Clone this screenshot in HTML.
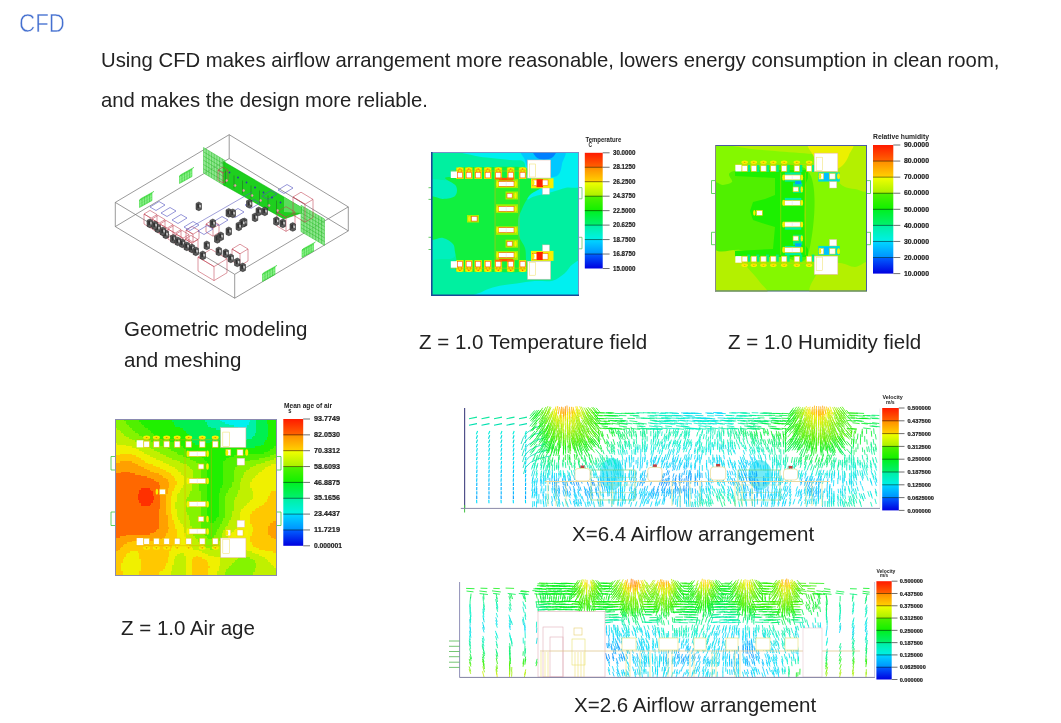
<!DOCTYPE html>
<html><head><meta charset="utf-8">
<style>
html,body{margin:0;padding:0;background:#fff;width:1061px;height:723px;overflow:hidden;position:relative}
.t{position:absolute;font-family:"Liberation Sans",Arial,sans-serif;font-size:20.5px;line-height:20px;color:#222;white-space:nowrap}
.p{font-size:20.3px}
#title{left:19px;top:10.8px;font-size:25px;line-height:25px;color:#4570d0;transform-origin:0 0;transform:scaleX(0.895);-webkit-text-stroke:0.5px #fff}
svg{position:absolute;left:0;top:0}
</style></head><body>
<svg width="1061" height="723" viewBox="0 0 1061 723" font-family="Liberation Sans, Arial, sans-serif">
<defs><linearGradient id="lg" x1="0" y1="0" x2="0" y2="1"><stop offset="0.0000" stop-color="#ff1a00"/><stop offset="0.1249" stop-color="#ff6400"/><stop offset="0.1250" stop-color="#ff8c00"/><stop offset="0.2499" stop-color="#ffd200"/><stop offset="0.2500" stop-color="#f4ff00"/><stop offset="0.3749" stop-color="#a8f000"/><stop offset="0.3750" stop-color="#50f000"/><stop offset="0.4999" stop-color="#10f000"/><stop offset="0.5000" stop-color="#00f020"/><stop offset="0.6249" stop-color="#00f070"/><stop offset="0.6250" stop-color="#00f0a0"/><stop offset="0.7499" stop-color="#00f0e8"/><stop offset="0.7500" stop-color="#00d8ff"/><stop offset="0.8749" stop-color="#0090ff"/><stop offset="0.8750" stop-color="#0060ff"/><stop offset="0.9999" stop-color="#0000e0"/></linearGradient><clipPath id="ctemp"><rect x="431" y="152" width="148" height="144"/></clipPath><clipPath id="chum"><rect x="715" y="145" width="152" height="146.5"/></clipPath><clipPath id="cage"><rect x="115" y="419" width="162" height="157"/></clipPath></defs>
<line x1="229.2" y1="134.7" x2="115.3" y2="202.4" stroke="#707070" stroke-width="0.7"/>
<line x1="115.3" y1="202.4" x2="234.7" y2="274.3" stroke="#707070" stroke-width="0.7"/>
<line x1="234.7" y1="274.3" x2="348.3" y2="206.9" stroke="#707070" stroke-width="0.7"/>
<line x1="348.3" y1="206.9" x2="229.2" y2="134.7" stroke="#707070" stroke-width="0.7"/>
<line x1="115.3" y1="202.4" x2="115.3" y2="226.6" stroke="#707070" stroke-width="0.7"/>
<line x1="234.7" y1="274.3" x2="234.7" y2="298.2" stroke="#707070" stroke-width="0.7"/>
<line x1="348.3" y1="206.9" x2="348.3" y2="230.9" stroke="#707070" stroke-width="0.7"/>
<line x1="229.2" y1="134.7" x2="229.2" y2="158.5" stroke="#707070" stroke-width="0.7"/>
<line x1="115.3" y1="226.6" x2="234.7" y2="298.2" stroke="#707070" stroke-width="0.7"/>
<line x1="234.7" y1="298.2" x2="348.3" y2="230.9" stroke="#707070" stroke-width="0.7"/>
<line x1="229.2" y1="158.5" x2="115.3" y2="226.6" stroke="#707070" stroke-width="0.7"/>
<line x1="229.2" y1="158.5" x2="348.3" y2="230.9" stroke="#707070" stroke-width="0.7"/>
<polygon points="139.5,200.0 152.0,193.1 152.0,200.6 139.5,207.5" fill="#40e840" stroke="#20d020" stroke-width="0.5" fill-opacity="0.7"/>
<polygon points="139.5,200.0 141.5,198.2 154.0,191.3 152.0,193.1" fill="#80f080" stroke="#20d020" stroke-width="0.4" fill-opacity="0.8"/>
<line x1="139.5" y1="202.6" x2="152.0" y2="195.8" stroke="#a0f0a0" stroke-width="0.5"/>
<line x1="139.5" y1="205.2" x2="152.0" y2="198.4" stroke="#a0f0a0" stroke-width="0.5"/>
<line x1="142.0" y1="198.6" x2="142.0" y2="206.1" stroke="#10b010" stroke-width="0.35"/>
<line x1="144.5" y1="197.2" x2="144.5" y2="204.8" stroke="#10b010" stroke-width="0.35"/>
<line x1="147.0" y1="195.9" x2="147.0" y2="203.4" stroke="#10b010" stroke-width="0.35"/>
<line x1="149.5" y1="194.5" x2="149.5" y2="202.0" stroke="#10b010" stroke-width="0.35"/>
<polygon points="179.5,176.0 192.0,169.1 192.0,176.6 179.5,183.5" fill="#40e840" stroke="#20d020" stroke-width="0.5" fill-opacity="0.7"/>
<polygon points="179.5,176.0 181.5,174.2 194.0,167.3 192.0,169.1" fill="#80f080" stroke="#20d020" stroke-width="0.4" fill-opacity="0.8"/>
<line x1="179.5" y1="178.6" x2="192.0" y2="171.8" stroke="#a0f0a0" stroke-width="0.5"/>
<line x1="179.5" y1="181.2" x2="192.0" y2="174.4" stroke="#a0f0a0" stroke-width="0.5"/>
<line x1="182.0" y1="174.6" x2="182.0" y2="182.1" stroke="#10b010" stroke-width="0.35"/>
<line x1="184.5" y1="173.2" x2="184.5" y2="180.8" stroke="#10b010" stroke-width="0.35"/>
<line x1="187.0" y1="171.9" x2="187.0" y2="179.4" stroke="#10b010" stroke-width="0.35"/>
<line x1="189.5" y1="170.5" x2="189.5" y2="178.0" stroke="#10b010" stroke-width="0.35"/>
<polygon points="302.0,250.0 313.5,243.7 313.5,251.2 302.0,257.5" fill="#40e840" stroke="#20d020" stroke-width="0.5" fill-opacity="0.7"/>
<polygon points="302.0,250.0 304.0,248.2 315.5,241.9 313.5,243.7" fill="#80f080" stroke="#20d020" stroke-width="0.4" fill-opacity="0.8"/>
<line x1="302.0" y1="252.6" x2="313.5" y2="246.3" stroke="#a0f0a0" stroke-width="0.5"/>
<line x1="302.0" y1="255.2" x2="313.5" y2="248.9" stroke="#a0f0a0" stroke-width="0.5"/>
<line x1="304.3" y1="248.7" x2="304.3" y2="256.2" stroke="#10b010" stroke-width="0.35"/>
<line x1="306.6" y1="247.5" x2="306.6" y2="255.0" stroke="#10b010" stroke-width="0.35"/>
<line x1="308.9" y1="246.2" x2="308.9" y2="253.7" stroke="#10b010" stroke-width="0.35"/>
<line x1="311.2" y1="244.9" x2="311.2" y2="252.4" stroke="#10b010" stroke-width="0.35"/>
<polygon points="262.5,274.0 275.0,267.1 275.0,274.6 262.5,281.5" fill="#40e840" stroke="#20d020" stroke-width="0.5" fill-opacity="0.7"/>
<polygon points="262.5,274.0 264.5,272.2 277.0,265.3 275.0,267.1" fill="#80f080" stroke="#20d020" stroke-width="0.4" fill-opacity="0.8"/>
<line x1="262.5" y1="276.6" x2="275.0" y2="269.8" stroke="#a0f0a0" stroke-width="0.5"/>
<line x1="262.5" y1="279.2" x2="275.0" y2="272.4" stroke="#a0f0a0" stroke-width="0.5"/>
<line x1="265.0" y1="272.6" x2="265.0" y2="280.1" stroke="#10b010" stroke-width="0.35"/>
<line x1="267.5" y1="271.2" x2="267.5" y2="278.8" stroke="#10b010" stroke-width="0.35"/>
<line x1="270.0" y1="269.9" x2="270.0" y2="277.4" stroke="#10b010" stroke-width="0.35"/>
<line x1="272.5" y1="268.5" x2="272.5" y2="276.0" stroke="#10b010" stroke-width="0.35"/>
<polygon points="203.5,147.5 225.0,160.5 225.0,186.0 203.5,173.0" fill="#70e070" stroke="#30c030" stroke-width="0.5" fill-opacity="0.75"/>
<line x1="206.2" y1="149.1" x2="206.2" y2="174.6" stroke="#10b010" stroke-width="0.4"/>
<line x1="208.9" y1="150.7" x2="208.9" y2="176.2" stroke="#10b010" stroke-width="0.4"/>
<line x1="211.6" y1="152.3" x2="211.6" y2="177.8" stroke="#10b010" stroke-width="0.4"/>
<line x1="214.2" y1="153.9" x2="214.2" y2="179.4" stroke="#10b010" stroke-width="0.4"/>
<line x1="216.9" y1="155.6" x2="216.9" y2="181.1" stroke="#10b010" stroke-width="0.4"/>
<line x1="219.6" y1="157.2" x2="219.6" y2="182.7" stroke="#10b010" stroke-width="0.4"/>
<line x1="222.3" y1="158.8" x2="222.3" y2="184.3" stroke="#10b010" stroke-width="0.4"/>
<line x1="203.5" y1="151.8" x2="225.0" y2="164.8" stroke="#10b010" stroke-width="0.4"/>
<line x1="203.5" y1="156.0" x2="225.0" y2="169.0" stroke="#10b010" stroke-width="0.4"/>
<line x1="203.5" y1="160.2" x2="225.0" y2="173.2" stroke="#10b010" stroke-width="0.4"/>
<line x1="203.5" y1="164.5" x2="225.0" y2="177.5" stroke="#10b010" stroke-width="0.4"/>
<line x1="203.5" y1="168.8" x2="225.0" y2="181.8" stroke="#10b010" stroke-width="0.4"/>
<polygon points="301.0,205.3 324.5,219.0 324.5,245.4 301.0,231.6" fill="#70e070" stroke="#30c030" stroke-width="0.5" fill-opacity="0.8"/>
<line x1="303.9" y1="207.0" x2="303.9" y2="233.3" stroke="#10b010" stroke-width="0.4"/>
<line x1="306.9" y1="208.7" x2="306.9" y2="235.0" stroke="#10b010" stroke-width="0.4"/>
<line x1="309.8" y1="210.4" x2="309.8" y2="236.7" stroke="#10b010" stroke-width="0.4"/>
<line x1="312.8" y1="212.2" x2="312.8" y2="238.5" stroke="#10b010" stroke-width="0.4"/>
<line x1="315.7" y1="213.9" x2="315.7" y2="240.2" stroke="#10b010" stroke-width="0.4"/>
<line x1="318.6" y1="215.6" x2="318.6" y2="241.9" stroke="#10b010" stroke-width="0.4"/>
<line x1="321.6" y1="217.3" x2="321.6" y2="243.6" stroke="#10b010" stroke-width="0.4"/>
<line x1="301.0" y1="209.1" x2="324.5" y2="222.8" stroke="#10b010" stroke-width="0.4"/>
<line x1="301.0" y1="212.8" x2="324.5" y2="226.5" stroke="#10b010" stroke-width="0.4"/>
<line x1="301.0" y1="216.6" x2="324.5" y2="230.3" stroke="#10b010" stroke-width="0.4"/>
<line x1="301.0" y1="220.3" x2="324.5" y2="234.0" stroke="#10b010" stroke-width="0.4"/>
<line x1="301.0" y1="224.1" x2="324.5" y2="237.8" stroke="#10b010" stroke-width="0.4"/>
<line x1="301.0" y1="227.8" x2="324.5" y2="241.5" stroke="#10b010" stroke-width="0.4"/>
<polygon points="223.5,161.5 284.0,197.0 301.5,207.5 301.5,213.0 284.0,219.0 223.5,185.0" fill="#12cc12" stroke="#00b000" stroke-width="0.5" fill-opacity="0.95"/>
<polygon points="284.0,197.0 301.5,207.5 301.5,213.0 284.0,212.0" fill="#60dd60" stroke="none" stroke-width="0.5" fill-opacity="0.9"/>
<polygon points="144.0,214.0 151.0,218.2 151.0,228.2 144.0,224.0" fill="none" stroke="#c04050" stroke-width="0.55" fill-opacity="1"/>
<polygon points="144.0,214.0 150.0,210.4 157.0,214.6 151.0,218.2" fill="none" stroke="#c04050" stroke-width="0.55" fill-opacity="1"/>
<line x1="157.0" y1="214.6" x2="157.0" y2="224.6" stroke="#c04050" stroke-width="0.55"/>
<line x1="157.0" y1="224.6" x2="151.0" y2="228.2" stroke="#c04050" stroke-width="0.55"/>
<polygon points="152.0,219.0 159.0,223.2 159.0,233.2 152.0,229.0" fill="none" stroke="#c04050" stroke-width="0.55" fill-opacity="1"/>
<polygon points="152.0,219.0 158.0,215.4 165.0,219.6 159.0,223.2" fill="none" stroke="#c04050" stroke-width="0.55" fill-opacity="1"/>
<line x1="165.0" y1="219.6" x2="165.0" y2="229.6" stroke="#c04050" stroke-width="0.55"/>
<line x1="165.0" y1="229.6" x2="159.0" y2="233.2" stroke="#c04050" stroke-width="0.55"/>
<polygon points="160.0,224.0 167.0,228.2 167.0,238.2 160.0,234.0" fill="none" stroke="#c04050" stroke-width="0.55" fill-opacity="1"/>
<polygon points="160.0,224.0 166.0,220.4 173.0,224.6 167.0,228.2" fill="none" stroke="#c04050" stroke-width="0.55" fill-opacity="1"/>
<line x1="173.0" y1="224.6" x2="173.0" y2="234.6" stroke="#c04050" stroke-width="0.55"/>
<line x1="173.0" y1="234.6" x2="167.0" y2="238.2" stroke="#c04050" stroke-width="0.55"/>
<polygon points="168.0,229.0 175.0,233.2 175.0,243.2 168.0,239.0" fill="none" stroke="#c04050" stroke-width="0.55" fill-opacity="1"/>
<polygon points="168.0,229.0 174.0,225.4 181.0,229.6 175.0,233.2" fill="none" stroke="#c04050" stroke-width="0.55" fill-opacity="1"/>
<line x1="181.0" y1="229.6" x2="181.0" y2="239.6" stroke="#c04050" stroke-width="0.55"/>
<line x1="181.0" y1="239.6" x2="175.0" y2="243.2" stroke="#c04050" stroke-width="0.55"/>
<polygon points="176.0,234.0 183.0,238.2 183.0,247.2 176.0,243.0" fill="none" stroke="#c04050" stroke-width="0.55" fill-opacity="1"/>
<polygon points="176.0,234.0 182.0,230.4 189.0,234.6 183.0,238.2" fill="none" stroke="#c04050" stroke-width="0.55" fill-opacity="1"/>
<line x1="189.0" y1="234.6" x2="189.0" y2="243.6" stroke="#c04050" stroke-width="0.55"/>
<line x1="189.0" y1="243.6" x2="183.0" y2="247.2" stroke="#c04050" stroke-width="0.55"/>
<polygon points="185.0,239.0 192.0,243.2 192.0,252.2 185.0,248.0" fill="none" stroke="#c04050" stroke-width="0.55" fill-opacity="1"/>
<polygon points="185.0,239.0 191.0,235.4 198.0,239.6 192.0,243.2" fill="none" stroke="#c04050" stroke-width="0.55" fill-opacity="1"/>
<line x1="198.0" y1="239.6" x2="198.0" y2="248.6" stroke="#c04050" stroke-width="0.55"/>
<line x1="198.0" y1="248.6" x2="192.0" y2="252.2" stroke="#c04050" stroke-width="0.55"/>
<polygon points="218.0,170.0 223.0,173.0 223.0,183.0 218.0,180.0" fill="none" stroke="#c04050" stroke-width="0.55" fill-opacity="1"/>
<polygon points="218.0,170.0 223.0,167.0 228.0,170.0 223.0,173.0" fill="none" stroke="#c04050" stroke-width="0.55" fill-opacity="1"/>
<line x1="228.0" y1="170.0" x2="228.0" y2="180.0" stroke="#c04050" stroke-width="0.55"/>
<line x1="228.0" y1="180.0" x2="223.0" y2="183.0" stroke="#c04050" stroke-width="0.55"/>
<polygon points="198.0,257.0 214.0,266.6 214.0,280.6 198.0,271.0" fill="none" stroke="#c04050" stroke-width="0.55" fill-opacity="1"/>
<polygon points="198.0,257.0 211.0,249.2 227.0,258.8 214.0,266.6" fill="none" stroke="#c04050" stroke-width="0.55" fill-opacity="1"/>
<line x1="227.0" y1="258.8" x2="227.0" y2="272.8" stroke="#c04050" stroke-width="0.55"/>
<line x1="227.0" y1="272.8" x2="214.0" y2="280.6" stroke="#c04050" stroke-width="0.55"/>
<polygon points="232.0,249.0 240.0,253.8 240.0,265.8 232.0,261.0" fill="none" stroke="#c04050" stroke-width="0.55" fill-opacity="1"/>
<polygon points="232.0,249.0 240.0,244.2 248.0,249.0 240.0,253.8" fill="none" stroke="#c04050" stroke-width="0.55" fill-opacity="1"/>
<line x1="248.0" y1="249.0" x2="248.0" y2="261.0" stroke="#c04050" stroke-width="0.55"/>
<line x1="248.0" y1="261.0" x2="240.0" y2="265.8" stroke="#c04050" stroke-width="0.55"/>
<polygon points="277.0,212.0 286.0,217.4 286.0,231.4 277.0,226.0" fill="none" stroke="#c04050" stroke-width="0.55" fill-opacity="1"/>
<polygon points="277.0,212.0 286.0,206.6 295.0,212.0 286.0,217.4" fill="none" stroke="#c04050" stroke-width="0.55" fill-opacity="1"/>
<line x1="295.0" y1="212.0" x2="295.0" y2="226.0" stroke="#c04050" stroke-width="0.55"/>
<line x1="295.0" y1="226.0" x2="286.0" y2="231.4" stroke="#c04050" stroke-width="0.55"/>
<polygon points="293.0,197.0 305.0,204.2 305.0,222.2 293.0,215.0" fill="none" stroke="#c04050" stroke-width="0.55" fill-opacity="1"/>
<polygon points="293.0,197.0 301.0,192.2 313.0,199.4 305.0,204.2" fill="none" stroke="#c04050" stroke-width="0.55" fill-opacity="1"/>
<line x1="313.0" y1="199.4" x2="313.0" y2="217.4" stroke="#c04050" stroke-width="0.55"/>
<line x1="313.0" y1="217.4" x2="305.0" y2="222.2" stroke="#c04050" stroke-width="0.55"/>
<polygon points="206.0,224.0 213.0,228.2 213.0,236.2 206.0,232.0" fill="none" stroke="#c04050" stroke-width="0.55" fill-opacity="1"/>
<polygon points="206.0,224.0 212.0,220.4 219.0,224.6 213.0,228.2" fill="none" stroke="#c04050" stroke-width="0.55" fill-opacity="1"/>
<line x1="219.0" y1="224.6" x2="219.0" y2="232.6" stroke="#c04050" stroke-width="0.55"/>
<line x1="219.0" y1="232.6" x2="213.0" y2="236.2" stroke="#c04050" stroke-width="0.55"/>
<polygon points="186.0,230.0 193.0,234.2 193.0,242.2 186.0,238.0" fill="none" stroke="#c04050" stroke-width="0.55" fill-opacity="1"/>
<polygon points="186.0,230.0 192.0,226.4 199.0,230.6 193.0,234.2" fill="none" stroke="#c04050" stroke-width="0.55" fill-opacity="1"/>
<line x1="199.0" y1="230.6" x2="199.0" y2="238.6" stroke="#c04050" stroke-width="0.55"/>
<line x1="199.0" y1="238.6" x2="193.0" y2="242.2" stroke="#c04050" stroke-width="0.55"/>
<polygon points="150.0,207.0 159.0,201.5 165.0,205.0 156.0,210.5" fill="none" stroke="#5050c0" stroke-width="0.6" fill-opacity="1"/>
<polygon points="161.0,213.0 170.0,207.5 176.0,211.0 167.0,216.5" fill="none" stroke="#5050c0" stroke-width="0.6" fill-opacity="1"/>
<polygon points="172.0,220.0 181.0,214.5 187.0,218.0 178.0,223.5" fill="none" stroke="#5050c0" stroke-width="0.6" fill-opacity="1"/>
<polygon points="184.0,227.0 193.0,221.5 199.0,225.0 190.0,230.5" fill="none" stroke="#5050c0" stroke-width="0.6" fill-opacity="1"/>
<polygon points="198.0,231.0 207.0,225.5 213.0,229.0 204.0,234.5" fill="none" stroke="#5050c0" stroke-width="0.6" fill-opacity="1"/>
<polygon points="213.0,222.0 222.0,216.5 228.0,220.0 219.0,225.5" fill="none" stroke="#5050c0" stroke-width="0.6" fill-opacity="1"/>
<polygon points="229.0,214.0 238.0,208.5 244.0,212.0 235.0,217.5" fill="none" stroke="#5050c0" stroke-width="0.6" fill-opacity="1"/>
<polygon points="245.0,205.0 254.0,199.5 260.0,203.0 251.0,208.5" fill="none" stroke="#5050c0" stroke-width="0.6" fill-opacity="1"/>
<polygon points="262.0,196.0 271.0,190.5 277.0,194.0 268.0,199.5" fill="none" stroke="#5050c0" stroke-width="0.6" fill-opacity="1"/>
<polygon points="278.0,190.0 287.0,184.5 293.0,188.0 284.0,193.5" fill="none" stroke="#5050c0" stroke-width="0.6" fill-opacity="1"/>
<line x1="186.0" y1="230.0" x2="252.0" y2="192.0" stroke="#6060c0" stroke-width="0.6"/>
<polygon points="147.0,220.4 149.8,219.0 152.5,220.4 152.5,226.4 149.8,227.7 147.0,226.4" fill="#5a5a5a" stroke="#1a1a1a" stroke-width="0.5" fill-opacity="1"/>
<polygon points="148.1,221.3 149.8,220.5 150.1,224.5 148.5,225.4" fill="#303030" stroke="none" stroke-width="0.5" fill-opacity="1"/>
<polygon points="150.3,221.8 151.8,222.2 151.8,224.5 150.5,224.2" fill="#d8d8d8" stroke="none" stroke-width="0.5" fill-opacity="1"/>
<polygon points="155.0,225.4 157.8,224.0 160.5,225.4 160.5,231.4 157.8,232.7 155.0,231.4" fill="#5a5a5a" stroke="#1a1a1a" stroke-width="0.5" fill-opacity="1"/>
<polygon points="156.1,226.3 157.8,225.5 158.1,229.5 156.5,230.4" fill="#303030" stroke="none" stroke-width="0.5" fill-opacity="1"/>
<polygon points="158.3,226.8 159.8,227.2 159.8,229.5 158.5,229.2" fill="#d8d8d8" stroke="none" stroke-width="0.5" fill-opacity="1"/>
<polygon points="163.0,231.4 165.8,230.0 168.5,231.4 168.5,237.4 165.8,238.7 163.0,237.4" fill="#5a5a5a" stroke="#1a1a1a" stroke-width="0.5" fill-opacity="1"/>
<polygon points="164.1,232.3 165.8,231.5 166.1,235.5 164.5,236.4" fill="#303030" stroke="none" stroke-width="0.5" fill-opacity="1"/>
<polygon points="166.3,232.8 167.8,233.2 167.8,235.5 166.5,235.2" fill="#d8d8d8" stroke="none" stroke-width="0.5" fill-opacity="1"/>
<polygon points="170.5,235.9 173.3,234.5 176.0,235.9 176.0,241.9 173.3,243.2 170.5,241.9" fill="#5a5a5a" stroke="#1a1a1a" stroke-width="0.5" fill-opacity="1"/>
<polygon points="171.6,236.8 173.3,236.0 173.6,240.0 172.0,240.9" fill="#303030" stroke="none" stroke-width="0.5" fill-opacity="1"/>
<polygon points="173.8,237.3 175.3,237.7 175.3,240.0 174.0,239.7" fill="#d8d8d8" stroke="none" stroke-width="0.5" fill-opacity="1"/>
<polygon points="179.5,240.4 182.3,239.0 185.0,240.4 185.0,246.4 182.3,247.7 179.5,246.4" fill="#5a5a5a" stroke="#1a1a1a" stroke-width="0.5" fill-opacity="1"/>
<polygon points="180.6,241.3 182.3,240.5 182.6,244.5 181.0,245.4" fill="#303030" stroke="none" stroke-width="0.5" fill-opacity="1"/>
<polygon points="182.8,241.8 184.3,242.2 184.3,244.5 183.0,244.2" fill="#d8d8d8" stroke="none" stroke-width="0.5" fill-opacity="1"/>
<polygon points="189.0,245.4 191.8,244.0 194.5,245.4 194.5,251.4 191.8,252.7 189.0,251.4" fill="#5a5a5a" stroke="#1a1a1a" stroke-width="0.5" fill-opacity="1"/>
<polygon points="190.1,246.3 191.8,245.5 192.1,249.5 190.5,250.4" fill="#303030" stroke="none" stroke-width="0.5" fill-opacity="1"/>
<polygon points="192.3,246.8 193.8,247.2 193.8,249.5 192.5,249.2" fill="#d8d8d8" stroke="none" stroke-width="0.5" fill-opacity="1"/>
<polygon points="200.0,252.4 202.8,251.0 205.5,252.4 205.5,258.4 202.8,259.7 200.0,258.4" fill="#5a5a5a" stroke="#1a1a1a" stroke-width="0.5" fill-opacity="1"/>
<polygon points="201.1,253.3 202.8,252.5 203.1,256.5 201.5,257.4" fill="#303030" stroke="none" stroke-width="0.5" fill-opacity="1"/>
<polygon points="203.3,253.8 204.8,254.2 204.8,256.5 203.5,256.2" fill="#d8d8d8" stroke="none" stroke-width="0.5" fill-opacity="1"/>
<polygon points="196.0,203.4 198.8,202.0 201.5,203.4 201.5,209.4 198.8,210.7 196.0,209.4" fill="#5a5a5a" stroke="#1a1a1a" stroke-width="0.5" fill-opacity="1"/>
<polygon points="197.1,204.3 198.8,203.5 199.1,207.5 197.5,208.4" fill="#303030" stroke="none" stroke-width="0.5" fill-opacity="1"/>
<polygon points="199.3,204.8 200.8,205.2 200.8,207.5 199.5,207.2" fill="#d8d8d8" stroke="none" stroke-width="0.5" fill-opacity="1"/>
<polygon points="210.0,220.4 212.8,219.0 215.5,220.4 215.5,226.4 212.8,227.7 210.0,226.4" fill="#5a5a5a" stroke="#1a1a1a" stroke-width="0.5" fill-opacity="1"/>
<polygon points="211.1,221.3 212.8,220.5 213.1,224.5 211.5,225.4" fill="#303030" stroke="none" stroke-width="0.5" fill-opacity="1"/>
<polygon points="213.3,221.8 214.8,222.2 214.8,224.5 213.5,224.2" fill="#d8d8d8" stroke="none" stroke-width="0.5" fill-opacity="1"/>
<polygon points="226.0,209.9 228.8,208.5 231.5,209.9 231.5,215.9 228.8,217.2 226.0,215.9" fill="#5a5a5a" stroke="#1a1a1a" stroke-width="0.5" fill-opacity="1"/>
<polygon points="227.1,210.8 228.8,210.0 229.1,214.0 227.5,214.9" fill="#303030" stroke="none" stroke-width="0.5" fill-opacity="1"/>
<polygon points="229.3,211.3 230.8,211.7 230.8,214.0 229.5,213.7" fill="#d8d8d8" stroke="none" stroke-width="0.5" fill-opacity="1"/>
<polygon points="241.5,219.4 244.3,218.0 247.0,219.4 247.0,225.4 244.3,226.7 241.5,225.4" fill="#5a5a5a" stroke="#1a1a1a" stroke-width="0.5" fill-opacity="1"/>
<polygon points="242.6,220.3 244.3,219.5 244.6,223.5 243.0,224.4" fill="#303030" stroke="none" stroke-width="0.5" fill-opacity="1"/>
<polygon points="244.8,220.8 246.3,221.2 246.3,223.5 245.0,223.2" fill="#d8d8d8" stroke="none" stroke-width="0.5" fill-opacity="1"/>
<polygon points="204.0,242.4 206.8,241.0 209.5,242.4 209.5,248.4 206.8,249.7 204.0,248.4" fill="#5a5a5a" stroke="#1a1a1a" stroke-width="0.5" fill-opacity="1"/>
<polygon points="205.1,243.3 206.8,242.5 207.1,246.5 205.5,247.4" fill="#303030" stroke="none" stroke-width="0.5" fill-opacity="1"/>
<polygon points="207.3,243.8 208.8,244.2 208.8,246.5 207.5,246.2" fill="#d8d8d8" stroke="none" stroke-width="0.5" fill-opacity="1"/>
<polygon points="214.5,235.9 217.3,234.5 220.0,235.9 220.0,241.9 217.3,243.2 214.5,241.9" fill="#5a5a5a" stroke="#1a1a1a" stroke-width="0.5" fill-opacity="1"/>
<polygon points="215.6,236.8 217.3,236.0 217.6,240.0 216.0,240.9" fill="#303030" stroke="none" stroke-width="0.5" fill-opacity="1"/>
<polygon points="217.8,237.3 219.3,237.7 219.3,240.0 218.0,239.7" fill="#d8d8d8" stroke="none" stroke-width="0.5" fill-opacity="1"/>
<polygon points="226.0,228.4 228.8,227.0 231.5,228.4 231.5,234.4 228.8,235.7 226.0,234.4" fill="#5a5a5a" stroke="#1a1a1a" stroke-width="0.5" fill-opacity="1"/>
<polygon points="227.1,229.3 228.8,228.5 229.1,232.5 227.5,233.4" fill="#303030" stroke="none" stroke-width="0.5" fill-opacity="1"/>
<polygon points="229.3,229.8 230.8,230.2 230.8,232.5 229.5,232.2" fill="#d8d8d8" stroke="none" stroke-width="0.5" fill-opacity="1"/>
<polygon points="223.0,250.4 225.8,249.0 228.5,250.4 228.5,256.4 225.8,257.7 223.0,256.4" fill="#5a5a5a" stroke="#1a1a1a" stroke-width="0.5" fill-opacity="1"/>
<polygon points="224.1,251.3 225.8,250.5 226.1,254.5 224.5,255.4" fill="#303030" stroke="none" stroke-width="0.5" fill-opacity="1"/>
<polygon points="226.3,251.8 227.8,252.2 227.8,254.5 226.5,254.2" fill="#d8d8d8" stroke="none" stroke-width="0.5" fill-opacity="1"/>
<polygon points="234.5,259.4 237.3,258.0 240.0,259.4 240.0,265.4 237.3,266.7 234.5,265.4" fill="#5a5a5a" stroke="#1a1a1a" stroke-width="0.5" fill-opacity="1"/>
<polygon points="235.6,260.3 237.3,259.5 237.6,263.5 236.0,264.4" fill="#303030" stroke="none" stroke-width="0.5" fill-opacity="1"/>
<polygon points="237.8,260.8 239.3,261.2 239.3,263.5 238.0,263.2" fill="#d8d8d8" stroke="none" stroke-width="0.5" fill-opacity="1"/>
<polygon points="230.0,210.4 232.8,209.0 235.5,210.4 235.5,216.4 232.8,217.7 230.0,216.4" fill="#5a5a5a" stroke="#1a1a1a" stroke-width="0.5" fill-opacity="1"/>
<polygon points="231.1,211.3 232.8,210.5 233.1,214.5 231.5,215.4" fill="#303030" stroke="none" stroke-width="0.5" fill-opacity="1"/>
<polygon points="233.3,211.8 234.8,212.2 234.8,214.5 233.5,214.2" fill="#d8d8d8" stroke="none" stroke-width="0.5" fill-opacity="1"/>
<polygon points="239.7,220.1 242.5,218.7 245.2,220.1 245.2,226.1 242.5,227.4 239.7,226.1" fill="#5a5a5a" stroke="#1a1a1a" stroke-width="0.5" fill-opacity="1"/>
<polygon points="240.8,221.0 242.5,220.2 242.8,224.2 241.2,225.1" fill="#303030" stroke="none" stroke-width="0.5" fill-opacity="1"/>
<polygon points="243.0,221.5 244.5,221.9 244.5,224.2 243.2,223.9" fill="#d8d8d8" stroke="none" stroke-width="0.5" fill-opacity="1"/>
<polygon points="246.5,200.8 249.3,199.4 252.0,200.8 252.0,206.8 249.3,208.1 246.5,206.8" fill="#5a5a5a" stroke="#1a1a1a" stroke-width="0.5" fill-opacity="1"/>
<polygon points="247.6,201.7 249.3,200.9 249.6,204.9 248.0,205.8" fill="#303030" stroke="none" stroke-width="0.5" fill-opacity="1"/>
<polygon points="249.8,202.2 251.3,202.6 251.3,204.9 250.0,204.6" fill="#d8d8d8" stroke="none" stroke-width="0.5" fill-opacity="1"/>
<polygon points="252.3,214.4 255.1,213.0 257.8,214.4 257.8,220.4 255.1,221.7 252.3,220.4" fill="#5a5a5a" stroke="#1a1a1a" stroke-width="0.5" fill-opacity="1"/>
<polygon points="253.4,215.3 255.1,214.5 255.4,218.5 253.8,219.4" fill="#303030" stroke="none" stroke-width="0.5" fill-opacity="1"/>
<polygon points="255.6,215.8 257.1,216.2 257.1,218.5 255.8,218.2" fill="#d8d8d8" stroke="none" stroke-width="0.5" fill-opacity="1"/>
<polygon points="262.0,208.4 264.8,207.0 267.5,208.4 267.5,214.4 264.8,215.7 262.0,214.4" fill="#5a5a5a" stroke="#1a1a1a" stroke-width="0.5" fill-opacity="1"/>
<polygon points="263.1,209.3 264.8,208.5 265.1,212.5 263.5,213.4" fill="#303030" stroke="none" stroke-width="0.5" fill-opacity="1"/>
<polygon points="265.3,209.8 266.8,210.2 266.8,212.5 265.5,212.2" fill="#d8d8d8" stroke="none" stroke-width="0.5" fill-opacity="1"/>
<polygon points="273.6,218.2 276.4,216.8 279.1,218.2 279.1,224.2 276.4,225.5 273.6,224.2" fill="#5a5a5a" stroke="#1a1a1a" stroke-width="0.5" fill-opacity="1"/>
<polygon points="274.7,219.1 276.4,218.3 276.7,222.3 275.1,223.2" fill="#303030" stroke="none" stroke-width="0.5" fill-opacity="1"/>
<polygon points="276.9,219.6 278.4,220.0 278.4,222.3 277.1,222.0" fill="#d8d8d8" stroke="none" stroke-width="0.5" fill-opacity="1"/>
<polygon points="290.0,224.0 292.8,222.6 295.5,224.0 295.5,230.0 292.8,231.3 290.0,230.0" fill="#5a5a5a" stroke="#1a1a1a" stroke-width="0.5" fill-opacity="1"/>
<polygon points="291.1,224.9 292.8,224.1 293.1,228.1 291.5,229.0" fill="#303030" stroke="none" stroke-width="0.5" fill-opacity="1"/>
<polygon points="293.3,225.4 294.8,225.8 294.8,228.1 293.5,227.8" fill="#d8d8d8" stroke="none" stroke-width="0.5" fill-opacity="1"/>
<polygon points="193.0,248.4 195.8,247.0 198.5,248.4 198.5,254.4 195.8,255.7 193.0,254.4" fill="#5a5a5a" stroke="#1a1a1a" stroke-width="0.5" fill-opacity="1"/>
<polygon points="194.1,249.3 195.8,248.5 196.1,252.5 194.5,253.4" fill="#303030" stroke="none" stroke-width="0.5" fill-opacity="1"/>
<polygon points="196.3,249.8 197.8,250.2 197.8,252.5 196.5,252.2" fill="#d8d8d8" stroke="none" stroke-width="0.5" fill-opacity="1"/>
<polygon points="218.0,233.4 220.8,232.0 223.5,233.4 223.5,239.4 220.8,240.7 218.0,239.4" fill="#5a5a5a" stroke="#1a1a1a" stroke-width="0.5" fill-opacity="1"/>
<polygon points="219.1,234.3 220.8,233.5 221.1,237.5 219.5,238.4" fill="#303030" stroke="none" stroke-width="0.5" fill-opacity="1"/>
<polygon points="221.3,234.8 222.8,235.2 222.8,237.5 221.5,237.2" fill="#d8d8d8" stroke="none" stroke-width="0.5" fill-opacity="1"/>
<polygon points="236.0,223.4 238.8,222.0 241.5,223.4 241.5,229.4 238.8,230.7 236.0,229.4" fill="#5a5a5a" stroke="#1a1a1a" stroke-width="0.5" fill-opacity="1"/>
<polygon points="237.1,224.3 238.8,223.5 239.1,227.5 237.5,228.4" fill="#303030" stroke="none" stroke-width="0.5" fill-opacity="1"/>
<polygon points="239.3,224.8 240.8,225.2 240.8,227.5 239.5,227.2" fill="#d8d8d8" stroke="none" stroke-width="0.5" fill-opacity="1"/>
<polygon points="256.0,208.4 258.8,207.0 261.5,208.4 261.5,214.4 258.8,215.7 256.0,214.4" fill="#5a5a5a" stroke="#1a1a1a" stroke-width="0.5" fill-opacity="1"/>
<polygon points="257.1,209.3 258.8,208.5 259.1,212.5 257.5,213.4" fill="#303030" stroke="none" stroke-width="0.5" fill-opacity="1"/>
<polygon points="259.3,209.8 260.8,210.2 260.8,212.5 259.5,212.2" fill="#d8d8d8" stroke="none" stroke-width="0.5" fill-opacity="1"/>
<polygon points="280.0,220.4 282.8,219.0 285.5,220.4 285.5,226.4 282.8,227.7 280.0,226.4" fill="#5a5a5a" stroke="#1a1a1a" stroke-width="0.5" fill-opacity="1"/>
<polygon points="281.1,221.3 282.8,220.5 283.1,224.5 281.5,225.4" fill="#303030" stroke="none" stroke-width="0.5" fill-opacity="1"/>
<polygon points="283.3,221.8 284.8,222.2 284.8,224.5 283.5,224.2" fill="#d8d8d8" stroke="none" stroke-width="0.5" fill-opacity="1"/>
<polygon points="216.0,248.4 218.8,247.0 221.5,248.4 221.5,254.4 218.8,255.7 216.0,254.4" fill="#5a5a5a" stroke="#1a1a1a" stroke-width="0.5" fill-opacity="1"/>
<polygon points="217.1,249.3 218.8,248.5 219.1,252.5 217.5,253.4" fill="#303030" stroke="none" stroke-width="0.5" fill-opacity="1"/>
<polygon points="219.3,249.8 220.8,250.2 220.8,252.5 219.5,252.2" fill="#d8d8d8" stroke="none" stroke-width="0.5" fill-opacity="1"/>
<polygon points="228.0,255.4 230.8,254.0 233.5,255.4 233.5,261.4 230.8,262.7 228.0,261.4" fill="#5a5a5a" stroke="#1a1a1a" stroke-width="0.5" fill-opacity="1"/>
<polygon points="229.1,256.3 230.8,255.5 231.1,259.5 229.5,260.4" fill="#303030" stroke="none" stroke-width="0.5" fill-opacity="1"/>
<polygon points="231.3,256.8 232.8,257.2 232.8,259.5 231.5,259.2" fill="#d8d8d8" stroke="none" stroke-width="0.5" fill-opacity="1"/>
<polygon points="240.0,264.4 242.8,263.0 245.5,264.4 245.5,270.4 242.8,271.7 240.0,270.4" fill="#5a5a5a" stroke="#1a1a1a" stroke-width="0.5" fill-opacity="1"/>
<polygon points="241.1,265.3 242.8,264.5 243.1,268.5 241.5,269.4" fill="#303030" stroke="none" stroke-width="0.5" fill-opacity="1"/>
<polygon points="243.3,265.8 244.8,266.2 244.8,268.5 243.5,268.2" fill="#d8d8d8" stroke="none" stroke-width="0.5" fill-opacity="1"/>
<polygon points="152.0,222.4 154.8,221.0 157.5,222.4 157.5,228.4 154.8,229.7 152.0,228.4" fill="#5a5a5a" stroke="#1a1a1a" stroke-width="0.5" fill-opacity="1"/>
<polygon points="153.1,223.3 154.8,222.5 155.1,226.5 153.5,227.4" fill="#303030" stroke="none" stroke-width="0.5" fill-opacity="1"/>
<polygon points="155.3,223.8 156.8,224.2 156.8,226.5 155.5,226.2" fill="#d8d8d8" stroke="none" stroke-width="0.5" fill-opacity="1"/>
<polygon points="160.0,228.4 162.8,227.0 165.5,228.4 165.5,234.4 162.8,235.7 160.0,234.4" fill="#5a5a5a" stroke="#1a1a1a" stroke-width="0.5" fill-opacity="1"/>
<polygon points="161.1,229.3 162.8,228.5 163.1,232.5 161.5,233.4" fill="#303030" stroke="none" stroke-width="0.5" fill-opacity="1"/>
<polygon points="163.3,229.8 164.8,230.2 164.8,232.5 163.5,232.2" fill="#d8d8d8" stroke="none" stroke-width="0.5" fill-opacity="1"/>
<polygon points="175.0,238.4 177.8,237.0 180.5,238.4 180.5,244.4 177.8,245.7 175.0,244.4" fill="#5a5a5a" stroke="#1a1a1a" stroke-width="0.5" fill-opacity="1"/>
<polygon points="176.1,239.3 177.8,238.5 178.1,242.5 176.5,243.4" fill="#303030" stroke="none" stroke-width="0.5" fill-opacity="1"/>
<polygon points="178.3,239.8 179.8,240.2 179.8,242.5 178.5,242.2" fill="#d8d8d8" stroke="none" stroke-width="0.5" fill-opacity="1"/>
<polygon points="184.0,243.4 186.8,242.0 189.5,243.4 189.5,249.4 186.8,250.7 184.0,249.4" fill="#5a5a5a" stroke="#1a1a1a" stroke-width="0.5" fill-opacity="1"/>
<polygon points="185.1,244.3 186.8,243.5 187.1,247.5 185.5,248.4" fill="#303030" stroke="none" stroke-width="0.5" fill-opacity="1"/>
<polygon points="187.3,244.8 188.8,245.2 188.8,247.5 187.5,247.2" fill="#d8d8d8" stroke="none" stroke-width="0.5" fill-opacity="1"/>
<circle cx="226.5" cy="180.5" r="1.3" fill="#f0a0b0"/>
<circle cx="229.5" cy="172.5" r="0.9" fill="#3030b0"/>
<line x1="225.5" y1="170.5" x2="225.5" y2="183.5" stroke="#206020" stroke-width="0.5"/>
<circle cx="235.0" cy="185.5" r="1.3" fill="#f0a0b0"/>
<circle cx="238.0" cy="177.5" r="0.9" fill="#3030b0"/>
<line x1="234.0" y1="175.5" x2="234.0" y2="188.5" stroke="#206020" stroke-width="0.5"/>
<circle cx="243.5" cy="190.5" r="1.3" fill="#f0a0b0"/>
<circle cx="246.5" cy="182.5" r="0.9" fill="#3030b0"/>
<line x1="242.5" y1="180.5" x2="242.5" y2="193.5" stroke="#206020" stroke-width="0.5"/>
<circle cx="252.0" cy="195.5" r="1.3" fill="#f0a0b0"/>
<circle cx="255.0" cy="187.5" r="0.9" fill="#3030b0"/>
<line x1="251.0" y1="185.5" x2="251.0" y2="198.5" stroke="#206020" stroke-width="0.5"/>
<circle cx="260.5" cy="200.5" r="1.3" fill="#f0a0b0"/>
<circle cx="263.5" cy="192.5" r="0.9" fill="#3030b0"/>
<line x1="259.5" y1="190.5" x2="259.5" y2="203.5" stroke="#206020" stroke-width="0.5"/>
<circle cx="269.0" cy="205.5" r="1.3" fill="#f0a0b0"/>
<circle cx="272.0" cy="197.5" r="0.9" fill="#3030b0"/>
<line x1="268.0" y1="195.5" x2="268.0" y2="208.5" stroke="#206020" stroke-width="0.5"/>
<circle cx="277.5" cy="210.5" r="1.3" fill="#f0a0b0"/>
<circle cx="280.5" cy="202.5" r="0.9" fill="#3030b0"/>
<line x1="276.5" y1="200.5" x2="276.5" y2="213.5" stroke="#206020" stroke-width="0.5"/>
<g clip-path="url(#ctemp)">
<rect x="431" y="152" width="148" height="144" fill="#00f0a0"/>
<path d="M429.0,181.0 C431.3,177.8 438.7,179.7 443.0,180.0 C447.3,180.3 452.5,181.0 455.0,183.0 C457.5,185.0 458.3,189.3 458.0,192.0 C457.7,194.7 455.8,197.7 453.0,199.0 C450.2,200.3 445.0,200.0 441.0,200.0 C437.0,200.0 431.0,202.2 429.0,199.0 C427.0,195.8 426.7,184.2 429.0,181.0Z" fill="#00f0bc" />
<path d="M429.0,237.0 C431.3,233.3 439.0,235.3 443.0,236.0 C447.0,236.7 450.7,238.7 453.0,241.0 C455.3,243.3 457.0,247.2 457.0,250.0 C457.0,252.8 455.7,256.5 453.0,258.0 C450.3,259.5 445.0,259.0 441.0,259.0 C437.0,259.0 431.0,261.7 429.0,258.0 C427.0,254.3 426.7,240.7 429.0,237.0Z" fill="#00f0bc" />
<path d="M461.0,149.0 C478.7,147.8 561.8,143.2 582.0,149.0 C602.2,154.8 584.7,177.5 582.0,184.0 C579.3,190.5 571.0,186.5 566.0,187.8 C561.0,189.1 556.0,190.9 552.0,192.0 C548.0,193.1 545.2,193.7 542.0,194.5 C538.8,195.3 535.5,195.9 533.0,196.7 C530.5,197.4 528.2,200.6 527.0,199.0 C525.8,197.4 526.3,190.5 526.0,187.0 C525.7,183.5 525.3,182.2 525.0,178.0 C524.7,173.8 526.3,165.0 524.0,162.0 C521.7,159.0 516.5,160.7 511.0,160.0 C505.5,159.3 496.8,158.7 491.0,158.0 C485.2,157.3 481.0,157.5 476.0,156.0 C471.0,154.5 443.3,150.2 461.0,149.0Z" fill="#00f0f0" />
<path d="M523.0,149.0 C529.3,147.2 556.5,146.5 563.0,149.0 C569.5,151.5 562.7,159.8 562.0,164.0 C561.3,168.2 560.8,171.8 559.0,174.0 C557.2,176.2 555.7,177.3 551.0,177.0 C546.3,176.7 535.3,174.8 531.0,172.0 C526.7,169.2 526.3,163.8 525.0,160.0 C523.7,156.2 516.7,150.8 523.0,149.0Z" fill="#00c8ff" />
<path d="M534.0,149.0 C537.2,147.7 551.8,147.7 555.0,149.0 C558.2,150.3 554.8,155.2 553.0,157.0 C551.2,158.8 546.8,159.5 544.0,159.5 C541.2,159.5 537.7,158.8 536.0,157.0 C534.3,155.2 530.8,150.3 534.0,149.0Z" fill="#0080ff" />
<path d="M475.8,299.4 C459.2,298.1 479.3,293.6 482.8,291.4 C486.3,289.3 491.1,287.8 496.7,286.5 C502.4,285.1 510.3,284.4 516.7,283.5 C523.0,282.6 528.6,281.5 534.6,281.1 C540.6,280.6 547.5,281.9 552.5,280.7 C557.5,279.4 561.1,276.2 564.5,273.5 C567.8,270.8 569.4,266.4 572.4,264.5 C575.4,262.7 580.7,256.7 582.4,262.6 C584.1,268.4 600.2,293.3 582.4,299.4 C564.6,305.6 492.4,300.7 475.8,299.4Z" fill="#00f0f0" />
<path d="M445.0,178.0 C445.2,176.3 454.8,177.7 457.0,176.0 C459.2,174.3 452.3,169.5 458.0,168.0 C463.7,166.5 479.7,167.0 491.0,167.0 C502.3,167.0 520.0,166.2 526.0,168.0 C532.0,169.8 524.3,176.2 527.0,178.0 C529.7,179.8 539.5,177.5 542.0,179.0 C544.5,180.5 543.8,184.5 542.0,187.0 C540.2,189.5 533.7,191.7 531.0,194.0 C528.3,196.3 527.5,198.5 526.0,201.0 C524.5,203.5 523.3,205.8 522.0,209.0 C520.7,212.2 518.5,215.5 518.0,220.0 C517.5,224.5 517.8,231.3 519.0,236.0 C520.2,240.7 523.8,244.0 525.0,248.0 C526.2,252.0 525.7,256.2 526.0,260.0 C526.3,263.8 532.8,269.0 527.0,271.0 C521.2,273.0 502.5,272.0 491.0,272.0 C479.5,272.0 463.7,272.5 458.0,271.0 C452.3,269.5 457.5,266.2 457.0,263.0 C456.5,259.8 455.7,255.2 455.0,252.0 C454.3,248.8 455.0,246.3 453.0,244.0 C451.0,241.7 447.2,239.2 443.0,238.0 C438.8,236.8 430.5,243.5 428.0,237.0 C425.5,230.5 425.5,205.3 428.0,199.0 C430.5,192.7 438.5,199.5 443.0,199.0 C447.5,198.5 452.8,198.2 455.0,196.0 C457.2,193.8 457.7,189.0 456.0,186.0 C454.3,183.0 444.8,179.7 445.0,178.0Z" fill="#10f040" />
<rect x="495.00" y="178.00" width="23.00" height="83.00" fill="#28f028" stroke="none" stroke-width="0.6" fill-opacity="1"/>
<rect x="456.10" y="167.50" width="7.60" height="11.50" fill="#b8f000" stroke="none" stroke-width="0.6" fill-opacity="1"/>
<rect x="456.10" y="260.20" width="7.60" height="11.50" fill="#b8f000" stroke="none" stroke-width="0.6" fill-opacity="1"/>
<rect x="456.50" y="171.40" width="6.80" height="7.40" fill="#f4f000" stroke="none" stroke-width="0.6" fill-opacity="1"/>
<rect x="456.50" y="260.40" width="6.80" height="7.40" fill="#f4f000" stroke="none" stroke-width="0.6" fill-opacity="1"/>
<rect x="465.00" y="167.50" width="7.60" height="11.50" fill="#b8f000" stroke="none" stroke-width="0.6" fill-opacity="1"/>
<rect x="465.00" y="260.20" width="7.60" height="11.50" fill="#b8f000" stroke="none" stroke-width="0.6" fill-opacity="1"/>
<rect x="465.40" y="171.40" width="6.80" height="7.40" fill="#f4f000" stroke="none" stroke-width="0.6" fill-opacity="1"/>
<rect x="465.40" y="260.40" width="6.80" height="7.40" fill="#f4f000" stroke="none" stroke-width="0.6" fill-opacity="1"/>
<rect x="474.40" y="167.50" width="7.60" height="11.50" fill="#b8f000" stroke="none" stroke-width="0.6" fill-opacity="1"/>
<rect x="474.40" y="260.20" width="7.60" height="11.50" fill="#b8f000" stroke="none" stroke-width="0.6" fill-opacity="1"/>
<rect x="474.80" y="171.40" width="6.80" height="7.40" fill="#f4f000" stroke="none" stroke-width="0.6" fill-opacity="1"/>
<rect x="474.80" y="260.40" width="6.80" height="7.40" fill="#f4f000" stroke="none" stroke-width="0.6" fill-opacity="1"/>
<rect x="484.00" y="167.50" width="7.60" height="11.50" fill="#b8f000" stroke="none" stroke-width="0.6" fill-opacity="1"/>
<rect x="484.00" y="260.20" width="7.60" height="11.50" fill="#b8f000" stroke="none" stroke-width="0.6" fill-opacity="1"/>
<rect x="484.40" y="171.40" width="6.80" height="7.40" fill="#f4f000" stroke="none" stroke-width="0.6" fill-opacity="1"/>
<rect x="484.40" y="260.40" width="6.80" height="7.40" fill="#f4f000" stroke="none" stroke-width="0.6" fill-opacity="1"/>
<rect x="494.50" y="167.50" width="7.60" height="11.50" fill="#b8f000" stroke="none" stroke-width="0.6" fill-opacity="1"/>
<rect x="494.50" y="260.20" width="7.60" height="11.50" fill="#b8f000" stroke="none" stroke-width="0.6" fill-opacity="1"/>
<rect x="494.90" y="171.40" width="6.80" height="7.40" fill="#f4f000" stroke="none" stroke-width="0.6" fill-opacity="1"/>
<rect x="494.90" y="260.40" width="6.80" height="7.40" fill="#f4f000" stroke="none" stroke-width="0.6" fill-opacity="1"/>
<rect x="506.90" y="167.50" width="7.60" height="11.50" fill="#b8f000" stroke="none" stroke-width="0.6" fill-opacity="1"/>
<rect x="506.90" y="260.20" width="7.60" height="11.50" fill="#b8f000" stroke="none" stroke-width="0.6" fill-opacity="1"/>
<rect x="507.30" y="171.40" width="6.80" height="7.40" fill="#f4f000" stroke="none" stroke-width="0.6" fill-opacity="1"/>
<rect x="507.30" y="260.40" width="6.80" height="7.40" fill="#f4f000" stroke="none" stroke-width="0.6" fill-opacity="1"/>
<rect x="518.80" y="167.50" width="7.60" height="11.50" fill="#b8f000" stroke="none" stroke-width="0.6" fill-opacity="1"/>
<rect x="518.80" y="260.20" width="7.60" height="11.50" fill="#b8f000" stroke="none" stroke-width="0.6" fill-opacity="1"/>
<rect x="519.20" y="171.40" width="6.80" height="7.40" fill="#f4f000" stroke="none" stroke-width="0.6" fill-opacity="1"/>
<rect x="519.20" y="260.40" width="6.80" height="7.40" fill="#f4f000" stroke="none" stroke-width="0.6" fill-opacity="1"/>
<rect x="496.00" y="179.30" width="22.00" height="8.80" fill="#a8f000" stroke="none" stroke-width="0.6" fill-opacity="1"/>
<rect x="496.00" y="251.10" width="22.00" height="8.80" fill="#a8f000" stroke="none" stroke-width="0.6" fill-opacity="1"/>
<rect x="505.50" y="191.50" width="12.50" height="8.00" fill="#a8f000" stroke="none" stroke-width="0.6" fill-opacity="1"/>
<rect x="505.50" y="239.70" width="12.50" height="8.00" fill="#a8f000" stroke="none" stroke-width="0.6" fill-opacity="1"/>
<rect x="496.00" y="204.30" width="22.00" height="8.60" fill="#a8f000" stroke="none" stroke-width="0.6" fill-opacity="1"/>
<rect x="496.00" y="226.30" width="22.00" height="8.60" fill="#a8f000" stroke="none" stroke-width="0.6" fill-opacity="1"/>
<rect x="467.00" y="215.00" width="12.00" height="7.50" fill="#a8f000" stroke="none" stroke-width="0.6" fill-opacity="1"/>
<rect x="531.00" y="178.30" width="22.50" height="10.00" fill="#f4f000" stroke="none" stroke-width="0.6" fill-opacity="1"/>
<rect x="531.00" y="250.90" width="22.50" height="10.00" fill="#f4f000" stroke="none" stroke-width="0.6" fill-opacity="1"/>
<rect x="536.50" y="179.20" width="6.50" height="8.00" fill="#ff2000" stroke="none" stroke-width="0.6" fill-opacity="1"/>
<rect x="536.50" y="252.00" width="6.50" height="8.00" fill="#ff2000" stroke="none" stroke-width="0.6" fill-opacity="1"/>
<rect x="499.00" y="177.80" width="14.00" height="2.60" fill="#ff5000" stroke="none" stroke-width="0.6" fill-opacity="1"/>
<rect x="499.00" y="258.80" width="14.00" height="2.60" fill="#ff5000" stroke="none" stroke-width="0.6" fill-opacity="1"/>
<rect x="494.80" y="177.30" width="7.00" height="2.20" fill="#ff7000" stroke="none" stroke-width="0.6" fill-opacity="1"/>
<rect x="494.80" y="259.70" width="7.00" height="2.20" fill="#ff7000" stroke="none" stroke-width="0.6" fill-opacity="1"/>
<rect x="507.20" y="177.30" width="7.00" height="2.20" fill="#ff7000" stroke="none" stroke-width="0.6" fill-opacity="1"/>
<rect x="507.20" y="259.70" width="7.00" height="2.20" fill="#ff7000" stroke="none" stroke-width="0.6" fill-opacity="1"/>
<line x1="450.50" y1="171.00" x2="527.00" y2="171.00" stroke="#ffb000" stroke-width="0.45"/>
<line x1="450.50" y1="268.20" x2="527.00" y2="268.20" stroke="#ffb000" stroke-width="0.45"/>
<line x1="495.00" y1="179.00" x2="495.00" y2="260.00" stroke="#ffb000" stroke-width="0.45"/>
<line x1="519.00" y1="179.00" x2="519.00" y2="260.00" stroke="#ffb000" stroke-width="0.45"/>
<rect x="450.80" y="171.50" width="6.20" height="6.50" fill="#ffffff" stroke="none" stroke-width="0.6" fill-opacity="1"/>
<rect x="450.80" y="261.20" width="6.20" height="6.50" fill="#ffffff" stroke="none" stroke-width="0.6" fill-opacity="1"/>
<ellipse cx="459.90" cy="169.00" rx="3.20" ry="1.80" fill="#f8f000" stroke="none" stroke-width="0.6"/>
<ellipse cx="459.90" cy="169.00" rx="0.80" ry="0.60" fill="#ff3000" stroke="none" stroke-width="0.6"/>
<line x1="458.40" y1="169.00" x2="458.40" y2="172.30" stroke="#ff5a00" stroke-width="0.5"/>
<line x1="461.40" y1="169.00" x2="461.40" y2="172.30" stroke="#ff5a00" stroke-width="0.5"/>
<rect x="457.30" y="172.30" width="5.20" height="5.60" fill="#ffffff" stroke="#ff5a00" stroke-width="0.6" fill-opacity="1"/>
<ellipse cx="459.90" cy="270.20" rx="3.20" ry="1.80" fill="#f8f000" stroke="none" stroke-width="0.6"/>
<ellipse cx="459.90" cy="270.20" rx="0.80" ry="0.60" fill="#ff3000" stroke="none" stroke-width="0.6"/>
<line x1="458.40" y1="270.20" x2="458.40" y2="266.90" stroke="#ff5a00" stroke-width="0.5"/>
<line x1="461.40" y1="270.20" x2="461.40" y2="266.90" stroke="#ff5a00" stroke-width="0.5"/>
<rect x="457.30" y="261.30" width="5.20" height="5.60" fill="#ffffff" stroke="#ff5a00" stroke-width="0.6" fill-opacity="1"/>
<ellipse cx="468.80" cy="169.00" rx="3.20" ry="1.80" fill="#f8f000" stroke="none" stroke-width="0.6"/>
<ellipse cx="468.80" cy="169.00" rx="0.80" ry="0.60" fill="#ff3000" stroke="none" stroke-width="0.6"/>
<line x1="467.30" y1="169.00" x2="467.30" y2="172.30" stroke="#ff5a00" stroke-width="0.5"/>
<line x1="470.30" y1="169.00" x2="470.30" y2="172.30" stroke="#ff5a00" stroke-width="0.5"/>
<rect x="466.20" y="172.30" width="5.20" height="5.60" fill="#ffffff" stroke="#ff5a00" stroke-width="0.6" fill-opacity="1"/>
<ellipse cx="468.80" cy="270.20" rx="3.20" ry="1.80" fill="#f8f000" stroke="none" stroke-width="0.6"/>
<ellipse cx="468.80" cy="270.20" rx="0.80" ry="0.60" fill="#ff3000" stroke="none" stroke-width="0.6"/>
<line x1="467.30" y1="270.20" x2="467.30" y2="266.90" stroke="#ff5a00" stroke-width="0.5"/>
<line x1="470.30" y1="270.20" x2="470.30" y2="266.90" stroke="#ff5a00" stroke-width="0.5"/>
<rect x="466.20" y="261.30" width="5.20" height="5.60" fill="#ffffff" stroke="#ff5a00" stroke-width="0.6" fill-opacity="1"/>
<ellipse cx="478.20" cy="169.00" rx="3.20" ry="1.80" fill="#f8f000" stroke="none" stroke-width="0.6"/>
<ellipse cx="478.20" cy="169.00" rx="0.80" ry="0.60" fill="#ff3000" stroke="none" stroke-width="0.6"/>
<line x1="476.70" y1="169.00" x2="476.70" y2="172.30" stroke="#ff5a00" stroke-width="0.5"/>
<line x1="479.70" y1="169.00" x2="479.70" y2="172.30" stroke="#ff5a00" stroke-width="0.5"/>
<rect x="475.60" y="172.30" width="5.20" height="5.60" fill="#ffffff" stroke="#ff5a00" stroke-width="0.6" fill-opacity="1"/>
<ellipse cx="478.20" cy="270.20" rx="3.20" ry="1.80" fill="#f8f000" stroke="none" stroke-width="0.6"/>
<ellipse cx="478.20" cy="270.20" rx="0.80" ry="0.60" fill="#ff3000" stroke="none" stroke-width="0.6"/>
<line x1="476.70" y1="270.20" x2="476.70" y2="266.90" stroke="#ff5a00" stroke-width="0.5"/>
<line x1="479.70" y1="270.20" x2="479.70" y2="266.90" stroke="#ff5a00" stroke-width="0.5"/>
<rect x="475.60" y="261.30" width="5.20" height="5.60" fill="#ffffff" stroke="#ff5a00" stroke-width="0.6" fill-opacity="1"/>
<ellipse cx="487.80" cy="169.00" rx="3.20" ry="1.80" fill="#f8f000" stroke="none" stroke-width="0.6"/>
<ellipse cx="487.80" cy="169.00" rx="0.80" ry="0.60" fill="#ff3000" stroke="none" stroke-width="0.6"/>
<line x1="486.30" y1="169.00" x2="486.30" y2="172.30" stroke="#ff5a00" stroke-width="0.5"/>
<line x1="489.30" y1="169.00" x2="489.30" y2="172.30" stroke="#ff5a00" stroke-width="0.5"/>
<rect x="485.20" y="172.30" width="5.20" height="5.60" fill="#ffffff" stroke="#ff5a00" stroke-width="0.6" fill-opacity="1"/>
<ellipse cx="487.80" cy="270.20" rx="3.20" ry="1.80" fill="#f8f000" stroke="none" stroke-width="0.6"/>
<ellipse cx="487.80" cy="270.20" rx="0.80" ry="0.60" fill="#ff3000" stroke="none" stroke-width="0.6"/>
<line x1="486.30" y1="270.20" x2="486.30" y2="266.90" stroke="#ff5a00" stroke-width="0.5"/>
<line x1="489.30" y1="270.20" x2="489.30" y2="266.90" stroke="#ff5a00" stroke-width="0.5"/>
<rect x="485.20" y="261.30" width="5.20" height="5.60" fill="#ffffff" stroke="#ff5a00" stroke-width="0.6" fill-opacity="1"/>
<ellipse cx="498.30" cy="169.00" rx="3.20" ry="1.80" fill="#f8f000" stroke="none" stroke-width="0.6"/>
<ellipse cx="498.30" cy="169.00" rx="0.80" ry="0.60" fill="#ff3000" stroke="none" stroke-width="0.6"/>
<line x1="496.80" y1="169.00" x2="496.80" y2="172.30" stroke="#ff5a00" stroke-width="0.5"/>
<line x1="499.80" y1="169.00" x2="499.80" y2="172.30" stroke="#ff5a00" stroke-width="0.5"/>
<rect x="495.70" y="172.30" width="5.20" height="5.60" fill="#ffffff" stroke="#ff5a00" stroke-width="0.6" fill-opacity="1"/>
<ellipse cx="498.30" cy="270.20" rx="3.20" ry="1.80" fill="#f8f000" stroke="none" stroke-width="0.6"/>
<ellipse cx="498.30" cy="270.20" rx="0.80" ry="0.60" fill="#ff3000" stroke="none" stroke-width="0.6"/>
<line x1="496.80" y1="270.20" x2="496.80" y2="266.90" stroke="#ff5a00" stroke-width="0.5"/>
<line x1="499.80" y1="270.20" x2="499.80" y2="266.90" stroke="#ff5a00" stroke-width="0.5"/>
<rect x="495.70" y="261.30" width="5.20" height="5.60" fill="#ffffff" stroke="#ff5a00" stroke-width="0.6" fill-opacity="1"/>
<ellipse cx="510.70" cy="169.00" rx="3.20" ry="1.80" fill="#f8f000" stroke="none" stroke-width="0.6"/>
<ellipse cx="510.70" cy="169.00" rx="0.80" ry="0.60" fill="#ff3000" stroke="none" stroke-width="0.6"/>
<line x1="509.20" y1="169.00" x2="509.20" y2="172.30" stroke="#ff5a00" stroke-width="0.5"/>
<line x1="512.20" y1="169.00" x2="512.20" y2="172.30" stroke="#ff5a00" stroke-width="0.5"/>
<rect x="508.10" y="172.30" width="5.20" height="5.60" fill="#ffffff" stroke="#ff5a00" stroke-width="0.6" fill-opacity="1"/>
<ellipse cx="510.70" cy="270.20" rx="3.20" ry="1.80" fill="#f8f000" stroke="none" stroke-width="0.6"/>
<ellipse cx="510.70" cy="270.20" rx="0.80" ry="0.60" fill="#ff3000" stroke="none" stroke-width="0.6"/>
<line x1="509.20" y1="270.20" x2="509.20" y2="266.90" stroke="#ff5a00" stroke-width="0.5"/>
<line x1="512.20" y1="270.20" x2="512.20" y2="266.90" stroke="#ff5a00" stroke-width="0.5"/>
<rect x="508.10" y="261.30" width="5.20" height="5.60" fill="#ffffff" stroke="#ff5a00" stroke-width="0.6" fill-opacity="1"/>
<ellipse cx="522.60" cy="169.00" rx="3.20" ry="1.80" fill="#f8f000" stroke="none" stroke-width="0.6"/>
<ellipse cx="522.60" cy="169.00" rx="0.80" ry="0.60" fill="#ff3000" stroke="none" stroke-width="0.6"/>
<line x1="521.10" y1="169.00" x2="521.10" y2="172.30" stroke="#ff5a00" stroke-width="0.5"/>
<line x1="524.10" y1="169.00" x2="524.10" y2="172.30" stroke="#ff5a00" stroke-width="0.5"/>
<rect x="520.00" y="172.30" width="5.20" height="5.60" fill="#ffffff" stroke="#ff5a00" stroke-width="0.6" fill-opacity="1"/>
<ellipse cx="522.60" cy="270.20" rx="3.20" ry="1.80" fill="#f8f000" stroke="none" stroke-width="0.6"/>
<ellipse cx="522.60" cy="270.20" rx="0.80" ry="0.60" fill="#ff3000" stroke="none" stroke-width="0.6"/>
<line x1="521.10" y1="270.20" x2="521.10" y2="266.90" stroke="#ff5a00" stroke-width="0.5"/>
<line x1="524.10" y1="270.20" x2="524.10" y2="266.90" stroke="#ff5a00" stroke-width="0.5"/>
<rect x="520.00" y="261.30" width="5.20" height="5.60" fill="#ffffff" stroke="#ff5a00" stroke-width="0.6" fill-opacity="1"/>
<rect x="527.60" y="160.00" width="23.00" height="18.00" fill="#ffffff" stroke="#e8b0a0" stroke-width="0.5" fill-opacity="1"/>
<rect x="529.50" y="164.00" width="6.00" height="13.00" fill="none" stroke="#f0e060" stroke-width="0.5" fill-opacity="1"/>
<rect x="527.60" y="261.20" width="23.00" height="18.00" fill="#ffffff" stroke="#e8b0a0" stroke-width="0.5" fill-opacity="1"/>
<rect x="529.50" y="262.20" width="6.00" height="13.00" fill="none" stroke="#f0e060" stroke-width="0.5" fill-opacity="1"/>
<rect x="532.30" y="180.00" width="4.50" height="5.50" fill="#ffffff" stroke="#ff5a00" stroke-width="0.5" fill-opacity="1"/>
<rect x="542.50" y="180.00" width="5.50" height="5.50" fill="#ffffff" stroke="#ff5a00" stroke-width="0.5" fill-opacity="1"/>
<ellipse cx="551.30" cy="182.70" rx="1.40" ry="3.00" fill="#f8f000" stroke="none" stroke-width="0.6"/>
<ellipse cx="533.30" cy="182.70" rx="1.20" ry="2.60" fill="#f8f000" stroke="none" stroke-width="0.6"/>
<rect x="532.30" y="253.70" width="4.50" height="5.50" fill="#ffffff" stroke="#ff5a00" stroke-width="0.5" fill-opacity="1"/>
<rect x="542.50" y="253.70" width="5.50" height="5.50" fill="#ffffff" stroke="#ff5a00" stroke-width="0.5" fill-opacity="1"/>
<ellipse cx="551.30" cy="256.40" rx="1.40" ry="3.00" fill="#f8f000" stroke="none" stroke-width="0.6"/>
<ellipse cx="533.30" cy="256.40" rx="1.20" ry="2.60" fill="#f8f000" stroke="none" stroke-width="0.6"/>
<rect x="542.50" y="188.00" width="7.00" height="6.30" fill="#ffffff" stroke="#e8b0a0" stroke-width="0.4" fill-opacity="1"/>
<rect x="542.50" y="244.90" width="7.00" height="6.30" fill="#ffffff" stroke="#e8b0a0" stroke-width="0.4" fill-opacity="1"/>
<rect x="498.50" y="181.50" width="15.50" height="4.80" fill="#ffffff" stroke="#ff5a00" stroke-width="0.6" fill-opacity="1"/>
<line x1="506.20" y1="181.50" x2="506.20" y2="186.30" stroke="#e0e0e0" stroke-width="0.5"/>
<ellipse cx="497.60" cy="183.90" rx="1.20" ry="3.00" fill="#f8f000" stroke="none" stroke-width="0.6"/>
<ellipse cx="515.60" cy="183.90" rx="1.20" ry="3.00" fill="#f8f000" stroke="none" stroke-width="0.6"/>
<rect x="498.50" y="252.70" width="15.50" height="4.80" fill="#ffffff" stroke="#ff5a00" stroke-width="0.6" fill-opacity="1"/>
<line x1="506.20" y1="252.70" x2="506.20" y2="257.50" stroke="#e0e0e0" stroke-width="0.5"/>
<ellipse cx="497.60" cy="255.10" rx="1.20" ry="3.00" fill="#f8f000" stroke="none" stroke-width="0.6"/>
<ellipse cx="515.60" cy="255.10" rx="1.20" ry="3.00" fill="#f8f000" stroke="none" stroke-width="0.6"/>
<rect x="498.50" y="206.50" width="15.50" height="4.80" fill="#ffffff" stroke="#ff5a00" stroke-width="0.6" fill-opacity="1"/>
<line x1="506.20" y1="206.50" x2="506.20" y2="211.30" stroke="#e0e0e0" stroke-width="0.5"/>
<ellipse cx="497.60" cy="208.90" rx="1.20" ry="3.00" fill="#f8f000" stroke="none" stroke-width="0.6"/>
<ellipse cx="515.60" cy="208.90" rx="1.20" ry="3.00" fill="#f8f000" stroke="none" stroke-width="0.6"/>
<rect x="498.50" y="227.70" width="15.50" height="4.80" fill="#ffffff" stroke="#ff5a00" stroke-width="0.6" fill-opacity="1"/>
<line x1="506.20" y1="227.70" x2="506.20" y2="232.50" stroke="#e0e0e0" stroke-width="0.5"/>
<ellipse cx="497.60" cy="230.10" rx="1.20" ry="3.00" fill="#f8f000" stroke="none" stroke-width="0.6"/>
<ellipse cx="515.60" cy="230.10" rx="1.20" ry="3.00" fill="#f8f000" stroke="none" stroke-width="0.6"/>
<rect x="507.00" y="193.30" width="5.20" height="4.60" fill="#ffffff" stroke="#ff5a00" stroke-width="0.6" fill-opacity="1"/>
<ellipse cx="515.50" cy="195.60" rx="1.20" ry="3.00" fill="#f8f000" stroke="none" stroke-width="0.6"/>
<rect x="507.00" y="241.50" width="5.20" height="4.60" fill="#ffffff" stroke="#ff5a00" stroke-width="0.6" fill-opacity="1"/>
<ellipse cx="515.50" cy="243.80" rx="1.20" ry="3.00" fill="#f8f000" stroke="none" stroke-width="0.6"/>
<rect x="471.50" y="216.30" width="5.60" height="4.80" fill="#ffffff" stroke="#ff5a00" stroke-width="0.6" fill-opacity="1"/>
<ellipse cx="469.30" cy="218.70" rx="1.20" ry="2.80" fill="#f8f000" stroke="none" stroke-width="0.6"/>
</g>
<rect x="431.5" y="152.5" width="147" height="143" fill="none" stroke="#7890c8" stroke-width="1"/>
<line x1="431.8" y1="152" x2="431.8" y2="296" stroke="#1a4a98" stroke-width="1.6"/>
<line x1="431" y1="295.2" x2="579" y2="295.2" stroke="#1a4a98" stroke-width="1.6"/>
<line x1="428.5" y1="187.7" x2="431" y2="187.7" stroke="#40c040" stroke-width="0.8"/>
<line x1="428.5" y1="199.4" x2="431" y2="199.4" stroke="#40c040" stroke-width="0.8"/>
<line x1="428.5" y1="237.3" x2="431" y2="237.3" stroke="#40c040" stroke-width="0.8"/>
<line x1="428.5" y1="249.5" x2="431" y2="249.5" stroke="#40c040" stroke-width="0.8"/>
<path d="M579.0,187.6 h3 v11.2 h-3" fill="none" stroke="#50c050" stroke-width="0.7"/>
<path d="M579.0,237.3 h3 v11.5 h-3" fill="none" stroke="#50c050" stroke-width="0.7"/>
<rect x="584.8" y="152.8" width="17.90000000000009" height="115.69999999999999" fill="url(#lg)"/>
<line x1="602.7" y1="152.80" x2="609.6" y2="152.80" stroke="#606060" stroke-width="0.9"/>
<text x="613" y="155.00" font-size="7.4" font-weight="bold" fill="#1a1a1a" stroke="#1a1a1a" stroke-width="0.2" textLength="22.4" lengthAdjust="spacingAndGlyphs">30.0000</text>
<line x1="584.8" y1="167.26" x2="602.7" y2="167.26" stroke="#000" stroke-opacity="0.55" stroke-width="0.9"/>
<line x1="602.7" y1="167.26" x2="609.6" y2="167.26" stroke="#606060" stroke-width="0.9"/>
<text x="613" y="169.46" font-size="7.4" font-weight="bold" fill="#1a1a1a" stroke="#1a1a1a" stroke-width="0.2" textLength="22.4" lengthAdjust="spacingAndGlyphs">28.1250</text>
<line x1="584.8" y1="181.73" x2="602.7" y2="181.73" stroke="#000" stroke-opacity="0.55" stroke-width="0.9"/>
<line x1="602.7" y1="181.73" x2="609.6" y2="181.73" stroke="#606060" stroke-width="0.9"/>
<text x="613" y="183.93" font-size="7.4" font-weight="bold" fill="#1a1a1a" stroke="#1a1a1a" stroke-width="0.2" textLength="22.4" lengthAdjust="spacingAndGlyphs">26.2500</text>
<line x1="584.8" y1="196.19" x2="602.7" y2="196.19" stroke="#000" stroke-opacity="0.55" stroke-width="0.9"/>
<line x1="602.7" y1="196.19" x2="609.6" y2="196.19" stroke="#606060" stroke-width="0.9"/>
<text x="613" y="198.39" font-size="7.4" font-weight="bold" fill="#1a1a1a" stroke="#1a1a1a" stroke-width="0.2" textLength="22.4" lengthAdjust="spacingAndGlyphs">24.3750</text>
<line x1="584.8" y1="210.65" x2="602.7" y2="210.65" stroke="#000" stroke-opacity="0.55" stroke-width="0.9"/>
<line x1="602.7" y1="210.65" x2="609.6" y2="210.65" stroke="#606060" stroke-width="0.9"/>
<text x="613" y="212.85" font-size="7.4" font-weight="bold" fill="#1a1a1a" stroke="#1a1a1a" stroke-width="0.2" textLength="22.4" lengthAdjust="spacingAndGlyphs">22.5000</text>
<line x1="584.8" y1="225.11" x2="602.7" y2="225.11" stroke="#000" stroke-opacity="0.55" stroke-width="0.9"/>
<line x1="602.7" y1="225.11" x2="609.6" y2="225.11" stroke="#606060" stroke-width="0.9"/>
<text x="613" y="227.31" font-size="7.4" font-weight="bold" fill="#1a1a1a" stroke="#1a1a1a" stroke-width="0.2" textLength="22.4" lengthAdjust="spacingAndGlyphs">20.6250</text>
<line x1="584.8" y1="239.57" x2="602.7" y2="239.57" stroke="#000" stroke-opacity="0.55" stroke-width="0.9"/>
<line x1="602.7" y1="239.57" x2="609.6" y2="239.57" stroke="#606060" stroke-width="0.9"/>
<text x="613" y="241.77" font-size="7.4" font-weight="bold" fill="#1a1a1a" stroke="#1a1a1a" stroke-width="0.2" textLength="22.4" lengthAdjust="spacingAndGlyphs">18.7500</text>
<line x1="584.8" y1="254.04" x2="602.7" y2="254.04" stroke="#000" stroke-opacity="0.55" stroke-width="0.9"/>
<line x1="602.7" y1="254.04" x2="609.6" y2="254.04" stroke="#606060" stroke-width="0.9"/>
<text x="613" y="256.24" font-size="7.4" font-weight="bold" fill="#1a1a1a" stroke="#1a1a1a" stroke-width="0.2" textLength="22.4" lengthAdjust="spacingAndGlyphs">16.8750</text>
<line x1="602.7" y1="268.50" x2="609.6" y2="268.50" stroke="#606060" stroke-width="0.9"/>
<text x="613" y="270.70" font-size="7.4" font-weight="bold" fill="#1a1a1a" stroke="#1a1a1a" stroke-width="0.2" textLength="22.4" lengthAdjust="spacingAndGlyphs">15.0000</text>
<text x="585.5" y="141.9" font-size="7.03" font-weight="bold" fill="#222" textLength="35.7" lengthAdjust="spacingAndGlyphs">Temperature</text>
<text x="588.5" y="146.8" font-size="7.03" font-weight="bold" fill="#222" textLength="3.5" lengthAdjust="spacingAndGlyphs">C</text>
<g clip-path="url(#chum)">
<rect x="715" y="145" width="152" height="146.5" fill="#84f800"/>
<path d="M727.0,142.0 C747.8,141.0 846.2,134.3 870.0,142.0 C893.8,149.7 872.5,180.2 870.0,188.0 C867.5,195.8 859.2,189.2 855.0,189.0 C850.8,188.8 847.7,188.2 845.0,187.0 C842.3,185.8 840.5,184.5 839.0,182.0 C837.5,179.5 838.3,176.2 836.0,172.0 C833.7,167.8 829.0,160.0 825.0,157.0 C821.0,154.0 820.3,155.0 812.0,154.0 C803.7,153.0 786.2,152.0 775.0,151.0 C763.8,150.0 753.0,149.5 745.0,148.0 C737.0,146.5 706.2,143.0 727.0,142.0Z" fill="#b4f000" />
<path d="M810.0,142.0 C816.3,139.8 844.5,139.8 851.0,142.0 C857.5,144.2 850.3,151.2 849.0,155.0 C847.7,158.8 845.3,162.7 843.0,165.0 C840.7,167.3 838.8,169.0 835.0,169.0 C831.2,169.0 823.7,167.3 820.0,165.0 C816.3,162.7 814.7,158.8 813.0,155.0 C811.3,151.2 803.7,144.2 810.0,142.0Z" fill="#ecf000" />
<path d="M813.0,295.0 C804.0,291.7 814.0,279.8 816.0,275.0 C818.0,270.2 821.0,268.0 825.0,266.0 C829.0,264.0 835.0,262.8 840.0,263.0 C845.0,263.2 850.0,267.0 855.0,267.0 C860.0,267.0 867.5,258.3 870.0,263.0 C872.5,267.7 879.5,289.7 870.0,295.0 C860.5,300.3 822.0,298.3 813.0,295.0Z" fill="#b4f000" />
<path d="M712.0,244.0 C714.2,235.7 720.8,243.5 725.0,245.0 C729.2,246.5 733.3,249.3 737.0,253.0 C740.7,256.7 743.3,262.3 747.0,267.0 C750.7,271.7 756.0,276.3 759.0,281.0 C762.0,285.7 772.8,292.7 765.0,295.0 C757.2,297.3 720.8,303.5 712.0,295.0 C703.2,286.5 709.8,252.3 712.0,244.0Z" fill="#b4f000" />
<path d="M735.0,171.0 C747.7,169.2 795.8,157.0 808.0,171.0 C820.2,185.0 812.5,240.8 808.0,255.0 C803.5,269.2 788.2,256.2 781.0,256.0 C773.8,255.8 771.8,255.0 765.0,254.0 C758.2,253.0 748.8,251.3 740.0,250.0 C731.2,248.7 716.7,256.5 712.0,246.0 C707.3,235.5 710.2,197.2 712.0,187.0 C713.8,176.8 719.7,185.8 723.0,185.0 C726.3,184.2 730.0,184.3 732.0,182.0 C734.0,179.7 722.3,172.8 735.0,171.0Z" fill="#50f000" />
<path d="M735.0,170.0 L808.0,170.0 L808.0,178.0 L805.0,185.0 L804.0,215.0 L805.0,245.0 L808.0,249.0 L808.0,257.0 L735.0,257.0 L735.0,251.0 L773.0,249.0 L775.0,227.0 L765.0,224.0 L753.0,220.0 L750.0,211.0 L753.0,202.0 L765.0,199.0 L775.0,195.0 L775.0,178.0 L735.0,176.0Z" fill="#1cf000" />
<rect x="747.25" y="164.84" width="2.88" height="7.12" fill="#00f080" stroke="none" stroke-width="0.6" fill-opacity="1"/>
<rect x="747.25" y="254.57" width="2.88" height="7.12" fill="#00f080" stroke="none" stroke-width="0.6" fill-opacity="1"/>
<rect x="756.39" y="164.84" width="2.88" height="7.12" fill="#00f080" stroke="none" stroke-width="0.6" fill-opacity="1"/>
<rect x="756.39" y="254.57" width="2.88" height="7.12" fill="#00f080" stroke="none" stroke-width="0.6" fill-opacity="1"/>
<rect x="766.04" y="164.84" width="2.88" height="7.12" fill="#00f080" stroke="none" stroke-width="0.6" fill-opacity="1"/>
<rect x="766.04" y="254.57" width="2.88" height="7.12" fill="#00f080" stroke="none" stroke-width="0.6" fill-opacity="1"/>
<rect x="775.90" y="164.84" width="2.88" height="7.12" fill="#00f080" stroke="none" stroke-width="0.6" fill-opacity="1"/>
<rect x="775.90" y="254.57" width="2.88" height="7.12" fill="#00f080" stroke="none" stroke-width="0.6" fill-opacity="1"/>
<rect x="786.69" y="164.84" width="2.88" height="7.12" fill="#00f080" stroke="none" stroke-width="0.6" fill-opacity="1"/>
<rect x="786.69" y="254.57" width="2.88" height="7.12" fill="#00f080" stroke="none" stroke-width="0.6" fill-opacity="1"/>
<rect x="799.42" y="164.84" width="2.88" height="7.12" fill="#00f080" stroke="none" stroke-width="0.6" fill-opacity="1"/>
<rect x="799.42" y="254.57" width="2.88" height="7.12" fill="#00f080" stroke="none" stroke-width="0.6" fill-opacity="1"/>
<rect x="811.64" y="164.84" width="2.88" height="7.12" fill="#00f080" stroke="none" stroke-width="0.6" fill-opacity="1"/>
<rect x="811.64" y="254.57" width="2.88" height="7.12" fill="#00f080" stroke="none" stroke-width="0.6" fill-opacity="1"/>
<rect x="784.84" y="172.47" width="16.43" height="9.16" fill="#00f0a0" stroke="none" stroke-width="0.6" fill-opacity="1"/>
<rect x="784.84" y="245.92" width="16.43" height="9.16" fill="#00f0a0" stroke="none" stroke-width="0.6" fill-opacity="1"/>
<rect x="793.05" y="182.64" width="9.24" height="10.17" fill="#00f080" stroke="none" stroke-width="0.6" fill-opacity="1"/>
<rect x="793.05" y="234.73" width="9.24" height="10.17" fill="#00f080" stroke="none" stroke-width="0.6" fill-opacity="1"/>
<rect x="784.84" y="197.90" width="16.43" height="8.14" fill="#00f0a0" stroke="none" stroke-width="0.6" fill-opacity="1"/>
<rect x="784.84" y="221.51" width="16.43" height="8.14" fill="#00f0a0" stroke="none" stroke-width="0.6" fill-opacity="1"/>
<rect x="818.22" y="172.47" width="21.57" height="9.16" fill="#00e0d0" stroke="none" stroke-width="0.6" fill-opacity="1"/>
<rect x="818.22" y="245.92" width="21.57" height="9.16" fill="#00e0d0" stroke="none" stroke-width="0.6" fill-opacity="1"/>
<rect x="823.35" y="172.98" width="6.16" height="7.63" fill="#00c0ff" stroke="none" stroke-width="0.6" fill-opacity="1"/>
<rect x="823.35" y="246.94" width="6.16" height="7.63" fill="#00c0ff" stroke="none" stroke-width="0.6" fill-opacity="1"/>
<rect x="795.11" y="181.12" width="6.16" height="3.05" fill="#00a0ff" stroke="none" stroke-width="0.6" fill-opacity="1"/>
<rect x="795.11" y="243.38" width="6.16" height="3.05" fill="#00a0ff" stroke="none" stroke-width="0.6" fill-opacity="1"/>
<line x1="735.03" y1="164.33" x2="813.59" y2="164.33" stroke="#f0c000" stroke-width="0.45"/>
<line x1="735.03" y1="263.22" x2="813.59" y2="263.22" stroke="#f0c000" stroke-width="0.45"/>
<line x1="780.73" y1="172.47" x2="780.73" y2="254.88" stroke="#f0c000" stroke-width="0.45"/>
<line x1="805.38" y1="172.47" x2="805.38" y2="254.88" stroke="#f0c000" stroke-width="0.45"/>
<rect x="735.34" y="164.84" width="6.37" height="6.61" fill="#ffffff" stroke="none" stroke-width="0.6" fill-opacity="1"/>
<rect x="735.34" y="256.10" width="6.37" height="6.61" fill="#ffffff" stroke="none" stroke-width="0.6" fill-opacity="1"/>
<ellipse cx="744.68" cy="162.30" rx="3.29" ry="1.83" fill="#f8f000" stroke="none" stroke-width="0.6"/>
<ellipse cx="744.68" cy="162.30" rx="0.82" ry="0.61" fill="#e0a000" stroke="none" stroke-width="0.6"/>
<line x1="743.14" y1="162.30" x2="743.14" y2="165.65" stroke="#f0d000" stroke-width="0.5"/>
<line x1="746.22" y1="162.30" x2="746.22" y2="165.65" stroke="#f0d000" stroke-width="0.5"/>
<rect x="742.01" y="165.65" width="5.34" height="5.70" fill="#ffffff" stroke="#f0d000" stroke-width="0.6" fill-opacity="1"/>
<ellipse cx="744.68" cy="265.25" rx="3.29" ry="1.83" fill="#f8f000" stroke="none" stroke-width="0.6"/>
<ellipse cx="744.68" cy="265.25" rx="0.82" ry="0.61" fill="#e0a000" stroke="none" stroke-width="0.6"/>
<line x1="743.14" y1="265.25" x2="743.14" y2="261.89" stroke="#f0d000" stroke-width="0.5"/>
<line x1="746.22" y1="265.25" x2="746.22" y2="261.89" stroke="#f0d000" stroke-width="0.5"/>
<rect x="742.01" y="256.20" width="5.34" height="5.70" fill="#ffffff" stroke="#f0d000" stroke-width="0.6" fill-opacity="1"/>
<ellipse cx="753.82" cy="162.30" rx="3.29" ry="1.83" fill="#f8f000" stroke="none" stroke-width="0.6"/>
<ellipse cx="753.82" cy="162.30" rx="0.82" ry="0.61" fill="#e0a000" stroke="none" stroke-width="0.6"/>
<line x1="752.28" y1="162.30" x2="752.28" y2="165.65" stroke="#f0d000" stroke-width="0.5"/>
<line x1="755.36" y1="162.30" x2="755.36" y2="165.65" stroke="#f0d000" stroke-width="0.5"/>
<rect x="751.15" y="165.65" width="5.34" height="5.70" fill="#ffffff" stroke="#f0d000" stroke-width="0.6" fill-opacity="1"/>
<ellipse cx="753.82" cy="265.25" rx="3.29" ry="1.83" fill="#f8f000" stroke="none" stroke-width="0.6"/>
<ellipse cx="753.82" cy="265.25" rx="0.82" ry="0.61" fill="#e0a000" stroke="none" stroke-width="0.6"/>
<line x1="752.28" y1="265.25" x2="752.28" y2="261.89" stroke="#f0d000" stroke-width="0.5"/>
<line x1="755.36" y1="265.25" x2="755.36" y2="261.89" stroke="#f0d000" stroke-width="0.5"/>
<rect x="751.15" y="256.20" width="5.34" height="5.70" fill="#ffffff" stroke="#f0d000" stroke-width="0.6" fill-opacity="1"/>
<ellipse cx="763.48" cy="162.30" rx="3.29" ry="1.83" fill="#f8f000" stroke="none" stroke-width="0.6"/>
<ellipse cx="763.48" cy="162.30" rx="0.82" ry="0.61" fill="#e0a000" stroke="none" stroke-width="0.6"/>
<line x1="761.94" y1="162.30" x2="761.94" y2="165.65" stroke="#f0d000" stroke-width="0.5"/>
<line x1="765.02" y1="162.30" x2="765.02" y2="165.65" stroke="#f0d000" stroke-width="0.5"/>
<rect x="760.81" y="165.65" width="5.34" height="5.70" fill="#ffffff" stroke="#f0d000" stroke-width="0.6" fill-opacity="1"/>
<ellipse cx="763.48" cy="265.25" rx="3.29" ry="1.83" fill="#f8f000" stroke="none" stroke-width="0.6"/>
<ellipse cx="763.48" cy="265.25" rx="0.82" ry="0.61" fill="#e0a000" stroke="none" stroke-width="0.6"/>
<line x1="761.94" y1="265.25" x2="761.94" y2="261.89" stroke="#f0d000" stroke-width="0.5"/>
<line x1="765.02" y1="265.25" x2="765.02" y2="261.89" stroke="#f0d000" stroke-width="0.5"/>
<rect x="760.81" y="256.20" width="5.34" height="5.70" fill="#ffffff" stroke="#f0d000" stroke-width="0.6" fill-opacity="1"/>
<ellipse cx="773.34" cy="162.30" rx="3.29" ry="1.83" fill="#f8f000" stroke="none" stroke-width="0.6"/>
<ellipse cx="773.34" cy="162.30" rx="0.82" ry="0.61" fill="#e0a000" stroke="none" stroke-width="0.6"/>
<line x1="771.79" y1="162.30" x2="771.79" y2="165.65" stroke="#f0d000" stroke-width="0.5"/>
<line x1="774.88" y1="162.30" x2="774.88" y2="165.65" stroke="#f0d000" stroke-width="0.5"/>
<rect x="770.66" y="165.65" width="5.34" height="5.70" fill="#ffffff" stroke="#f0d000" stroke-width="0.6" fill-opacity="1"/>
<ellipse cx="773.34" cy="265.25" rx="3.29" ry="1.83" fill="#f8f000" stroke="none" stroke-width="0.6"/>
<ellipse cx="773.34" cy="265.25" rx="0.82" ry="0.61" fill="#e0a000" stroke="none" stroke-width="0.6"/>
<line x1="771.79" y1="265.25" x2="771.79" y2="261.89" stroke="#f0d000" stroke-width="0.5"/>
<line x1="774.88" y1="265.25" x2="774.88" y2="261.89" stroke="#f0d000" stroke-width="0.5"/>
<rect x="770.66" y="256.20" width="5.34" height="5.70" fill="#ffffff" stroke="#f0d000" stroke-width="0.6" fill-opacity="1"/>
<ellipse cx="784.12" cy="162.30" rx="3.29" ry="1.83" fill="#f8f000" stroke="none" stroke-width="0.6"/>
<ellipse cx="784.12" cy="162.30" rx="0.82" ry="0.61" fill="#e0a000" stroke="none" stroke-width="0.6"/>
<line x1="782.58" y1="162.30" x2="782.58" y2="165.65" stroke="#f0d000" stroke-width="0.5"/>
<line x1="785.66" y1="162.30" x2="785.66" y2="165.65" stroke="#f0d000" stroke-width="0.5"/>
<rect x="781.45" y="165.65" width="5.34" height="5.70" fill="#ffffff" stroke="#f0d000" stroke-width="0.6" fill-opacity="1"/>
<ellipse cx="784.12" cy="265.25" rx="3.29" ry="1.83" fill="#f8f000" stroke="none" stroke-width="0.6"/>
<ellipse cx="784.12" cy="265.25" rx="0.82" ry="0.61" fill="#e0a000" stroke="none" stroke-width="0.6"/>
<line x1="782.58" y1="265.25" x2="782.58" y2="261.89" stroke="#f0d000" stroke-width="0.5"/>
<line x1="785.66" y1="265.25" x2="785.66" y2="261.89" stroke="#f0d000" stroke-width="0.5"/>
<rect x="781.45" y="256.20" width="5.34" height="5.70" fill="#ffffff" stroke="#f0d000" stroke-width="0.6" fill-opacity="1"/>
<ellipse cx="796.85" cy="162.30" rx="3.29" ry="1.83" fill="#f8f000" stroke="none" stroke-width="0.6"/>
<ellipse cx="796.85" cy="162.30" rx="0.82" ry="0.61" fill="#e0a000" stroke="none" stroke-width="0.6"/>
<line x1="795.31" y1="162.30" x2="795.31" y2="165.65" stroke="#f0d000" stroke-width="0.5"/>
<line x1="798.39" y1="162.30" x2="798.39" y2="165.65" stroke="#f0d000" stroke-width="0.5"/>
<rect x="794.18" y="165.65" width="5.34" height="5.70" fill="#ffffff" stroke="#f0d000" stroke-width="0.6" fill-opacity="1"/>
<ellipse cx="796.85" cy="265.25" rx="3.29" ry="1.83" fill="#f8f000" stroke="none" stroke-width="0.6"/>
<ellipse cx="796.85" cy="265.25" rx="0.82" ry="0.61" fill="#e0a000" stroke="none" stroke-width="0.6"/>
<line x1="795.31" y1="265.25" x2="795.31" y2="261.89" stroke="#f0d000" stroke-width="0.5"/>
<line x1="798.39" y1="265.25" x2="798.39" y2="261.89" stroke="#f0d000" stroke-width="0.5"/>
<rect x="794.18" y="256.20" width="5.34" height="5.70" fill="#ffffff" stroke="#f0d000" stroke-width="0.6" fill-opacity="1"/>
<ellipse cx="809.08" cy="162.30" rx="3.29" ry="1.83" fill="#f8f000" stroke="none" stroke-width="0.6"/>
<ellipse cx="809.08" cy="162.30" rx="0.82" ry="0.61" fill="#e0a000" stroke="none" stroke-width="0.6"/>
<line x1="807.54" y1="162.30" x2="807.54" y2="165.65" stroke="#f0d000" stroke-width="0.5"/>
<line x1="810.62" y1="162.30" x2="810.62" y2="165.65" stroke="#f0d000" stroke-width="0.5"/>
<rect x="806.41" y="165.65" width="5.34" height="5.70" fill="#ffffff" stroke="#f0d000" stroke-width="0.6" fill-opacity="1"/>
<ellipse cx="809.08" cy="265.25" rx="3.29" ry="1.83" fill="#f8f000" stroke="none" stroke-width="0.6"/>
<ellipse cx="809.08" cy="265.25" rx="0.82" ry="0.61" fill="#e0a000" stroke="none" stroke-width="0.6"/>
<line x1="807.54" y1="265.25" x2="807.54" y2="261.89" stroke="#f0d000" stroke-width="0.5"/>
<line x1="810.62" y1="265.25" x2="810.62" y2="261.89" stroke="#f0d000" stroke-width="0.5"/>
<rect x="806.41" y="256.20" width="5.34" height="5.70" fill="#ffffff" stroke="#f0d000" stroke-width="0.6" fill-opacity="1"/>
<rect x="814.21" y="153.14" width="23.62" height="18.31" fill="#ffffff" stroke="#e8b0a0" stroke-width="0.5" fill-opacity="1"/>
<rect x="816.16" y="157.21" width="6.16" height="13.23" fill="none" stroke="#f0e060" stroke-width="0.5" fill-opacity="1"/>
<rect x="814.21" y="256.10" width="23.62" height="18.31" fill="#ffffff" stroke="#e8b0a0" stroke-width="0.5" fill-opacity="1"/>
<rect x="816.16" y="257.11" width="6.16" height="13.23" fill="none" stroke="#f0e060" stroke-width="0.5" fill-opacity="1"/>
<rect x="819.04" y="173.49" width="4.62" height="5.60" fill="#ffffff" stroke="#f0d000" stroke-width="0.5" fill-opacity="1"/>
<rect x="829.51" y="173.49" width="5.65" height="5.60" fill="#ffffff" stroke="#f0d000" stroke-width="0.5" fill-opacity="1"/>
<ellipse cx="838.55" cy="176.23" rx="1.44" ry="3.05" fill="#f8f000" stroke="none" stroke-width="0.6"/>
<ellipse cx="820.06" cy="176.23" rx="1.23" ry="2.65" fill="#f8f000" stroke="none" stroke-width="0.6"/>
<rect x="819.04" y="248.47" width="4.62" height="5.60" fill="#ffffff" stroke="#f0d000" stroke-width="0.5" fill-opacity="1"/>
<rect x="829.51" y="248.47" width="5.65" height="5.60" fill="#ffffff" stroke="#f0d000" stroke-width="0.5" fill-opacity="1"/>
<ellipse cx="838.55" cy="251.21" rx="1.44" ry="3.05" fill="#f8f000" stroke="none" stroke-width="0.6"/>
<ellipse cx="820.06" cy="251.21" rx="1.23" ry="2.65" fill="#f8f000" stroke="none" stroke-width="0.6"/>
<rect x="829.51" y="181.62" width="7.19" height="6.41" fill="#ffffff" stroke="#e8b0a0" stroke-width="0.4" fill-opacity="1"/>
<rect x="829.51" y="239.51" width="7.19" height="6.41" fill="#ffffff" stroke="#e8b0a0" stroke-width="0.4" fill-opacity="1"/>
<rect x="784.32" y="175.01" width="15.92" height="4.88" fill="#ffffff" stroke="#f0d000" stroke-width="0.6" fill-opacity="1"/>
<line x1="792.23" y1="175.01" x2="792.23" y2="179.90" stroke="#e0e0e0" stroke-width="0.5"/>
<ellipse cx="783.40" cy="177.45" rx="1.23" ry="3.05" fill="#f8f000" stroke="none" stroke-width="0.6"/>
<ellipse cx="801.89" cy="177.45" rx="1.23" ry="3.05" fill="#f8f000" stroke="none" stroke-width="0.6"/>
<rect x="784.32" y="247.45" width="15.92" height="4.88" fill="#ffffff" stroke="#f0d000" stroke-width="0.6" fill-opacity="1"/>
<line x1="792.23" y1="247.45" x2="792.23" y2="252.33" stroke="#e0e0e0" stroke-width="0.5"/>
<ellipse cx="783.40" cy="249.89" rx="1.23" ry="3.05" fill="#f8f000" stroke="none" stroke-width="0.6"/>
<ellipse cx="801.89" cy="249.89" rx="1.23" ry="3.05" fill="#f8f000" stroke="none" stroke-width="0.6"/>
<rect x="784.32" y="200.45" width="15.92" height="4.88" fill="#ffffff" stroke="#f0d000" stroke-width="0.6" fill-opacity="1"/>
<line x1="792.23" y1="200.45" x2="792.23" y2="205.33" stroke="#e0e0e0" stroke-width="0.5"/>
<ellipse cx="783.40" cy="202.89" rx="1.23" ry="3.05" fill="#f8f000" stroke="none" stroke-width="0.6"/>
<ellipse cx="801.89" cy="202.89" rx="1.23" ry="3.05" fill="#f8f000" stroke="none" stroke-width="0.6"/>
<rect x="784.32" y="222.01" width="15.92" height="4.88" fill="#ffffff" stroke="#f0d000" stroke-width="0.6" fill-opacity="1"/>
<line x1="792.23" y1="222.01" x2="792.23" y2="226.90" stroke="#e0e0e0" stroke-width="0.5"/>
<ellipse cx="783.40" cy="224.46" rx="1.23" ry="3.05" fill="#f8f000" stroke="none" stroke-width="0.6"/>
<ellipse cx="801.89" cy="224.46" rx="1.23" ry="3.05" fill="#f8f000" stroke="none" stroke-width="0.6"/>
<rect x="793.05" y="187.02" width="5.34" height="4.68" fill="#ffffff" stroke="#f0d000" stroke-width="0.6" fill-opacity="1"/>
<ellipse cx="801.78" cy="189.36" rx="1.23" ry="3.05" fill="#f8f000" stroke="none" stroke-width="0.6"/>
<rect x="793.05" y="236.05" width="5.34" height="4.68" fill="#ffffff" stroke="#f0d000" stroke-width="0.6" fill-opacity="1"/>
<ellipse cx="801.78" cy="238.39" rx="1.23" ry="3.05" fill="#f8f000" stroke="none" stroke-width="0.6"/>
<rect x="756.59" y="210.42" width="5.75" height="4.88" fill="#ffffff" stroke="#f0d000" stroke-width="0.6" fill-opacity="1"/>
<ellipse cx="754.34" cy="212.86" rx="1.23" ry="2.85" fill="#f8f000" stroke="none" stroke-width="0.6"/>
</g>
<rect x="715.5" y="145.5" width="151" height="145.5" fill="none" stroke="#4a5aa0" stroke-width="1"/>
<path d="M715.0,180.6 h-3.5 v12.9 h3.5" fill="none" stroke="#3cc83c" stroke-width="0.8"/>
<path d="M867.0,180.6 h3.5 v12.9 h-3.5" fill="none" stroke="#3cc83c" stroke-width="0.8"/>
<path d="M715.0,232.3 h-3.5 v12.4 h3.5" fill="none" stroke="#3cc83c" stroke-width="0.8"/>
<path d="M867.0,232.3 h3.5 v12.4 h-3.5" fill="none" stroke="#3cc83c" stroke-width="0.8"/>
<line x1="715.5" y1="145" x2="715.5" y2="291.5" stroke="#888" stroke-width="1"/>
<rect x="873" y="145" width="20.299999999999955" height="128.60000000000002" fill="url(#lg)"/>
<line x1="893.3" y1="145.00" x2="900.3" y2="145.00" stroke="#606060" stroke-width="0.9"/>
<text x="904" y="147.20" font-size="7.4" font-weight="bold" fill="#1a1a1a" stroke="#1a1a1a" stroke-width="0.2" textLength="25" lengthAdjust="spacingAndGlyphs">90.0000</text>
<line x1="873" y1="161.07" x2="893.3" y2="161.07" stroke="#000" stroke-opacity="0.55" stroke-width="0.9"/>
<line x1="893.3" y1="161.07" x2="900.3" y2="161.07" stroke="#606060" stroke-width="0.9"/>
<text x="904" y="163.27" font-size="7.4" font-weight="bold" fill="#1a1a1a" stroke="#1a1a1a" stroke-width="0.2" textLength="25" lengthAdjust="spacingAndGlyphs">80.0000</text>
<line x1="873" y1="177.15" x2="893.3" y2="177.15" stroke="#000" stroke-opacity="0.55" stroke-width="0.9"/>
<line x1="893.3" y1="177.15" x2="900.3" y2="177.15" stroke="#606060" stroke-width="0.9"/>
<text x="904" y="179.35" font-size="7.4" font-weight="bold" fill="#1a1a1a" stroke="#1a1a1a" stroke-width="0.2" textLength="25" lengthAdjust="spacingAndGlyphs">70.0000</text>
<line x1="873" y1="193.23" x2="893.3" y2="193.23" stroke="#000" stroke-opacity="0.55" stroke-width="0.9"/>
<line x1="893.3" y1="193.23" x2="900.3" y2="193.23" stroke="#606060" stroke-width="0.9"/>
<text x="904" y="195.43" font-size="7.4" font-weight="bold" fill="#1a1a1a" stroke="#1a1a1a" stroke-width="0.2" textLength="25" lengthAdjust="spacingAndGlyphs">60.0000</text>
<line x1="873" y1="209.30" x2="893.3" y2="209.30" stroke="#000" stroke-opacity="0.55" stroke-width="0.9"/>
<line x1="893.3" y1="209.30" x2="900.3" y2="209.30" stroke="#606060" stroke-width="0.9"/>
<text x="904" y="211.50" font-size="7.4" font-weight="bold" fill="#1a1a1a" stroke="#1a1a1a" stroke-width="0.2" textLength="25" lengthAdjust="spacingAndGlyphs">50.0000</text>
<line x1="873" y1="225.38" x2="893.3" y2="225.38" stroke="#000" stroke-opacity="0.55" stroke-width="0.9"/>
<line x1="893.3" y1="225.38" x2="900.3" y2="225.38" stroke="#606060" stroke-width="0.9"/>
<text x="904" y="227.57" font-size="7.4" font-weight="bold" fill="#1a1a1a" stroke="#1a1a1a" stroke-width="0.2" textLength="25" lengthAdjust="spacingAndGlyphs">40.0000</text>
<line x1="873" y1="241.45" x2="893.3" y2="241.45" stroke="#000" stroke-opacity="0.55" stroke-width="0.9"/>
<line x1="893.3" y1="241.45" x2="900.3" y2="241.45" stroke="#606060" stroke-width="0.9"/>
<text x="904" y="243.65" font-size="7.4" font-weight="bold" fill="#1a1a1a" stroke="#1a1a1a" stroke-width="0.2" textLength="25" lengthAdjust="spacingAndGlyphs">30.0000</text>
<line x1="873" y1="257.53" x2="893.3" y2="257.53" stroke="#000" stroke-opacity="0.55" stroke-width="0.9"/>
<line x1="893.3" y1="257.53" x2="900.3" y2="257.53" stroke="#606060" stroke-width="0.9"/>
<text x="904" y="259.73" font-size="7.4" font-weight="bold" fill="#1a1a1a" stroke="#1a1a1a" stroke-width="0.2" textLength="25" lengthAdjust="spacingAndGlyphs">20.0000</text>
<line x1="893.3" y1="273.60" x2="900.3" y2="273.60" stroke="#606060" stroke-width="0.9"/>
<text x="904" y="275.80" font-size="7.4" font-weight="bold" fill="#1a1a1a" stroke="#1a1a1a" stroke-width="0.2" textLength="25" lengthAdjust="spacingAndGlyphs">10.0000</text>
<text x="873" y="139.3" font-size="7.03" font-weight="bold" fill="#222" textLength="56" lengthAdjust="spacingAndGlyphs">Relative humidity</text>
<g clip-path="url(#cage)">
<g shape-rendering="crispEdges"><rect x="115.0" y="419.0" width="9.0" height="1.55" fill="#84f400"/>
<rect x="124.0" y="419.0" width="15.0" height="1.55" fill="#50f000"/>
<rect x="139.0" y="419.0" width="33.0" height="1.55" fill="#20f000"/>
<rect x="172.0" y="419.0" width="33.0" height="1.55" fill="#00f050"/>
<rect x="205.0" y="419.0" width="15.0" height="1.55" fill="#00f0a8"/>
<rect x="220.0" y="419.0" width="30.0" height="1.55" fill="#00f0f0"/>
<rect x="250.0" y="419.0" width="6.0" height="1.55" fill="#00f0a8"/>
<rect x="256.0" y="419.0" width="10.5" height="1.55" fill="#00f050"/>
<rect x="266.5" y="419.0" width="10.5" height="1.55" fill="#20f000"/>
<rect x="115.0" y="420.5" width="10.5" height="1.55" fill="#84f400"/>
<rect x="125.5" y="420.5" width="13.5" height="1.55" fill="#50f000"/>
<rect x="139.0" y="420.5" width="33.0" height="1.55" fill="#20f000"/>
<rect x="172.0" y="420.5" width="33.0" height="1.55" fill="#00f050"/>
<rect x="205.0" y="420.5" width="16.5" height="1.55" fill="#00f0a8"/>
<rect x="221.5" y="420.5" width="28.5" height="1.55" fill="#00f0f0"/>
<rect x="250.0" y="420.5" width="6.0" height="1.55" fill="#00f0a8"/>
<rect x="256.0" y="420.5" width="10.5" height="1.55" fill="#00f050"/>
<rect x="266.5" y="420.5" width="10.5" height="1.55" fill="#20f000"/>
<rect x="115.0" y="422.0" width="10.5" height="1.55" fill="#84f400"/>
<rect x="125.5" y="422.0" width="15.0" height="1.55" fill="#50f000"/>
<rect x="140.5" y="422.0" width="33.0" height="1.55" fill="#20f000"/>
<rect x="173.5" y="422.0" width="33.0" height="1.55" fill="#00f050"/>
<rect x="206.5" y="422.0" width="18.0" height="1.55" fill="#00f0a8"/>
<rect x="224.5" y="422.0" width="24.0" height="1.55" fill="#00f0f0"/>
<rect x="248.5" y="422.0" width="7.5" height="1.55" fill="#00f0a8"/>
<rect x="256.0" y="422.0" width="10.5" height="1.55" fill="#00f050"/>
<rect x="266.5" y="422.0" width="10.5" height="1.55" fill="#20f000"/>
<rect x="115.0" y="423.5" width="12.0" height="1.55" fill="#84f400"/>
<rect x="127.0" y="423.5" width="15.0" height="1.55" fill="#50f000"/>
<rect x="142.0" y="423.5" width="31.5" height="1.55" fill="#20f000"/>
<rect x="173.5" y="423.5" width="33.0" height="1.55" fill="#00f050"/>
<rect x="206.5" y="423.5" width="22.5" height="1.55" fill="#00f0a8"/>
<rect x="229.0" y="423.5" width="19.5" height="1.55" fill="#00f0f0"/>
<rect x="248.5" y="423.5" width="7.5" height="1.55" fill="#00f0a8"/>
<rect x="256.0" y="423.5" width="12.0" height="1.55" fill="#00f050"/>
<rect x="268.0" y="423.5" width="9.0" height="1.55" fill="#20f000"/>
<rect x="115.0" y="425.0" width="13.5" height="1.55" fill="#84f400"/>
<rect x="128.5" y="425.0" width="15.0" height="1.55" fill="#50f000"/>
<rect x="143.5" y="425.0" width="31.5" height="1.55" fill="#20f000"/>
<rect x="175.0" y="425.0" width="33.0" height="1.55" fill="#00f050"/>
<rect x="208.0" y="425.0" width="25.5" height="1.55" fill="#00f0a8"/>
<rect x="233.5" y="425.0" width="13.5" height="1.55" fill="#00f0f0"/>
<rect x="247.0" y="425.0" width="9.0" height="1.55" fill="#00f0a8"/>
<rect x="256.0" y="425.0" width="12.0" height="1.55" fill="#00f050"/>
<rect x="268.0" y="425.0" width="9.0" height="1.55" fill="#20f000"/>
<rect x="115.0" y="426.5" width="15.0" height="1.55" fill="#84f400"/>
<rect x="130.0" y="426.5" width="15.0" height="1.55" fill="#50f000"/>
<rect x="145.0" y="426.5" width="34.5" height="1.55" fill="#20f000"/>
<rect x="179.5" y="426.5" width="31.5" height="1.55" fill="#00f050"/>
<rect x="211.0" y="426.5" width="27.0" height="1.55" fill="#00f0a8"/>
<rect x="238.0" y="426.5" width="9.0" height="1.55" fill="#00f0f0"/>
<rect x="247.0" y="426.5" width="9.0" height="1.55" fill="#00f0a8"/>
<rect x="256.0" y="426.5" width="12.0" height="1.55" fill="#00f050"/>
<rect x="268.0" y="426.5" width="9.0" height="1.55" fill="#20f000"/>
<rect x="115.0" y="428.0" width="1.5" height="1.55" fill="#c0f000"/>
<rect x="116.5" y="428.0" width="15.0" height="1.55" fill="#84f400"/>
<rect x="131.5" y="428.0" width="16.5" height="1.55" fill="#50f000"/>
<rect x="148.0" y="428.0" width="34.5" height="1.55" fill="#20f000"/>
<rect x="182.5" y="428.0" width="33.0" height="1.55" fill="#00f050"/>
<rect x="215.5" y="428.0" width="40.5" height="1.55" fill="#00f0a8"/>
<rect x="256.0" y="428.0" width="12.0" height="1.55" fill="#00f050"/>
<rect x="268.0" y="428.0" width="9.0" height="1.55" fill="#20f000"/>
<rect x="115.0" y="429.5" width="4.5" height="1.55" fill="#c0f000"/>
<rect x="119.5" y="429.5" width="13.5" height="1.55" fill="#84f400"/>
<rect x="133.0" y="429.5" width="16.5" height="1.55" fill="#50f000"/>
<rect x="149.5" y="429.5" width="34.5" height="1.55" fill="#20f000"/>
<rect x="184.0" y="429.5" width="42.0" height="1.55" fill="#00f050"/>
<rect x="226.0" y="429.5" width="30.0" height="1.55" fill="#00f0a8"/>
<rect x="256.0" y="429.5" width="12.0" height="1.55" fill="#00f050"/>
<rect x="268.0" y="429.5" width="9.0" height="1.55" fill="#20f000"/>
<rect x="115.0" y="431.0" width="6.0" height="1.55" fill="#c0f000"/>
<rect x="121.0" y="431.0" width="13.5" height="1.55" fill="#84f400"/>
<rect x="134.5" y="431.0" width="16.5" height="1.55" fill="#50f000"/>
<rect x="151.0" y="431.0" width="34.5" height="1.55" fill="#20f000"/>
<rect x="185.5" y="431.0" width="45.0" height="1.55" fill="#00f050"/>
<rect x="230.5" y="431.0" width="25.5" height="1.55" fill="#00f0a8"/>
<rect x="256.0" y="431.0" width="12.0" height="1.55" fill="#00f050"/>
<rect x="268.0" y="431.0" width="9.0" height="1.55" fill="#20f000"/>
<rect x="115.0" y="432.5" width="7.5" height="1.55" fill="#c0f000"/>
<rect x="122.5" y="432.5" width="15.0" height="1.55" fill="#84f400"/>
<rect x="137.5" y="432.5" width="15.0" height="1.55" fill="#50f000"/>
<rect x="152.5" y="432.5" width="34.5" height="1.55" fill="#20f000"/>
<rect x="187.0" y="432.5" width="46.5" height="1.55" fill="#00f050"/>
<rect x="233.5" y="432.5" width="21.0" height="1.55" fill="#00f0a8"/>
<rect x="254.5" y="432.5" width="13.5" height="1.55" fill="#00f050"/>
<rect x="268.0" y="432.5" width="9.0" height="1.55" fill="#20f000"/>
<rect x="115.0" y="434.0" width="9.0" height="1.55" fill="#c0f000"/>
<rect x="124.0" y="434.0" width="15.0" height="1.55" fill="#84f400"/>
<rect x="139.0" y="434.0" width="15.0" height="1.55" fill="#50f000"/>
<rect x="154.0" y="434.0" width="34.5" height="1.55" fill="#20f000"/>
<rect x="188.5" y="434.0" width="48.0" height="1.55" fill="#00f050"/>
<rect x="236.5" y="434.0" width="18.0" height="1.55" fill="#00f0a8"/>
<rect x="254.5" y="434.0" width="13.5" height="1.55" fill="#00f050"/>
<rect x="268.0" y="434.0" width="9.0" height="1.55" fill="#20f000"/>
<rect x="115.0" y="435.5" width="10.5" height="1.55" fill="#c0f000"/>
<rect x="125.5" y="435.5" width="16.5" height="1.55" fill="#84f400"/>
<rect x="142.0" y="435.5" width="15.0" height="1.55" fill="#50f000"/>
<rect x="157.0" y="435.5" width="31.5" height="1.55" fill="#20f000"/>
<rect x="188.5" y="435.5" width="49.5" height="1.55" fill="#00f050"/>
<rect x="238.0" y="435.5" width="15.0" height="1.55" fill="#00f0a8"/>
<rect x="253.0" y="435.5" width="15.0" height="1.55" fill="#00f050"/>
<rect x="268.0" y="435.5" width="9.0" height="1.55" fill="#20f000"/>
<rect x="115.0" y="437.0" width="13.5" height="1.55" fill="#c0f000"/>
<rect x="128.5" y="437.0" width="16.5" height="1.55" fill="#84f400"/>
<rect x="145.0" y="437.0" width="13.5" height="1.55" fill="#50f000"/>
<rect x="158.5" y="437.0" width="31.5" height="1.55" fill="#20f000"/>
<rect x="190.0" y="437.0" width="49.5" height="1.55" fill="#00f050"/>
<rect x="239.5" y="437.0" width="12.0" height="1.55" fill="#00f0a8"/>
<rect x="251.5" y="437.0" width="15.0" height="1.55" fill="#00f050"/>
<rect x="266.5" y="437.0" width="10.5" height="1.55" fill="#20f000"/>
<rect x="115.0" y="438.5" width="16.5" height="1.55" fill="#c0f000"/>
<rect x="131.5" y="438.5" width="16.5" height="1.55" fill="#84f400"/>
<rect x="148.0" y="438.5" width="13.5" height="1.55" fill="#50f000"/>
<rect x="161.5" y="438.5" width="28.5" height="1.55" fill="#20f000"/>
<rect x="190.0" y="438.5" width="54.0" height="1.55" fill="#00f050"/>
<rect x="244.0" y="438.5" width="3.0" height="1.55" fill="#00f0a8"/>
<rect x="247.0" y="438.5" width="19.5" height="1.55" fill="#00f050"/>
<rect x="266.5" y="438.5" width="10.5" height="1.55" fill="#20f000"/>
<rect x="115.0" y="440.0" width="19.5" height="1.55" fill="#c0f000"/>
<rect x="134.5" y="440.0" width="16.5" height="1.55" fill="#84f400"/>
<rect x="151.0" y="440.0" width="18.0" height="1.55" fill="#50f000"/>
<rect x="169.0" y="440.0" width="22.5" height="1.55" fill="#20f000"/>
<rect x="191.5" y="440.0" width="27.0" height="1.55" fill="#00f050"/>
<rect x="218.5" y="440.0" width="9.0" height="1.55" fill="#20f000"/>
<rect x="227.5" y="440.0" width="37.5" height="1.55" fill="#00f050"/>
<rect x="265.0" y="440.0" width="12.0" height="1.55" fill="#20f000"/>
<rect x="115.0" y="441.5" width="24.0" height="1.55" fill="#c0f000"/>
<rect x="139.0" y="441.5" width="13.5" height="1.55" fill="#84f400"/>
<rect x="152.5" y="441.5" width="25.5" height="1.55" fill="#50f000"/>
<rect x="178.0" y="441.5" width="15.0" height="1.55" fill="#20f000"/>
<rect x="193.0" y="441.5" width="16.5" height="1.55" fill="#00f050"/>
<rect x="209.5" y="441.5" width="21.0" height="1.55" fill="#20f000"/>
<rect x="230.5" y="441.5" width="33.0" height="1.55" fill="#00f050"/>
<rect x="263.5" y="441.5" width="13.5" height="1.55" fill="#20f000"/>
<rect x="115.0" y="443.0" width="1.5" height="1.55" fill="#f0f000"/>
<rect x="116.5" y="443.0" width="25.5" height="1.55" fill="#c0f000"/>
<rect x="142.0" y="443.0" width="13.5" height="1.55" fill="#84f400"/>
<rect x="155.5" y="443.0" width="24.0" height="1.55" fill="#50f000"/>
<rect x="179.5" y="443.0" width="15.0" height="1.55" fill="#20f000"/>
<rect x="194.5" y="443.0" width="9.0" height="1.55" fill="#00f050"/>
<rect x="203.5" y="443.0" width="30.0" height="1.55" fill="#20f000"/>
<rect x="233.5" y="443.0" width="30.0" height="1.55" fill="#00f050"/>
<rect x="263.5" y="443.0" width="13.5" height="1.55" fill="#20f000"/>
<rect x="115.0" y="444.5" width="10.5" height="1.55" fill="#f0f000"/>
<rect x="125.5" y="444.5" width="19.5" height="1.55" fill="#c0f000"/>
<rect x="145.0" y="444.5" width="15.0" height="1.55" fill="#84f400"/>
<rect x="160.0" y="444.5" width="21.0" height="1.55" fill="#50f000"/>
<rect x="181.0" y="444.5" width="55.5" height="1.55" fill="#20f000"/>
<rect x="236.5" y="444.5" width="24.0" height="1.55" fill="#00f050"/>
<rect x="260.5" y="444.5" width="16.5" height="1.55" fill="#20f000"/>
<rect x="115.0" y="446.0" width="16.5" height="1.55" fill="#f0f000"/>
<rect x="131.5" y="446.0" width="16.5" height="1.55" fill="#c0f000"/>
<rect x="148.0" y="446.0" width="15.0" height="1.55" fill="#84f400"/>
<rect x="163.0" y="446.0" width="19.5" height="1.55" fill="#50f000"/>
<rect x="182.5" y="446.0" width="63.0" height="1.55" fill="#20f000"/>
<rect x="245.5" y="446.0" width="9.0" height="1.55" fill="#00f050"/>
<rect x="254.5" y="446.0" width="19.5" height="1.55" fill="#20f000"/>
<rect x="274.0" y="446.0" width="3.0" height="1.55" fill="#50f000"/>
<rect x="115.0" y="447.5" width="21.0" height="1.55" fill="#f0f000"/>
<rect x="136.0" y="447.5" width="15.0" height="1.55" fill="#c0f000"/>
<rect x="151.0" y="447.5" width="16.5" height="1.55" fill="#84f400"/>
<rect x="167.5" y="447.5" width="16.5" height="1.55" fill="#50f000"/>
<rect x="184.0" y="447.5" width="88.5" height="1.55" fill="#20f000"/>
<rect x="272.5" y="447.5" width="4.5" height="1.55" fill="#50f000"/>
<rect x="115.0" y="449.0" width="24.0" height="1.55" fill="#f0f000"/>
<rect x="139.0" y="449.0" width="15.0" height="1.55" fill="#c0f000"/>
<rect x="154.0" y="449.0" width="16.5" height="1.55" fill="#84f400"/>
<rect x="170.5" y="449.0" width="15.0" height="1.55" fill="#50f000"/>
<rect x="185.5" y="449.0" width="84.0" height="1.55" fill="#20f000"/>
<rect x="269.5" y="449.0" width="7.5" height="1.55" fill="#50f000"/>
<rect x="115.0" y="450.5" width="27.0" height="1.55" fill="#f0f000"/>
<rect x="142.0" y="450.5" width="15.0" height="1.55" fill="#c0f000"/>
<rect x="157.0" y="450.5" width="16.5" height="1.55" fill="#84f400"/>
<rect x="173.5" y="450.5" width="15.0" height="1.55" fill="#50f000"/>
<rect x="188.5" y="450.5" width="79.5" height="1.55" fill="#20f000"/>
<rect x="268.0" y="450.5" width="9.0" height="1.55" fill="#50f000"/>
<rect x="115.0" y="452.0" width="28.5" height="1.55" fill="#f0f000"/>
<rect x="143.5" y="452.0" width="16.5" height="1.55" fill="#c0f000"/>
<rect x="160.0" y="452.0" width="16.5" height="1.55" fill="#84f400"/>
<rect x="176.5" y="452.0" width="15.0" height="1.55" fill="#50f000"/>
<rect x="191.5" y="452.0" width="72.0" height="1.55" fill="#20f000"/>
<rect x="263.5" y="452.0" width="13.5" height="1.55" fill="#50f000"/>
<rect x="115.0" y="453.5" width="4.5" height="1.55" fill="#f0f000"/>
<rect x="119.5" y="453.5" width="12.0" height="1.55" fill="#ffc800"/>
<rect x="131.5" y="453.5" width="15.0" height="1.55" fill="#f0f000"/>
<rect x="146.5" y="453.5" width="16.5" height="1.55" fill="#c0f000"/>
<rect x="163.0" y="453.5" width="15.0" height="1.55" fill="#84f400"/>
<rect x="178.0" y="453.5" width="16.5" height="1.55" fill="#50f000"/>
<rect x="194.5" y="453.5" width="48.0" height="1.55" fill="#20f000"/>
<rect x="242.5" y="453.5" width="31.5" height="1.55" fill="#50f000"/>
<rect x="274.0" y="453.5" width="3.0" height="1.55" fill="#84f400"/>
<rect x="115.0" y="455.0" width="21.0" height="1.55" fill="#ffc800"/>
<rect x="136.0" y="455.0" width="13.5" height="1.55" fill="#f0f000"/>
<rect x="149.5" y="455.0" width="16.5" height="1.55" fill="#c0f000"/>
<rect x="166.0" y="455.0" width="16.5" height="1.55" fill="#84f400"/>
<rect x="182.5" y="455.0" width="16.5" height="1.55" fill="#50f000"/>
<rect x="199.0" y="455.0" width="34.5" height="1.55" fill="#20f000"/>
<rect x="233.5" y="455.0" width="36.0" height="1.55" fill="#50f000"/>
<rect x="269.5" y="455.0" width="7.5" height="1.55" fill="#84f400"/>
<rect x="115.0" y="456.5" width="24.0" height="1.55" fill="#ffc800"/>
<rect x="139.0" y="456.5" width="13.5" height="1.55" fill="#f0f000"/>
<rect x="152.5" y="456.5" width="16.5" height="1.55" fill="#c0f000"/>
<rect x="169.0" y="456.5" width="16.5" height="1.55" fill="#84f400"/>
<rect x="185.5" y="456.5" width="16.5" height="1.55" fill="#50f000"/>
<rect x="202.0" y="456.5" width="27.0" height="1.55" fill="#20f000"/>
<rect x="229.0" y="456.5" width="36.0" height="1.55" fill="#50f000"/>
<rect x="265.0" y="456.5" width="12.0" height="1.55" fill="#84f400"/>
<rect x="115.0" y="458.0" width="25.5" height="1.55" fill="#ffc800"/>
<rect x="140.5" y="458.0" width="15.0" height="1.55" fill="#f0f000"/>
<rect x="155.5" y="458.0" width="16.5" height="1.55" fill="#c0f000"/>
<rect x="172.0" y="458.0" width="18.0" height="1.55" fill="#84f400"/>
<rect x="190.0" y="458.0" width="13.5" height="1.55" fill="#50f000"/>
<rect x="203.5" y="458.0" width="22.5" height="1.55" fill="#20f000"/>
<rect x="226.0" y="458.0" width="33.0" height="1.55" fill="#50f000"/>
<rect x="259.0" y="458.0" width="15.0" height="1.55" fill="#84f400"/>
<rect x="274.0" y="458.0" width="3.0" height="1.55" fill="#c0f000"/>
<rect x="115.0" y="459.5" width="28.5" height="1.55" fill="#ffc800"/>
<rect x="143.5" y="459.5" width="16.5" height="1.55" fill="#f0f000"/>
<rect x="160.0" y="459.5" width="16.5" height="1.55" fill="#c0f000"/>
<rect x="176.5" y="459.5" width="16.5" height="1.55" fill="#84f400"/>
<rect x="193.0" y="459.5" width="12.0" height="1.55" fill="#50f000"/>
<rect x="205.0" y="459.5" width="19.5" height="1.55" fill="#20f000"/>
<rect x="224.5" y="459.5" width="25.5" height="1.55" fill="#50f000"/>
<rect x="250.0" y="459.5" width="19.5" height="1.55" fill="#84f400"/>
<rect x="269.5" y="459.5" width="7.5" height="1.55" fill="#c0f000"/>
<rect x="115.0" y="461.0" width="4.5" height="1.55" fill="#ffc800"/>
<rect x="119.5" y="461.0" width="12.0" height="1.55" fill="#ffa000"/>
<rect x="131.5" y="461.0" width="13.5" height="1.55" fill="#ffc800"/>
<rect x="145.0" y="461.0" width="18.0" height="1.55" fill="#f0f000"/>
<rect x="163.0" y="461.0" width="16.5" height="1.55" fill="#c0f000"/>
<rect x="179.5" y="461.0" width="16.5" height="1.55" fill="#84f400"/>
<rect x="196.0" y="461.0" width="10.5" height="1.55" fill="#50f000"/>
<rect x="206.5" y="461.0" width="16.5" height="1.55" fill="#20f000"/>
<rect x="223.0" y="461.0" width="21.0" height="1.55" fill="#50f000"/>
<rect x="244.0" y="461.0" width="21.0" height="1.55" fill="#84f400"/>
<rect x="265.0" y="461.0" width="12.0" height="1.55" fill="#c0f000"/>
<rect x="115.0" y="462.5" width="19.5" height="1.55" fill="#ffa000"/>
<rect x="134.5" y="462.5" width="13.5" height="1.55" fill="#ffc800"/>
<rect x="148.0" y="462.5" width="18.0" height="1.55" fill="#f0f000"/>
<rect x="166.0" y="462.5" width="16.5" height="1.55" fill="#c0f000"/>
<rect x="182.5" y="462.5" width="16.5" height="1.55" fill="#84f400"/>
<rect x="199.0" y="462.5" width="7.5" height="1.55" fill="#50f000"/>
<rect x="206.5" y="462.5" width="16.5" height="1.55" fill="#20f000"/>
<rect x="223.0" y="462.5" width="18.0" height="1.55" fill="#50f000"/>
<rect x="241.0" y="462.5" width="19.5" height="1.55" fill="#84f400"/>
<rect x="260.5" y="462.5" width="15.0" height="1.55" fill="#c0f000"/>
<rect x="275.5" y="462.5" width="1.5" height="1.55" fill="#f0f000"/>
<rect x="115.0" y="464.0" width="22.5" height="1.55" fill="#ffa000"/>
<rect x="137.5" y="464.0" width="15.0" height="1.55" fill="#ffc800"/>
<rect x="152.5" y="464.0" width="16.5" height="1.55" fill="#f0f000"/>
<rect x="169.0" y="464.0" width="18.0" height="1.55" fill="#c0f000"/>
<rect x="187.0" y="464.0" width="12.0" height="1.55" fill="#84f400"/>
<rect x="199.0" y="464.0" width="7.5" height="1.55" fill="#50f000"/>
<rect x="206.5" y="464.0" width="16.5" height="1.55" fill="#20f000"/>
<rect x="223.0" y="464.0" width="15.0" height="1.55" fill="#50f000"/>
<rect x="238.0" y="464.0" width="18.0" height="1.55" fill="#84f400"/>
<rect x="256.0" y="464.0" width="15.0" height="1.55" fill="#c0f000"/>
<rect x="271.0" y="464.0" width="6.0" height="1.55" fill="#f0f000"/>
<rect x="115.0" y="465.5" width="25.5" height="1.55" fill="#ffa000"/>
<rect x="140.5" y="465.5" width="15.0" height="1.55" fill="#ffc800"/>
<rect x="155.5" y="465.5" width="16.5" height="1.55" fill="#f0f000"/>
<rect x="172.0" y="465.5" width="16.5" height="1.55" fill="#c0f000"/>
<rect x="188.5" y="465.5" width="12.0" height="1.55" fill="#84f400"/>
<rect x="200.5" y="465.5" width="6.0" height="1.55" fill="#50f000"/>
<rect x="206.5" y="465.5" width="16.5" height="1.55" fill="#20f000"/>
<rect x="223.0" y="465.5" width="13.5" height="1.55" fill="#50f000"/>
<rect x="236.5" y="465.5" width="16.5" height="1.55" fill="#84f400"/>
<rect x="253.0" y="465.5" width="15.0" height="1.55" fill="#c0f000"/>
<rect x="268.0" y="465.5" width="9.0" height="1.55" fill="#f0f000"/>
<rect x="115.0" y="467.0" width="28.5" height="1.55" fill="#ffa000"/>
<rect x="143.5" y="467.0" width="16.5" height="1.55" fill="#ffc800"/>
<rect x="160.0" y="467.0" width="15.0" height="1.55" fill="#f0f000"/>
<rect x="175.0" y="467.0" width="15.0" height="1.55" fill="#c0f000"/>
<rect x="190.0" y="467.0" width="10.5" height="1.55" fill="#84f400"/>
<rect x="200.5" y="467.0" width="6.0" height="1.55" fill="#50f000"/>
<rect x="206.5" y="467.0" width="16.5" height="1.55" fill="#20f000"/>
<rect x="223.0" y="467.0" width="12.0" height="1.55" fill="#50f000"/>
<rect x="235.0" y="467.0" width="15.0" height="1.55" fill="#84f400"/>
<rect x="250.0" y="467.0" width="15.0" height="1.55" fill="#c0f000"/>
<rect x="265.0" y="467.0" width="12.0" height="1.55" fill="#f0f000"/>
<rect x="115.0" y="468.5" width="31.5" height="1.55" fill="#ffa000"/>
<rect x="146.5" y="468.5" width="16.5" height="1.55" fill="#ffc800"/>
<rect x="163.0" y="468.5" width="13.5" height="1.55" fill="#f0f000"/>
<rect x="176.5" y="468.5" width="15.0" height="1.55" fill="#c0f000"/>
<rect x="191.5" y="468.5" width="9.0" height="1.55" fill="#84f400"/>
<rect x="200.5" y="468.5" width="6.0" height="1.55" fill="#50f000"/>
<rect x="206.5" y="468.5" width="16.5" height="1.55" fill="#20f000"/>
<rect x="223.0" y="468.5" width="12.0" height="1.55" fill="#50f000"/>
<rect x="235.0" y="468.5" width="13.5" height="1.55" fill="#84f400"/>
<rect x="248.5" y="468.5" width="15.0" height="1.55" fill="#c0f000"/>
<rect x="263.5" y="468.5" width="13.5" height="1.55" fill="#f0f000"/>
<rect x="115.0" y="470.0" width="34.5" height="1.55" fill="#ffa000"/>
<rect x="149.5" y="470.0" width="16.5" height="1.55" fill="#ffc800"/>
<rect x="166.0" y="470.0" width="12.0" height="1.55" fill="#f0f000"/>
<rect x="178.0" y="470.0" width="15.0" height="1.55" fill="#c0f000"/>
<rect x="193.0" y="470.0" width="7.5" height="1.55" fill="#84f400"/>
<rect x="200.5" y="470.0" width="6.0" height="1.55" fill="#50f000"/>
<rect x="206.5" y="470.0" width="16.5" height="1.55" fill="#20f000"/>
<rect x="223.0" y="470.0" width="10.5" height="1.55" fill="#50f000"/>
<rect x="233.5" y="470.0" width="12.0" height="1.55" fill="#84f400"/>
<rect x="245.5" y="470.0" width="16.5" height="1.55" fill="#c0f000"/>
<rect x="262.0" y="470.0" width="15.0" height="1.55" fill="#f0f000"/>
<rect x="115.0" y="471.5" width="6.0" height="1.55" fill="#ffa000"/>
<rect x="121.0" y="471.5" width="9.0" height="1.55" fill="#ff6800"/>
<rect x="130.0" y="471.5" width="24.0" height="1.55" fill="#ffa000"/>
<rect x="154.0" y="471.5" width="15.0" height="1.55" fill="#ffc800"/>
<rect x="169.0" y="471.5" width="12.0" height="1.55" fill="#f0f000"/>
<rect x="181.0" y="471.5" width="12.0" height="1.55" fill="#c0f000"/>
<rect x="193.0" y="471.5" width="7.5" height="1.55" fill="#84f400"/>
<rect x="200.5" y="471.5" width="6.0" height="1.55" fill="#50f000"/>
<rect x="206.5" y="471.5" width="16.5" height="1.55" fill="#20f000"/>
<rect x="223.0" y="471.5" width="10.5" height="1.55" fill="#50f000"/>
<rect x="233.5" y="471.5" width="10.5" height="1.55" fill="#84f400"/>
<rect x="244.0" y="471.5" width="15.0" height="1.55" fill="#c0f000"/>
<rect x="259.0" y="471.5" width="18.0" height="1.55" fill="#f0f000"/>
<rect x="115.0" y="473.0" width="19.5" height="1.55" fill="#ff6800"/>
<rect x="134.5" y="473.0" width="24.0" height="1.55" fill="#ffa000"/>
<rect x="158.5" y="473.0" width="12.0" height="1.55" fill="#ffc800"/>
<rect x="170.5" y="473.0" width="10.5" height="1.55" fill="#f0f000"/>
<rect x="181.0" y="473.0" width="12.0" height="1.55" fill="#c0f000"/>
<rect x="193.0" y="473.0" width="7.5" height="1.55" fill="#84f400"/>
<rect x="200.5" y="473.0" width="6.0" height="1.55" fill="#50f000"/>
<rect x="206.5" y="473.0" width="16.5" height="1.55" fill="#20f000"/>
<rect x="223.0" y="473.0" width="10.5" height="1.55" fill="#50f000"/>
<rect x="233.5" y="473.0" width="10.5" height="1.55" fill="#84f400"/>
<rect x="244.0" y="473.0" width="13.5" height="1.55" fill="#c0f000"/>
<rect x="257.5" y="473.0" width="19.5" height="1.55" fill="#f0f000"/>
<rect x="115.0" y="474.5" width="25.5" height="1.55" fill="#ff6800"/>
<rect x="140.5" y="474.5" width="21.0" height="1.55" fill="#ffa000"/>
<rect x="161.5" y="474.5" width="10.5" height="1.55" fill="#ffc800"/>
<rect x="172.0" y="474.5" width="10.5" height="1.55" fill="#f0f000"/>
<rect x="182.5" y="474.5" width="10.5" height="1.55" fill="#c0f000"/>
<rect x="193.0" y="474.5" width="7.5" height="1.55" fill="#84f400"/>
<rect x="200.5" y="474.5" width="6.0" height="1.55" fill="#50f000"/>
<rect x="206.5" y="474.5" width="16.5" height="1.55" fill="#20f000"/>
<rect x="223.0" y="474.5" width="10.5" height="1.55" fill="#50f000"/>
<rect x="233.5" y="474.5" width="9.0" height="1.55" fill="#84f400"/>
<rect x="242.5" y="474.5" width="13.5" height="1.55" fill="#c0f000"/>
<rect x="256.0" y="474.5" width="21.0" height="1.55" fill="#f0f000"/>
<rect x="115.0" y="476.0" width="31.5" height="1.55" fill="#ff6800"/>
<rect x="146.5" y="476.0" width="16.5" height="1.55" fill="#ffa000"/>
<rect x="163.0" y="476.0" width="10.5" height="1.55" fill="#ffc800"/>
<rect x="173.5" y="476.0" width="10.5" height="1.55" fill="#f0f000"/>
<rect x="184.0" y="476.0" width="9.0" height="1.55" fill="#c0f000"/>
<rect x="193.0" y="476.0" width="7.5" height="1.55" fill="#84f400"/>
<rect x="200.5" y="476.0" width="6.0" height="1.55" fill="#50f000"/>
<rect x="206.5" y="476.0" width="16.5" height="1.55" fill="#20f000"/>
<rect x="223.0" y="476.0" width="10.5" height="1.55" fill="#50f000"/>
<rect x="233.5" y="476.0" width="9.0" height="1.55" fill="#84f400"/>
<rect x="242.5" y="476.0" width="12.0" height="1.55" fill="#c0f000"/>
<rect x="254.5" y="476.0" width="22.5" height="1.55" fill="#f0f000"/>
<rect x="115.0" y="477.5" width="36.0" height="1.55" fill="#ff6800"/>
<rect x="151.0" y="477.5" width="15.0" height="1.55" fill="#ffa000"/>
<rect x="166.0" y="477.5" width="9.0" height="1.55" fill="#ffc800"/>
<rect x="175.0" y="477.5" width="9.0" height="1.55" fill="#f0f000"/>
<rect x="184.0" y="477.5" width="7.5" height="1.55" fill="#c0f000"/>
<rect x="191.5" y="477.5" width="9.0" height="1.55" fill="#84f400"/>
<rect x="200.5" y="477.5" width="6.0" height="1.55" fill="#50f000"/>
<rect x="206.5" y="477.5" width="16.5" height="1.55" fill="#20f000"/>
<rect x="223.0" y="477.5" width="10.5" height="1.55" fill="#50f000"/>
<rect x="233.5" y="477.5" width="7.5" height="1.55" fill="#84f400"/>
<rect x="241.0" y="477.5" width="12.0" height="1.55" fill="#c0f000"/>
<rect x="253.0" y="477.5" width="24.0" height="1.55" fill="#f0f000"/>
<rect x="115.0" y="479.0" width="39.0" height="1.55" fill="#ff6800"/>
<rect x="154.0" y="479.0" width="13.5" height="1.55" fill="#ffa000"/>
<rect x="167.5" y="479.0" width="7.5" height="1.55" fill="#ffc800"/>
<rect x="175.0" y="479.0" width="9.0" height="1.55" fill="#f0f000"/>
<rect x="184.0" y="479.0" width="7.5" height="1.55" fill="#c0f000"/>
<rect x="191.5" y="479.0" width="7.5" height="1.55" fill="#84f400"/>
<rect x="199.0" y="479.0" width="7.5" height="1.55" fill="#50f000"/>
<rect x="206.5" y="479.0" width="16.5" height="1.55" fill="#20f000"/>
<rect x="223.0" y="479.0" width="10.5" height="1.55" fill="#50f000"/>
<rect x="233.5" y="479.0" width="7.5" height="1.55" fill="#84f400"/>
<rect x="241.0" y="479.0" width="10.5" height="1.55" fill="#c0f000"/>
<rect x="251.5" y="479.0" width="25.5" height="1.55" fill="#f0f000"/>
<rect x="115.0" y="480.5" width="40.5" height="1.55" fill="#ff6800"/>
<rect x="155.5" y="480.5" width="12.0" height="1.55" fill="#ffa000"/>
<rect x="167.5" y="480.5" width="9.0" height="1.55" fill="#ffc800"/>
<rect x="176.5" y="480.5" width="7.5" height="1.55" fill="#f0f000"/>
<rect x="184.0" y="480.5" width="7.5" height="1.55" fill="#c0f000"/>
<rect x="191.5" y="480.5" width="7.5" height="1.55" fill="#84f400"/>
<rect x="199.0" y="480.5" width="7.5" height="1.55" fill="#50f000"/>
<rect x="206.5" y="480.5" width="16.5" height="1.55" fill="#20f000"/>
<rect x="223.0" y="480.5" width="10.5" height="1.55" fill="#50f000"/>
<rect x="233.5" y="480.5" width="7.5" height="1.55" fill="#84f400"/>
<rect x="241.0" y="480.5" width="10.5" height="1.55" fill="#c0f000"/>
<rect x="251.5" y="480.5" width="25.5" height="1.55" fill="#f0f000"/>
<rect x="115.0" y="482.0" width="43.5" height="1.55" fill="#ff6800"/>
<rect x="158.5" y="482.0" width="10.5" height="1.55" fill="#ffa000"/>
<rect x="169.0" y="482.0" width="7.5" height="1.55" fill="#ffc800"/>
<rect x="176.5" y="482.0" width="7.5" height="1.55" fill="#f0f000"/>
<rect x="184.0" y="482.0" width="7.5" height="1.55" fill="#c0f000"/>
<rect x="191.5" y="482.0" width="7.5" height="1.55" fill="#84f400"/>
<rect x="199.0" y="482.0" width="7.5" height="1.55" fill="#50f000"/>
<rect x="206.5" y="482.0" width="16.5" height="1.55" fill="#20f000"/>
<rect x="223.0" y="482.0" width="9.0" height="1.55" fill="#50f000"/>
<rect x="232.0" y="482.0" width="7.5" height="1.55" fill="#84f400"/>
<rect x="239.5" y="482.0" width="10.5" height="1.55" fill="#c0f000"/>
<rect x="250.0" y="482.0" width="27.0" height="1.55" fill="#f0f000"/>
<rect x="115.0" y="483.5" width="43.5" height="1.55" fill="#ff6800"/>
<rect x="158.5" y="483.5" width="10.5" height="1.55" fill="#ffa000"/>
<rect x="169.0" y="483.5" width="7.5" height="1.55" fill="#ffc800"/>
<rect x="176.5" y="483.5" width="7.5" height="1.55" fill="#f0f000"/>
<rect x="184.0" y="483.5" width="7.5" height="1.55" fill="#c0f000"/>
<rect x="191.5" y="483.5" width="7.5" height="1.55" fill="#84f400"/>
<rect x="199.0" y="483.5" width="7.5" height="1.55" fill="#50f000"/>
<rect x="206.5" y="483.5" width="16.5" height="1.55" fill="#20f000"/>
<rect x="223.0" y="483.5" width="9.0" height="1.55" fill="#50f000"/>
<rect x="232.0" y="483.5" width="7.5" height="1.55" fill="#84f400"/>
<rect x="239.5" y="483.5" width="10.5" height="1.55" fill="#c0f000"/>
<rect x="250.0" y="483.5" width="27.0" height="1.55" fill="#f0f000"/>
<rect x="115.0" y="485.0" width="45.0" height="1.55" fill="#ff6800"/>
<rect x="160.0" y="485.0" width="9.0" height="1.55" fill="#ffa000"/>
<rect x="169.0" y="485.0" width="6.0" height="1.55" fill="#ffc800"/>
<rect x="175.0" y="485.0" width="7.5" height="1.55" fill="#f0f000"/>
<rect x="182.5" y="485.0" width="9.0" height="1.55" fill="#c0f000"/>
<rect x="191.5" y="485.0" width="7.5" height="1.55" fill="#84f400"/>
<rect x="199.0" y="485.0" width="7.5" height="1.55" fill="#50f000"/>
<rect x="206.5" y="485.0" width="15.0" height="1.55" fill="#20f000"/>
<rect x="221.5" y="485.0" width="10.5" height="1.55" fill="#50f000"/>
<rect x="232.0" y="485.0" width="7.5" height="1.55" fill="#84f400"/>
<rect x="239.5" y="485.0" width="10.5" height="1.55" fill="#c0f000"/>
<rect x="250.0" y="485.0" width="27.0" height="1.55" fill="#f0f000"/>
<rect x="115.0" y="486.5" width="45.0" height="1.55" fill="#ff6800"/>
<rect x="160.0" y="486.5" width="9.0" height="1.55" fill="#ffa000"/>
<rect x="169.0" y="486.5" width="6.0" height="1.55" fill="#ffc800"/>
<rect x="175.0" y="486.5" width="7.5" height="1.55" fill="#f0f000"/>
<rect x="182.5" y="486.5" width="9.0" height="1.55" fill="#c0f000"/>
<rect x="191.5" y="486.5" width="7.5" height="1.55" fill="#84f400"/>
<rect x="199.0" y="486.5" width="7.5" height="1.55" fill="#50f000"/>
<rect x="206.5" y="486.5" width="15.0" height="1.55" fill="#20f000"/>
<rect x="221.5" y="486.5" width="9.0" height="1.55" fill="#50f000"/>
<rect x="230.5" y="486.5" width="9.0" height="1.55" fill="#84f400"/>
<rect x="239.5" y="486.5" width="10.5" height="1.55" fill="#c0f000"/>
<rect x="250.0" y="486.5" width="27.0" height="1.55" fill="#f0f000"/>
<rect x="115.0" y="488.0" width="25.5" height="1.55" fill="#ff6800"/>
<rect x="140.5" y="488.0" width="9.0" height="1.55" fill="#ff3000"/>
<rect x="149.5" y="488.0" width="10.5" height="1.55" fill="#ff6800"/>
<rect x="160.0" y="488.0" width="7.5" height="1.55" fill="#ffa000"/>
<rect x="167.5" y="488.0" width="6.0" height="1.55" fill="#ffc800"/>
<rect x="173.5" y="488.0" width="7.5" height="1.55" fill="#f0f000"/>
<rect x="181.0" y="488.0" width="10.5" height="1.55" fill="#c0f000"/>
<rect x="191.5" y="488.0" width="7.5" height="1.55" fill="#84f400"/>
<rect x="199.0" y="488.0" width="7.5" height="1.55" fill="#50f000"/>
<rect x="206.5" y="488.0" width="13.5" height="1.55" fill="#20f000"/>
<rect x="220.0" y="488.0" width="9.0" height="1.55" fill="#50f000"/>
<rect x="229.0" y="488.0" width="10.5" height="1.55" fill="#84f400"/>
<rect x="239.5" y="488.0" width="12.0" height="1.55" fill="#c0f000"/>
<rect x="251.5" y="488.0" width="25.5" height="1.55" fill="#f0f000"/>
<rect x="115.0" y="489.5" width="24.0" height="1.55" fill="#ff6800"/>
<rect x="139.0" y="489.5" width="12.0" height="1.55" fill="#ff3000"/>
<rect x="151.0" y="489.5" width="9.0" height="1.55" fill="#ff6800"/>
<rect x="160.0" y="489.5" width="7.5" height="1.55" fill="#ffa000"/>
<rect x="167.5" y="489.5" width="6.0" height="1.55" fill="#ffc800"/>
<rect x="173.5" y="489.5" width="6.0" height="1.55" fill="#f0f000"/>
<rect x="179.5" y="489.5" width="12.0" height="1.55" fill="#c0f000"/>
<rect x="191.5" y="489.5" width="7.5" height="1.55" fill="#84f400"/>
<rect x="199.0" y="489.5" width="7.5" height="1.55" fill="#50f000"/>
<rect x="206.5" y="489.5" width="13.5" height="1.55" fill="#20f000"/>
<rect x="220.0" y="489.5" width="7.5" height="1.55" fill="#50f000"/>
<rect x="227.5" y="489.5" width="10.5" height="1.55" fill="#84f400"/>
<rect x="238.0" y="489.5" width="13.5" height="1.55" fill="#c0f000"/>
<rect x="251.5" y="489.5" width="24.0" height="1.55" fill="#f0f000"/>
<rect x="275.5" y="489.5" width="1.5" height="1.55" fill="#ffc800"/>
<rect x="115.0" y="491.0" width="24.0" height="1.55" fill="#ff6800"/>
<rect x="139.0" y="491.0" width="13.5" height="1.55" fill="#ff3000"/>
<rect x="152.5" y="491.0" width="7.5" height="1.55" fill="#ff6800"/>
<rect x="160.0" y="491.0" width="7.5" height="1.55" fill="#ffa000"/>
<rect x="167.5" y="491.0" width="4.5" height="1.55" fill="#ffc800"/>
<rect x="172.0" y="491.0" width="7.5" height="1.55" fill="#f0f000"/>
<rect x="179.5" y="491.0" width="10.5" height="1.55" fill="#c0f000"/>
<rect x="190.0" y="491.0" width="10.5" height="1.55" fill="#84f400"/>
<rect x="200.5" y="491.0" width="6.0" height="1.55" fill="#50f000"/>
<rect x="206.5" y="491.0" width="13.5" height="1.55" fill="#20f000"/>
<rect x="220.0" y="491.0" width="7.5" height="1.55" fill="#50f000"/>
<rect x="227.5" y="491.0" width="10.5" height="1.55" fill="#84f400"/>
<rect x="238.0" y="491.0" width="15.0" height="1.55" fill="#c0f000"/>
<rect x="253.0" y="491.0" width="18.0" height="1.55" fill="#f0f000"/>
<rect x="271.0" y="491.0" width="6.0" height="1.55" fill="#ffc800"/>
<rect x="115.0" y="492.5" width="24.0" height="1.55" fill="#ff6800"/>
<rect x="139.0" y="492.5" width="13.5" height="1.55" fill="#ff3000"/>
<rect x="152.5" y="492.5" width="7.5" height="1.55" fill="#ff6800"/>
<rect x="160.0" y="492.5" width="7.5" height="1.55" fill="#ffa000"/>
<rect x="167.5" y="492.5" width="4.5" height="1.55" fill="#ffc800"/>
<rect x="172.0" y="492.5" width="6.0" height="1.55" fill="#f0f000"/>
<rect x="178.0" y="492.5" width="12.0" height="1.55" fill="#c0f000"/>
<rect x="190.0" y="492.5" width="10.5" height="1.55" fill="#84f400"/>
<rect x="200.5" y="492.5" width="6.0" height="1.55" fill="#50f000"/>
<rect x="206.5" y="492.5" width="12.0" height="1.55" fill="#20f000"/>
<rect x="218.5" y="492.5" width="7.5" height="1.55" fill="#50f000"/>
<rect x="226.0" y="492.5" width="12.0" height="1.55" fill="#84f400"/>
<rect x="238.0" y="492.5" width="15.0" height="1.55" fill="#c0f000"/>
<rect x="253.0" y="492.5" width="16.5" height="1.55" fill="#f0f000"/>
<rect x="269.5" y="492.5" width="7.5" height="1.55" fill="#ffc800"/>
<rect x="115.0" y="494.0" width="22.5" height="1.55" fill="#ff6800"/>
<rect x="137.5" y="494.0" width="15.0" height="1.55" fill="#ff3000"/>
<rect x="152.5" y="494.0" width="7.5" height="1.55" fill="#ff6800"/>
<rect x="160.0" y="494.0" width="6.0" height="1.55" fill="#ffa000"/>
<rect x="166.0" y="494.0" width="6.0" height="1.55" fill="#ffc800"/>
<rect x="172.0" y="494.0" width="4.5" height="1.55" fill="#f0f000"/>
<rect x="176.5" y="494.0" width="12.0" height="1.55" fill="#c0f000"/>
<rect x="188.5" y="494.0" width="12.0" height="1.55" fill="#84f400"/>
<rect x="200.5" y="494.0" width="6.0" height="1.55" fill="#50f000"/>
<rect x="206.5" y="494.0" width="12.0" height="1.55" fill="#20f000"/>
<rect x="218.5" y="494.0" width="7.5" height="1.55" fill="#50f000"/>
<rect x="226.0" y="494.0" width="10.5" height="1.55" fill="#84f400"/>
<rect x="236.5" y="494.0" width="16.5" height="1.55" fill="#c0f000"/>
<rect x="253.0" y="494.0" width="16.5" height="1.55" fill="#f0f000"/>
<rect x="269.5" y="494.0" width="7.5" height="1.55" fill="#ffc800"/>
<rect x="115.0" y="495.5" width="22.5" height="1.55" fill="#ff6800"/>
<rect x="137.5" y="495.5" width="16.5" height="1.55" fill="#ff3000"/>
<rect x="154.0" y="495.5" width="6.0" height="1.55" fill="#ff6800"/>
<rect x="160.0" y="495.5" width="6.0" height="1.55" fill="#ffa000"/>
<rect x="166.0" y="495.5" width="4.5" height="1.55" fill="#ffc800"/>
<rect x="170.5" y="495.5" width="6.0" height="1.55" fill="#f0f000"/>
<rect x="176.5" y="495.5" width="12.0" height="1.55" fill="#c0f000"/>
<rect x="188.5" y="495.5" width="12.0" height="1.55" fill="#84f400"/>
<rect x="200.5" y="495.5" width="6.0" height="1.55" fill="#50f000"/>
<rect x="206.5" y="495.5" width="12.0" height="1.55" fill="#20f000"/>
<rect x="218.5" y="495.5" width="6.0" height="1.55" fill="#50f000"/>
<rect x="224.5" y="495.5" width="12.0" height="1.55" fill="#84f400"/>
<rect x="236.5" y="495.5" width="16.5" height="1.55" fill="#c0f000"/>
<rect x="253.0" y="495.5" width="15.0" height="1.55" fill="#f0f000"/>
<rect x="268.0" y="495.5" width="9.0" height="1.55" fill="#ffc800"/>
<rect x="115.0" y="497.0" width="22.5" height="1.55" fill="#ff6800"/>
<rect x="137.5" y="497.0" width="16.5" height="1.55" fill="#ff3000"/>
<rect x="154.0" y="497.0" width="6.0" height="1.55" fill="#ff6800"/>
<rect x="160.0" y="497.0" width="6.0" height="1.55" fill="#ffa000"/>
<rect x="166.0" y="497.0" width="4.5" height="1.55" fill="#ffc800"/>
<rect x="170.5" y="497.0" width="6.0" height="1.55" fill="#f0f000"/>
<rect x="176.5" y="497.0" width="10.5" height="1.55" fill="#c0f000"/>
<rect x="187.0" y="497.0" width="13.5" height="1.55" fill="#84f400"/>
<rect x="200.5" y="497.0" width="6.0" height="1.55" fill="#50f000"/>
<rect x="206.5" y="497.0" width="12.0" height="1.55" fill="#20f000"/>
<rect x="218.5" y="497.0" width="6.0" height="1.55" fill="#50f000"/>
<rect x="224.5" y="497.0" width="10.5" height="1.55" fill="#84f400"/>
<rect x="235.0" y="497.0" width="18.0" height="1.55" fill="#c0f000"/>
<rect x="253.0" y="497.0" width="15.0" height="1.55" fill="#f0f000"/>
<rect x="268.0" y="497.0" width="9.0" height="1.55" fill="#ffc800"/>
<rect x="115.0" y="498.5" width="22.5" height="1.55" fill="#ff6800"/>
<rect x="137.5" y="498.5" width="16.5" height="1.55" fill="#ff3000"/>
<rect x="154.0" y="498.5" width="6.0" height="1.55" fill="#ff6800"/>
<rect x="160.0" y="498.5" width="6.0" height="1.55" fill="#ffa000"/>
<rect x="166.0" y="498.5" width="4.5" height="1.55" fill="#ffc800"/>
<rect x="170.5" y="498.5" width="6.0" height="1.55" fill="#f0f000"/>
<rect x="176.5" y="498.5" width="9.0" height="1.55" fill="#c0f000"/>
<rect x="185.5" y="498.5" width="15.0" height="1.55" fill="#84f400"/>
<rect x="200.5" y="498.5" width="6.0" height="1.55" fill="#50f000"/>
<rect x="206.5" y="498.5" width="12.0" height="1.55" fill="#20f000"/>
<rect x="218.5" y="498.5" width="6.0" height="1.55" fill="#50f000"/>
<rect x="224.5" y="498.5" width="10.5" height="1.55" fill="#84f400"/>
<rect x="235.0" y="498.5" width="16.5" height="1.55" fill="#c0f000"/>
<rect x="251.5" y="498.5" width="15.0" height="1.55" fill="#f0f000"/>
<rect x="266.5" y="498.5" width="10.5" height="1.55" fill="#ffc800"/>
<rect x="115.0" y="500.0" width="24.0" height="1.55" fill="#ff6800"/>
<rect x="139.0" y="500.0" width="13.5" height="1.55" fill="#ff3000"/>
<rect x="152.5" y="500.0" width="7.5" height="1.55" fill="#ff6800"/>
<rect x="160.0" y="500.0" width="6.0" height="1.55" fill="#ffa000"/>
<rect x="166.0" y="500.0" width="4.5" height="1.55" fill="#ffc800"/>
<rect x="170.5" y="500.0" width="6.0" height="1.55" fill="#f0f000"/>
<rect x="176.5" y="500.0" width="9.0" height="1.55" fill="#c0f000"/>
<rect x="185.5" y="500.0" width="15.0" height="1.55" fill="#84f400"/>
<rect x="200.5" y="500.0" width="6.0" height="1.55" fill="#50f000"/>
<rect x="206.5" y="500.0" width="12.0" height="1.55" fill="#20f000"/>
<rect x="218.5" y="500.0" width="6.0" height="1.55" fill="#50f000"/>
<rect x="224.5" y="500.0" width="9.0" height="1.55" fill="#84f400"/>
<rect x="233.5" y="500.0" width="16.5" height="1.55" fill="#c0f000"/>
<rect x="250.0" y="500.0" width="16.5" height="1.55" fill="#f0f000"/>
<rect x="266.5" y="500.0" width="10.5" height="1.55" fill="#ffc800"/>
<rect x="115.0" y="501.5" width="24.0" height="1.55" fill="#ff6800"/>
<rect x="139.0" y="501.5" width="13.5" height="1.55" fill="#ff3000"/>
<rect x="152.5" y="501.5" width="7.5" height="1.55" fill="#ff6800"/>
<rect x="160.0" y="501.5" width="6.0" height="1.55" fill="#ffa000"/>
<rect x="166.0" y="501.5" width="4.5" height="1.55" fill="#ffc800"/>
<rect x="170.5" y="501.5" width="4.5" height="1.55" fill="#f0f000"/>
<rect x="175.0" y="501.5" width="10.5" height="1.55" fill="#c0f000"/>
<rect x="185.5" y="501.5" width="15.0" height="1.55" fill="#84f400"/>
<rect x="200.5" y="501.5" width="6.0" height="1.55" fill="#50f000"/>
<rect x="206.5" y="501.5" width="12.0" height="1.55" fill="#20f000"/>
<rect x="218.5" y="501.5" width="6.0" height="1.55" fill="#50f000"/>
<rect x="224.5" y="501.5" width="9.0" height="1.55" fill="#84f400"/>
<rect x="233.5" y="501.5" width="15.0" height="1.55" fill="#c0f000"/>
<rect x="248.5" y="501.5" width="16.5" height="1.55" fill="#f0f000"/>
<rect x="265.0" y="501.5" width="12.0" height="1.55" fill="#ffc800"/>
<rect x="115.0" y="503.0" width="25.5" height="1.55" fill="#ff6800"/>
<rect x="140.5" y="503.0" width="10.5" height="1.55" fill="#ff3000"/>
<rect x="151.0" y="503.0" width="9.0" height="1.55" fill="#ff6800"/>
<rect x="160.0" y="503.0" width="6.0" height="1.55" fill="#ffa000"/>
<rect x="166.0" y="503.0" width="4.5" height="1.55" fill="#ffc800"/>
<rect x="170.5" y="503.0" width="4.5" height="1.55" fill="#f0f000"/>
<rect x="175.0" y="503.0" width="10.5" height="1.55" fill="#c0f000"/>
<rect x="185.5" y="503.0" width="15.0" height="1.55" fill="#84f400"/>
<rect x="200.5" y="503.0" width="6.0" height="1.55" fill="#50f000"/>
<rect x="206.5" y="503.0" width="12.0" height="1.55" fill="#20f000"/>
<rect x="218.5" y="503.0" width="6.0" height="1.55" fill="#50f000"/>
<rect x="224.5" y="503.0" width="9.0" height="1.55" fill="#84f400"/>
<rect x="233.5" y="503.0" width="13.5" height="1.55" fill="#c0f000"/>
<rect x="247.0" y="503.0" width="16.5" height="1.55" fill="#f0f000"/>
<rect x="263.5" y="503.0" width="13.5" height="1.55" fill="#ffc800"/>
<rect x="115.0" y="504.5" width="25.5" height="1.55" fill="#ff6800"/>
<rect x="140.5" y="504.5" width="9.0" height="1.55" fill="#ff3000"/>
<rect x="149.5" y="504.5" width="10.5" height="1.55" fill="#ff6800"/>
<rect x="160.0" y="504.5" width="6.0" height="1.55" fill="#ffa000"/>
<rect x="166.0" y="504.5" width="4.5" height="1.55" fill="#ffc800"/>
<rect x="170.5" y="504.5" width="4.5" height="1.55" fill="#f0f000"/>
<rect x="175.0" y="504.5" width="10.5" height="1.55" fill="#c0f000"/>
<rect x="185.5" y="504.5" width="15.0" height="1.55" fill="#84f400"/>
<rect x="200.5" y="504.5" width="6.0" height="1.55" fill="#50f000"/>
<rect x="206.5" y="504.5" width="12.0" height="1.55" fill="#20f000"/>
<rect x="218.5" y="504.5" width="6.0" height="1.55" fill="#50f000"/>
<rect x="224.5" y="504.5" width="9.0" height="1.55" fill="#84f400"/>
<rect x="233.5" y="504.5" width="12.0" height="1.55" fill="#c0f000"/>
<rect x="245.5" y="504.5" width="16.5" height="1.55" fill="#f0f000"/>
<rect x="262.0" y="504.5" width="15.0" height="1.55" fill="#ffc800"/>
<rect x="115.0" y="506.0" width="45.0" height="1.55" fill="#ff6800"/>
<rect x="160.0" y="506.0" width="6.0" height="1.55" fill="#ffa000"/>
<rect x="166.0" y="506.0" width="4.5" height="1.55" fill="#ffc800"/>
<rect x="170.5" y="506.0" width="4.5" height="1.55" fill="#f0f000"/>
<rect x="175.0" y="506.0" width="10.5" height="1.55" fill="#c0f000"/>
<rect x="185.5" y="506.0" width="15.0" height="1.55" fill="#84f400"/>
<rect x="200.5" y="506.0" width="6.0" height="1.55" fill="#50f000"/>
<rect x="206.5" y="506.0" width="12.0" height="1.55" fill="#20f000"/>
<rect x="218.5" y="506.0" width="6.0" height="1.55" fill="#50f000"/>
<rect x="224.5" y="506.0" width="9.0" height="1.55" fill="#84f400"/>
<rect x="233.5" y="506.0" width="10.5" height="1.55" fill="#c0f000"/>
<rect x="244.0" y="506.0" width="15.0" height="1.55" fill="#f0f000"/>
<rect x="259.0" y="506.0" width="18.0" height="1.55" fill="#ffc800"/>
<rect x="115.0" y="507.5" width="45.0" height="1.55" fill="#ff6800"/>
<rect x="160.0" y="507.5" width="6.0" height="1.55" fill="#ffa000"/>
<rect x="166.0" y="507.5" width="4.5" height="1.55" fill="#ffc800"/>
<rect x="170.5" y="507.5" width="4.5" height="1.55" fill="#f0f000"/>
<rect x="175.0" y="507.5" width="10.5" height="1.55" fill="#c0f000"/>
<rect x="185.5" y="507.5" width="15.0" height="1.55" fill="#84f400"/>
<rect x="200.5" y="507.5" width="6.0" height="1.55" fill="#50f000"/>
<rect x="206.5" y="507.5" width="12.0" height="1.55" fill="#20f000"/>
<rect x="218.5" y="507.5" width="6.0" height="1.55" fill="#50f000"/>
<rect x="224.5" y="507.5" width="9.0" height="1.55" fill="#84f400"/>
<rect x="233.5" y="507.5" width="9.0" height="1.55" fill="#c0f000"/>
<rect x="242.5" y="507.5" width="13.5" height="1.55" fill="#f0f000"/>
<rect x="256.0" y="507.5" width="21.0" height="1.55" fill="#ffc800"/>
<rect x="115.0" y="509.0" width="43.5" height="1.55" fill="#ff6800"/>
<rect x="158.5" y="509.0" width="7.5" height="1.55" fill="#ffa000"/>
<rect x="166.0" y="509.0" width="4.5" height="1.55" fill="#ffc800"/>
<rect x="170.5" y="509.0" width="6.0" height="1.55" fill="#f0f000"/>
<rect x="176.5" y="509.0" width="9.0" height="1.55" fill="#c0f000"/>
<rect x="185.5" y="509.0" width="15.0" height="1.55" fill="#84f400"/>
<rect x="200.5" y="509.0" width="6.0" height="1.55" fill="#50f000"/>
<rect x="206.5" y="509.0" width="12.0" height="1.55" fill="#20f000"/>
<rect x="218.5" y="509.0" width="6.0" height="1.55" fill="#50f000"/>
<rect x="224.5" y="509.0" width="9.0" height="1.55" fill="#84f400"/>
<rect x="233.5" y="509.0" width="7.5" height="1.55" fill="#c0f000"/>
<rect x="241.0" y="509.0" width="13.5" height="1.55" fill="#f0f000"/>
<rect x="254.5" y="509.0" width="22.5" height="1.55" fill="#ffc800"/>
<rect x="115.0" y="510.5" width="43.5" height="1.55" fill="#ff6800"/>
<rect x="158.5" y="510.5" width="7.5" height="1.55" fill="#ffa000"/>
<rect x="166.0" y="510.5" width="4.5" height="1.55" fill="#ffc800"/>
<rect x="170.5" y="510.5" width="6.0" height="1.55" fill="#f0f000"/>
<rect x="176.5" y="510.5" width="9.0" height="1.55" fill="#c0f000"/>
<rect x="185.5" y="510.5" width="15.0" height="1.55" fill="#84f400"/>
<rect x="200.5" y="510.5" width="6.0" height="1.55" fill="#50f000"/>
<rect x="206.5" y="510.5" width="12.0" height="1.55" fill="#20f000"/>
<rect x="218.5" y="510.5" width="6.0" height="1.55" fill="#50f000"/>
<rect x="224.5" y="510.5" width="7.5" height="1.55" fill="#84f400"/>
<rect x="232.0" y="510.5" width="9.0" height="1.55" fill="#c0f000"/>
<rect x="241.0" y="510.5" width="10.5" height="1.55" fill="#f0f000"/>
<rect x="251.5" y="510.5" width="25.5" height="1.55" fill="#ffc800"/>
<rect x="115.0" y="512.0" width="43.5" height="1.55" fill="#ff6800"/>
<rect x="158.5" y="512.0" width="7.5" height="1.55" fill="#ffa000"/>
<rect x="166.0" y="512.0" width="4.5" height="1.55" fill="#ffc800"/>
<rect x="170.5" y="512.0" width="6.0" height="1.55" fill="#f0f000"/>
<rect x="176.5" y="512.0" width="10.5" height="1.55" fill="#c0f000"/>
<rect x="187.0" y="512.0" width="13.5" height="1.55" fill="#84f400"/>
<rect x="200.5" y="512.0" width="6.0" height="1.55" fill="#50f000"/>
<rect x="206.5" y="512.0" width="12.0" height="1.55" fill="#20f000"/>
<rect x="218.5" y="512.0" width="6.0" height="1.55" fill="#50f000"/>
<rect x="224.5" y="512.0" width="7.5" height="1.55" fill="#84f400"/>
<rect x="232.0" y="512.0" width="7.5" height="1.55" fill="#c0f000"/>
<rect x="239.5" y="512.0" width="12.0" height="1.55" fill="#f0f000"/>
<rect x="251.5" y="512.0" width="25.5" height="1.55" fill="#ffc800"/>
<rect x="115.0" y="513.5" width="43.5" height="1.55" fill="#ff6800"/>
<rect x="158.5" y="513.5" width="7.5" height="1.55" fill="#ffa000"/>
<rect x="166.0" y="513.5" width="6.0" height="1.55" fill="#ffc800"/>
<rect x="172.0" y="513.5" width="4.5" height="1.55" fill="#f0f000"/>
<rect x="176.5" y="513.5" width="10.5" height="1.55" fill="#c0f000"/>
<rect x="187.0" y="513.5" width="13.5" height="1.55" fill="#84f400"/>
<rect x="200.5" y="513.5" width="6.0" height="1.55" fill="#50f000"/>
<rect x="206.5" y="513.5" width="12.0" height="1.55" fill="#20f000"/>
<rect x="218.5" y="513.5" width="6.0" height="1.55" fill="#50f000"/>
<rect x="224.5" y="513.5" width="7.5" height="1.55" fill="#84f400"/>
<rect x="232.0" y="513.5" width="7.5" height="1.55" fill="#c0f000"/>
<rect x="239.5" y="513.5" width="10.5" height="1.55" fill="#f0f000"/>
<rect x="250.0" y="513.5" width="27.0" height="1.55" fill="#ffc800"/>
<rect x="115.0" y="515.0" width="43.5" height="1.55" fill="#ff6800"/>
<rect x="158.5" y="515.0" width="9.0" height="1.55" fill="#ffa000"/>
<rect x="167.5" y="515.0" width="4.5" height="1.55" fill="#ffc800"/>
<rect x="172.0" y="515.0" width="4.5" height="1.55" fill="#f0f000"/>
<rect x="176.5" y="515.0" width="12.0" height="1.55" fill="#c0f000"/>
<rect x="188.5" y="515.0" width="12.0" height="1.55" fill="#84f400"/>
<rect x="200.5" y="515.0" width="6.0" height="1.55" fill="#50f000"/>
<rect x="206.5" y="515.0" width="12.0" height="1.55" fill="#20f000"/>
<rect x="218.5" y="515.0" width="6.0" height="1.55" fill="#50f000"/>
<rect x="224.5" y="515.0" width="7.5" height="1.55" fill="#84f400"/>
<rect x="232.0" y="515.0" width="7.5" height="1.55" fill="#c0f000"/>
<rect x="239.5" y="515.0" width="10.5" height="1.55" fill="#f0f000"/>
<rect x="250.0" y="515.0" width="27.0" height="1.55" fill="#ffc800"/>
<rect x="115.0" y="516.5" width="43.5" height="1.55" fill="#ff6800"/>
<rect x="158.5" y="516.5" width="9.0" height="1.55" fill="#ffa000"/>
<rect x="167.5" y="516.5" width="4.5" height="1.55" fill="#ffc800"/>
<rect x="172.0" y="516.5" width="6.0" height="1.55" fill="#f0f000"/>
<rect x="178.0" y="516.5" width="10.5" height="1.55" fill="#c0f000"/>
<rect x="188.5" y="516.5" width="12.0" height="1.55" fill="#84f400"/>
<rect x="200.5" y="516.5" width="6.0" height="1.55" fill="#50f000"/>
<rect x="206.5" y="516.5" width="10.5" height="1.55" fill="#20f000"/>
<rect x="217.0" y="516.5" width="7.5" height="1.55" fill="#50f000"/>
<rect x="224.5" y="516.5" width="6.0" height="1.55" fill="#84f400"/>
<rect x="230.5" y="516.5" width="9.0" height="1.55" fill="#c0f000"/>
<rect x="239.5" y="516.5" width="10.5" height="1.55" fill="#f0f000"/>
<rect x="250.0" y="516.5" width="27.0" height="1.55" fill="#ffc800"/>
<rect x="115.0" y="518.0" width="43.5" height="1.55" fill="#ff6800"/>
<rect x="158.5" y="518.0" width="9.0" height="1.55" fill="#ffa000"/>
<rect x="167.5" y="518.0" width="4.5" height="1.55" fill="#ffc800"/>
<rect x="172.0" y="518.0" width="6.0" height="1.55" fill="#f0f000"/>
<rect x="178.0" y="518.0" width="10.5" height="1.55" fill="#c0f000"/>
<rect x="188.5" y="518.0" width="12.0" height="1.55" fill="#84f400"/>
<rect x="200.5" y="518.0" width="7.5" height="1.55" fill="#50f000"/>
<rect x="208.0" y="518.0" width="7.5" height="1.55" fill="#20f000"/>
<rect x="215.5" y="518.0" width="7.5" height="1.55" fill="#50f000"/>
<rect x="223.0" y="518.0" width="7.5" height="1.55" fill="#84f400"/>
<rect x="230.5" y="518.0" width="9.0" height="1.55" fill="#c0f000"/>
<rect x="239.5" y="518.0" width="10.5" height="1.55" fill="#f0f000"/>
<rect x="250.0" y="518.0" width="27.0" height="1.55" fill="#ffc800"/>
<rect x="115.0" y="519.5" width="43.5" height="1.55" fill="#ff6800"/>
<rect x="158.5" y="519.5" width="9.0" height="1.55" fill="#ffa000"/>
<rect x="167.5" y="519.5" width="6.0" height="1.55" fill="#ffc800"/>
<rect x="173.5" y="519.5" width="6.0" height="1.55" fill="#f0f000"/>
<rect x="179.5" y="519.5" width="10.5" height="1.55" fill="#c0f000"/>
<rect x="190.0" y="519.5" width="10.5" height="1.55" fill="#84f400"/>
<rect x="200.5" y="519.5" width="7.5" height="1.55" fill="#50f000"/>
<rect x="208.0" y="519.5" width="7.5" height="1.55" fill="#20f000"/>
<rect x="215.5" y="519.5" width="7.5" height="1.55" fill="#50f000"/>
<rect x="223.0" y="519.5" width="6.0" height="1.55" fill="#84f400"/>
<rect x="229.0" y="519.5" width="9.0" height="1.55" fill="#c0f000"/>
<rect x="238.0" y="519.5" width="12.0" height="1.55" fill="#f0f000"/>
<rect x="250.0" y="519.5" width="27.0" height="1.55" fill="#ffc800"/>
<rect x="115.0" y="521.0" width="43.5" height="1.55" fill="#ff6800"/>
<rect x="158.5" y="521.0" width="9.0" height="1.55" fill="#ffa000"/>
<rect x="167.5" y="521.0" width="6.0" height="1.55" fill="#ffc800"/>
<rect x="173.5" y="521.0" width="6.0" height="1.55" fill="#f0f000"/>
<rect x="179.5" y="521.0" width="10.5" height="1.55" fill="#c0f000"/>
<rect x="190.0" y="521.0" width="10.5" height="1.55" fill="#84f400"/>
<rect x="200.5" y="521.0" width="9.0" height="1.55" fill="#50f000"/>
<rect x="209.5" y="521.0" width="4.5" height="1.55" fill="#20f000"/>
<rect x="214.0" y="521.0" width="7.5" height="1.55" fill="#50f000"/>
<rect x="221.5" y="521.0" width="7.5" height="1.55" fill="#84f400"/>
<rect x="229.0" y="521.0" width="9.0" height="1.55" fill="#c0f000"/>
<rect x="238.0" y="521.0" width="12.0" height="1.55" fill="#f0f000"/>
<rect x="250.0" y="521.0" width="22.5" height="1.55" fill="#ffc800"/>
<rect x="272.5" y="521.0" width="4.5" height="1.55" fill="#ffa000"/>
<rect x="115.0" y="522.5" width="43.5" height="1.55" fill="#ff6800"/>
<rect x="158.5" y="522.5" width="9.0" height="1.55" fill="#ffa000"/>
<rect x="167.5" y="522.5" width="6.0" height="1.55" fill="#ffc800"/>
<rect x="173.5" y="522.5" width="7.5" height="1.55" fill="#f0f000"/>
<rect x="181.0" y="522.5" width="9.0" height="1.55" fill="#c0f000"/>
<rect x="190.0" y="522.5" width="10.5" height="1.55" fill="#84f400"/>
<rect x="200.5" y="522.5" width="21.0" height="1.55" fill="#50f000"/>
<rect x="221.5" y="522.5" width="6.0" height="1.55" fill="#84f400"/>
<rect x="227.5" y="522.5" width="10.5" height="1.55" fill="#c0f000"/>
<rect x="238.0" y="522.5" width="12.0" height="1.55" fill="#f0f000"/>
<rect x="250.0" y="522.5" width="19.5" height="1.55" fill="#ffc800"/>
<rect x="269.5" y="522.5" width="7.5" height="1.55" fill="#ffa000"/>
<rect x="115.0" y="524.0" width="43.5" height="1.55" fill="#ff6800"/>
<rect x="158.5" y="524.0" width="9.0" height="1.55" fill="#ffa000"/>
<rect x="167.5" y="524.0" width="7.5" height="1.55" fill="#ffc800"/>
<rect x="175.0" y="524.0" width="7.5" height="1.55" fill="#f0f000"/>
<rect x="182.5" y="524.0" width="7.5" height="1.55" fill="#c0f000"/>
<rect x="190.0" y="524.0" width="10.5" height="1.55" fill="#84f400"/>
<rect x="200.5" y="524.0" width="19.5" height="1.55" fill="#50f000"/>
<rect x="220.0" y="524.0" width="7.5" height="1.55" fill="#84f400"/>
<rect x="227.5" y="524.0" width="10.5" height="1.55" fill="#c0f000"/>
<rect x="238.0" y="524.0" width="13.5" height="1.55" fill="#f0f000"/>
<rect x="251.5" y="524.0" width="18.0" height="1.55" fill="#ffc800"/>
<rect x="269.5" y="524.0" width="7.5" height="1.55" fill="#ffa000"/>
<rect x="115.0" y="525.5" width="43.5" height="1.55" fill="#ff6800"/>
<rect x="158.5" y="525.5" width="9.0" height="1.55" fill="#ffa000"/>
<rect x="167.5" y="525.5" width="7.5" height="1.55" fill="#ffc800"/>
<rect x="175.0" y="525.5" width="7.5" height="1.55" fill="#f0f000"/>
<rect x="182.5" y="525.5" width="9.0" height="1.55" fill="#c0f000"/>
<rect x="191.5" y="525.5" width="9.0" height="1.55" fill="#84f400"/>
<rect x="200.5" y="525.5" width="19.5" height="1.55" fill="#50f000"/>
<rect x="220.0" y="525.5" width="6.0" height="1.55" fill="#84f400"/>
<rect x="226.0" y="525.5" width="10.5" height="1.55" fill="#c0f000"/>
<rect x="236.5" y="525.5" width="15.0" height="1.55" fill="#f0f000"/>
<rect x="251.5" y="525.5" width="16.5" height="1.55" fill="#ffc800"/>
<rect x="268.0" y="525.5" width="9.0" height="1.55" fill="#ffa000"/>
<rect x="115.0" y="527.0" width="43.5" height="1.55" fill="#ff6800"/>
<rect x="158.5" y="527.0" width="10.5" height="1.55" fill="#ffa000"/>
<rect x="169.0" y="527.0" width="6.0" height="1.55" fill="#ffc800"/>
<rect x="175.0" y="527.0" width="9.0" height="1.55" fill="#f0f000"/>
<rect x="184.0" y="527.0" width="7.5" height="1.55" fill="#c0f000"/>
<rect x="191.5" y="527.0" width="9.0" height="1.55" fill="#84f400"/>
<rect x="200.5" y="527.0" width="18.0" height="1.55" fill="#50f000"/>
<rect x="218.5" y="527.0" width="6.0" height="1.55" fill="#84f400"/>
<rect x="224.5" y="527.0" width="12.0" height="1.55" fill="#c0f000"/>
<rect x="236.5" y="527.0" width="16.5" height="1.55" fill="#f0f000"/>
<rect x="253.0" y="527.0" width="15.0" height="1.55" fill="#ffc800"/>
<rect x="268.0" y="527.0" width="9.0" height="1.55" fill="#ffa000"/>
<rect x="115.0" y="528.5" width="42.0" height="1.55" fill="#ff6800"/>
<rect x="157.0" y="528.5" width="10.5" height="1.55" fill="#ffa000"/>
<rect x="167.5" y="528.5" width="9.0" height="1.55" fill="#ffc800"/>
<rect x="176.5" y="528.5" width="7.5" height="1.55" fill="#f0f000"/>
<rect x="184.0" y="528.5" width="7.5" height="1.55" fill="#c0f000"/>
<rect x="191.5" y="528.5" width="9.0" height="1.55" fill="#84f400"/>
<rect x="200.5" y="528.5" width="16.5" height="1.55" fill="#50f000"/>
<rect x="217.0" y="528.5" width="7.5" height="1.55" fill="#84f400"/>
<rect x="224.5" y="528.5" width="10.5" height="1.55" fill="#c0f000"/>
<rect x="235.0" y="528.5" width="18.0" height="1.55" fill="#f0f000"/>
<rect x="253.0" y="528.5" width="15.0" height="1.55" fill="#ffc800"/>
<rect x="268.0" y="528.5" width="9.0" height="1.55" fill="#ffa000"/>
<rect x="115.0" y="530.0" width="40.5" height="1.55" fill="#ff6800"/>
<rect x="155.5" y="530.0" width="12.0" height="1.55" fill="#ffa000"/>
<rect x="167.5" y="530.0" width="9.0" height="1.55" fill="#ffc800"/>
<rect x="176.5" y="530.0" width="7.5" height="1.55" fill="#f0f000"/>
<rect x="184.0" y="530.0" width="7.5" height="1.55" fill="#c0f000"/>
<rect x="191.5" y="530.0" width="10.5" height="1.55" fill="#84f400"/>
<rect x="202.0" y="530.0" width="15.0" height="1.55" fill="#50f000"/>
<rect x="217.0" y="530.0" width="6.0" height="1.55" fill="#84f400"/>
<rect x="223.0" y="530.0" width="10.5" height="1.55" fill="#c0f000"/>
<rect x="233.5" y="530.0" width="19.5" height="1.55" fill="#f0f000"/>
<rect x="253.0" y="530.0" width="15.0" height="1.55" fill="#ffc800"/>
<rect x="268.0" y="530.0" width="9.0" height="1.55" fill="#ffa000"/>
<rect x="115.0" y="531.5" width="39.0" height="1.55" fill="#ff6800"/>
<rect x="154.0" y="531.5" width="13.5" height="1.55" fill="#ffa000"/>
<rect x="167.5" y="531.5" width="9.0" height="1.55" fill="#ffc800"/>
<rect x="176.5" y="531.5" width="7.5" height="1.55" fill="#f0f000"/>
<rect x="184.0" y="531.5" width="9.0" height="1.55" fill="#c0f000"/>
<rect x="193.0" y="531.5" width="10.5" height="1.55" fill="#84f400"/>
<rect x="203.5" y="531.5" width="12.0" height="1.55" fill="#50f000"/>
<rect x="215.5" y="531.5" width="7.5" height="1.55" fill="#84f400"/>
<rect x="223.0" y="531.5" width="9.0" height="1.55" fill="#c0f000"/>
<rect x="232.0" y="531.5" width="19.5" height="1.55" fill="#f0f000"/>
<rect x="251.5" y="531.5" width="16.5" height="1.55" fill="#ffc800"/>
<rect x="268.0" y="531.5" width="9.0" height="1.55" fill="#ffa000"/>
<rect x="115.0" y="533.0" width="34.5" height="1.55" fill="#ff6800"/>
<rect x="149.5" y="533.0" width="16.5" height="1.55" fill="#ffa000"/>
<rect x="166.0" y="533.0" width="10.5" height="1.55" fill="#ffc800"/>
<rect x="176.5" y="533.0" width="9.0" height="1.55" fill="#f0f000"/>
<rect x="185.5" y="533.0" width="7.5" height="1.55" fill="#c0f000"/>
<rect x="193.0" y="533.0" width="10.5" height="1.55" fill="#84f400"/>
<rect x="203.5" y="533.0" width="12.0" height="1.55" fill="#50f000"/>
<rect x="215.5" y="533.0" width="6.0" height="1.55" fill="#84f400"/>
<rect x="221.5" y="533.0" width="9.0" height="1.55" fill="#c0f000"/>
<rect x="230.5" y="533.0" width="21.0" height="1.55" fill="#f0f000"/>
<rect x="251.5" y="533.0" width="16.5" height="1.55" fill="#ffc800"/>
<rect x="268.0" y="533.0" width="9.0" height="1.55" fill="#ffa000"/>
<rect x="115.0" y="534.5" width="10.5" height="1.55" fill="#ff6800"/>
<rect x="125.5" y="534.5" width="40.5" height="1.55" fill="#ffa000"/>
<rect x="166.0" y="534.5" width="10.5" height="1.55" fill="#ffc800"/>
<rect x="176.5" y="534.5" width="9.0" height="1.55" fill="#f0f000"/>
<rect x="185.5" y="534.5" width="7.5" height="1.55" fill="#c0f000"/>
<rect x="193.0" y="534.5" width="12.0" height="1.55" fill="#84f400"/>
<rect x="205.0" y="534.5" width="9.0" height="1.55" fill="#50f000"/>
<rect x="214.0" y="534.5" width="7.5" height="1.55" fill="#84f400"/>
<rect x="221.5" y="534.5" width="7.5" height="1.55" fill="#c0f000"/>
<rect x="229.0" y="534.5" width="22.5" height="1.55" fill="#f0f000"/>
<rect x="251.5" y="534.5" width="18.0" height="1.55" fill="#ffc800"/>
<rect x="269.5" y="534.5" width="7.5" height="1.55" fill="#ffa000"/>
<rect x="115.0" y="536.0" width="4.5" height="1.55" fill="#ff6800"/>
<rect x="119.5" y="536.0" width="45.0" height="1.55" fill="#ffa000"/>
<rect x="164.5" y="536.0" width="12.0" height="1.55" fill="#ffc800"/>
<rect x="176.5" y="536.0" width="9.0" height="1.55" fill="#f0f000"/>
<rect x="185.5" y="536.0" width="9.0" height="1.55" fill="#c0f000"/>
<rect x="194.5" y="536.0" width="12.0" height="1.55" fill="#84f400"/>
<rect x="206.5" y="536.0" width="7.5" height="1.55" fill="#50f000"/>
<rect x="214.0" y="536.0" width="7.5" height="1.55" fill="#84f400"/>
<rect x="221.5" y="536.0" width="6.0" height="1.55" fill="#c0f000"/>
<rect x="227.5" y="536.0" width="22.5" height="1.55" fill="#f0f000"/>
<rect x="250.0" y="536.0" width="21.0" height="1.55" fill="#ffc800"/>
<rect x="271.0" y="536.0" width="6.0" height="1.55" fill="#ffa000"/>
<rect x="115.0" y="537.5" width="46.5" height="1.55" fill="#ffa000"/>
<rect x="161.5" y="537.5" width="15.0" height="1.55" fill="#ffc800"/>
<rect x="176.5" y="537.5" width="9.0" height="1.55" fill="#f0f000"/>
<rect x="185.5" y="537.5" width="10.5" height="1.55" fill="#c0f000"/>
<rect x="196.0" y="537.5" width="12.0" height="1.55" fill="#84f400"/>
<rect x="208.0" y="537.5" width="4.5" height="1.55" fill="#50f000"/>
<rect x="212.5" y="537.5" width="7.5" height="1.55" fill="#84f400"/>
<rect x="220.0" y="537.5" width="6.0" height="1.55" fill="#c0f000"/>
<rect x="226.0" y="537.5" width="24.0" height="1.55" fill="#f0f000"/>
<rect x="250.0" y="537.5" width="24.0" height="1.55" fill="#ffc800"/>
<rect x="274.0" y="537.5" width="3.0" height="1.55" fill="#ffa000"/>
<rect x="115.0" y="539.0" width="42.0" height="1.55" fill="#ffa000"/>
<rect x="157.0" y="539.0" width="18.0" height="1.55" fill="#ffc800"/>
<rect x="175.0" y="539.0" width="12.0" height="1.55" fill="#f0f000"/>
<rect x="187.0" y="539.0" width="10.5" height="1.55" fill="#c0f000"/>
<rect x="197.5" y="539.0" width="22.5" height="1.55" fill="#84f400"/>
<rect x="220.0" y="539.0" width="6.0" height="1.55" fill="#c0f000"/>
<rect x="226.0" y="539.0" width="24.0" height="1.55" fill="#f0f000"/>
<rect x="250.0" y="539.0" width="27.0" height="1.55" fill="#ffc800"/>
<rect x="115.0" y="540.5" width="16.5" height="1.55" fill="#ffa000"/>
<rect x="131.5" y="540.5" width="43.5" height="1.55" fill="#ffc800"/>
<rect x="175.0" y="540.5" width="12.0" height="1.55" fill="#f0f000"/>
<rect x="187.0" y="540.5" width="10.5" height="1.55" fill="#c0f000"/>
<rect x="197.5" y="540.5" width="21.0" height="1.55" fill="#84f400"/>
<rect x="218.5" y="540.5" width="6.0" height="1.55" fill="#c0f000"/>
<rect x="224.5" y="540.5" width="25.5" height="1.55" fill="#f0f000"/>
<rect x="250.0" y="540.5" width="27.0" height="1.55" fill="#ffc800"/>
<rect x="115.0" y="542.0" width="12.0" height="1.55" fill="#ffa000"/>
<rect x="127.0" y="542.0" width="46.5" height="1.55" fill="#ffc800"/>
<rect x="173.5" y="542.0" width="13.5" height="1.55" fill="#f0f000"/>
<rect x="187.0" y="542.0" width="12.0" height="1.55" fill="#c0f000"/>
<rect x="199.0" y="542.0" width="19.5" height="1.55" fill="#84f400"/>
<rect x="218.5" y="542.0" width="6.0" height="1.55" fill="#c0f000"/>
<rect x="224.5" y="542.0" width="27.0" height="1.55" fill="#f0f000"/>
<rect x="251.5" y="542.0" width="25.5" height="1.55" fill="#ffc800"/>
<rect x="115.0" y="543.5" width="9.0" height="1.55" fill="#ffa000"/>
<rect x="124.0" y="543.5" width="49.5" height="1.55" fill="#ffc800"/>
<rect x="173.5" y="543.5" width="13.5" height="1.55" fill="#f0f000"/>
<rect x="187.0" y="543.5" width="13.5" height="1.55" fill="#c0f000"/>
<rect x="200.5" y="543.5" width="18.0" height="1.55" fill="#84f400"/>
<rect x="218.5" y="543.5" width="6.0" height="1.55" fill="#c0f000"/>
<rect x="224.5" y="543.5" width="27.0" height="1.55" fill="#f0f000"/>
<rect x="251.5" y="543.5" width="25.5" height="1.55" fill="#ffc800"/>
<rect x="115.0" y="545.0" width="7.5" height="1.55" fill="#ffa000"/>
<rect x="122.5" y="545.0" width="49.5" height="1.55" fill="#ffc800"/>
<rect x="172.0" y="545.0" width="16.5" height="1.55" fill="#f0f000"/>
<rect x="188.5" y="545.0" width="15.0" height="1.55" fill="#c0f000"/>
<rect x="203.5" y="545.0" width="13.5" height="1.55" fill="#84f400"/>
<rect x="217.0" y="545.0" width="6.0" height="1.55" fill="#c0f000"/>
<rect x="223.0" y="545.0" width="30.0" height="1.55" fill="#f0f000"/>
<rect x="253.0" y="545.0" width="24.0" height="1.55" fill="#ffc800"/>
<rect x="115.0" y="546.5" width="6.0" height="1.55" fill="#ffa000"/>
<rect x="121.0" y="546.5" width="51.0" height="1.55" fill="#ffc800"/>
<rect x="172.0" y="546.5" width="18.0" height="1.55" fill="#f0f000"/>
<rect x="190.0" y="546.5" width="15.0" height="1.55" fill="#c0f000"/>
<rect x="205.0" y="546.5" width="10.5" height="1.55" fill="#84f400"/>
<rect x="215.5" y="546.5" width="7.5" height="1.55" fill="#c0f000"/>
<rect x="223.0" y="546.5" width="33.0" height="1.55" fill="#f0f000"/>
<rect x="256.0" y="546.5" width="21.0" height="1.55" fill="#ffc800"/>
<rect x="115.0" y="548.0" width="4.5" height="1.55" fill="#ffa000"/>
<rect x="119.5" y="548.0" width="51.0" height="1.55" fill="#ffc800"/>
<rect x="170.5" y="548.0" width="22.5" height="1.55" fill="#f0f000"/>
<rect x="193.0" y="548.0" width="16.5" height="1.55" fill="#c0f000"/>
<rect x="209.5" y="548.0" width="4.5" height="1.55" fill="#84f400"/>
<rect x="214.0" y="548.0" width="9.0" height="1.55" fill="#c0f000"/>
<rect x="223.0" y="548.0" width="36.0" height="1.55" fill="#f0f000"/>
<rect x="259.0" y="548.0" width="18.0" height="1.55" fill="#ffc800"/>
<rect x="115.0" y="549.5" width="3.0" height="1.55" fill="#ffa000"/>
<rect x="118.0" y="549.5" width="52.5" height="1.55" fill="#ffc800"/>
<rect x="170.5" y="549.5" width="28.5" height="1.55" fill="#f0f000"/>
<rect x="199.0" y="549.5" width="24.0" height="1.55" fill="#c0f000"/>
<rect x="223.0" y="549.5" width="16.5" height="1.55" fill="#f0f000"/>
<rect x="239.5" y="549.5" width="7.5" height="1.55" fill="#c0f000"/>
<rect x="247.0" y="549.5" width="18.0" height="1.55" fill="#f0f000"/>
<rect x="265.0" y="549.5" width="12.0" height="1.55" fill="#ffc800"/>
<rect x="115.0" y="551.0" width="15.0" height="1.55" fill="#ffc800"/>
<rect x="130.0" y="551.0" width="7.5" height="1.55" fill="#f0f000"/>
<rect x="137.5" y="551.0" width="31.5" height="1.55" fill="#ffc800"/>
<rect x="169.0" y="551.0" width="33.0" height="1.55" fill="#f0f000"/>
<rect x="202.0" y="551.0" width="21.0" height="1.55" fill="#c0f000"/>
<rect x="223.0" y="551.0" width="12.0" height="1.55" fill="#f0f000"/>
<rect x="235.0" y="551.0" width="16.5" height="1.55" fill="#c0f000"/>
<rect x="251.5" y="551.0" width="21.0" height="1.55" fill="#f0f000"/>
<rect x="272.5" y="551.0" width="4.5" height="1.55" fill="#ffc800"/>
<rect x="115.0" y="552.5" width="12.0" height="1.55" fill="#ffc800"/>
<rect x="127.0" y="552.5" width="12.0" height="1.55" fill="#f0f000"/>
<rect x="139.0" y="552.5" width="30.0" height="1.55" fill="#ffc800"/>
<rect x="169.0" y="552.5" width="10.5" height="1.55" fill="#f0f000"/>
<rect x="179.5" y="552.5" width="4.5" height="1.55" fill="#c0f000"/>
<rect x="184.0" y="552.5" width="21.0" height="1.55" fill="#f0f000"/>
<rect x="205.0" y="552.5" width="18.0" height="1.55" fill="#c0f000"/>
<rect x="223.0" y="552.5" width="9.0" height="1.55" fill="#f0f000"/>
<rect x="232.0" y="552.5" width="22.5" height="1.55" fill="#c0f000"/>
<rect x="254.5" y="552.5" width="22.5" height="1.55" fill="#f0f000"/>
<rect x="115.0" y="554.0" width="10.5" height="1.55" fill="#ffc800"/>
<rect x="125.5" y="554.0" width="13.5" height="1.55" fill="#f0f000"/>
<rect x="139.0" y="554.0" width="30.0" height="1.55" fill="#ffc800"/>
<rect x="169.0" y="554.0" width="7.5" height="1.55" fill="#f0f000"/>
<rect x="176.5" y="554.0" width="7.5" height="1.55" fill="#c0f000"/>
<rect x="184.0" y="554.0" width="24.0" height="1.55" fill="#f0f000"/>
<rect x="208.0" y="554.0" width="51.0" height="1.55" fill="#c0f000"/>
<rect x="259.0" y="554.0" width="18.0" height="1.55" fill="#f0f000"/>
<rect x="115.0" y="555.5" width="10.5" height="1.55" fill="#ffc800"/>
<rect x="125.5" y="555.5" width="13.5" height="1.55" fill="#f0f000"/>
<rect x="139.0" y="555.5" width="30.0" height="1.55" fill="#ffc800"/>
<rect x="169.0" y="555.5" width="6.0" height="1.55" fill="#f0f000"/>
<rect x="175.0" y="555.5" width="10.5" height="1.55" fill="#c0f000"/>
<rect x="185.5" y="555.5" width="10.5" height="1.55" fill="#f0f000"/>
<rect x="196.0" y="555.5" width="1.5" height="1.55" fill="#ffc800"/>
<rect x="197.5" y="555.5" width="16.5" height="1.55" fill="#f0f000"/>
<rect x="214.0" y="555.5" width="28.5" height="1.55" fill="#c0f000"/>
<rect x="242.5" y="555.5" width="3.0" height="1.55" fill="#84f400"/>
<rect x="245.5" y="555.5" width="16.5" height="1.55" fill="#c0f000"/>
<rect x="262.0" y="555.5" width="15.0" height="1.55" fill="#f0f000"/>
<rect x="115.0" y="557.0" width="9.0" height="1.55" fill="#ffc800"/>
<rect x="124.0" y="557.0" width="15.0" height="1.55" fill="#f0f000"/>
<rect x="139.0" y="557.0" width="28.5" height="1.55" fill="#ffc800"/>
<rect x="167.5" y="557.0" width="7.5" height="1.55" fill="#f0f000"/>
<rect x="175.0" y="557.0" width="10.5" height="1.55" fill="#c0f000"/>
<rect x="185.5" y="557.0" width="7.5" height="1.55" fill="#f0f000"/>
<rect x="193.0" y="557.0" width="9.0" height="1.55" fill="#ffc800"/>
<rect x="202.0" y="557.0" width="18.0" height="1.55" fill="#f0f000"/>
<rect x="220.0" y="557.0" width="18.0" height="1.55" fill="#c0f000"/>
<rect x="238.0" y="557.0" width="12.0" height="1.55" fill="#84f400"/>
<rect x="250.0" y="557.0" width="15.0" height="1.55" fill="#c0f000"/>
<rect x="265.0" y="557.0" width="12.0" height="1.55" fill="#f0f000"/>
<rect x="115.0" y="558.5" width="7.5" height="1.55" fill="#ffc800"/>
<rect x="122.5" y="558.5" width="18.0" height="1.55" fill="#f0f000"/>
<rect x="140.5" y="558.5" width="27.0" height="1.55" fill="#ffc800"/>
<rect x="167.5" y="558.5" width="6.0" height="1.55" fill="#f0f000"/>
<rect x="173.5" y="558.5" width="12.0" height="1.55" fill="#c0f000"/>
<rect x="185.5" y="558.5" width="6.0" height="1.55" fill="#f0f000"/>
<rect x="191.5" y="558.5" width="13.5" height="1.55" fill="#ffc800"/>
<rect x="205.0" y="558.5" width="15.0" height="1.55" fill="#f0f000"/>
<rect x="220.0" y="558.5" width="16.5" height="1.55" fill="#c0f000"/>
<rect x="236.5" y="558.5" width="16.5" height="1.55" fill="#84f400"/>
<rect x="253.0" y="558.5" width="13.5" height="1.55" fill="#c0f000"/>
<rect x="266.5" y="558.5" width="10.5" height="1.55" fill="#f0f000"/>
<rect x="115.0" y="560.0" width="7.5" height="1.55" fill="#ffc800"/>
<rect x="122.5" y="560.0" width="18.0" height="1.55" fill="#f0f000"/>
<rect x="140.5" y="560.0" width="27.0" height="1.55" fill="#ffc800"/>
<rect x="167.5" y="560.0" width="6.0" height="1.55" fill="#f0f000"/>
<rect x="173.5" y="560.0" width="12.0" height="1.55" fill="#c0f000"/>
<rect x="185.5" y="560.0" width="6.0" height="1.55" fill="#f0f000"/>
<rect x="191.5" y="560.0" width="15.0" height="1.55" fill="#ffc800"/>
<rect x="206.5" y="560.0" width="13.5" height="1.55" fill="#f0f000"/>
<rect x="220.0" y="560.0" width="15.0" height="1.55" fill="#c0f000"/>
<rect x="235.0" y="560.0" width="19.5" height="1.55" fill="#84f400"/>
<rect x="254.5" y="560.0" width="13.5" height="1.55" fill="#c0f000"/>
<rect x="268.0" y="560.0" width="9.0" height="1.55" fill="#f0f000"/>
<rect x="115.0" y="561.5" width="7.5" height="1.55" fill="#ffc800"/>
<rect x="122.5" y="561.5" width="18.0" height="1.55" fill="#f0f000"/>
<rect x="140.5" y="561.5" width="27.0" height="1.55" fill="#ffc800"/>
<rect x="167.5" y="561.5" width="6.0" height="1.55" fill="#f0f000"/>
<rect x="173.5" y="561.5" width="12.0" height="1.55" fill="#c0f000"/>
<rect x="185.5" y="561.5" width="6.0" height="1.55" fill="#f0f000"/>
<rect x="191.5" y="561.5" width="16.5" height="1.55" fill="#ffc800"/>
<rect x="208.0" y="561.5" width="12.0" height="1.55" fill="#f0f000"/>
<rect x="220.0" y="561.5" width="13.5" height="1.55" fill="#c0f000"/>
<rect x="233.5" y="561.5" width="21.0" height="1.55" fill="#84f400"/>
<rect x="254.5" y="561.5" width="15.0" height="1.55" fill="#c0f000"/>
<rect x="269.5" y="561.5" width="7.5" height="1.55" fill="#f0f000"/>
<rect x="115.0" y="563.0" width="6.0" height="1.55" fill="#ffc800"/>
<rect x="121.0" y="563.0" width="19.5" height="1.55" fill="#f0f000"/>
<rect x="140.5" y="563.0" width="25.5" height="1.55" fill="#ffc800"/>
<rect x="166.0" y="563.0" width="7.5" height="1.55" fill="#f0f000"/>
<rect x="173.5" y="563.0" width="12.0" height="1.55" fill="#c0f000"/>
<rect x="185.5" y="563.0" width="6.0" height="1.55" fill="#f0f000"/>
<rect x="191.5" y="563.0" width="16.5" height="1.55" fill="#ffc800"/>
<rect x="208.0" y="563.0" width="12.0" height="1.55" fill="#f0f000"/>
<rect x="220.0" y="563.0" width="12.0" height="1.55" fill="#c0f000"/>
<rect x="232.0" y="563.0" width="24.0" height="1.55" fill="#84f400"/>
<rect x="256.0" y="563.0" width="15.0" height="1.55" fill="#c0f000"/>
<rect x="271.0" y="563.0" width="6.0" height="1.55" fill="#f0f000"/>
<rect x="115.0" y="564.5" width="6.0" height="1.55" fill="#ffc800"/>
<rect x="121.0" y="564.5" width="19.5" height="1.55" fill="#f0f000"/>
<rect x="140.5" y="564.5" width="25.5" height="1.55" fill="#ffc800"/>
<rect x="166.0" y="564.5" width="6.0" height="1.55" fill="#f0f000"/>
<rect x="172.0" y="564.5" width="13.5" height="1.55" fill="#c0f000"/>
<rect x="185.5" y="564.5" width="6.0" height="1.55" fill="#f0f000"/>
<rect x="191.5" y="564.5" width="16.5" height="1.55" fill="#ffc800"/>
<rect x="208.0" y="564.5" width="12.0" height="1.55" fill="#f0f000"/>
<rect x="220.0" y="564.5" width="10.5" height="1.55" fill="#c0f000"/>
<rect x="230.5" y="564.5" width="25.5" height="1.55" fill="#84f400"/>
<rect x="256.0" y="564.5" width="16.5" height="1.55" fill="#c0f000"/>
<rect x="272.5" y="564.5" width="4.5" height="1.55" fill="#f0f000"/>
<rect x="115.0" y="566.0" width="6.0" height="1.55" fill="#ffc800"/>
<rect x="121.0" y="566.0" width="19.5" height="1.55" fill="#f0f000"/>
<rect x="140.5" y="566.0" width="24.0" height="1.55" fill="#ffc800"/>
<rect x="164.5" y="566.0" width="7.5" height="1.55" fill="#f0f000"/>
<rect x="172.0" y="566.0" width="13.5" height="1.55" fill="#c0f000"/>
<rect x="185.5" y="566.0" width="6.0" height="1.55" fill="#f0f000"/>
<rect x="191.5" y="566.0" width="18.0" height="1.55" fill="#ffc800"/>
<rect x="209.5" y="566.0" width="9.0" height="1.55" fill="#f0f000"/>
<rect x="218.5" y="566.0" width="10.5" height="1.55" fill="#c0f000"/>
<rect x="229.0" y="566.0" width="27.0" height="1.55" fill="#84f400"/>
<rect x="256.0" y="566.0" width="18.0" height="1.55" fill="#c0f000"/>
<rect x="274.0" y="566.0" width="3.0" height="1.55" fill="#f0f000"/>
<rect x="115.0" y="567.5" width="6.0" height="1.55" fill="#ffc800"/>
<rect x="121.0" y="567.5" width="19.5" height="1.55" fill="#f0f000"/>
<rect x="140.5" y="567.5" width="24.0" height="1.55" fill="#ffc800"/>
<rect x="164.5" y="567.5" width="7.5" height="1.55" fill="#f0f000"/>
<rect x="172.0" y="567.5" width="13.5" height="1.55" fill="#c0f000"/>
<rect x="185.5" y="567.5" width="6.0" height="1.55" fill="#f0f000"/>
<rect x="191.5" y="567.5" width="16.5" height="1.55" fill="#ffc800"/>
<rect x="208.0" y="567.5" width="10.5" height="1.55" fill="#f0f000"/>
<rect x="218.5" y="567.5" width="9.0" height="1.55" fill="#c0f000"/>
<rect x="227.5" y="567.5" width="27.0" height="1.55" fill="#84f400"/>
<rect x="254.5" y="567.5" width="22.5" height="1.55" fill="#c0f000"/>
<rect x="115.0" y="569.0" width="6.0" height="1.55" fill="#ffc800"/>
<rect x="121.0" y="569.0" width="19.5" height="1.55" fill="#f0f000"/>
<rect x="140.5" y="569.0" width="22.5" height="1.55" fill="#ffc800"/>
<rect x="163.0" y="569.0" width="9.0" height="1.55" fill="#f0f000"/>
<rect x="172.0" y="569.0" width="13.5" height="1.55" fill="#c0f000"/>
<rect x="185.5" y="569.0" width="6.0" height="1.55" fill="#f0f000"/>
<rect x="191.5" y="569.0" width="16.5" height="1.55" fill="#ffc800"/>
<rect x="208.0" y="569.0" width="10.5" height="1.55" fill="#f0f000"/>
<rect x="218.5" y="569.0" width="7.5" height="1.55" fill="#c0f000"/>
<rect x="226.0" y="569.0" width="28.5" height="1.55" fill="#84f400"/>
<rect x="254.5" y="569.0" width="22.5" height="1.55" fill="#c0f000"/>
<rect x="115.0" y="570.5" width="7.5" height="1.55" fill="#ffc800"/>
<rect x="122.5" y="570.5" width="16.5" height="1.55" fill="#f0f000"/>
<rect x="139.0" y="570.5" width="21.0" height="1.55" fill="#ffc800"/>
<rect x="160.0" y="570.5" width="10.5" height="1.55" fill="#f0f000"/>
<rect x="170.5" y="570.5" width="15.0" height="1.55" fill="#c0f000"/>
<rect x="185.5" y="570.5" width="6.0" height="1.55" fill="#f0f000"/>
<rect x="191.5" y="570.5" width="16.5" height="1.55" fill="#ffc800"/>
<rect x="208.0" y="570.5" width="9.0" height="1.55" fill="#f0f000"/>
<rect x="217.0" y="570.5" width="9.0" height="1.55" fill="#c0f000"/>
<rect x="226.0" y="570.5" width="28.5" height="1.55" fill="#84f400"/>
<rect x="254.5" y="570.5" width="22.5" height="1.55" fill="#c0f000"/>
<rect x="115.0" y="572.0" width="7.5" height="1.55" fill="#ffc800"/>
<rect x="122.5" y="572.0" width="16.5" height="1.55" fill="#f0f000"/>
<rect x="139.0" y="572.0" width="19.5" height="1.55" fill="#ffc800"/>
<rect x="158.5" y="572.0" width="12.0" height="1.55" fill="#f0f000"/>
<rect x="170.5" y="572.0" width="15.0" height="1.55" fill="#c0f000"/>
<rect x="185.5" y="572.0" width="6.0" height="1.55" fill="#f0f000"/>
<rect x="191.5" y="572.0" width="16.5" height="1.55" fill="#ffc800"/>
<rect x="208.0" y="572.0" width="9.0" height="1.55" fill="#f0f000"/>
<rect x="217.0" y="572.0" width="7.5" height="1.55" fill="#c0f000"/>
<rect x="224.5" y="572.0" width="28.5" height="1.55" fill="#84f400"/>
<rect x="253.0" y="572.0" width="24.0" height="1.55" fill="#c0f000"/>
<rect x="115.0" y="573.5" width="7.5" height="1.55" fill="#ffc800"/>
<rect x="122.5" y="573.5" width="16.5" height="1.55" fill="#f0f000"/>
<rect x="139.0" y="573.5" width="19.5" height="1.55" fill="#ffc800"/>
<rect x="158.5" y="573.5" width="12.0" height="1.55" fill="#f0f000"/>
<rect x="170.5" y="573.5" width="15.0" height="1.55" fill="#c0f000"/>
<rect x="185.5" y="573.5" width="6.0" height="1.55" fill="#f0f000"/>
<rect x="191.5" y="573.5" width="16.5" height="1.55" fill="#ffc800"/>
<rect x="208.0" y="573.5" width="9.0" height="1.55" fill="#f0f000"/>
<rect x="217.0" y="573.5" width="7.5" height="1.55" fill="#c0f000"/>
<rect x="224.5" y="573.5" width="28.5" height="1.55" fill="#84f400"/>
<rect x="253.0" y="573.5" width="24.0" height="1.55" fill="#c0f000"/>
<rect x="115.0" y="575.0" width="7.5" height="1.55" fill="#ffc800"/>
<rect x="122.5" y="575.0" width="16.5" height="1.55" fill="#f0f000"/>
<rect x="139.0" y="575.0" width="18.0" height="1.55" fill="#ffc800"/>
<rect x="157.0" y="575.0" width="13.5" height="1.55" fill="#f0f000"/>
<rect x="170.5" y="575.0" width="15.0" height="1.55" fill="#c0f000"/>
<rect x="185.5" y="575.0" width="6.0" height="1.55" fill="#f0f000"/>
<rect x="191.5" y="575.0" width="16.5" height="1.55" fill="#ffc800"/>
<rect x="208.0" y="575.0" width="9.0" height="1.55" fill="#f0f000"/>
<rect x="217.0" y="575.0" width="6.0" height="1.55" fill="#c0f000"/>
<rect x="223.0" y="575.0" width="30.0" height="1.55" fill="#84f400"/>
<rect x="253.0" y="575.0" width="24.0" height="1.55" fill="#c0f000"/></g>
<line x1="136.34" y1="439.72" x2="220.08" y2="439.72" stroke="#e8a000" stroke-width="0.45"/>
<line x1="136.34" y1="545.69" x2="220.08" y2="545.69" stroke="#e8a000" stroke-width="0.45"/>
<line x1="185.05" y1="448.44" x2="185.05" y2="536.75" stroke="#e8a000" stroke-width="0.45"/>
<line x1="211.32" y1="448.44" x2="211.32" y2="536.75" stroke="#e8a000" stroke-width="0.45"/>
<rect x="136.67" y="440.26" width="6.79" height="7.09" fill="#ffffff" stroke="none" stroke-width="0.6" fill-opacity="1"/>
<rect x="136.67" y="538.06" width="6.79" height="7.09" fill="#ffffff" stroke="none" stroke-width="0.6" fill-opacity="1"/>
<ellipse cx="146.63" cy="437.53" rx="3.50" ry="1.96" fill="#f8f000" stroke="none" stroke-width="0.6"/>
<ellipse cx="146.63" cy="437.53" rx="0.88" ry="0.65" fill="#e08000" stroke="none" stroke-width="0.6"/>
<line x1="144.99" y1="437.53" x2="144.99" y2="441.13" stroke="#f0c000" stroke-width="0.5"/>
<line x1="148.28" y1="437.53" x2="148.28" y2="441.13" stroke="#f0c000" stroke-width="0.5"/>
<rect x="143.79" y="441.13" width="5.69" height="6.11" fill="#ffffff" stroke="#f0c000" stroke-width="0.6" fill-opacity="1"/>
<ellipse cx="146.63" cy="547.87" rx="3.50" ry="1.96" fill="#f8f000" stroke="none" stroke-width="0.6"/>
<ellipse cx="146.63" cy="547.87" rx="0.88" ry="0.65" fill="#e08000" stroke="none" stroke-width="0.6"/>
<line x1="144.99" y1="547.87" x2="144.99" y2="544.27" stroke="#f0c000" stroke-width="0.5"/>
<line x1="148.28" y1="547.87" x2="148.28" y2="544.27" stroke="#f0c000" stroke-width="0.5"/>
<rect x="143.79" y="538.17" width="5.69" height="6.11" fill="#ffffff" stroke="#f0c000" stroke-width="0.6" fill-opacity="1"/>
<ellipse cx="156.38" cy="437.53" rx="3.50" ry="1.96" fill="#f8f000" stroke="none" stroke-width="0.6"/>
<ellipse cx="156.38" cy="437.53" rx="0.88" ry="0.65" fill="#e08000" stroke="none" stroke-width="0.6"/>
<line x1="154.73" y1="437.53" x2="154.73" y2="441.13" stroke="#f0c000" stroke-width="0.5"/>
<line x1="158.02" y1="437.53" x2="158.02" y2="441.13" stroke="#f0c000" stroke-width="0.5"/>
<rect x="153.53" y="441.13" width="5.69" height="6.11" fill="#ffffff" stroke="#f0c000" stroke-width="0.6" fill-opacity="1"/>
<ellipse cx="156.38" cy="547.87" rx="3.50" ry="1.96" fill="#f8f000" stroke="none" stroke-width="0.6"/>
<ellipse cx="156.38" cy="547.87" rx="0.88" ry="0.65" fill="#e08000" stroke="none" stroke-width="0.6"/>
<line x1="154.73" y1="547.87" x2="154.73" y2="544.27" stroke="#f0c000" stroke-width="0.5"/>
<line x1="158.02" y1="547.87" x2="158.02" y2="544.27" stroke="#f0c000" stroke-width="0.5"/>
<rect x="153.53" y="538.17" width="5.69" height="6.11" fill="#ffffff" stroke="#f0c000" stroke-width="0.6" fill-opacity="1"/>
<ellipse cx="166.66" cy="437.53" rx="3.50" ry="1.96" fill="#f8f000" stroke="none" stroke-width="0.6"/>
<ellipse cx="166.66" cy="437.53" rx="0.88" ry="0.65" fill="#e08000" stroke="none" stroke-width="0.6"/>
<line x1="165.02" y1="437.53" x2="165.02" y2="441.13" stroke="#f0c000" stroke-width="0.5"/>
<line x1="168.31" y1="437.53" x2="168.31" y2="441.13" stroke="#f0c000" stroke-width="0.5"/>
<rect x="163.82" y="441.13" width="5.69" height="6.11" fill="#ffffff" stroke="#f0c000" stroke-width="0.6" fill-opacity="1"/>
<ellipse cx="166.66" cy="547.87" rx="3.50" ry="1.96" fill="#f8f000" stroke="none" stroke-width="0.6"/>
<ellipse cx="166.66" cy="547.87" rx="0.88" ry="0.65" fill="#e08000" stroke="none" stroke-width="0.6"/>
<line x1="165.02" y1="547.87" x2="165.02" y2="544.27" stroke="#f0c000" stroke-width="0.5"/>
<line x1="168.31" y1="547.87" x2="168.31" y2="544.27" stroke="#f0c000" stroke-width="0.5"/>
<rect x="163.82" y="538.17" width="5.69" height="6.11" fill="#ffffff" stroke="#f0c000" stroke-width="0.6" fill-opacity="1"/>
<ellipse cx="177.17" cy="437.53" rx="3.50" ry="1.96" fill="#f8f000" stroke="none" stroke-width="0.6"/>
<ellipse cx="177.17" cy="437.53" rx="0.88" ry="0.65" fill="#e08000" stroke="none" stroke-width="0.6"/>
<line x1="175.53" y1="437.53" x2="175.53" y2="441.13" stroke="#f0c000" stroke-width="0.5"/>
<line x1="178.81" y1="437.53" x2="178.81" y2="441.13" stroke="#f0c000" stroke-width="0.5"/>
<rect x="174.33" y="441.13" width="5.69" height="6.11" fill="#ffffff" stroke="#f0c000" stroke-width="0.6" fill-opacity="1"/>
<ellipse cx="177.17" cy="547.87" rx="3.50" ry="1.96" fill="#f8f000" stroke="none" stroke-width="0.6"/>
<ellipse cx="177.17" cy="547.87" rx="0.88" ry="0.65" fill="#e08000" stroke="none" stroke-width="0.6"/>
<line x1="175.53" y1="547.87" x2="175.53" y2="544.27" stroke="#f0c000" stroke-width="0.5"/>
<line x1="178.81" y1="547.87" x2="178.81" y2="544.27" stroke="#f0c000" stroke-width="0.5"/>
<rect x="174.33" y="538.17" width="5.69" height="6.11" fill="#ffffff" stroke="#f0c000" stroke-width="0.6" fill-opacity="1"/>
<ellipse cx="188.67" cy="437.53" rx="3.50" ry="1.96" fill="#f8f000" stroke="none" stroke-width="0.6"/>
<ellipse cx="188.67" cy="437.53" rx="0.88" ry="0.65" fill="#e08000" stroke="none" stroke-width="0.6"/>
<line x1="187.02" y1="437.53" x2="187.02" y2="441.13" stroke="#f0c000" stroke-width="0.5"/>
<line x1="190.31" y1="437.53" x2="190.31" y2="441.13" stroke="#f0c000" stroke-width="0.5"/>
<rect x="185.82" y="441.13" width="5.69" height="6.11" fill="#ffffff" stroke="#f0c000" stroke-width="0.6" fill-opacity="1"/>
<ellipse cx="188.67" cy="547.87" rx="3.50" ry="1.96" fill="#f8f000" stroke="none" stroke-width="0.6"/>
<ellipse cx="188.67" cy="547.87" rx="0.88" ry="0.65" fill="#e08000" stroke="none" stroke-width="0.6"/>
<line x1="187.02" y1="547.87" x2="187.02" y2="544.27" stroke="#f0c000" stroke-width="0.5"/>
<line x1="190.31" y1="547.87" x2="190.31" y2="544.27" stroke="#f0c000" stroke-width="0.5"/>
<rect x="185.82" y="538.17" width="5.69" height="6.11" fill="#ffffff" stroke="#f0c000" stroke-width="0.6" fill-opacity="1"/>
<ellipse cx="202.24" cy="437.53" rx="3.50" ry="1.96" fill="#f8f000" stroke="none" stroke-width="0.6"/>
<ellipse cx="202.24" cy="437.53" rx="0.88" ry="0.65" fill="#e08000" stroke="none" stroke-width="0.6"/>
<line x1="200.60" y1="437.53" x2="200.60" y2="441.13" stroke="#f0c000" stroke-width="0.5"/>
<line x1="203.88" y1="437.53" x2="203.88" y2="441.13" stroke="#f0c000" stroke-width="0.5"/>
<rect x="199.39" y="441.13" width="5.69" height="6.11" fill="#ffffff" stroke="#f0c000" stroke-width="0.6" fill-opacity="1"/>
<ellipse cx="202.24" cy="547.87" rx="3.50" ry="1.96" fill="#f8f000" stroke="none" stroke-width="0.6"/>
<ellipse cx="202.24" cy="547.87" rx="0.88" ry="0.65" fill="#e08000" stroke="none" stroke-width="0.6"/>
<line x1="200.60" y1="547.87" x2="200.60" y2="544.27" stroke="#f0c000" stroke-width="0.5"/>
<line x1="203.88" y1="547.87" x2="203.88" y2="544.27" stroke="#f0c000" stroke-width="0.5"/>
<rect x="199.39" y="538.17" width="5.69" height="6.11" fill="#ffffff" stroke="#f0c000" stroke-width="0.6" fill-opacity="1"/>
<ellipse cx="215.26" cy="437.53" rx="3.50" ry="1.96" fill="#f8f000" stroke="none" stroke-width="0.6"/>
<ellipse cx="215.26" cy="437.53" rx="0.88" ry="0.65" fill="#e08000" stroke="none" stroke-width="0.6"/>
<line x1="213.62" y1="437.53" x2="213.62" y2="441.13" stroke="#f0c000" stroke-width="0.5"/>
<line x1="216.91" y1="437.53" x2="216.91" y2="441.13" stroke="#f0c000" stroke-width="0.5"/>
<rect x="212.42" y="441.13" width="5.69" height="6.11" fill="#ffffff" stroke="#f0c000" stroke-width="0.6" fill-opacity="1"/>
<ellipse cx="215.26" cy="547.87" rx="3.50" ry="1.96" fill="#f8f000" stroke="none" stroke-width="0.6"/>
<ellipse cx="215.26" cy="547.87" rx="0.88" ry="0.65" fill="#e08000" stroke="none" stroke-width="0.6"/>
<line x1="213.62" y1="547.87" x2="213.62" y2="544.27" stroke="#f0c000" stroke-width="0.5"/>
<line x1="216.91" y1="547.87" x2="216.91" y2="544.27" stroke="#f0c000" stroke-width="0.5"/>
<rect x="212.42" y="538.17" width="5.69" height="6.11" fill="#ffffff" stroke="#f0c000" stroke-width="0.6" fill-opacity="1"/>
<rect x="220.74" y="427.72" width="25.18" height="19.62" fill="#ffffff" stroke="#e8b0a0" stroke-width="0.5" fill-opacity="1"/>
<rect x="222.82" y="432.08" width="6.57" height="14.17" fill="none" stroke="#f0e060" stroke-width="0.5" fill-opacity="1"/>
<rect x="220.74" y="538.06" width="25.18" height="19.62" fill="#ffffff" stroke="#e8b0a0" stroke-width="0.5" fill-opacity="1"/>
<rect x="222.82" y="539.15" width="6.57" height="14.17" fill="none" stroke="#f0e060" stroke-width="0.5" fill-opacity="1"/>
<rect x="225.88" y="449.53" width="4.93" height="6.00" fill="#ffffff" stroke="#f0c000" stroke-width="0.5" fill-opacity="1"/>
<rect x="237.05" y="449.53" width="6.02" height="6.00" fill="#ffffff" stroke="#f0c000" stroke-width="0.5" fill-opacity="1"/>
<ellipse cx="246.68" cy="452.47" rx="1.53" ry="3.27" fill="#f8f000" stroke="none" stroke-width="0.6"/>
<ellipse cx="226.98" cy="452.47" rx="1.31" ry="2.83" fill="#f8f000" stroke="none" stroke-width="0.6"/>
<rect x="225.88" y="529.88" width="4.93" height="6.00" fill="#ffffff" stroke="#f0c000" stroke-width="0.5" fill-opacity="1"/>
<rect x="237.05" y="529.88" width="6.02" height="6.00" fill="#ffffff" stroke="#f0c000" stroke-width="0.5" fill-opacity="1"/>
<ellipse cx="246.68" cy="532.82" rx="1.53" ry="3.27" fill="#f8f000" stroke="none" stroke-width="0.6"/>
<ellipse cx="226.98" cy="532.82" rx="1.31" ry="2.83" fill="#f8f000" stroke="none" stroke-width="0.6"/>
<rect x="237.05" y="458.25" width="7.66" height="6.87" fill="#ffffff" stroke="#e8b0a0" stroke-width="0.4" fill-opacity="1"/>
<rect x="237.05" y="520.29" width="7.66" height="6.87" fill="#ffffff" stroke="#e8b0a0" stroke-width="0.4" fill-opacity="1"/>
<rect x="188.89" y="451.16" width="16.97" height="5.23" fill="#ffffff" stroke="#f0c000" stroke-width="0.6" fill-opacity="1"/>
<line x1="197.31" y1="451.16" x2="197.31" y2="456.40" stroke="#e0e0e0" stroke-width="0.5"/>
<ellipse cx="187.90" cy="453.78" rx="1.31" ry="3.27" fill="#f8f000" stroke="none" stroke-width="0.6"/>
<ellipse cx="207.60" cy="453.78" rx="1.31" ry="3.27" fill="#f8f000" stroke="none" stroke-width="0.6"/>
<rect x="188.89" y="528.79" width="16.97" height="5.23" fill="#ffffff" stroke="#f0c000" stroke-width="0.6" fill-opacity="1"/>
<line x1="197.31" y1="528.79" x2="197.31" y2="534.02" stroke="#e0e0e0" stroke-width="0.5"/>
<ellipse cx="187.90" cy="531.41" rx="1.31" ry="3.27" fill="#f8f000" stroke="none" stroke-width="0.6"/>
<ellipse cx="207.60" cy="531.41" rx="1.31" ry="3.27" fill="#f8f000" stroke="none" stroke-width="0.6"/>
<rect x="188.89" y="478.42" width="16.97" height="5.23" fill="#ffffff" stroke="#f0c000" stroke-width="0.6" fill-opacity="1"/>
<line x1="197.31" y1="478.42" x2="197.31" y2="483.65" stroke="#e0e0e0" stroke-width="0.5"/>
<ellipse cx="187.90" cy="481.04" rx="1.31" ry="3.27" fill="#f8f000" stroke="none" stroke-width="0.6"/>
<ellipse cx="207.60" cy="481.04" rx="1.31" ry="3.27" fill="#f8f000" stroke="none" stroke-width="0.6"/>
<rect x="188.89" y="501.53" width="16.97" height="5.23" fill="#ffffff" stroke="#f0c000" stroke-width="0.6" fill-opacity="1"/>
<line x1="197.31" y1="501.53" x2="197.31" y2="506.77" stroke="#e0e0e0" stroke-width="0.5"/>
<ellipse cx="187.90" cy="504.15" rx="1.31" ry="3.27" fill="#f8f000" stroke="none" stroke-width="0.6"/>
<ellipse cx="207.60" cy="504.15" rx="1.31" ry="3.27" fill="#f8f000" stroke="none" stroke-width="0.6"/>
<rect x="198.19" y="464.03" width="5.69" height="5.02" fill="#ffffff" stroke="#f0c000" stroke-width="0.6" fill-opacity="1"/>
<ellipse cx="207.49" cy="466.54" rx="1.31" ry="3.27" fill="#f8f000" stroke="none" stroke-width="0.6"/>
<rect x="198.19" y="516.58" width="5.69" height="5.02" fill="#ffffff" stroke="#f0c000" stroke-width="0.6" fill-opacity="1"/>
<ellipse cx="207.49" cy="519.09" rx="1.31" ry="3.27" fill="#f8f000" stroke="none" stroke-width="0.6"/>
<rect x="159.33" y="489.10" width="6.13" height="5.23" fill="#ffffff" stroke="#f0c000" stroke-width="0.6" fill-opacity="1"/>
<ellipse cx="156.92" cy="491.72" rx="1.31" ry="3.05" fill="#f8f000" stroke="none" stroke-width="0.6"/>
</g>
<rect x="115.5" y="419.5" width="161" height="156" fill="none" stroke="#8a8ab0" stroke-width="1"/>
<path d="M115.0,456.5 h-4 v13.5 h4" fill="none" stroke="#3cc83c" stroke-width="0.8"/>
<path d="M277.0,456.5 h4 v13.5 h-4" fill="none" stroke="#3cc83c" stroke-width="0.8"/>
<path d="M115.0,512.0 h-4 v13.5 h4" fill="none" stroke="#3cc83c" stroke-width="0.8"/>
<path d="M277.0,512.0 h4 v13.5 h-4" fill="none" stroke="#3cc83c" stroke-width="0.8"/>
<rect x="283.3" y="419" width="19.899999999999977" height="126.79999999999995" fill="url(#lg)"/>
<line x1="303.2" y1="419.00" x2="310" y2="419.00" stroke="#606060" stroke-width="0.9"/>
<text x="314" y="421.20" font-size="7.4" font-weight="bold" fill="#1a1a1a" stroke="#1a1a1a" stroke-width="0.2" textLength="26" lengthAdjust="spacingAndGlyphs">93.7749</text>
<line x1="283.3" y1="434.85" x2="303.2" y2="434.85" stroke="#000" stroke-opacity="0.55" stroke-width="0.9"/>
<line x1="303.2" y1="434.85" x2="310" y2="434.85" stroke="#606060" stroke-width="0.9"/>
<text x="314" y="437.05" font-size="7.4" font-weight="bold" fill="#1a1a1a" stroke="#1a1a1a" stroke-width="0.2" textLength="26" lengthAdjust="spacingAndGlyphs">82.0530</text>
<line x1="283.3" y1="450.70" x2="303.2" y2="450.70" stroke="#000" stroke-opacity="0.55" stroke-width="0.9"/>
<line x1="303.2" y1="450.70" x2="310" y2="450.70" stroke="#606060" stroke-width="0.9"/>
<text x="314" y="452.90" font-size="7.4" font-weight="bold" fill="#1a1a1a" stroke="#1a1a1a" stroke-width="0.2" textLength="26" lengthAdjust="spacingAndGlyphs">70.3312</text>
<line x1="283.3" y1="466.55" x2="303.2" y2="466.55" stroke="#000" stroke-opacity="0.55" stroke-width="0.9"/>
<line x1="303.2" y1="466.55" x2="310" y2="466.55" stroke="#606060" stroke-width="0.9"/>
<text x="314" y="468.75" font-size="7.4" font-weight="bold" fill="#1a1a1a" stroke="#1a1a1a" stroke-width="0.2" textLength="26" lengthAdjust="spacingAndGlyphs">58.6093</text>
<line x1="283.3" y1="482.40" x2="303.2" y2="482.40" stroke="#000" stroke-opacity="0.55" stroke-width="0.9"/>
<line x1="303.2" y1="482.40" x2="310" y2="482.40" stroke="#606060" stroke-width="0.9"/>
<text x="314" y="484.60" font-size="7.4" font-weight="bold" fill="#1a1a1a" stroke="#1a1a1a" stroke-width="0.2" textLength="26" lengthAdjust="spacingAndGlyphs">46.8875</text>
<line x1="283.3" y1="498.25" x2="303.2" y2="498.25" stroke="#000" stroke-opacity="0.55" stroke-width="0.9"/>
<line x1="303.2" y1="498.25" x2="310" y2="498.25" stroke="#606060" stroke-width="0.9"/>
<text x="314" y="500.45" font-size="7.4" font-weight="bold" fill="#1a1a1a" stroke="#1a1a1a" stroke-width="0.2" textLength="26" lengthAdjust="spacingAndGlyphs">35.1656</text>
<line x1="283.3" y1="514.10" x2="303.2" y2="514.10" stroke="#000" stroke-opacity="0.55" stroke-width="0.9"/>
<line x1="303.2" y1="514.10" x2="310" y2="514.10" stroke="#606060" stroke-width="0.9"/>
<text x="314" y="516.30" font-size="7.4" font-weight="bold" fill="#1a1a1a" stroke="#1a1a1a" stroke-width="0.2" textLength="26" lengthAdjust="spacingAndGlyphs">23.4437</text>
<line x1="283.3" y1="529.95" x2="303.2" y2="529.95" stroke="#000" stroke-opacity="0.55" stroke-width="0.9"/>
<line x1="303.2" y1="529.95" x2="310" y2="529.95" stroke="#606060" stroke-width="0.9"/>
<text x="314" y="532.15" font-size="7.4" font-weight="bold" fill="#1a1a1a" stroke="#1a1a1a" stroke-width="0.2" textLength="26" lengthAdjust="spacingAndGlyphs">11.7219</text>
<line x1="303.2" y1="545.80" x2="310" y2="545.80" stroke="#606060" stroke-width="0.9"/>
<text x="314" y="548.00" font-size="7.4" font-weight="bold" fill="#1a1a1a" stroke="#1a1a1a" stroke-width="0.2" textLength="28" lengthAdjust="spacingAndGlyphs">0.000001</text>
<text x="284" y="407.6" font-size="7.03" font-weight="bold" fill="#222" textLength="48" lengthAdjust="spacingAndGlyphs">Mean age of air</text>
<text x="288.2" y="412.8" font-size="7.03" font-weight="bold" fill="#222" textLength="3.2" lengthAdjust="spacingAndGlyphs">s</text>
<path d="M469.0 418.7l8 -1.6M481.5 418.7l8 -1.6M494.0 418.7l8 -1.6M506.5 418.7l8 -1.6M519.0 418.7l8 -1.6" stroke="#10e8a0" stroke-width="1.1" fill="none"/>
<path d="M469.0 425.2l8 -1.6M481.5 425.2l8 -1.6M494.0 425.2l8 -1.6M506.5 425.2l8 -1.6M519.0 425.2l8 -1.6" stroke="#00e0b0" stroke-width="1.1" fill="none"/>
<path d="M477.6 431.0l-1.3 3.4" stroke="#00f0dc" stroke-width="1.1" fill="none"/>
<path d="M477.5 435.3l-1.2 3.4M477.5 439.6l-1.1 3.4" stroke="#00dcdc" stroke-width="1.1" fill="none"/>
<path d="M477.4 443.9l-1.0 3.4M477.4 448.2l-0.9 3.4M477.3 452.5l-0.8 3.4M477.2 456.8l-0.7 3.4" stroke="#00dcf0" stroke-width="1.1" fill="none"/>
<path d="M477.2 461.1l-0.6 3.4M477.1 465.4l-0.5 3.4M476.6 499.8l0.2 3.4" stroke="#00dcff" stroke-width="1.1" fill="none"/>
<path d="M477.1 469.7l-0.5 3.4M477.0 474.0l-0.4 3.4M476.9 478.3l-0.3 3.4" stroke="#00c8ff" stroke-width="1.1" fill="none"/>
<path d="M476.9 482.6l-0.2 3.4M476.8 486.9l-0.1 3.4M476.8 491.2l0.0 3.4" stroke="#00b4ff" stroke-width="1.1" fill="none"/>
<path d="M476.7 495.5l0.1 3.4" stroke="#00a0ff" stroke-width="1.1" fill="none"/>
<path d="M489.8 431.0l-1.3 3.4" stroke="#00f0dc" stroke-width="1.1" fill="none"/>
<path d="M489.7 435.3l-1.2 3.4M489.7 439.6l-1.1 3.4" stroke="#00dcdc" stroke-width="1.1" fill="none"/>
<path d="M489.6 443.9l-1.0 3.4M489.6 448.2l-0.9 3.4M489.5 452.5l-0.8 3.4M489.4 456.8l-0.7 3.4" stroke="#00dcf0" stroke-width="1.1" fill="none"/>
<path d="M489.4 461.1l-0.6 3.4M489.3 465.4l-0.5 3.4M488.8 499.8l0.2 3.4" stroke="#00dcff" stroke-width="1.1" fill="none"/>
<path d="M489.3 469.7l-0.5 3.4M489.2 474.0l-0.4 3.4M489.1 478.3l-0.3 3.4" stroke="#00c8ff" stroke-width="1.1" fill="none"/>
<path d="M489.1 482.6l-0.2 3.4M489.0 486.9l-0.1 3.4M489.0 491.2l0.0 3.4" stroke="#00b4ff" stroke-width="1.1" fill="none"/>
<path d="M488.9 495.5l0.1 3.4" stroke="#00a0ff" stroke-width="1.1" fill="none"/>
<path d="M502.0 431.0l-1.3 3.4" stroke="#00f0dc" stroke-width="1.1" fill="none"/>
<path d="M501.9 435.3l-1.2 3.4M501.9 439.6l-1.1 3.4" stroke="#00dcdc" stroke-width="1.1" fill="none"/>
<path d="M501.8 443.9l-1.0 3.4M501.8 448.2l-0.9 3.4M501.7 452.5l-0.8 3.4M501.6 456.8l-0.7 3.4" stroke="#00dcf0" stroke-width="1.1" fill="none"/>
<path d="M501.6 461.1l-0.6 3.4M501.5 465.4l-0.5 3.4M501.0 499.8l0.2 3.4" stroke="#00dcff" stroke-width="1.1" fill="none"/>
<path d="M501.5 469.7l-0.5 3.4M501.4 474.0l-0.4 3.4M501.3 478.3l-0.3 3.4" stroke="#00c8ff" stroke-width="1.1" fill="none"/>
<path d="M501.3 482.6l-0.2 3.4M501.2 486.9l-0.1 3.4M501.2 491.2l0.0 3.4" stroke="#00b4ff" stroke-width="1.1" fill="none"/>
<path d="M501.1 495.5l0.1 3.4" stroke="#00a0ff" stroke-width="1.1" fill="none"/>
<path d="M514.2 431.0l-1.3 3.4" stroke="#00f0dc" stroke-width="1.1" fill="none"/>
<path d="M514.1 435.3l-1.2 3.4M514.1 439.6l-1.1 3.4" stroke="#00dcdc" stroke-width="1.1" fill="none"/>
<path d="M514.0 443.9l-1.0 3.4M514.0 448.2l-0.9 3.4M513.9 452.5l-0.8 3.4M513.8 456.8l-0.7 3.4" stroke="#00dcf0" stroke-width="1.1" fill="none"/>
<path d="M513.8 461.1l-0.6 3.4M513.7 465.4l-0.5 3.4M513.2 499.8l0.2 3.4" stroke="#00dcff" stroke-width="1.1" fill="none"/>
<path d="M513.7 469.7l-0.5 3.4M513.6 474.0l-0.4 3.4M513.5 478.3l-0.3 3.4" stroke="#00c8ff" stroke-width="1.1" fill="none"/>
<path d="M513.5 482.6l-0.2 3.4M513.4 486.9l-0.1 3.4M513.4 491.2l0.0 3.4" stroke="#00b4ff" stroke-width="1.1" fill="none"/>
<path d="M513.3 495.5l0.1 3.4" stroke="#00a0ff" stroke-width="1.1" fill="none"/>
<path d="M526.4 431.0l-1.3 3.4" stroke="#00f0dc" stroke-width="1.1" fill="none"/>
<path d="M526.3 435.3l-1.2 3.4M526.3 439.6l-1.1 3.4" stroke="#00dcdc" stroke-width="1.1" fill="none"/>
<path d="M526.2 443.9l-1.0 3.4M526.2 448.2l-0.9 3.4M526.1 452.5l-0.8 3.4M526.0 456.8l-0.7 3.4" stroke="#00dcf0" stroke-width="1.1" fill="none"/>
<path d="M526.0 461.1l-0.6 3.4M525.9 465.4l-0.5 3.4M525.4 499.8l0.2 3.4" stroke="#00dcff" stroke-width="1.1" fill="none"/>
<path d="M525.9 469.7l-0.5 3.4M525.8 474.0l-0.4 3.4M525.7 478.3l-0.3 3.4" stroke="#00c8ff" stroke-width="1.1" fill="none"/>
<path d="M525.7 482.6l-0.2 3.4M525.6 486.9l-0.1 3.4M525.6 491.2l0.0 3.4" stroke="#00b4ff" stroke-width="1.1" fill="none"/>
<path d="M525.5 495.5l0.1 3.4" stroke="#00a0ff" stroke-width="1.1" fill="none"/>
<path d="M521.0 444.0 Q524.0 430.0 540.0 426.0" stroke="#20e0c0" stroke-width="0.9" fill="none"/>
<path d="M521.5 450.0 Q524.0 436.0 542.0 432.0" stroke="#20e0c0" stroke-width="0.9" fill="none"/>
<path d="M522.0 456.0 Q524.0 442.0 544.0 438.0" stroke="#20e0c0" stroke-width="0.9" fill="none"/>
<path d="M522.5 462.0 Q524.0 448.0 546.0 444.0" stroke="#20e0c0" stroke-width="0.9" fill="none"/>
<path d="M523.0 468.0 Q524.0 454.0 548.0 450.0" stroke="#20e0c0" stroke-width="0.9" fill="none"/>
<path d="M523.5 474.0 Q524.0 460.0 550.0 456.0" stroke="#20e0c0" stroke-width="0.9" fill="none"/>
<ellipse cx="612" cy="474" rx="12" ry="16" fill="#00d8f0" fill-opacity="0.55"/>
<ellipse cx="760" cy="475" rx="12" ry="15" fill="#00d8f0" fill-opacity="0.55"/>
<path d="M542.5 408.1l-3.3 5.2M796.5 407.1l-4.7 7.2M542.8 410.5l-3.1 5.0M591.4 410.0l4.8 6.4M842.5 410.0l4.6 6.3M543.3 412.3l-4.5 7.2M545.5 415.3l-3.5 6.3M591.5 415.0l5.1 6.8M594.3 416.2l4.0 4.8M798.6 415.5l-3.6 6.2M545.9 417.6l-4.1 7.3M547.2 417.7l-2.9 5.7M590.2 418.4l3.5 5.0M795.9 417.8l-4.1 6.2M798.3 417.4l-4.4 7.3M842.7 418.3l3.6 5.0M594.1 421.2l4.4 5.3M796.4 420.2l-4.1 6.3M798.7 420.8l-3.6 6.2M801.0 420.3l-3.7 7.1M846.2 420.7l5.1 6.1M545.8 422.9l-4.0 7.2M591.5 422.7l4.9 6.5M595.6 423.1l5.0 5.8M796.0 423.7l-3.3 5.1M847.4 423.6l4.6 5.2M548.8 425.3l-2.9 6.2M589.6 426.0l3.8 5.5M591.4 425.1l5.2 6.9M595.7 426.1l4.7 5.4M846.9 426.1l4.9 5.7M547.4 427.9l-3.8 7.4M549.9 427.2l-3.4 7.7M591.6 428.9l4.1 5.5M598.0 428.7l1.2 5.0M796.5 428.3l-3.4 5.3M841.1 429.3l3.3 4.8M852.0 429.3l-0.9 4.6M549.5 430.7l-3.2 7.1M551.9 430.4l-2.7 7.2M796.7 430.3l-4.2 6.5M800.1 430.9l-2.9 5.5M846.5 430.5l5.4 6.3M851.9 431.3l-1.0 5.3M549.7 432.8l-3.0 6.8M553.9 432.2l-2.6 8.1M555.3 433.5l-1.6 5.8M593.7 433.5l5.5 6.7M802.6 433.5l-3.1 6.7M804.4 432.8l-2.8 6.8M844.5 433.1l4.8 6.0M553.6 436.4l-1.9 5.9M556.9 436.0l-1.4 6.1M588.0 436.3l4.0 6.2M590.1 436.9l3.6 5.1M803.0 435.8l-3.3 7.2M804.4 435.4l-2.8 6.7M806.7 435.4l-2.4 7.0M832.7 436.2l2.5 5.6M835.0 436.6l2.9 5.8M840.9 436.0l3.9 5.7M559.6 437.7l-1.2 7.4M565.1 438.6l0.0 6.6M571.4 438.4l1.2 6.4M575.3 438.2l2.2 7.2M577.2 437.9l2.9 8.0M579.1 437.9l3.0 7.3M812.7 438.0l-1.1 6.8M816.5 437.9l-0.3 7.1M567.9 441.3l0.5 5.9M569.7 440.8l0.9 6.9M571.7 440.4l1.7 8.4M573.5 440.9l1.7 6.8M581.7 440.5l3.7 7.6M810.7 441.2l-1.4 6.4M812.1 440.8l-1.2 6.5M814.2 440.3l-1.0 8.5M816.3 440.0l-0.5 8.6M822.2 440.6l1.0 7.9M827.9 440.5l2.3 7.6M565.5 443.2l0.1 6.7M569.7 443.6l1.0 7.2" stroke="#3cf000" stroke-width="0.8" fill="none" stroke-linecap="round"/>
<path d="M545.6 407.5l-3.7 6.6M591.9 407.5l5.2 6.7M798.7 407.0l-4.1 7.0M840.4 407.3l4.6 6.8M842.3 407.0l4.7 6.5M840.8 410.7l3.4 5.0M545.5 412.4l-3.6 6.4M587.0 412.5l4.6 7.2M589.2 412.6l4.5 6.6M592.0 412.5l4.4 5.7M798.4 412.4l-4.0 6.8M842.7 413.0l3.6 4.9M587.2 414.9l4.3 6.7M589.6 415.3l3.7 5.3M840.7 415.1l4.6 6.7M843.3 415.7l3.9 5.3M587.8 418.0l3.9 6.0M591.4 417.8l4.5 6.0M802.4 417.0l-3.4 7.2M840.1 417.5l4.3 6.5M546.9 420.2l-3.0 5.8M550.0 419.9l-3.4 7.8M588.0 420.8l3.3 5.2M589.6 420.1l4.5 6.3M592.5 420.9l3.6 4.8M805.0 419.8l-3.1 7.8M836.5 421.0l3.1 5.6M838.4 420.1l4.1 6.7M840.5 420.4l3.9 5.8M842.9 420.8l3.6 4.8M551.2 422.8l-2.9 7.3M587.7 423.2l3.2 5.0M590.0 423.5l4.1 5.8M800.5 423.5l-2.7 5.3M836.4 423.2l3.1 5.7M838.0 422.7l4.2 6.9M841.1 423.3l3.4 5.0M551.2 425.5l-2.4 6.1M585.7 426.4l3.1 5.4M802.1 426.0l-2.6 5.5M804.4 425.5l-2.7 6.4M840.3 425.7l4.0 6.0M550.9 428.5l-2.2 5.6M553.1 427.4l-2.6 7.6M555.4 428.0l-1.9 6.9M581.6 428.5l2.6 5.5M586.1 428.5l3.3 5.6M589.8 428.0l4.9 6.9M593.9 428.1l5.5 6.6M800.3 428.5l-3.1 5.8M802.3 427.9l-3.5 7.3M804.3 428.3l-2.5 6.0M834.5 428.0l3.0 6.1M838.7 428.8l3.4 5.5M844.2 428.3l5.2 6.6M846.9 428.2l4.6 5.4M553.9 430.0l-2.3 7.3M583.5 430.1l4.1 7.6M587.6 431.2l3.3 5.2M589.9 431.2l3.7 5.3M592.3 431.7l3.6 4.7M802.2 430.6l-3.0 6.3M806.1 430.6l-2.5 6.9M808.1 431.1l-1.8 6.0M830.9 431.5l2.1 5.4M832.6 430.2l3.4 7.6M838.7 430.5l4.3 6.8M842.0 430.3l5.1 6.9M561.8 432.1l-0.8 8.6M577.7 433.4l2.6 7.0M579.5 432.4l3.3 7.8M582.0 433.4l2.6 5.4M585.4 432.8l4.1 7.0M806.2 434.0l-2.0 5.6M810.8 433.2l-1.4 6.5M814.2 432.2l-0.9 8.0M820.5 433.0l0.6 7.4M828.9 433.7l2.1 6.4M830.1 432.6l2.7 7.2M832.2 432.5l3.4 7.7M834.3 433.9l2.6 5.4M836.7 433.0l3.8 6.6M839.2 433.7l3.3 5.3M840.9 434.2l3.4 5.0M559.4 436.1l-1.0 6.1M567.0 435.4l0.4 6.7M571.8 435.4l1.6 8.1M579.4 436.0l2.6 6.3M581.2 435.6l3.0 6.5M583.1 435.3l3.9 7.4M585.8 435.9l3.8 6.4M810.2 434.9l-2.0 8.1M814.7 435.8l-0.6 6.0M822.9 436.2l0.9 6.2M824.2 435.9l1.4 7.2M828.0 435.0l2.5 8.2M830.4 436.1l2.2 6.0M563.4 437.7l-0.4 7.9M569.2 437.2l1.0 8.4M818.2 437.9l0.0 7.4M824.5 438.3l1.2 6.1M828.6 437.9l2.4 7.4M565.2 440.5l0.0 8.4" stroke="#50f000" stroke-width="0.8" fill="none" stroke-linecap="round"/>
<path d="M547.8 406.5l-3.8 7.7M800.3 407.6l-3.2 6.1M546.8 410.0l-2.8 5.5M549.4 409.2l-3.2 7.2M585.6 410.6l3.0 5.2M800.6 409.7l-3.8 7.2M802.6 409.5l-3.5 7.5M548.0 411.6l-3.8 7.7M549.4 412.5l-3.0 6.7M583.8 412.6l3.7 6.8M585.9 412.9l3.1 5.3M834.0 412.4l3.5 7.1M838.7 413.2l3.5 5.7M549.8 415.0l-3.1 7.1M584.9 414.9l4.2 7.3M583.9 418.3l3.2 6.0M804.2 418.2l-2.3 5.6M551.7 420.6l-2.4 6.4M553.3 419.7l-2.4 7.0M581.8 420.3l3.3 6.9M553.6 422.9l-2.1 6.3M579.8 423.7l2.3 5.4M806.6 423.2l-1.9 5.5M808.9 422.8l-1.8 6.5M830.5 422.9l2.6 6.9M832.3 422.3l3.0 6.9M555.6 425.4l-2.0 7.2M577.5 425.8l2.2 6.2M579.7 425.6l2.4 5.8M582.9 425.1l4.0 7.6M806.8 424.6l-2.7 7.7M810.4 425.3l-1.7 7.2M830.1 425.3l2.4 6.5M559.9 428.1l-1.0 6.9M573.6 428.0l1.6 6.5M575.3 427.8l1.9 6.6M577.8 427.3l2.8 7.6M578.9 427.6l3.0 7.5M808.2 427.4l-2.1 7.2M812.8 426.9l-1.3 8.3M816.7 428.0l-0.2 6.1M822.4 427.4l1.0 7.3M830.2 428.1l2.1 5.7M832.4 428.1l3.0 6.8M569.4 430.4l0.9 6.9M575.3 430.7l1.8 6.3M577.9 431.2l2.1 5.7M585.7 431.5l3.2 5.4M826.4 430.7l1.6 6.4M828.5 431.2l1.8 5.9M834.6 430.0l3.7 7.3M565.7 433.5l0.1 6.2M567.5 432.3l0.6 7.8M569.4 433.5l0.8 6.4M571.5 433.2l1.1 6.2M812.8 433.0l-1.1 6.8M818.7 433.2l0.1 6.5M822.6 433.4l0.8 6.2" stroke="#78f000" stroke-width="0.8" fill="none" stroke-linecap="round"/>
<path d="M549.9 406.9l-3.0 6.9M836.6 407.8l2.8 5.1M834.3 410.6l2.8 5.7M802.1 412.7l-2.7 5.8M803.8 412.9l-2.5 5.8M552.1 413.9l-3.0 8.0M583.5 415.9l2.8 5.3M577.4 417.0l2.8 7.7M829.9 417.1l2.8 7.7M834.3 417.6l3.2 6.5M576.0 420.5l1.8 5.8M806.7 419.2l-2.7 7.8M830.8 420.1l2.6 6.7M833.0 420.5l2.6 5.8M555.2 422.9l-2.0 7.1M557.7 422.0l-1.6 7.6M810.3 423.5l-1.3 5.7M828.9 422.8l2.1 6.3M557.6 425.0l-1.6 7.5M559.2 425.8l-1.0 6.0M575.8 425.3l2.1 6.8M808.9 425.1l-2.2 7.9M822.8 425.0l1.1 7.3M828.2 425.9l1.8 5.9M561.3 428.4l-0.6 5.7M824.2 428.2l1.1 5.8M559.3 430.8l-1.0 5.9M571.2 430.3l1.4 7.8M573.3 430.3l1.7 7.1M816.2 430.4l-0.4 7.0M818.9 430.0l0.2 7.1M822.3 430.3l1.0 8.0M823.9 430.5l1.4 7.5" stroke="#8cf000" stroke-width="0.8" fill="none" stroke-linecap="round"/>
<path d="M550.9 407.5l-2.3 5.8M581.5 407.0l3.1 6.6M584.0 407.9l3.1 5.8M802.7 407.5l-2.7 5.9M804.5 407.9l-2.4 6.0M834.5 407.2l3.5 7.0M581.6 410.4l2.9 6.1M835.9 409.5l3.9 7.2M581.8 412.7l2.5 5.2M832.8 412.5l2.8 6.3M553.6 415.0l-2.2 6.7M807.0 414.4l-2.6 7.7M553.9 417.1l-2.4 7.5M555.4 417.0l-2.0 7.4M575.6 417.6l2.1 7.0M582.2 417.9l2.7 5.6M806.8 417.4l-2.5 7.2M832.1 417.1l3.3 7.6M555.9 419.3l-2.0 7.6M559.5 420.3l-1.0 6.3M577.5 420.5l2.4 6.7M578.9 419.9l3.0 7.4M808.8 420.5l-1.7 6.0M828.1 420.1l2.2 7.2M559.0 422.9l-1.0 5.7M561.8 423.0l-0.5 5.8M577.9 423.6l2.1 5.8M814.2 423.0l-0.7 5.9M816.6 422.8l-0.3 6.4M820.4 422.4l0.6 8.0M824.2 422.2l1.5 8.1M561.6 424.4l-0.9 8.5M565.6 426.0l0.1 6.1M569.2 425.0l0.9 7.6M573.1 425.6l1.5 6.6M812.7 425.0l-1.2 7.2M814.9 425.7l-0.6 6.6M826.0 424.7l2.0 8.0M567.8 427.6l0.6 7.1M571.6 426.9l1.6 8.1M814.5 427.8l-0.7 6.3M820.3 427.7l0.5 6.9M828.2 427.7l2.3 7.3M563.5 429.7l-0.4 8.0M565.1 430.0l0.0 8.2M567.7 430.7l0.5 6.3M820.6 429.6l0.7 8.6" stroke="#a0f000" stroke-width="0.8" fill="none" stroke-linecap="round"/>
<path d="M555.8 406.9l-1.9 7.0M575.8 406.9l2.1 6.7M810.1 407.0l-1.5 6.4M573.4 409.1l1.9 7.6M824.9 410.1l1.3 6.2M561.2 411.9l-0.9 8.0M565.3 412.5l0.1 6.0M814.9 412.2l-0.7 7.3M820.6 411.8l0.6 7.2M563.3 415.0l-0.3 6.6M567.2 414.3l0.5 7.2M818.6 414.5l0.1 7.3M820.0 414.4l0.5 8.6M822.1 413.8l1.1 8.5" stroke="#ffdc00" stroke-width="0.8" fill="none" stroke-linecap="round"/>
<path d="M557.7 406.4l-1.8 8.3M573.1 407.3l1.5 6.5M826.5 406.9l1.9 7.4M828.3 407.9l1.8 5.8M569.1 409.2l1.0 8.1M571.9 409.8l1.2 6.3M812.9 409.8l-1.1 6.9M814.9 409.2l-0.7 7.1M820.0 409.7l0.5 7.4M822.2 409.4l0.9 7.3M563.6 412.0l-0.3 7.1M816.6 411.4l-0.4 8.6M818.7 411.6l0.2 7.9M822.5 411.7l1.1 7.9" stroke="#ffc800" stroke-width="0.8" fill="none" stroke-linecap="round"/>
<path d="M559.4 407.4l-1.1 6.5M561.5 407.1l-0.7 6.9M563.0 407.6l-0.3 5.9M567.0 405.9l0.5 8.5M818.8 406.6l0.2 8.5M820.7 406.9l0.6 7.7M822.6 406.1l1.2 8.4M563.9 409.0l-0.2 7.5" stroke="#ffa000" stroke-width="0.8" fill="none" stroke-linecap="round"/>
<path d="M565.4 406.7l0.1 7.8" stroke="#ff8c00" stroke-width="0.8" fill="none" stroke-linecap="round"/>
<path d="M569.4 407.2l0.9 6.8M571.4 407.2l1.2 6.7M812.5 407.3l-1.1 6.6M814.5 406.0l-0.9 8.5M816.5 406.4l-0.3 7.7M824.5 406.9l1.3 6.6M561.2 409.5l-0.9 8.0M565.1 409.9l0.0 6.1M816.8 409.9l-0.2 7.0M818.8 409.9l0.1 6.0" stroke="#ffb400" stroke-width="0.8" fill="none" stroke-linecap="round"/>
<path d="M577.0 406.5l2.7 7.7M806.4 406.4l-2.8 7.8M830.1 406.9l2.6 7.0M555.5 408.7l-2.3 8.2M556.9 409.7l-1.4 6.1M575.8 410.0l1.8 5.9M808.8 409.5l-1.9 6.6M810.4 409.8l-1.6 6.8M826.7 409.2l1.9 7.3M830.2 410.1l2.2 5.9M567.5 412.4l0.5 6.6M573.3 411.6l1.9 7.8M809.0 411.5l-2.2 7.9M812.7 412.4l-1.1 6.7M826.7 412.9l1.5 5.7M557.4 415.6l-1.3 5.9M572.0 415.2l1.2 6.2M573.2 414.9l1.6 6.6M814.8 414.4l-0.7 7.6M816.2 415.0l-0.4 7.3M824.4 414.3l1.6 8.0M561.1 417.4l-0.7 6.5M567.2 417.6l0.4 6.5M569.6 417.1l0.9 7.1M814.8 417.5l-0.6 6.5M818.7 416.8l0.2 8.2M820.8 417.2l0.6 7.2" stroke="#f0f000" stroke-width="0.8" fill="none" stroke-linecap="round"/>
<path d="M579.8 406.7l3.0 7.0M579.1 409.5l3.1 7.7M828.6 409.7l2.4 7.5M555.3 413.0l-1.7 6.3M575.0 412.4l2.1 7.3M577.2 412.9l2.2 6.4M810.8 411.9l-1.6 7.5M559.5 415.1l-0.9 6.0M561.7 415.4l-0.6 6.2M569.4 415.6l0.8 6.2M812.7 414.4l-1.2 7.3M557.7 416.5l-1.7 8.2M565.1 417.4l0.0 7.6M812.6 417.5l-1.1 6.6M561.4 420.5l-0.6 6.0M563.3 419.8l-0.4 7.4M820.7 418.9l0.7 8.3" stroke="#dcf000" stroke-width="0.8" fill="none" stroke-linecap="round"/>
<path d="M586.1 408.1l3.1 5.3M588.1 407.4l3.8 5.8M590.2 408.5l3.3 4.7M838.5 407.8l3.5 5.7M587.4 409.5l4.1 6.4M798.2 409.8l-3.7 6.3M838.4 410.3l3.3 5.4M800.7 412.1l-3.7 7.0M836.9 412.2l3.5 6.2M840.9 413.5l3.3 5.0M802.3 414.9l-3.3 6.9M836.0 414.5l3.8 6.9M839.2 416.1l3.1 5.0M549.1 417.7l-2.7 6.0M585.4 417.4l3.9 6.7M836.1 417.3l4.0 7.3M839.1 417.9l3.4 5.4M583.5 420.2l3.2 6.2M586.4 420.6l3.2 5.3M802.0 420.2l-3.2 6.6M581.1 422.6l3.5 7.5M585.6 423.5l3.2 5.5M802.1 422.8l-3.5 7.2M804.2 422.9l-2.7 6.5M834.5 422.3l3.8 7.6M553.2 425.6l-1.8 5.5M582.0 425.5l3.1 6.4M832.6 425.8l2.6 5.9M836.3 425.9l3.4 6.2M587.9 428.5l3.7 5.7M806.3 426.9l-2.9 8.0M555.4 429.7l-2.3 8.3M557.7 430.6l-1.6 7.4M561.2 430.8l-0.7 6.7M579.5 429.8l3.2 7.7M581.8 430.2l3.2 6.7M804.4 430.8l-2.5 6.2M810.8 429.9l-1.6 7.4M812.9 430.3l-1.1 7.0M814.4 429.4l-0.9 8.4M841.2 430.8l3.9 5.6M557.9 433.0l-1.6 7.6M559.1 433.1l-1.1 6.5M563.6 433.2l-0.2 5.9M573.1 433.2l1.6 6.7M575.7 433.0l2.4 7.7M808.4 433.3l-1.7 5.9M816.4 433.7l-0.3 6.3M824.4 432.6l1.7 8.4M825.9 432.9l1.8 7.3M561.3 436.5l-0.6 5.9M563.9 435.1l-0.3 7.6M573.1 436.2l1.4 6.1M575.6 435.0l2.4 7.8M577.0 435.2l2.7 7.7M813.0 434.7l-1.3 8.5M818.6 436.0l0.1 6.9M820.8 435.2l0.7 8.2M826.1 435.6l1.5 6.3M573.5 437.5l1.9 7.7M820.6 438.5l0.5 6.0" stroke="#64f000" stroke-width="0.8" fill="none" stroke-linecap="round"/>
<path d="M593.6 407.7l4.8 6.0M846.6 410.5l4.7 5.6M847.9 412.9l7.5 0.3M593.2 412.1l5.3 6.6M796.3 413.2l-3.5 5.5M848.3 415.7l6.5 0.2M543.4 415.1l-4.5 7.2M543.3 417.6l-3.7 6.0M594.7 418.7l4.1 4.9M596.0 418.4l4.5 5.2M598.2 423.5l5.7 0.7M549.3 423.2l-2.9 6.5M798.1 423.6l-3.4 5.7M798.7 425.5l-3.8 6.4M800.3 425.2l-4.0 7.4M850.6 428.3l5.7 0.7M545.2 428.5l-3.2 5.8M856.1 428.9l-0.7 4.3M594.5 431.8l3.8 4.6M854.5 431.1l-0.8 5.0M551.7 436.1l-2.6 6.8M555.3 435.9l-2.0 7.0M592.0 436.7l3.5 4.7M594.1 435.8l5.1 6.2M808.5 435.4l-2.3 7.8M837.2 436.2l3.1 5.4M588.1 438.9l3.2 5.0M806.3 438.2l-2.3 6.4M810.6 438.7l-1.5 6.6M814.6 438.2l-0.7 6.7M837.0 438.9l3.0 5.3M563.7 440.6l-0.3 7.9M575.2 440.5l2.4 8.1M577.3 441.5l2.1 5.9M579.7 440.5l3.1 7.3M820.6 440.9l0.6 7.1M824.5 439.8l1.7 8.4M826.4 441.6l1.5 6.1M559.6 444.9l-1.3 8.5M569.2 445.4l1.0 8.4M816.3 445.2l-0.4 8.1" stroke="#28f000" stroke-width="0.8" fill="none" stroke-linecap="round"/>
<path d="M596.3 408.1l3.9 4.5M795.7 410.4l-3.4 5.1M595.4 415.6l6.7 0.2M794.1 412.5l-4.9 6.7M542.8 420.8l-3.6 5.7M545.2 419.9l-3.7 6.5M793.8 421.0l-4.2 5.8M594.5 423.3l4.2 5.1M794.8 422.9l-4.9 7.0M547.6 425.6l-3.4 6.8M600.0 428.1l5.9 0.7M797.0 424.9l-4.6 7.2M600.5 431.7l1.3 4.8M792.0 431.6l-4.0 5.2M595.7 433.6l5.1 5.9M551.7 438.5l-2.7 7.1M553.2 437.9l-2.6 7.6M581.2 438.5l2.9 6.3M583.7 438.9l3.0 5.7M832.4 437.9l3.3 7.5M555.4 440.6l-2.2 7.8M559.7 440.6l-1.0 6.7M585.7 441.0l3.6 6.1M590.4 441.5l3.6 5.1M573.5 443.2l1.7 7.0M575.8 443.5l2.3 7.3M812.3 443.6l-1.3 7.5M816.7 442.8l-0.3 8.3M820.4 442.6l0.6 8.6M824.2 443.7l1.3 6.7M826.3 443.0l1.8 7.1" stroke="#28f014" stroke-width="0.8" fill="none" stroke-linecap="round"/>
<path d="M793.5 408.0l-3.7 5.1M540.4 410.4l-3.4 4.9M594.6 410.7l4.0 4.8M594.8 412.6l8.0 0.3M598.1 412.7l6.0 0.2M794.1 410.2l-4.3 6.1M849.8 413.0l7.8 0.3M599.5 415.6l6.4 0.2M791.6 413.1l-3.9 5.0M851.2 415.2l6.0 0.2M596.1 416.0l4.5 5.1M599.2 418.5l6.9 0.2M794.5 415.3l-4.7 6.6M796.2 416.2l-3.1 4.9M847.1 415.8l4.7 5.5M847.8 417.9l6.8 0.2M851.1 417.9l5.5 0.2M598.7 420.8l7.7 0.9M604.1 420.9l5.6 0.7M789.9 418.4l-4.5 5.4M792.9 417.8l-5.2 6.8M847.5 420.4l7.8 0.9M595.7 423.1l6.3 0.8M600.1 423.4l5.6 0.7M790.4 419.8l-5.5 6.5M852.8 422.8l6.5 0.8M541.1 423.0l-4.6 6.7M542.7 422.9l-3.6 5.7M545.3 425.5l-3.1 5.6M790.5 425.4l-4.8 5.8M791.9 425.8l-4.5 5.8M794.1 425.6l-4.7 6.6M847.4 428.4l7.8 0.9M542.6 429.1l-3.2 5.0M789.8 428.6l-4.9 5.8M798.4 428.0l-4.3 7.2M547.9 430.8l-3.5 7.0M598.3 431.5l1.3 4.8M602.0 431.4l1.3 4.4M798.1 431.0l-3.2 5.5M547.6 433.4l-3.3 6.7M785.7 434.2l0.4 4.7M794.8 433.4l-4.5 6.5M796.5 433.7l-4.1 6.3M798.2 434.2l-3.0 5.1M846.5 433.3l5.5 6.3M547.5 435.4l-3.6 7.1M549.3 436.0l-3.1 6.9M797.6 436.6l-3.0 5.0M800.1 436.4l-2.7 5.2M839.1 436.4l3.4 5.4M547.4 438.8l-3.1 6.1M589.9 438.4l4.3 6.1M594.1 439.2l4.2 5.2M798.5 438.7l-3.1 5.3M834.8 439.0l3.1 6.1M839.0 438.6l3.6 5.7M551.9 440.3l-2.8 7.3M553.9 440.8l-2.5 7.7M561.1 441.8l-0.6 5.7M584.3 441.6l3.0 5.5M588.0 441.1l4.2 6.4M804.7 440.3l-2.9 7.2M808.2 440.8l-1.9 6.5M830.7 441.8l2.1 5.5M832.7 440.7l3.0 6.7M838.4 441.3l4.0 6.5M557.7 443.0l-1.6 7.7M559.9 443.0l-1.2 8.0M583.8 443.3l3.9 7.2M587.9 444.2l3.5 5.5M822.9 443.6l0.9 6.2M828.2 443.6l2.1 6.7M831.9 443.2l3.3 7.7M555.5 446.6l-1.6 5.8M567.8 446.2l0.5 6.4M573.5 445.7l1.7 6.9M590.6 447.0l3.7 5.1M808.9 445.5l-2.1 7.5M826.1 446.0l1.5 6.2M559.3 447.7l-1.3 8.0M563.6 448.9l-0.2 6.0M814.4 448.1l-0.8 7.2" stroke="#14f014" stroke-width="0.8" fill="none" stroke-linecap="round"/>
<path d="M808.2 407.4l-2.0 6.7M569.0 411.9l0.9 7.3M571.6 411.9l1.5 7.7M565.5 415.1l0.1 6.0" stroke="#f0dc00" stroke-width="0.8" fill="none" stroke-linecap="round"/>
<path d="M832.8 407.6l2.5 5.7M804.3 410.5l-2.4 5.8M806.5 409.6l-2.2 6.4M551.6 411.9l-2.7 7.0M553.2 411.5l-2.6 7.6M575.8 414.9l2.3 7.2M831.0 415.5l2.2 5.8M808.9 416.5l-2.3 8.3M810.3 417.4l-1.7 7.4M828.2 417.1l2.4 7.6M557.9 419.4l-1.7 8.4M567.3 419.2l0.6 8.5M571.4 420.1l1.2 6.6M810.8 420.1l-1.4 6.5M812.1 420.9l-1.0 5.9M814.8 419.8l-0.8 7.8M816.3 420.4l-0.3 5.9M824.6 420.1l1.4 6.9M569.4 423.2l0.8 6.3M573.5 422.7l1.5 6.2M575.4 423.1l2.0 6.6M812.5 422.9l-1.1 6.5M822.1 421.8l1.0 7.9M826.7 422.3l2.2 8.2M563.3 424.2l-0.4 8.4M567.3 425.0l0.5 7.5M572.0 425.8l1.2 5.8M569.5 428.0l0.7 5.8" stroke="#b4f000" stroke-width="0.8" fill="none" stroke-linecap="round"/>
<path d="M534.5 410.7l-4.2 4.9M621.7 413.3l6.5 0.2M782.6 413.6l-6.6 -0.2M534.5 413.1l-4.7 5.5M606.6 415.7l5.9 0.2M606.0 418.2l7.9 0.3M615.1 420.6l6.5 0.8M616.4 420.6l8.0 1.0M780.5 421.0l-7.9 -0.9M782.4 421.4l-7.6 -0.9M786.0 421.5l-5.6 -0.7M617.3 422.8l6.2 0.7M619.2 423.4l7.8 0.9M778.8 423.6l-7.5 -0.9M872.6 422.7l6.4 0.8M776.1 426.9l-7.7 -0.9M870.0 426.0l6.9 0.8M534.5 426.7l-3.8 4.5M610.7 428.1l5.4 0.7M616.6 428.4l8.0 1.0M775.5 428.8l-5.7 -0.7M863.6 428.0l6.8 0.8M612.9 429.3l1.1 3.4M615.1 428.8l1.5 4.8M618.0 429.3l1.3 4.2M755.7 428.9l1.4 4.4M764.7 429.0l1.3 4.2M767.2 429.1l1.5 4.9M866.6 429.6l-0.0 3.9M754.2 431.7l1.4 4.4M756.2 431.8l1.4 4.2M760.2 432.1l1.3 4.2M766.8 431.5l1.2 4.0M535.0 433.2l-5.2 6.2M539.3 433.7l-3.9 5.5M860.7 434.6l-0.2 4.5M542.7 436.4l-3.5 5.6M773.7 436.4l1.0 4.9M544.8 439.1l-3.0 5.3M790.3 438.7l-4.9 5.9M545.1 441.5l-2.9 5.2M606.3 441.8l1.7 5.1M792.7 441.0l-4.7 6.2M853.8 441.5l-0.4 5.2M798.3 444.1l-3.4 5.8M800.3 444.1l-3.0 5.7M542.5 446.9l-3.4 5.3M600.5 448.1l1.2 3.6M838.8 446.8l3.8 6.0M549.5 448.6l-3.5 7.7M806.4 448.5l-2.9 8.0M832.5 449.5l2.4 5.5M838.9 449.0l3.6 5.8M550.4 454.7l-0.8 4.8M559.3 455.4l-0.2 4.1M584.4 455.6l0.9 3.5M588.7 454.5l1.5 5.1M806.2 455.4l-1.2 4.1M808.3 454.7l-1.5 5.1M810.6 455.1l-1.4 4.6M827.4 455.4l-1.3 4.4M552.8 457.7l-0.5 4.1M563.6 457.7l0.1 4.0M569.5 457.4l0.5 4.8M578.7 458.0l0.9 4.2M812.4 457.0l-1.6 5.0" stroke="#00f03c" stroke-width="0.8" fill="none" stroke-linecap="round"/>
<path d="M536.6 410.6l-4.4 5.5M603.6 412.9l7.7 0.3M606.5 412.7l6.6 0.2M608.5 412.9l5.6 0.2M788.4 413.6l-6.0 -0.2M604.5 415.4l5.6 0.2M607.5 415.6l7.8 0.3M610.1 415.5l7.4 0.3M856.9 415.8l7.5 0.3M863.4 415.5l6.3 0.2M534.7 415.8l-4.0 4.7M789.0 418.5l-7.4 -0.3M862.0 418.1l6.1 0.2M863.0 418.5l7.3 0.3M608.4 420.3l7.1 0.9M610.9 420.4l5.5 0.7M789.4 421.1l-6.9 -0.8M853.8 420.3l7.8 0.9M856.5 420.6l6.9 0.8M601.6 423.5l6.3 0.8M604.2 423.3l5.7 0.7M612.2 423.3l7.2 0.9M779.4 423.9l-5.5 -0.7M861.7 423.3l5.7 0.7M864.2 423.0l6.1 0.7M536.9 423.2l-5.0 6.3M536.3 426.0l-3.9 4.9M606.2 428.3l6.4 0.8M609.2 428.0l5.8 0.7M614.1 428.2l7.5 0.9M780.1 429.1l-7.5 -0.9M782.4 429.2l-6.0 -0.7M609.1 429.6l1.1 3.5M611.4 429.3l1.4 4.4M763.3 429.2l1.2 3.9M785.5 428.5l0.6 5.2M540.7 431.0l-3.8 5.5M543.1 431.1l-3.0 4.9M613.4 431.6l1.4 4.4M871.3 431.2l0.4 5.1M541.1 433.4l-4.1 6.1M778.1 434.7l0.7 4.0M780.2 433.6l0.8 5.3M857.9 434.0l-0.5 5.0M544.8 436.5l-3.2 5.5M854.2 436.9l-0.5 3.9M542.7 438.9l-3.8 6.0M783.2 439.6l0.3 4.2M785.2 440.0l0.2 4.2M796.9 438.4l-4.2 6.6M856.3 439.5l-0.3 3.9M860.5 439.2l-0.1 5.0M594.3 441.8l4.7 5.7M794.7 440.7l-4.9 6.9M796.1 441.7l-3.5 5.3M802.4 440.8l-3.7 7.8M840.6 441.7l4.0 5.9M846.9 441.6l4.8 5.6M549.2 443.6l-3.3 7.3M553.4 444.4l-1.8 5.6M598.1 444.7l1.1 3.7M600.5 445.4l1.1 3.5M840.8 443.9l4.6 6.7M549.3 446.5l-2.8 6.2M551.2 445.9l-2.7 6.8M799.8 447.1l-2.8 5.2M828.6 446.5l1.9 5.9M831.0 446.3l2.3 5.8M836.6 446.1l3.9 6.9M555.4 448.9l-1.9 6.8M579.5 448.6l2.6 6.2M585.9 449.4l3.6 6.0M822.2 447.6l1.1 8.4M826.4 448.2l2.0 7.7M567.8 454.6l0.3 5.2M576.2 454.9l0.7 4.4M580.9 455.0l0.8 3.8M817.5 454.9l-1.4 4.3M823.3 454.7l-1.5 4.8M816.4 458.4l-1.2 3.7M819.4 457.7l-1.3 4.1" stroke="#00f028" stroke-width="0.8" fill="none" stroke-linecap="round"/>
<path d="M538.5 410.3l-3.7 5.0M792.3 410.1l-4.4 5.7M856.3 413.1l7.4 0.3M537.5 412.9l-4.8 6.1M539.4 412.5l-4.4 6.0M536.7 415.6l-4.6 5.8M539.3 414.9l-4.6 6.2M597.1 418.5l6.3 0.2M792.1 415.1l-4.5 5.8M856.7 418.4l6.8 0.2M859.7 418.3l6.6 0.2M539.0 418.3l-4.4 5.9M794.3 417.8l-5.0 7.0M537.1 420.2l-5.1 6.4M605.3 423.1l7.4 0.9M782.5 423.9l-7.4 -0.9M784.1 424.0l-6.8 -0.8M788.8 424.2l-6.2 -0.7M602.0 426.0l5.5 0.7M791.9 423.3l-3.7 4.8M540.7 425.6l-4.1 6.0M542.9 425.8l-3.6 5.7M603.8 427.9l7.2 0.9M788.4 429.2l-6.3 -0.8M862.3 429.2l-0.3 4.1M545.1 430.9l-3.5 6.1M611.3 431.8l1.4 4.5M771.2 431.2l1.3 4.8M776.3 431.1l1.0 4.9M778.7 431.8l0.7 3.9M782.9 431.5l0.7 5.2M785.2 431.9l0.4 3.7M862.3 431.6l-0.2 5.0M545.2 434.1l-2.9 5.2M601.9 434.0l1.5 4.9M607.2 434.4l1.2 3.8M783.3 434.3l0.5 4.7M598.4 437.4l1.1 3.9M785.2 436.7l0.3 4.2M794.2 435.8l-4.5 6.3M591.6 438.6l4.6 6.1M598.4 439.7l1.2 4.0M604.0 439.4l1.4 4.3M791.9 439.2l-4.5 5.8M794.1 438.2l-4.5 6.2M800.5 439.1l-2.8 5.3M839.9 437.9l4.7 7.0M842.5 438.5l4.8 6.5M852.0 439.1l-0.6 5.0M853.9 439.5l-0.4 4.1M547.6 441.2l-2.8 5.7M548.9 441.3l-2.8 6.1M591.4 441.3l4.3 5.8M797.9 441.6l-3.5 5.8M799.9 441.8l-2.9 5.4M806.7 441.0l-2.2 6.5M834.8 441.9l2.7 5.4M551.3 443.2l-3.2 7.9M579.5 443.5l2.9 7.0M585.4 444.1l3.8 6.4M802.4 444.0l-2.8 5.9M808.0 443.8l-2.0 6.5M810.5 442.9l-1.7 7.4M837.2 443.8l3.1 5.4M553.6 445.8l-2.4 7.2M563.7 446.3l-0.3 7.0M565.5 445.6l0.1 7.7M579.3 446.0l2.9 7.1M583.8 446.4l3.0 5.7M812.7 446.5l-1.1 6.7M820.8 446.4l0.5 5.9M832.2 445.6l3.0 7.0M553.3 447.9l-2.7 7.8M557.2 449.6l-1.3 5.8M575.2 448.1l2.4 8.1M577.7 449.0l2.2 6.0M583.1 448.6l4.0 7.6M812.7 448.2l-1.2 7.2M820.7 449.0l0.5 6.0M565.3 455.0l0.1 4.7M569.6 455.2l0.4 4.2M574.3 454.4l0.8 5.1" stroke="#00f014" stroke-width="0.8" fill="none" stroke-linecap="round"/>
<path d="M553.4 409.1l-2.6 7.7M577.0 409.4l2.5 7.3M556.9 412.5l-1.4 6.1M579.3 412.7l2.4 6.0M806.5 412.6l-2.5 7.0M828.5 412.2l2.3 7.2M555.8 415.1l-1.7 6.4M577.6 415.0l2.4 6.7M808.5 415.4l-1.6 5.5M810.7 414.7l-1.4 6.5M828.4 414.3l2.3 7.3M559.0 418.0l-1.0 6.1M571.5 417.1l1.5 7.8M573.8 418.0l1.5 6.1M816.3 417.0l-0.4 7.0M822.1 416.9l1.0 8.2M824.4 417.1l1.6 8.1M825.9 417.3l2.0 8.0M569.3 420.8l0.7 5.9M573.3 420.4l1.4 6.1M818.5 419.8l0.1 7.5M822.6 420.9l0.8 6.0M826.9 420.2l1.5 5.8M563.1 422.3l-0.4 8.0M565.7 422.9l0.1 5.9M567.3 421.8l0.6 8.6M818.6 422.6l0.1 7.7" stroke="#c8f000" stroke-width="0.8" fill="none" stroke-linecap="round"/>
<path d="M614.9 413.4l6.6 0.2M628.5 413.3l5.7 0.2M771.7 413.1l-8.0 -0.3M775.0 413.6l-5.7 -0.2M619.4 415.5l6.6 0.2M867.1 415.7l7.8 0.3M872.0 415.2l7.1 0.3M627.8 418.3l6.7 0.2M764.1 418.0l-6.1 -0.2M777.3 418.5l-6.1 -0.2M780.5 418.5l-7.9 -0.3M621.7 420.4l5.7 0.7M629.8 420.8l7.3 0.9M767.6 421.7l-7.9 -0.9M771.7 421.2l-7.5 -0.9M621.6 423.2l5.6 0.7M633.1 423.4l6.2 0.7M754.9 424.1l-5.5 -0.7M765.2 423.7l-6.9 -0.8M766.3 423.5l-5.4 -0.7M753.7 426.8l-6.5 -0.8M872.1 425.9l7.7 0.9M632.1 428.5l7.8 0.9M754.0 429.2l-6.7 -0.8M759.8 429.3l-6.0 -0.7M623.9 429.5l1.1 3.8M740.4 428.5l1.1 5.1M743.0 428.8l1.3 5.2M745.0 429.6l1.1 4.1M617.5 431.3l1.5 4.8M619.6 431.2l1.6 5.2M622.4 432.2l1.1 3.8M631.0 431.6l1.0 4.5M749.8 431.2l1.5 4.9M617.9 433.7l1.6 5.1M620.1 435.0l1.1 3.7M621.7 434.4l1.4 5.1M626.3 433.9l1.2 4.8M749.8 434.1l1.5 4.6M751.6 433.9l1.6 5.1M756.2 433.7l1.7 5.1M760.9 436.8l1.3 4.1M606.8 439.7l1.3 4.0M775.9 439.5l0.8 5.1M774.4 442.6l0.7 4.1M780.5 442.5l0.4 4.2M783.3 441.8l0.3 5.1M543.4 443.4l-4.0 6.5M776.8 444.7l0.5 3.8M853.4 444.4l-0.3 4.4M875.3 444.1l1.2 5.3M535.3 446.4l-5.2 6.2M789.7 447.0l-3.9 4.7M791.9 446.9l-3.5 4.6M862.4 447.8l0.3 3.9M866.8 447.1l0.6 4.3M545.5 448.8l-3.7 6.6M595.8 449.5l4.5 5.2M846.8 449.2l4.3 5.1M854.1 450.2l-0.1 4.3M541.6 455.9l-0.9 3.5M801.4 454.5l-1.3 5.0M548.7 457.1l-0.9 4.8M582.5 457.7l0.9 3.5M584.9 458.1l1.2 4.3M595.5 458.0l1.4 4.4M799.4 457.8l-1.2 4.7M830.3 458.0l-1.1 4.3M550.2 460.1l-0.6 4.4M552.1 459.9l-0.6 5.4M567.5 460.8l0.4 4.1M574.5 460.5l0.7 3.6M578.1 459.8l1.1 4.8M584.5 460.1l1.3 4.6M591.0 460.2l1.6 5.1M810.8 460.6l-1.4 4.5M819.6 460.0l-1.6 5.1M828.0 459.6l-1.4 5.2" stroke="#00f064" stroke-width="0.8" fill="none" stroke-linecap="round"/>
<path d="M625.2 413.2l8.1 0.3M779.8 413.6l-6.7 -0.2M613.0 415.8l6.0 0.2M774.6 415.4l-5.6 -0.2M781.7 416.2l-6.2 -0.2M787.0 415.6l-7.3 -0.3M614.7 418.4l7.7 0.3M870.6 418.0l6.8 0.2M872.3 418.5l6.8 0.2M620.1 420.2l5.4 0.6M778.3 421.4l-6.8 -0.8M534.6 420.6l-4.6 5.4M768.4 424.1l-5.9 -0.7M770.5 424.1l-5.7 -0.7M869.9 423.3l6.7 0.8M619.3 426.0l7.3 0.9M623.8 428.0l6.0 0.7M631.1 427.1l1.0 3.9M764.3 428.7l-6.4 -0.8M778.8 429.3l-7.7 -0.9M873.7 428.7l0.4 4.9M534.7 431.3l-4.3 5.1M536.6 431.5l-4.5 5.6M742.8 431.4l1.3 5.1M751.5 431.7l1.2 3.9M763.4 431.8l1.1 3.5M624.1 434.2l1.2 4.3M754.3 434.5l1.5 4.5M760.6 434.6l1.1 3.6M772.2 434.2l1.1 4.5M773.9 434.8l0.8 3.8M776.0 433.9l1.0 5.1M875.4 434.5l0.7 4.6M778.8 436.9l0.6 4.2M864.7 436.3l0.1 5.2M535.6 438.6l-5.4 6.4M539.2 438.1l-5.1 6.8M613.2 439.5l1.6 5.1M767.9 439.8l0.9 3.7M771.7 439.5l1.0 4.7M778.9 439.4l0.7 5.2M866.8 439.8l0.4 4.4M535.3 441.2l-4.7 5.6M785.5 442.4l0.1 4.3M536.9 444.3l-3.6 4.6M544.9 443.9l-3.8 6.6M785.7 444.3l0.0 4.9M792.4 444.0l-4.9 6.3M796.3 444.1l-3.9 6.0M857.9 444.0l-0.0 4.9M545.4 446.6l-3.1 5.5M785.6 446.8l-0.1 5.2M856.0 447.8l-0.0 3.9M802.2 449.1l-2.5 5.4M804.2 448.2l-3.1 7.4M830.6 448.3l2.8 7.3M543.8 455.0l-1.1 4.5M591.2 454.8l1.4 4.4M830.0 454.9l-1.1 3.9M831.8 455.1l-1.1 4.1M558.7 457.0l-0.2 5.2M589.3 457.5l1.6 5.1M801.7 457.1l-1.3 4.9M806.4 457.2l-1.5 5.0M823.0 458.1l-1.1 3.7M827.6 457.9l-1.3 4.9M569.8 460.8l0.5 3.8M821.8 459.5l-1.6 5.1" stroke="#00f050" stroke-width="0.8" fill="none" stroke-linecap="round"/>
<path d="M632.2 413.2l6.6 0.2M630.1 415.3l8.0 0.3M763.6 415.8l-5.5 -0.2M771.4 415.7l-6.9 -0.2M753.5 418.8l-5.9 -0.2M775.8 418.4l-6.2 -0.2M757.5 421.7l-6.5 -0.8M760.5 421.2l-6.1 -0.7M762.4 421.7l-7.3 -0.9M765.4 421.7l-7.9 -1.0M768.4 421.6l-5.5 -0.7M626.3 423.1l5.7 0.7M636.1 423.3l7.5 0.9M638.4 423.0l7.9 0.9M747.5 424.0l-6.7 -0.8M754.5 424.1l-8.0 -1.0M757.8 423.8l-6.8 -0.8M637.3 426.1l5.4 0.6M761.0 426.7l-7.6 -0.9M637.4 428.2l6.2 0.7M758.6 428.9l-8.0 -1.0M626.1 429.4l1.1 4.1M629.3 429.3l0.9 3.5M633.4 429.1l0.8 3.7M646.7 429.0l0.2 4.6M734.7 428.9l0.8 5.1M628.7 431.7l1.1 4.5M635.6 431.4l0.9 5.2M739.4 431.9l0.8 3.6M745.3 432.5l1.0 3.5M747.3 431.7l1.1 3.8M631.1 434.7l0.8 4.1M734.0 433.9l0.9 4.8M745.6 434.7l1.3 4.4M751.9 436.7l1.5 4.6M754.1 436.4l1.5 4.8M624.8 439.3l1.1 4.7M763.0 439.6l1.4 5.0M764.8 439.8l1.1 4.0M769.3 439.0l1.2 5.0M773.7 439.4l1.0 5.1M873.2 439.4l0.8 5.0M608.3 441.9l1.5 4.7M611.3 441.9l1.5 4.8M771.9 441.5l1.0 5.2M778.1 442.0l0.6 4.7M871.1 442.2l0.7 4.8M536.6 446.6l-4.3 5.4M606.9 447.2l1.3 4.0M611.0 447.5l1.3 4.2M851.6 447.3l-0.4 5.2M873.3 447.3l0.8 3.6M543.2 449.1l-3.5 5.7M602.8 450.3l1.1 3.5M840.6 449.2l4.5 6.6M851.8 450.3l-0.2 3.9M864.4 450.1l0.6 4.4M537.5 455.3l-1.1 3.6M602.0 455.2l1.3 4.2M544.2 457.6l-1.1 5.0M792.4 457.4l-0.9 5.1M797.2 457.3l-1.0 4.5M548.6 460.2l-0.7 4.5M562.8 460.1l0.2 5.2M593.1 460.6l1.2 3.6M812.1 460.8l-1.1 3.4M825.6 460.4l-1.3 4.6M832.0 460.3l-1.0 4.5M571.3 462.9l0.8 4.5M574.2 463.1l0.9 4.3M578.4 462.4l1.3 5.2M817.0 462.7l-1.6 4.9M827.7 462.8l-1.0 4.1M723.8 502.0l1.1 3.5" stroke="#00f078" stroke-width="0.8" fill="none" stroke-linecap="round"/>
<path d="M636.8 412.7l6.5 0.2M643.4 412.7l6.6 0.2M747.1 413.1l-6.3 -0.2M745.3 415.9l-8.0 -0.3M758.2 415.6l-8.0 -0.3M643.6 418.2l6.2 0.2M649.8 417.9l6.6 0.2M656.2 418.2l7.0 0.3M739.7 418.7l-5.6 -0.2M747.2 418.5l-7.4 -0.3M760.0 418.6l-6.7 -0.2M654.6 420.8l6.2 0.7M735.9 421.0l-7.3 -0.9M744.6 421.3l-6.9 -0.8M749.5 421.3l-6.4 -0.8M648.5 422.9l6.1 0.7M744.1 424.0l-5.9 -0.7M639.7 426.0l5.4 0.6M665.6 426.0l6.1 0.7M648.1 428.6l6.2 0.7M661.5 428.1l5.4 0.6M676.1 428.4l7.5 0.9M722.1 426.8l-0.1 4.6M728.1 429.0l-7.8 -0.9M736.9 428.9l-7.9 -0.9M738.5 428.8l-6.8 -0.8M644.0 429.2l0.4 4.9M653.7 428.9l-0.2 4.0M667.2 429.2l-0.8 3.7M674.0 428.7l-1.2 4.4M687.2 429.7l-1.2 3.8M715.2 429.1l-0.5 5.0M723.7 429.5l0.1 3.8M727.7 429.0l0.4 5.0M732.6 428.4l0.7 5.2M642.3 431.8l0.4 4.9M650.9 431.4l-0.1 4.5M669.6 432.2l-1.0 3.9M671.2 431.9l-1.0 4.0M674.3 431.7l-1.2 4.4M678.3 431.6l-1.5 4.8M682.5 431.5l-1.6 4.9M697.8 432.4l-1.0 3.6M719.5 431.8l-0.1 4.2M721.3 432.1l0.0 3.9M723.6 431.2l0.1 4.5M728.1 431.8l0.5 4.7M730.6 431.1l0.6 4.9M645.1 434.3l0.1 4.7M657.9 434.7l-0.6 4.2M667.0 434.9l-0.8 3.5M676.1 434.5l-1.1 3.7M729.9 433.7l0.7 4.8M736.5 434.4l0.8 3.9M742.8 434.2l1.4 5.1M647.1 436.6l-0.0 4.5M738.7 437.1l1.0 3.8M628.8 439.2l0.9 4.7M633.9 439.4l0.6 4.3M636.2 439.4l0.4 4.0M727.6 440.0l0.5 3.7M730.0 439.0l0.8 4.7M739.2 439.6l1.0 3.7M743.0 439.0l1.4 4.7M747.0 440.0l1.1 3.6M756.2 439.8l1.2 3.8M624.5 441.4l1.2 5.2M628.5 441.3l1.0 5.2M633.3 442.0l0.6 4.7M734.3 442.2l0.9 3.7M751.3 441.6l1.5 4.6M760.5 442.7l1.1 3.8M622.3 444.6l1.1 4.9M767.5 444.3l1.1 4.7M767.4 447.4l1.0 4.5M771.6 447.8l0.6 3.6M608.9 450.2l1.1 3.5M769.6 449.9l0.7 4.3M771.6 449.5l0.7 4.6M774.7 450.2l0.5 4.4M780.7 449.6l0.1 4.3M871.1 449.3l1.0 4.9M600.0 455.5l1.4 4.3M606.6 455.3l1.1 3.5M786.1 454.9l-0.4 4.6M845.0 455.2l-0.4 4.1M849.4 455.1l-0.2 4.4M853.3 455.5l0.1 4.0M785.6 457.5l-0.4 4.5M836.2 458.1l-0.7 3.8M844.8 457.5l-0.4 5.1M851.3 458.1l0.0 4.2M872.6 457.8l1.0 3.7M595.5 460.6l1.4 4.2M600.4 460.5l1.5 4.6M602.6 460.4l1.2 3.9M794.5 460.9l-0.8 3.8M799.5 460.4l-1.2 4.6M842.5 460.1l-0.5 5.0M845.3 460.7l-0.2 3.8M847.0 460.3l-0.2 4.7M860.0 460.3l0.7 4.7M863.8 460.0l1.0 5.1M535.5 462.9l-1.4 4.9M550.0 462.4l-0.6 5.0M582.3 463.6l1.0 3.5M586.2 462.3l1.5 5.1M796.6 463.0l-0.9 3.6M801.5 463.0l-1.3 4.5M806.4 462.7l-1.6 5.1M838.9 462.5l-0.6 4.5M842.8 462.7l-0.3 4.0M547.7 465.2l-0.6 4.8M549.9 465.8l-0.4 4.4M552.6 464.9l-0.4 5.2M554.7 465.7l-0.2 4.6M556.6 465.6l-0.0 3.7M579.9 465.5l1.2 4.6M584.6 465.6l1.1 3.7M812.4 464.8l-1.7 5.1M838.1 465.2l-0.5 4.7M716.6 493.9l1.4 4.3M721.2 494.1l1.4 4.4M716.4 496.0l1.6 5.1M710.1 499.5l1.2 4.0M859.3 499.6l1.2 3.6M710.1 502.2l1.1 3.5M734.2 501.4l1.1 4.7M846.4 502.0l1.1 4.1M848.4 502.4l1.1 3.9M853.1 501.3l1.5 5.1" stroke="#00f0a0" stroke-width="0.8" fill="none" stroke-linecap="round"/>
<path d="M647.8 412.8l7.8 0.3M767.0 413.4l-6.9 -0.2M768.7 413.3l-6.8 -0.2M633.4 415.9l5.8 0.2M755.7 415.6l-6.9 -0.2M636.3 417.9l7.6 0.3M641.5 418.2l5.8 0.2M648.2 418.5l6.1 0.2M650.2 420.2l6.4 0.8M746.3 421.2l-5.6 -0.7M755.8 421.2l-7.6 -0.9M751.3 426.8l-6.7 -0.8M755.8 426.9l-6.7 -0.8M641.5 428.2l6.8 0.8M643.3 428.4l7.7 0.9M740.7 426.5l1.1 5.0M746.9 429.1l-6.8 -0.8M755.5 429.0l-6.9 -0.8M642.7 428.8l0.5 5.0M730.8 429.0l0.4 4.0M738.5 429.4l0.9 4.4M633.2 431.6l0.9 4.5M640.5 431.4l0.5 4.5M644.6 431.5l0.3 5.1M736.4 431.7l0.7 3.6M635.9 434.4l0.6 4.1M642.7 434.3l0.3 5.1M738.5 434.8l0.9 3.6M620.1 439.4l1.1 3.8M751.9 439.3l1.5 4.5M753.4 439.0l1.6 4.9M758.0 439.9l1.4 4.4M760.3 439.3l1.3 4.4M617.5 442.4l1.3 4.6M619.4 441.7l1.4 5.2M753.6 442.2l1.3 3.9M610.9 444.5l1.5 4.8M613.5 444.9l1.1 3.5M765.3 444.5l1.2 4.8M773.8 444.6l0.8 5.0M870.8 444.1l0.9 5.1M613.2 447.0l1.5 5.0M779.0 447.9l0.3 3.9M868.6 446.7l0.8 5.1M875.1 447.0l1.0 4.3M534.5 449.9l-3.8 4.5M538.9 449.4l-4.4 6.0M611.0 449.9l1.1 3.8M783.8 449.9l-0.0 4.1M873.4 449.3l1.2 5.2M535.2 455.0l-1.5 4.7M539.5 455.1l-1.4 4.8M866.8 454.5l0.9 4.8M537.1 457.7l-1.2 4.1M545.7 458.1l-0.7 3.5M597.8 458.1l1.1 3.4M604.0 457.6l1.2 4.0M787.9 457.2l-0.6 4.7M795.0 457.7l-0.9 4.4M834.2 457.6l-1.0 4.4M847.0 457.9l-0.2 3.9M545.6 460.7l-0.7 3.8M554.7 460.1l-0.4 5.2M801.6 460.2l-1.1 4.0M805.5 461.0l-1.1 3.7M834.8 460.0l-0.9 4.9M839.0 460.0l-0.7 5.2M544.4 463.0l-0.9 4.9M548.6 463.3l-0.6 4.0M556.9 462.9l-0.1 5.1M558.7 462.7l-0.0 5.2M562.8 463.2l0.2 3.8M565.3 462.5l0.5 5.2M821.2 463.2l-1.3 4.3M823.2 462.9l-1.4 5.0M569.2 466.0l0.6 3.7M573.9 465.5l1.0 4.7M814.4 465.8l-1.3 4.2M819.0 464.9l-1.5 4.9M719.1 496.9l1.4 4.2M723.0 496.2l1.6 4.9M720.9 501.8l1.5 4.7" stroke="#00f08c" stroke-width="0.8" fill="none" stroke-linecap="round"/>
<path d="M651.8 412.7l6.8 0.2M736.0 413.1l-6.4 -0.2M746.0 413.0l-8.0 -0.3M749.6 413.3l-6.8 -0.2M758.0 412.9l-5.9 -0.2M647.9 415.9l6.2 0.2M650.2 415.6l6.8 0.2M655.2 415.2l5.9 0.2M665.3 415.9l6.3 0.2M731.6 415.6l-5.8 -0.2M747.2 416.0l-7.1 -0.3M751.6 416.1l-7.7 -0.3M661.5 417.8l6.4 0.2M665.6 417.9l6.0 0.2M678.5 418.5l6.3 0.2M733.6 418.2l-6.6 -0.2M735.6 418.7l-6.6 -0.2M742.8 418.5l-7.3 -0.3M652.7 420.8l6.0 0.7M659.3 420.8l6.4 0.8M664.2 420.6l5.8 0.7M665.7 420.3l6.7 0.8M729.8 421.1l-7.8 -0.9M734.1 421.3l-6.9 -0.8M650.6 423.2l6.5 0.8M661.1 423.0l6.0 0.7M670.2 423.1l5.5 0.7M674.4 423.0l7.4 0.9M680.1 423.3l7.5 0.9M723.0 423.9l-7.3 -0.9M724.6 424.1l-6.1 -0.7M649.6 426.0l7.9 1.0M654.7 425.8l7.4 0.9M676.5 425.8l6.5 0.8M681.3 426.0l6.1 0.7M683.2 426.1l5.9 0.7M711.6 426.7l-5.6 -0.7M733.9 426.7l-6.7 -0.8M650.1 428.5l7.3 0.9M651.4 428.4l7.7 0.9M653.8 428.5l8.0 1.0M656.6 428.2l6.0 0.7M683.6 428.0l6.4 0.8M685.2 428.0l7.5 0.9M700.7 429.2l-6.9 -0.8M700.0 426.8l-1.3 4.6M705.4 429.2l-6.5 -0.8M712.6 429.0l-7.5 -0.9M718.1 428.7l-6.5 -0.8M732.7 428.8l-5.4 -0.6M657.7 429.3l-0.4 4.5M660.2 429.2l-0.5 4.1M669.8 429.4l-0.9 4.1M675.8 429.5l-1.0 3.7M678.5 429.0l-1.3 4.4M685.3 429.5l-1.2 3.6M689.8 428.9l-1.6 5.0M702.7 429.3l-0.9 3.7M708.9 429.1l-0.8 4.3M713.3 428.8l-0.6 4.4M655.8 431.7l-0.4 5.0M658.5 431.3l-0.6 5.1M685.5 431.7l-1.5 4.7M687.2 431.8l-1.3 4.1M702.5 431.4l-1.0 4.2M653.9 433.7l-0.4 5.2M656.0 434.7l-0.4 3.6M664.9 434.0l-1.1 5.0M685.5 434.0l-1.4 4.5M686.9 433.8l-1.5 4.8M704.2 434.5l-0.9 4.3M710.9 434.2l-0.5 4.3M717.1 434.2l-0.2 4.3M708.7 437.0l-0.5 3.8M642.3 439.1l0.1 4.4M653.6 439.0l-0.6 5.2M662.3 439.6l-0.9 4.2M671.3 440.0l-1.1 3.8M675.6 440.1l-1.1 3.5M685.6 438.8l-1.6 5.0M689.0 439.5l-1.2 4.0M707.0 439.5l-0.6 4.5M723.6 439.6l0.3 3.8M736.3 439.7l1.0 4.2M626.5 441.6l1.0 4.9M642.6 442.4l0.0 4.1M658.1 441.9l-0.8 4.2M660.3 441.8l-0.9 4.3M701.8 442.7l-0.7 4.0M714.9 442.4l-0.0 3.7M721.8 441.5l0.5 5.3M723.3 441.7l0.5 4.6M619.8 444.9l1.1 4.2M624.9 444.5l0.9 4.2M628.8 444.2l0.8 5.1M630.8 444.4l0.6 4.3M635.8 444.5l0.4 4.6M642.9 444.5l-0.1 4.4M743.3 445.0l1.2 3.7M745.0 444.8l1.2 3.8M749.3 444.4l1.4 4.4M756.4 444.6l1.3 4.1M758.2 444.6l1.5 4.9M622.2 447.0l1.1 5.0M758.2 447.0l1.4 4.9M760.9 447.8l1.0 3.8M762.8 447.3l1.2 4.6M613.4 450.1l1.2 4.3M769.4 454.9l0.7 4.9M774.2 455.0l0.4 4.7M776.6 455.2l0.2 5.0M781.0 454.8l-0.1 5.0M851.4 454.9l-0.1 5.3M862.3 455.3l0.5 3.8M533.6 458.0l-1.2 3.8M601.8 457.9l1.4 4.3M606.3 457.6l1.5 4.9M776.3 457.9l0.1 4.6M783.6 457.9l-0.3 4.8M849.2 457.4l-0.1 5.3M854.0 457.6l0.2 5.0M857.7 457.5l0.5 5.3M866.8 458.4l0.8 3.7M875.5 457.4l1.4 5.0M535.6 460.7l-1.1 3.7M541.7 460.2l-1.2 5.1M607.1 460.3l1.5 5.1M780.7 460.3l-0.2 4.3M785.4 460.3l-0.6 5.1M840.6 460.5l-0.5 4.4M853.2 459.6l0.3 5.2M857.5 460.4l0.5 4.7M870.3 460.6l1.0 4.1M873.0 459.9l1.4 5.0M533.5 463.4l-1.1 3.7M537.9 463.3l-1.1 4.2M542.2 462.4l-1.1 5.3M589.2 463.1l1.5 4.6M595.1 462.9l1.5 4.7M598.1 463.4l1.1 3.5M786.2 462.7l-0.7 4.9M832.4 463.1l-0.8 4.0M834.4 462.9l-0.8 4.5M844.9 462.2l-0.2 5.1M870.4 462.9l1.2 4.5M537.3 465.2l-1.1 4.5M541.8 465.5l-0.9 4.2M544.1 465.3l-0.7 4.1M546.4 465.5l-0.7 4.9M558.4 465.8l0.1 4.4M588.9 465.7l1.1 3.5M591.1 465.6l1.6 4.9M790.0 465.6l-0.8 4.1M792.5 465.6l-1.0 4.5M795.1 465.2l-1.2 4.9M805.9 465.7l-1.4 4.4M808.7 465.7l-1.4 4.3M832.1 465.6l-0.9 4.5M834.4 465.5l-0.6 3.9M866.0 465.4l1.1 4.7M719.3 491.3l1.3 4.2M718.3 493.5l1.6 5.0M727.5 494.3l1.4 4.4M853.4 494.6l1.1 3.9M855.6 493.6l1.4 4.9M850.5 496.2l1.3 4.8M852.7 496.2l1.4 4.9M862.2 496.4l1.4 4.3M701.5 499.4l1.2 5.0M703.2 499.4l1.1 4.5M705.5 499.6l1.0 3.7M711.8 499.5l1.3 4.3M729.7 499.5l1.1 4.1M844.7 499.4l0.8 3.7M849.1 499.3l1.2 4.4M853.1 499.4l1.2 4.1M855.6 499.4l1.1 3.6M705.7 501.8l1.3 4.4M707.8 501.7l1.5 4.8M843.9 501.7l1.2 5.0M850.9 501.8l1.2 4.1M859.9 501.7l1.5 4.8M870.7 502.3l1.2 4.0" stroke="#00f0b4" stroke-width="0.8" fill="none" stroke-linecap="round"/>
<path d="M659.6 413.4l5.9 0.2M661.0 412.8l6.9 0.2M665.5 412.8l6.6 0.2M669.9 412.8l7.4 0.3M737.6 412.9l-5.7 -0.2M659.4 415.6l6.5 0.2M660.9 415.4l7.9 0.3M669.1 415.6l7.7 0.3M672.0 415.4l6.3 0.2M674.3 415.4l6.7 0.2M734.1 415.7l-7.3 -0.3M742.2 416.2l-6.0 -0.2M662.6 418.3l7.8 0.3M672.2 418.1l6.1 0.2M676.5 418.1l7.1 0.3M683.3 417.9l6.1 0.2M731.9 418.7l-7.8 -0.3M738.3 418.4l-6.7 -0.2M661.6 420.9l6.7 0.8M667.0 420.1l7.3 0.9M669.1 420.3l7.4 0.9M673.3 420.4l5.4 0.6M678.4 420.3l6.9 0.8M680.6 420.3l7.0 0.8M701.1 421.3l-6.4 -0.8M703.5 421.5l-7.7 -0.9M705.5 421.5l-6.5 -0.8M712.2 421.0l-7.4 -0.9M716.2 421.6l-7.5 -0.9M721.0 421.1l-7.5 -0.9M728.2 421.2l-7.7 -0.9M731.7 421.5l-7.4 -0.9M655.3 423.3l5.4 0.7M659.7 423.0l5.4 0.6M665.1 423.2l7.2 0.9M667.3 423.4l7.1 0.8M676.3 423.2l7.3 0.9M701.1 424.1l-7.1 -0.9M705.9 424.0l-7.3 -0.9M710.2 424.1l-7.8 -0.9M714.0 424.0l-6.0 -0.7M732.3 424.3l-7.5 -0.9M733.6 423.8l-5.4 -0.6M706.0 426.6l-7.2 -0.9M665.8 428.0l5.9 0.7M672.3 428.4l6.6 0.8M687.2 428.2l6.5 0.8M697.0 428.9l-8.0 -1.0M698.9 429.3l-6.4 -0.8M710.8 426.7l-0.8 4.7M719.2 427.1l-0.3 4.1M707.2 429.5l-0.8 4.1M711.3 428.9l-0.7 4.8M662.2 431.8l-0.6 3.8M676.5 431.4l-1.3 4.3M689.7 431.6l-1.3 4.1M717.9 431.4l-0.2 5.2M669.1 434.4l-1.1 4.3M680.6 434.3l-1.6 4.9M689.4 434.5l-1.1 3.5M700.3 434.4l-1.2 4.8M706.6 434.8l-0.7 4.2M713.0 434.7l-0.4 4.0M719.9 433.6l-0.0 5.2M654.1 436.3l-0.5 5.2M665.5 436.3l-1.2 5.2M666.9 436.8l-1.0 4.2M669.2 436.7l-1.1 4.0M700.6 436.6l-1.0 4.4M719.9 436.7l0.1 4.2M721.2 436.7l0.2 4.6M644.9 439.9l-0.0 4.0M651.4 439.6l-0.4 4.4M656.1 439.6l-0.7 4.8M658.8 439.3l-0.9 4.9M678.1 439.7l-1.3 3.9M681.0 439.9l-1.3 4.0M691.3 439.9l-1.2 4.1M699.9 439.6l-0.8 3.7M710.5 439.7l-0.4 4.6M715.0 439.4l-0.1 4.2M717.8 439.5l0.1 4.4M731.9 440.1l0.8 3.8M645.2 441.6l-0.1 5.2M676.2 441.5l-1.6 5.0M678.0 441.9l-1.4 4.3M680.5 441.4l-1.7 5.1M684.6 442.1l-1.1 3.5M689.9 441.5l-1.5 5.1M691.8 442.1l-1.0 3.7M697.6 441.4l-1.2 5.1M700.3 441.6l-1.0 4.8M709.0 441.7l-0.4 4.7M730.1 442.7l0.7 3.7M731.8 442.3l0.8 3.9M741.2 442.5l1.2 4.1M637.9 444.7l0.2 4.9M639.9 445.3l0.1 3.6M644.7 445.0l-0.2 4.3M647.3 444.3l-0.3 4.7M656.3 444.6l-0.9 4.8M664.8 444.9l-1.0 3.7M667.1 444.4l-1.4 5.0M706.4 444.6l-0.5 5.0M717.3 444.0l0.3 5.4M727.9 444.6l0.7 3.8M734.7 445.4l0.9 3.5M738.3 444.2l1.3 4.7M642.3 447.5l-0.1 4.2M644.9 447.8l-0.3 3.9M685.2 446.7l-1.6 5.2M698.2 447.5l-0.9 4.8M700.4 447.2l-0.7 4.1M704.2 447.1l-0.6 5.3M719.3 447.1l0.4 4.7M721.8 447.4l0.5 3.8M751.5 447.1l1.3 4.0M753.6 447.2l1.5 4.9M756.6 447.6l1.3 4.4M617.9 449.4l1.2 5.0M620.3 450.2l0.9 4.3M622.3 450.0l0.8 4.1M634.0 449.5l0.3 4.6M698.2 449.4l-0.8 4.9M723.3 450.4l0.6 3.8M730.3 449.8l1.3 5.1M749.6 449.5l1.6 5.1M753.7 450.1l1.2 4.0M762.4 449.7l1.2 4.9M611.3 455.5l1.2 4.3M779.2 455.1l0.1 4.0M609.0 458.2l1.0 3.7M613.5 457.9l1.2 4.8M617.4 458.4l0.7 3.6M774.5 457.7l0.2 3.9M613.7 459.9l1.0 4.4M777.0 459.9l0.0 5.3M778.6 460.6l-0.1 4.4M783.8 460.5l-0.4 4.1M851.3 460.5l0.1 3.8M599.7 462.8l1.2 3.9M602.3 462.8l1.4 4.6M772.5 462.5l0.2 5.2M779.4 463.1l-0.2 4.2M794.8 463.1l-1.0 4.5M851.8 462.2l0.3 5.0M853.9 463.1l0.4 4.6M855.2 462.8l0.6 5.4M862.0 462.6l0.8 4.4M866.7 463.0l1.1 4.6M875.1 463.5l1.2 3.8M532.6 465.5l-1.0 3.6M535.0 465.2l-1.3 5.0M593.2 466.0l1.2 3.8M597.5 465.7l1.3 4.2M599.6 466.1l1.2 3.9M785.4 464.9l-0.8 5.3M788.3 466.1l-0.7 4.0M842.4 464.9l-0.3 5.0M846.7 465.1l0.0 5.0M849.4 465.1l0.2 4.7M850.9 466.0l0.3 3.9M855.2 465.2l0.6 5.2M862.5 465.5l0.9 4.3M864.3 465.4l0.9 4.0M870.3 465.5l1.4 4.9M537.0 470.5l-1.0 4.7M546.2 470.3l-0.5 4.7M559.0 471.2l0.2 3.7M571.3 470.5l1.0 4.7M812.8 470.6l-1.3 4.1M817.3 470.5l-1.5 5.0M830.1 470.1l-0.9 5.2M832.5 471.1l-0.6 4.0M838.7 470.5l-0.3 4.3M859.8 470.9l1.0 4.6M866.1 470.3l1.2 4.5M845.0 473.0l0.2 4.5M872.5 473.5l1.4 4.3M723.0 486.1l1.3 4.1M714.1 488.9l1.2 4.1M719.0 489.2l1.3 4.0M721.0 488.8l1.2 3.9M855.3 488.7l1.2 4.6M712.4 491.6l1.2 4.2M723.4 491.6l1.4 4.2M727.9 492.1l1.1 3.6M840.5 491.3l0.5 4.3M851.3 491.2l1.1 4.6M867.9 491.6l1.5 4.7M875.4 491.5l1.3 4.4M707.7 494.4l1.2 4.3M709.7 494.2l1.2 4.3M861.3 494.1l1.4 4.5M708.0 496.9l1.1 3.8M727.3 496.7l1.3 4.3M732.4 496.3l1.3 4.9M734.0 496.2l1.3 5.0M840.5 496.9l0.6 3.6M848.9 496.2l1.3 5.0M699.6 499.1l1.0 4.7M708.1 499.3l1.4 4.6M734.3 499.4l1.1 4.7M833.3 498.8l0.5 5.2M841.9 499.3l1.0 4.9M875.0 499.2l1.2 4.4M697.1 501.6l1.1 5.2M701.6 502.0l1.1 4.1M827.4 501.4l0.1 5.1M829.1 501.6l0.2 4.9M831.2 501.5l0.4 4.8M833.3 501.4l0.5 4.6M837.8 502.3l0.6 3.8M840.2 502.4l0.7 3.6M842.4 501.7l1.1 5.0" stroke="#00f0c8" stroke-width="0.8" fill="none" stroke-linecap="round"/>
<path d="M672.4 413.3l6.2 0.2M686.9 413.0l7.7 0.3M677.0 415.8l5.7 0.2M683.7 415.5l5.4 0.2M703.0 415.7l-7.4 -0.3M688.1 417.9l5.5 0.2M698.4 418.1l-5.9 -0.2M703.1 418.3l-6.1 -0.2M706.8 418.7l-5.9 -0.2M712.0 418.5l-7.0 -0.3M714.8 418.8l-7.3 -0.3M725.0 418.2l-7.0 -0.3M698.6 421.0l-5.9 -0.7M716.3 424.0l-5.9 -0.7M662.5 442.2l-0.9 3.9M669.7 442.0l-1.3 4.4M696.2 442.3l-0.9 3.9M663.1 445.1l-0.9 3.5M669.6 444.2l-1.4 4.7M700.0 444.9l-0.9 4.7M713.4 444.7l-0.0 5.0M719.8 444.0l0.4 5.0M723.2 444.4l0.6 4.5M725.4 445.1l0.6 3.7M637.6 447.0l0.2 5.2M695.2 448.0l-0.8 3.9M728.3 447.5l0.9 4.1M624.5 450.4l0.7 4.0M635.5 449.5l0.2 5.0M669.5 449.6l-1.5 4.9M702.5 450.5l-0.4 3.9M710.5 449.9l-0.0 4.9M727.7 449.5l1.1 5.2M631.5 455.0l0.2 4.1M656.6 455.4l-1.1 4.2M669.8 454.4l-1.6 5.1M712.8 454.9l0.3 4.9M743.3 455.1l1.5 4.6M760.3 455.2l1.0 4.4M764.9 454.3l1.0 5.1M716.8 457.5l0.6 4.2M729.5 457.7l1.3 4.8M761.1 457.8l0.9 4.2M765.5 460.6l0.6 4.2M774.2 459.7l0.2 5.3M615.4 462.8l1.0 5.1M618.2 462.7l0.8 4.7M625.2 463.0l0.3 4.3M777.1 462.8l-0.1 5.2M604.3 465.9l1.0 3.6M772.7 465.3l0.1 4.2M533.0 470.7l-1.3 5.1M534.9 471.0l-1.1 4.3M544.0 470.5l-0.7 5.1M548.6 470.1l-0.4 5.3M552.4 470.3l-0.1 4.8M613.6 470.4l0.8 4.8M799.2 470.3l-1.4 4.8M821.1 470.0l-1.4 5.1M823.8 470.3l-1.1 4.4M834.6 470.5l-0.6 5.0M844.5 471.2l0.1 3.9M857.3 470.3l0.9 5.0M543.7 472.9l-0.6 4.6M563.4 473.2l0.6 4.0M569.2 472.7l1.1 5.0M777.0 473.3l-0.5 5.2M855.2 473.9l0.7 3.9M862.1 473.3l1.2 4.8M545.5 475.6l-0.4 5.0M840.2 475.9l-0.0 4.0M855.8 475.6l0.9 4.4M783.3 478.1l-0.9 4.5M849.3 478.6l0.7 4.7M849.3 481.0l0.6 3.9M852.8 481.5l0.9 4.3M721.5 484.3l1.3 4.0M845.0 486.5l0.5 3.8M705.9 488.6l1.0 4.5M716.7 488.9l1.3 4.1M844.5 489.0l0.8 4.8M875.3 489.1l1.3 4.1M732.2 491.6l1.2 4.0M625.0 493.8l-0.7 4.9M699.3 493.7l0.9 4.8M705.9 494.4l0.9 3.7M732.1 494.3l1.1 3.9M842.4 493.9l0.8 4.6M863.5 493.5l1.7 5.1M837.6 496.4l0.6 5.0M745.6 499.1l0.6 5.0M829.0 499.3l0.1 3.9M840.1 499.6l0.6 3.6M690.8 501.9l0.6 4.7M692.5 502.2l0.7 4.5M694.7 502.2l0.8 4.4M699.2 501.5l1.0 4.5M790.7 502.3l-1.2 3.6M816.4 501.8l-0.5 4.1M825.0 501.2l-0.0 5.1" stroke="#00dcdc" stroke-width="0.8" fill="none" stroke-linecap="round"/>
<path d="M681.5 412.9l5.9 0.2M683.4 413.4l6.5 0.2M684.7 413.2l8.0 0.3M698.2 413.3l-6.7 -0.2M701.3 413.6l-7.2 -0.3M712.0 413.1l-6.2 -0.2M713.5 413.6l-6.0 -0.2M725.4 413.6l-7.8 -0.3M686.7 415.9l7.7 0.3M723.0 415.6l-8.0 -0.3M705.4 418.1l-6.8 -0.2M709.5 418.3l-6.3 -0.2M717.8 421.1l-5.9 -0.7M684.6 444.6l-1.5 4.8M691.8 444.6l-1.3 5.0M721.2 445.0l0.4 4.1M646.6 447.0l-0.4 4.6M706.8 447.9l-0.3 3.7M709.0 446.7l-0.2 5.1M732.6 447.6l1.2 4.5M640.8 449.4l-0.1 4.9M653.6 449.8l-0.9 5.0M660.3 449.7l-1.0 4.0M671.5 449.7l-1.4 4.3M674.4 449.8l-1.5 4.7M678.0 449.8l-1.5 4.7M689.6 449.9l-1.1 4.1M695.5 450.0l-0.7 3.6M734.2 450.4l1.0 3.5M743.4 450.5l1.2 3.6M640.9 455.0l-0.4 5.2M652.1 455.3l-0.9 4.3M660.4 455.4l-1.1 4.0M665.8 454.7l-1.5 5.0M667.6 455.0l-1.5 4.8M673.9 455.1l-1.4 4.4M685.2 454.9l-1.2 4.5M686.9 454.9l-1.3 5.0M689.3 454.7l-1.2 5.0M697.9 455.0l-0.7 5.1M701.7 454.9l-0.4 4.3M716.7 455.0l0.5 4.1M719.3 455.3l0.7 4.6M754.0 455.0l1.4 4.7M631.8 457.7l0.1 4.8M638.1 457.7l-0.3 4.7M645.2 457.6l-0.6 4.1M659.0 458.0l-1.3 4.5M677.8 458.3l-1.1 3.7M680.9 457.9l-1.4 4.7M689.4 457.7l-1.0 4.4M708.9 457.3l0.2 5.2M712.9 457.7l0.4 4.6M720.8 457.5l0.9 4.9M619.7 460.6l0.7 4.5M622.1 460.3l0.6 4.6M625.0 460.1l0.4 4.2M647.3 460.5l-0.7 3.7M652.1 460.3l-1.2 5.2M654.1 460.7l-0.9 3.6M658.8 460.1l-1.2 4.1M662.9 460.4l-1.2 3.9M676.3 460.5l-1.3 4.2M682.6 460.2l-1.2 4.5M695.7 460.3l-0.6 4.4M700.2 460.2l-0.3 4.3M718.9 460.6l0.8 4.3M721.4 460.4l1.1 4.9M723.5 460.7l1.0 4.3M727.7 460.2l1.3 4.6M734.6 461.0l1.1 3.5M738.5 460.5l1.2 3.6M745.6 460.4l1.1 3.6M751.8 460.9l1.0 3.5M756.5 460.1l1.1 4.3M629.7 463.3l0.1 4.0M638.0 462.5l-0.5 5.3M669.9 462.9l-1.5 4.7M695.1 463.1l-0.5 4.7M712.5 462.3l0.6 4.9M716.5 462.9l0.7 4.2M721.7 463.2l0.9 4.0M723.4 462.9l1.3 5.1M728.1 463.1l1.3 4.6M731.9 462.6l1.6 5.0M740.3 462.7l1.7 5.1M606.8 465.8l1.0 3.6M615.5 465.5l0.7 3.9M617.9 465.0l0.7 4.7M625.2 465.5l0.2 3.9M702.3 465.4l0.0 5.1M706.6 465.3l0.3 4.5M734.5 465.0l1.6 5.0M767.6 465.1l0.4 5.1M573.8 470.6l1.3 5.2M589.4 470.3l1.5 4.6M593.1 470.5l1.6 4.9M602.5 470.2l1.3 4.5M606.7 471.0l1.1 4.7M615.6 470.4l0.6 4.3M617.7 470.3l0.5 4.5M620.1 470.6l0.4 4.9M629.8 470.2l-0.2 4.8M631.6 470.3l-0.3 4.6M633.6 470.8l-0.4 4.4M636.0 471.0l-0.5 3.9M767.9 470.6l0.2 4.0M772.6 470.3l-0.1 5.3M774.8 471.0l-0.2 4.4M776.4 470.7l-0.3 4.4M778.8 470.4l-0.5 5.4M806.2 471.0l-1.3 3.9M855.3 470.9l0.8 4.6M864.0 470.6l1.2 4.6M871.2 471.1l1.1 3.6M541.4 473.6l-0.6 3.6M556.4 473.4l0.2 4.2M560.5 473.3l0.4 3.7M564.7 473.5l0.6 4.0M593.2 473.8l1.2 3.8M606.7 472.8l1.0 4.6M617.9 473.2l0.5 5.2M620.6 473.6l0.2 3.9M727.3 474.0l1.1 3.5M772.0 473.0l-0.1 4.7M799.2 473.5l-1.4 4.7M803.3 473.2l-1.3 3.9M806.2 473.7l-1.4 4.3M812.3 473.5l-1.4 4.3M819.5 473.5l-1.1 4.2M827.7 473.1l-0.9 4.7M829.8 474.0l-0.6 3.6M831.9 473.5l-0.5 4.0M834.7 472.6l-0.6 5.4M838.6 473.1l-0.2 5.3M851.0 473.1l0.5 4.2M533.4 475.8l-1.1 4.7M541.1 476.0l-0.7 4.9M544.2 475.9l-0.4 4.2M548.2 476.0l-0.2 3.6M564.6 475.6l0.8 4.4M567.6 475.6l1.1 5.3M611.6 476.2l0.6 3.9M614.0 475.6l0.6 5.1M622.6 475.4l0.1 4.8M632.0 475.8l-0.4 4.0M776.9 476.2l-0.4 3.7M781.3 476.0l-0.8 4.5M801.3 475.6l-1.4 4.4M810.5 476.0l-1.3 4.0M831.9 476.0l-0.5 4.4M842.8 475.4l0.2 5.1M844.3 475.7l0.3 5.4M851.0 476.2l0.7 4.6M853.3 475.7l0.9 5.2M861.7 476.3l1.0 3.9M875.1 475.7l1.6 4.8M533.1 477.9l-1.1 5.2M535.2 478.8l-0.8 4.3M546.0 478.3l-0.3 5.0M779.2 478.4l-0.6 3.9M837.9 478.4l-0.1 5.3M850.9 478.6l0.8 5.1M870.1 478.4l1.5 4.7M875.5 478.4l1.3 3.9M533.2 481.3l-0.9 4.5M535.1 481.2l-0.8 4.7M618.2 481.5l0.1 3.9M625.0 481.2l-0.3 5.0M627.1 481.8l-0.3 3.7M717.0 480.8l1.2 4.2M718.3 481.2l1.4 4.6M785.7 481.4l-0.9 3.8M842.8 480.9l0.4 5.0M846.5 481.5l0.4 3.6M850.9 481.2l0.9 5.0M855.9 481.4l0.8 3.6M870.6 480.7l1.5 4.6M620.8 484.2l-0.1 4.2M620.6 486.2l-0.2 4.5M625.0 486.3l-0.5 5.0M708.1 486.5l0.9 3.9M728.0 486.2l1.6 5.0M736.3 486.8l1.2 4.1M772.6 486.5l-0.6 4.5M784.2 486.3l-1.0 3.8M786.0 485.9l-1.4 5.0M829.8 486.1l-0.3 4.8M851.5 486.6l0.9 4.3M857.2 487.0l1.0 3.7M862.1 486.4l1.2 3.9M533.0 489.5l-0.6 4.0M631.8 488.7l-1.0 4.9M703.4 488.8l1.0 4.9M709.5 488.9l1.3 5.1M723.5 488.7l1.5 4.5M727.7 489.4l1.2 3.8M731.6 489.2l1.3 4.1M775.2 488.7l-0.7 4.1M779.7 488.7l-1.0 4.5M781.4 489.1l-0.9 3.8M785.7 489.0l-1.4 4.9M831.7 488.6l-0.1 5.1M840.6 488.9l0.4 3.9M853.4 488.9l1.2 4.9M632.4 491.4l-1.0 4.6M636.1 491.7l-1.1 4.4M701.0 491.6l0.9 4.7M736.3 491.6l1.0 3.8M743.1 491.6l0.9 4.7M779.4 491.7l-1.1 4.6M787.9 491.9l-1.3 4.4M790.8 491.7l-1.3 4.1M801.5 491.0l-1.5 4.9M827.4 491.2l-0.3 5.2M842.4 491.4l0.7 4.5M870.2 491.2l1.5 4.7M534.4 494.3l-0.3 3.6M545.9 493.8l0.4 5.1M548.1 494.2l0.5 4.9M602.6 494.0l0.7 4.9M614.2 493.7l-0.1 4.7M620.7 494.2l-0.4 4.2M632.3 494.1l-1.0 4.2M694.9 494.3l0.5 3.6M701.0 493.9l1.0 4.9M740.6 493.9l1.1 5.1M770.4 494.1l-0.8 4.7M773.0 494.1l-0.9 4.7M775.2 493.6l-1.0 4.7M776.8 494.2l-1.0 4.3M781.4 494.1l-1.1 4.0M783.7 494.1l-1.4 5.0M791.1 494.4l-1.4 4.5M810.3 494.0l-1.1 4.2M820.9 493.8l-0.6 5.0M827.6 493.7l-0.2 4.8M831.8 493.4l0.1 5.1M545.2 496.3l0.4 5.1M616.1 496.9l-0.2 3.6M618.9 496.7l-0.4 4.1M624.7 496.8l-0.6 3.7M696.9 496.0l0.9 5.1M699.6 497.0l0.8 4.1M701.3 496.7l0.8 3.8M763.7 496.8l-0.4 3.8M781.5 496.6l-1.2 4.2M818.8 496.3l-0.6 4.5M829.6 496.3l0.1 4.6M831.4 496.8l0.2 4.2M833.9 496.3l0.4 5.3M537.2 499.3l-0.0 3.8M538.8 499.5l0.0 3.6M540.8 499.9l0.2 3.9M543.1 499.4l0.3 4.4M547.6 499.4l0.6 4.2M558.7 499.2l1.3 5.0M575.6 499.8l1.3 4.1M587.5 499.7l1.0 3.6M600.3 499.4l0.6 5.1M609.0 499.4l0.1 3.8M613.9 499.6l-0.2 4.6M618.2 499.3l-0.5 5.1M623.2 499.6l-0.7 4.4M630.0 499.3l-1.1 4.4M643.6 499.5l-1.2 3.8M645.6 499.5l-1.1 3.5M660.2 499.5l-1.2 4.6M764.1 499.4l-0.6 5.0M772.7 499.5l-1.0 4.4M774.9 500.0l-0.9 3.8M786.3 499.4l-1.2 3.8M790.8 499.0l-1.4 4.4M799.5 499.6l-1.1 3.7M806.1 499.5l-1.1 4.2M810.2 499.2l-0.9 4.3M814.3 499.5l-0.7 4.4M816.3 498.9l-0.7 5.0M818.7 498.9l-0.5 4.6M831.5 498.9l0.3 5.0M532.9 501.5l-0.3 5.4M545.8 502.4l0.5 4.0M558.1 501.3l1.3 5.0M562.3 502.1l1.2 4.1M566.5 501.7l1.6 5.1M576.4 502.4l1.2 3.7M577.9 502.5l1.1 3.6M587.3 502.3l1.0 3.9M589.4 501.9l0.9 3.8M593.5 501.8l1.0 5.1M598.7 502.3l0.5 4.1M600.3 501.3l0.6 5.3M612.0 501.2l-0.2 5.3M618.4 502.3l-0.5 3.6M631.6 502.5l-1.0 3.9M636.8 501.8l-1.3 4.2M677.5 501.5l-0.2 5.0M688.4 501.6l0.5 4.9M746.1 501.7l0.4 4.4M754.7 501.1l-0.1 5.4M765.9 501.7l-0.7 4.3M767.9 501.8l-0.9 4.6M774.9 502.1l-1.1 4.2M779.2 502.5l-1.0 3.6M822.7 501.6l-0.2 5.0" stroke="#00dcf0" stroke-width="0.8" fill="none" stroke-linecap="round"/>
<path d="M721.6 412.8l-8.0 -0.3M722.7 413.2l-6.9 -0.2M629.2 455.4l0.4 4.6M645.3 455.1l-0.5 4.3M678.6 455.0l-1.5 4.8M691.8 454.4l-1.1 5.1M695.2 455.3l-0.6 3.7M699.5 455.1l-0.5 4.5M723.7 455.4l0.7 3.5M749.8 454.7l1.6 5.0M629.1 457.3l0.3 5.3M633.7 457.3l0.0 4.4M642.9 457.3l-0.5 4.5M651.4 458.0l-0.9 4.1M662.6 457.4l-1.4 4.5M687.2 457.9l-0.9 3.5M700.1 457.5l-0.4 5.2M714.4 457.9l0.5 4.6M719.3 457.7l0.7 4.0M740.3 457.0l1.7 5.1M742.5 457.6l1.6 4.9M754.0 457.6l1.4 4.9M640.7 461.0l-0.4 3.6M706.6 460.3l0.1 4.0M710.6 460.2l0.3 4.1M730.2 460.4l1.4 4.8M750.0 461.1l1.0 3.5M631.1 462.9l0.0 3.6M647.8 462.6l-1.1 5.2M653.9 462.8l-1.1 4.0M662.6 463.1l-1.5 4.6M667.4 463.1l-1.4 4.2M671.3 463.2l-1.3 4.0M691.2 462.8l-0.8 4.6M706.4 463.5l0.2 3.6M734.0 462.8l1.5 4.9M743.3 463.2l1.3 4.0M749.5 463.2l1.1 3.8M754.1 462.5l1.2 4.9M758.2 463.1l0.8 3.9M620.2 465.1l0.6 4.6M640.5 465.2l-0.7 5.2M680.3 465.4l-1.2 4.4M691.7 465.1l-0.6 4.5M699.6 465.9l-0.1 3.9M741.2 466.1l1.3 3.9M744.9 465.6l1.4 4.4M760.4 465.0l0.8 4.8M763.3 465.7l0.6 4.7M765.2 465.2l0.6 5.3M611.1 471.0l0.7 3.8M643.1 471.1l-0.7 3.6M699.4 470.6l0.0 5.1M734.5 470.6l1.4 4.2M552.4 472.9l-0.0 5.1M554.5 473.2l0.1 4.7M558.7 473.5l0.4 4.7M595.1 472.9l1.5 5.0M602.8 473.4l1.1 4.2M625.3 473.5l-0.0 3.9M629.0 473.6l-0.2 3.6M705.7 472.8l0.6 5.1M734.7 473.9l1.1 3.4M765.9 473.4l0.2 3.6M767.9 473.4l0.1 3.7M774.7 473.7l-0.3 4.3M554.2 476.1l0.2 4.3M563.4 476.1l0.7 4.0M597.6 476.2l1.1 3.7M602.7 476.0l1.2 4.9M625.4 475.9l-0.1 4.6M629.7 475.6l-0.3 4.3M728.1 476.4l1.2 3.6M730.0 476.1l1.1 3.5M768.1 475.8l-0.0 5.1M772.1 476.2l-0.2 4.4M779.1 476.0l-0.7 4.6M812.9 476.4l-1.2 3.8M537.4 478.5l-0.6 3.6M543.5 478.4l-0.5 5.2M611.7 478.6l0.6 4.2M613.8 478.5l0.5 5.0M712.2 478.7l0.8 3.7M717.0 478.3l1.1 4.1M719.1 478.0l1.4 4.9M723.0 478.9l1.2 3.8M772.7 477.9l-0.4 4.9M775.2 478.4l-0.5 4.3M781.4 478.0l-0.9 5.0M786.5 478.5l-1.2 5.0M788.2 478.6l-1.3 4.9M823.6 478.7l-1.0 4.8M832.1 478.3l-0.4 4.0M842.8 478.1l0.2 4.5M537.1 480.7l-0.7 4.7M544.1 480.6l-0.3 4.8M620.6 481.5l-0.0 3.9M706.1 481.3l0.7 3.8M708.1 481.4l0.8 3.9M723.5 481.0l1.4 4.3M774.3 480.9l-0.5 4.1M791.1 480.4l-1.4 4.9M827.7 481.3l-0.6 4.5M833.8 480.5l-0.3 5.3M860.2 481.4l1.0 3.8M874.9 481.4l1.4 4.2M775.0 483.8l-0.7 5.0M532.6 486.0l-0.8 4.7M534.9 486.7l-0.5 3.7M541.9 486.2l-0.2 4.4M545.7 485.7l0.0 5.1M609.3 486.1l0.5 4.2M611.4 486.4l0.4 4.6M622.7 486.6l-0.3 4.0M701.5 486.3l0.8 4.9M730.4 486.8l1.2 3.7M740.8 486.1l1.2 4.6M776.7 486.1l-0.7 4.1M790.4 486.2l-1.4 4.8M797.5 486.8l-1.3 4.0M805.5 486.8l-1.2 4.0M819.2 486.2l-1.0 4.9M842.2 485.9l0.5 4.5M541.1 488.9l-0.2 4.1M543.9 488.8l-0.0 4.3M551.9 488.5l0.5 4.4M607.4 489.3l0.4 3.6M609.2 489.3l0.3 3.8M613.8 489.2l0.1 4.1M622.6 489.0l-0.3 3.8M636.1 489.5l-0.9 3.8M640.6 488.7l-1.4 5.1M644.9 489.7l-1.1 3.5M701.5 488.9l0.7 4.2M743.7 488.8l0.9 4.3M763.6 489.1l-0.1 3.8M777.2 489.2l-0.8 3.7M801.5 489.7l-1.1 3.5M805.5 489.1l-1.4 4.5M810.6 488.3l-1.4 5.0M824.9 488.8l-0.4 3.8M829.7 488.4l-0.2 5.0M838.2 489.2l0.3 3.6M532.8 491.9l-0.5 4.2M535.4 491.9l-0.4 4.0M536.9 491.6l-0.3 4.1M554.6 491.2l0.8 4.7M596.1 491.7l1.0 4.3M600.3 491.5l0.7 3.9M616.0 491.2l-0.1 5.0M621.0 490.8l-0.4 5.0M622.8 491.6l-0.5 4.5M641.3 492.3l-1.1 3.6M643.3 491.7l-1.3 4.3M645.2 491.9l-1.2 3.9M649.3 491.8l-1.1 3.5M697.5 490.9l0.7 5.1M760.9 491.1l-0.1 5.2M774.9 491.5l-0.7 3.7M797.0 491.5l-1.5 4.6M799.3 491.6l-1.6 5.0M806.2 491.4l-1.2 4.1M808.2 491.0l-1.4 5.1M829.3 491.5l-0.1 5.1M833.9 491.3l0.2 4.8M532.5 493.9l-0.5 3.9M536.9 493.8l-0.3 4.6M538.9 494.5l-0.1 4.1M553.7 494.1l0.7 4.1M555.8 493.9l1.0 5.2M569.0 494.0l1.1 3.8M574.0 494.2l1.4 4.2M575.9 494.2l1.1 3.5M580.2 493.9l1.4 4.4M611.5 494.5l0.1 3.7M622.5 494.5l-0.5 4.0M656.3 494.4l-1.3 4.3M686.6 494.0l0.1 4.2M690.9 493.4l0.4 5.0M749.7 493.6l0.5 5.0M761.7 493.7l-0.3 5.0M763.7 494.4l-0.3 3.8M779.9 493.5l-1.3 4.9M785.8 494.2l-1.4 4.5M812.9 494.1l-1.1 5.1M818.5 494.6l-0.6 3.7M551.7 496.5l0.8 4.8M575.5 496.4l1.5 4.7M614.3 496.0l-0.2 5.1M623.0 496.3l-0.7 4.9M631.7 496.8l-1.0 4.1M634.6 496.4l-1.2 4.5M643.1 496.2l-1.6 5.1M647.3 496.8l-1.4 4.2M673.5 496.2l-0.7 5.0M678.1 496.4l-0.4 4.5M680.5 496.0l-0.3 5.3M743.6 496.5l0.7 4.2M754.4 497.0l0.1 3.8M774.9 496.3l-1.0 4.5M801.7 496.6l-1.2 4.0M805.9 497.1l-1.0 3.5M822.8 496.6l-0.4 4.7M565.1 499.0l1.5 5.0M569.6 499.5l1.5 4.6M602.2 499.9l0.4 3.9M612.1 499.3l-0.1 4.2M625.7 499.5l-0.8 4.3M648.0 499.8l-1.3 3.9M656.9 499.1l-1.5 5.0M663.4 499.0l-1.3 5.2M664.8 499.3l-1.1 5.0M784.1 498.7l-1.5 5.0M794.8 499.2l-1.6 4.8M808.2 499.8l-1.0 4.2M812.0 499.1l-0.9 4.6M534.5 501.7l-0.1 4.2M536.5 501.8l0.0 5.3M543.5 501.6l0.5 5.1M556.5 501.7l1.2 4.7M580.3 502.2l1.1 3.5M584.8 502.1l1.3 4.7M620.9 502.1l-0.6 4.0M622.6 502.6l-0.7 3.7M641.5 501.8l-1.6 5.0M644.8 502.1l-1.2 3.7M652.0 501.8l-1.4 4.5M656.6 501.9l-1.1 4.0M658.3 501.9l-1.1 4.0M686.5 502.1l0.3 4.4M772.9 501.6l-1.2 5.2M783.7 501.4l-1.5 4.9M802.0 501.7l-1.2 4.2M807.7 501.6l-1.1 5.0" stroke="#00dcff" stroke-width="0.8" fill="none" stroke-linecap="round"/>
<path d="M685.3 415.6l6.7 0.2M713.5 415.9l-6.0 -0.2M681.3 418.1l6.6 0.2M700.9 418.0l-6.5 -0.2M687.1 420.6l8.0 1.0M707.7 421.4l-7.6 -0.9M708.9 421.5l-5.4 -0.6M714.3 421.5l-6.3 -0.8M686.0 423.1l5.6 0.7M720.5 423.8l-5.5 -0.7M674.3 439.9l-1.3 4.3M687.6 439.3l-1.4 4.6M698.5 439.9l-1.0 4.4M665.3 441.8l-1.2 4.7M674.0 441.7l-1.6 5.0M687.3 442.2l-1.2 3.8M711.2 442.8l-0.2 3.8M712.6 442.5l-0.2 4.3M717.7 441.8l0.1 4.6M728.2 442.4l0.8 4.4M651.7 444.8l-0.7 5.0M654.1 444.6l-0.6 3.9M678.7 444.4l-1.6 4.9M680.3 445.3l-1.2 3.8M686.8 444.4l-1.3 4.2M709.1 444.2l-0.4 5.3M730.4 444.7l0.9 4.3M732.1 445.1l0.9 3.7M635.3 447.3l0.3 4.4M654.0 447.7l-0.7 3.7M658.8 447.3l-1.0 4.5M663.1 446.9l-1.2 4.5M674.0 447.6l-1.4 4.4M680.2 447.3l-1.6 5.1M687.2 447.8l-1.1 3.9M702.5 446.7l-0.7 5.2M710.8 447.4l-0.1 5.1M745.1 447.4l1.1 3.5M626.6 450.2l0.6 3.7M631.7 450.2l0.3 3.8M645.2 449.4l-0.5 5.3M651.7 450.5l-0.6 3.8M662.5 450.3l-1.1 4.1M706.1 449.7l-0.3 5.1M751.9 450.3l1.2 3.7M758.2 450.3l1.1 3.9M622.0 454.7l0.9 5.2M758.2 455.1l1.0 3.9M772.4 457.3l0.4 5.2M608.5 460.8l1.1 4.0M610.7 460.3l1.1 4.4M615.4 460.1l1.1 5.2M604.2 463.2l1.3 4.6M611.0 462.9l0.9 3.8M859.6 463.1l0.7 4.6M613.8 465.5l0.9 4.5M776.9 464.9l-0.2 5.0M781.1 464.8l-0.5 5.2M853.2 464.8l0.5 5.2M875.1 465.8l1.4 4.4M541.5 471.0l-0.6 3.7M549.9 471.1l-0.2 3.8M560.6 470.5l0.4 4.7M563.2 470.7l0.5 3.8M567.7 470.9l0.8 4.5M595.2 470.1l1.6 5.1M802.1 470.6l-1.6 5.1M819.4 470.8l-1.1 4.0M827.3 470.9l-0.9 4.2M842.7 470.9l-0.0 4.0M851.4 470.7l0.5 4.8M853.8 471.0l0.6 4.1M861.9 470.4l1.2 5.1M874.6 470.8l1.3 4.1M537.3 473.2l-0.9 4.5M547.7 473.4l-0.3 4.3M801.4 473.3l-1.6 5.1M821.5 473.4l-1.1 4.5M825.4 473.3l-0.9 4.4M849.5 473.6l0.4 4.0M853.4 472.5l0.8 5.3M866.7 476.1l1.3 4.3M872.8 476.0l1.3 4.0M712.2 486.1l1.1 4.1M848.4 486.2l1.0 5.1M708.3 488.4l1.3 5.0M848.9 488.7l1.0 4.7M730.2 493.4l1.5 5.1M833.7 493.9l0.2 4.5M837.9 494.3l0.5 4.8M844.8 494.9l0.7 3.6M859.3 493.5l1.5 4.8M871.0 494.0l1.3 4.2M694.9 499.5l0.8 4.7M740.8 498.8l0.9 5.2M738.8 501.7l0.9 5.0M741.6 501.7l0.7 4.4" stroke="#00f0dc" stroke-width="0.8" fill="none" stroke-linecap="round"/>
<path d="M626.4 457.7l0.4 4.3M654.4 457.2l-1.1 4.7M656.0 457.4l-1.3 5.1M664.7 457.8l-1.3 4.3M673.6 457.9l-1.5 4.5M675.8 457.1l-1.5 4.8M697.3 458.0l-0.5 4.0M751.8 457.3l1.4 4.9M636.2 460.4l-0.2 3.6M667.5 461.0l-1.2 3.6M673.9 460.1l-1.3 4.0M680.1 460.3l-1.3 4.4M687.2 460.1l-1.0 4.6M717.2 460.1l0.8 5.0M741.2 460.2l1.4 4.3M747.0 460.3l1.5 4.7M642.6 462.6l-0.8 5.3M665.0 462.9l-1.6 5.0M673.8 463.2l-1.2 3.8M680.9 462.6l-1.3 4.7M684.9 462.5l-1.2 5.0M687.1 463.0l-0.8 3.6M688.7 462.7l-0.9 4.4M745.5 462.3l1.5 4.9M756.9 463.0l1.0 4.4M633.7 465.6l-0.2 3.7M667.7 465.9l-1.2 3.6M675.8 465.4l-1.3 4.4M678.1 465.6l-1.3 4.6M685.0 465.4l-0.9 4.0M732.2 466.1l1.2 3.8M738.8 465.6l1.5 4.8M753.9 465.5l1.1 4.4M687.0 470.6l-0.7 4.4M708.0 470.1l0.6 5.1M727.3 470.9l1.1 3.6M729.7 471.1l1.2 3.9M731.9 471.2l1.2 3.7M738.5 470.8l1.2 3.7M741.0 470.6l1.5 4.8M745.5 470.7l1.4 5.0M749.5 470.4l1.1 4.1M633.5 473.4l-0.4 4.1M636.3 472.8l-0.7 5.0M641.0 473.5l-0.8 4.0M642.6 473.0l-1.0 4.5M647.7 473.4l-1.0 3.7M689.3 472.9l-0.6 5.3M695.2 473.7l-0.1 4.2M697.5 473.7l0.0 3.7M741.1 473.1l1.4 4.6M551.9 475.7l0.0 4.9M569.7 475.8l1.0 4.3M573.6 475.8l1.0 3.8M600.0 475.9l1.2 4.5M615.6 476.3l0.4 3.8M641.2 475.5l-1.0 4.6M644.9 475.5l-1.3 5.0M708.3 475.6l0.8 4.9M738.6 475.5l1.4 4.6M740.4 476.1l1.3 4.4M742.8 475.9l1.1 3.8M807.9 476.3l-1.4 4.3M818.9 476.0l-1.1 4.1M821.4 476.1l-1.0 4.1M541.3 478.9l-0.5 4.3M554.6 478.6l0.3 4.9M558.3 478.5l0.5 4.3M565.2 478.6l0.8 4.0M598.1 479.1l1.0 3.6M600.2 478.6l1.0 3.8M607.4 478.6l0.7 3.7M625.4 477.8l-0.2 5.2M631.4 477.8l-0.6 5.2M634.0 477.8l-0.8 5.1M636.4 478.6l-0.8 4.2M710.5 478.7l0.9 4.2M721.5 478.3l1.3 4.3M727.3 478.7l1.4 4.4M734.1 478.3l1.4 4.2M763.7 478.5l0.2 5.1M765.4 478.5l0.1 4.9M768.1 478.9l-0.1 4.5M776.7 477.8l-0.7 5.1M810.7 478.6l-1.2 3.8M812.0 478.8l-1.1 3.5M814.4 478.7l-1.3 4.4M817.2 478.8l-1.2 4.4M819.3 479.0l-0.9 3.8M827.9 478.7l-0.5 3.6M541.4 480.7l-0.5 5.0M607.0 481.0l0.7 4.1M611.2 481.3l0.5 4.5M638.2 481.5l-0.9 4.4M730.1 481.2l1.2 3.8M732.5 481.9l1.1 3.5M733.9 481.6l1.1 3.6M736.2 481.2l1.5 5.0M766.0 481.2l-0.0 3.9M772.8 481.0l-0.5 4.9M779.5 480.7l-0.8 4.4M781.1 481.1l-0.7 3.6M806.1 480.5l-1.6 4.9M611.6 483.6l0.5 5.3M632.2 483.8l-0.8 4.9M709.7 483.8l1.2 5.0M819.1 483.9l-1.0 4.6M830.0 484.4l-0.3 3.7M536.7 486.4l-0.5 4.0M548.3 485.8l0.2 4.9M552.6 486.2l0.4 3.8M604.3 486.3l0.8 5.0M630.1 486.9l-0.6 3.9M647.7 486.2l-1.4 4.5M699.8 486.6l0.6 4.6M706.0 486.3l0.8 3.8M739.2 486.9l1.0 3.9M743.6 486.8l0.9 4.1M745.0 485.8l1.1 5.0M747.5 486.4l0.8 4.3M787.9 486.5l-1.3 4.7M808.3 486.0l-1.3 4.2M814.2 487.0l-0.9 3.6M816.6 486.5l-1.0 4.4M827.2 486.6l-0.4 4.5M534.7 488.9l-0.5 4.0M536.9 488.6l-0.5 4.7M577.8 489.3l1.2 3.7M615.9 488.8l0.0 5.3M618.6 488.9l-0.2 5.0M620.8 488.2l-0.3 5.4M634.4 488.6l-1.1 5.1M642.6 488.8l-1.1 3.9M652.2 489.0l-1.4 4.4M688.4 488.8l-0.0 3.9M690.8 488.1l0.2 5.2M739.0 488.8l1.0 3.8M750.3 489.0l0.6 4.3M752.1 488.7l0.6 5.0M761.1 488.5l-0.0 4.9M765.9 489.0l-0.3 4.5M790.7 489.2l-1.1 3.4M799.4 489.6l-1.2 3.6M808.3 489.6l-1.0 3.5M816.8 488.6l-1.1 5.0M818.8 489.0l-0.9 4.8M543.0 491.9l0.0 3.9M558.2 490.7l1.1 5.3M565.1 491.8l1.2 4.2M573.9 491.1l1.5 4.6M577.8 492.0l1.4 4.2M602.8 491.3l0.8 5.3M607.5 491.5l0.4 4.7M608.9 491.8l0.3 3.8M611.3 491.0l0.2 4.5M647.4 491.5l-1.3 4.0M654.4 491.9l-1.3 4.2M662.7 491.6l-1.1 4.0M669.6 491.2l-1.0 4.5M688.3 491.6l0.1 4.1M757.2 491.5l0.1 4.7M768.7 491.1l-0.6 5.1M772.1 491.6l-0.7 4.1M776.9 491.6l-0.9 4.0M812.1 491.0l-1.1 4.6M823.3 491.2l-0.6 5.3M543.3 494.4l0.1 4.0M618.7 494.4l-0.3 3.7M629.6 494.0l-1.0 5.0M634.1 494.3l-1.1 4.4M636.7 493.9l-1.2 4.3M649.7 493.5l-1.6 5.0M658.6 494.6l-1.2 3.9M664.6 494.8l-0.9 3.7M671.2 493.6l-0.9 4.7M675.7 494.4l-0.5 3.8M743.5 494.0l0.9 4.8M745.5 494.3l0.6 3.9M768.4 494.7l-0.5 3.7M801.9 493.9l-1.4 4.4M554.3 496.4l0.9 4.4M558.2 496.3l1.1 4.5M582.0 496.4l1.5 4.8M688.3 496.1l0.3 5.0M772.4 496.5l-0.8 4.2M814.3 496.5l-0.9 4.7M574.0 499.6l1.4 4.3M578.0 499.2l1.3 4.2M580.1 499.1l1.4 4.5M590.8 498.8l1.2 5.1M597.7 499.3l0.7 4.1M649.4 499.2l-1.4 4.4M673.4 499.0l-0.6 5.1M676.0 499.3l-0.4 5.1M684.6 499.3l0.1 4.1M686.2 500.0l0.2 3.8M752.0 499.2l0.2 4.1M757.5 499.2l-0.2 4.9M779.2 499.2l-1.4 4.9M551.6 501.7l0.8 4.0M573.5 501.4l1.6 5.0M602.7 501.8l0.3 4.1M680.2 501.6l-0.0 5.4M752.5 501.9l0.0 3.9M762.0 501.5l-0.6 5.0M785.7 502.0l-1.2 3.8" stroke="#00c8ff" stroke-width="0.8" fill="none" stroke-linecap="round"/>
<path d="M656.2 463.2l-1.2 4.2M674.2 465.6l-1.5 4.9M686.6 465.6l-0.7 3.6M695.4 465.3l-0.4 4.1M743.3 465.5l1.4 4.5M645.3 470.3l-1.2 5.3M689.4 470.5l-0.6 4.9M697.8 470.2l-0.1 4.9M743.3 470.4l1.5 5.1M663.3 473.7l-1.2 3.5M679.8 473.5l-0.8 3.6M682.3 473.2l-0.8 4.0M701.9 473.3l0.3 4.2M738.9 473.7l1.3 4.3M744.9 473.3l1.4 5.1M749.6 473.6l0.9 4.0M754.4 472.7l1.0 5.2M607.1 475.8l0.9 4.4M699.3 475.6l0.2 4.3M754.2 476.3l0.7 4.1M763.7 476.3l0.2 4.2M549.8 478.2l0.0 5.4M609.1 478.6l0.7 4.2M690.9 478.3l-0.2 5.1M708.1 478.6l0.9 4.7M731.9 478.4l1.5 4.7M741.4 478.9l1.1 3.9M743.3 478.9l1.0 3.6M802.0 478.5l-1.4 4.4M806.4 478.2l-1.6 4.9M821.3 478.9l-0.9 4.0M552.4 481.3l0.2 3.8M571.1 481.1l1.0 3.6M600.5 481.2l1.2 5.0M694.8 480.9l0.2 5.2M701.5 481.0l0.6 5.2M744.9 481.4l1.1 4.6M801.8 481.6l-1.1 3.4M812.5 481.3l-1.3 4.4M816.8 481.3l-0.9 3.6M819.4 481.7l-0.9 3.8M554.6 485.9l0.6 4.5M556.5 486.2l0.7 4.4M558.7 485.8l0.8 4.6M573.4 486.4l1.3 4.1M578.2 486.2l1.4 4.4M580.0 486.9l1.1 3.5M584.2 486.7l1.3 4.0M590.9 486.5l1.2 4.1M595.9 487.0l1.0 3.8M597.9 486.2l1.1 4.8M602.1 486.3l0.9 4.4M606.6 486.9l0.5 3.7M636.2 486.6l-0.9 3.8M669.8 486.8l-0.9 3.7M675.9 486.1l-0.8 4.3M768.1 486.7l-0.4 4.3M809.8 486.6l-1.2 4.0M554.4 488.4l0.7 4.9M556.0 489.2l0.6 3.6M558.7 488.3l1.0 5.0M564.8 489.7l0.9 3.5M573.9 489.2l1.3 4.1M584.8 488.7l1.4 4.3M586.7 489.2l1.4 4.5M589.3 488.8l1.2 4.0M663.1 489.0l-1.0 3.6M667.5 489.0l-1.1 4.2M669.7 489.0l-1.1 4.8M673.8 489.3l-0.7 3.9M676.0 489.5l-0.6 3.9M680.2 488.5l-0.5 4.5M682.0 489.0l-0.4 3.9M692.5 488.6l0.2 4.4M695.3 489.0l0.4 4.5M756.9 489.1l0.2 4.5M758.8 488.3l0.1 5.0M812.2 488.7l-1.1 4.1M820.7 489.1l-0.6 3.9M556.3 491.2l0.9 4.6M563.0 490.9l1.3 5.2M566.8 491.4l1.3 4.7M569.6 491.5l1.1 3.7M588.7 491.3l1.3 4.6M591.6 490.9l1.3 4.9M651.5 491.8l-1.4 4.4M658.9 492.0l-1.1 3.5M664.7 492.1l-1.0 3.7M667.5 491.4l-1.2 5.0M674.1 491.5l-0.8 4.6M679.7 491.7l-0.4 4.5M686.3 490.7l-0.1 5.4M745.9 491.7l0.7 3.9M810.4 491.2l-1.1 4.3M814.2 491.2l-1.1 5.0M816.8 491.5l-1.0 5.2M818.9 491.1l-0.9 5.1M586.6 494.1l1.5 5.1M588.8 494.3l1.0 3.5M591.3 493.6l1.3 4.9M597.9 493.4l1.0 5.0M641.3 494.3l-1.4 4.6M645.4 494.1l-1.5 4.8M652.3 493.9l-1.4 4.3M654.1 493.4l-1.6 5.1M684.6 494.0l-0.1 4.7M688.3 493.9l0.2 5.2M754.5 494.5l0.2 4.1M756.9 494.0l0.1 3.9M765.5 494.2l-0.4 3.9M665.0 496.7l-1.0 4.3" stroke="#00b4ff" stroke-width="0.8" fill="none" stroke-linecap="round"/>
<path d="M667.9 470.3l-1.6 4.9M669.3 471.1l-1.2 3.7M684.6 470.7l-0.7 3.9M690.7 470.8l-0.5 4.0M752.0 470.7l1.0 4.3M756.1 471.1l0.8 4.3M664.9 473.4l-1.4 4.2M673.9 473.7l-1.0 3.7M691.3 473.6l-0.3 3.7M700.0 472.9l0.2 4.6M756.1 473.4l0.6 3.6M669.3 475.9l-1.2 3.9M676.3 475.2l-1.3 5.0M695.8 475.8l-0.0 4.0M745.6 475.9l1.3 5.0M751.7 476.3l0.7 3.6M556.6 478.7l0.4 4.2M562.5 478.8l0.6 3.8M569.5 478.7l1.2 4.7M580.6 478.9l1.4 4.3M591.1 478.9l1.2 4.0M642.7 478.2l-1.2 4.7M645.4 479.0l-1.1 4.0M665.5 478.9l-1.2 3.9M667.2 478.3l-1.5 4.9M669.4 478.4l-1.1 3.9M673.3 478.5l-1.0 3.9M684.3 478.8l-0.6 4.4M749.4 478.4l1.0 4.9M757.1 479.1l0.5 3.7M554.5 480.8l0.4 4.9M556.1 480.7l0.6 5.2M562.7 481.0l0.7 3.9M564.8 481.7l0.8 3.8M566.8 481.5l1.0 4.3M597.8 481.2l1.2 4.6M602.8 481.0l0.9 4.1M640.7 481.4l-1.0 4.0M643.3 481.6l-1.1 4.2M651.8 480.8l-1.3 4.2M660.4 481.2l-1.2 3.8M664.7 481.3l-1.3 4.2M669.7 481.4l-1.0 3.8M673.6 481.1l-1.1 4.6M675.8 481.1l-0.9 4.1M680.3 481.1l-0.8 4.5M686.9 481.3l-0.4 4.6M688.4 481.0l-0.3 5.1M697.3 480.8l0.3 4.5M738.4 481.4l1.0 3.5M754.5 481.0l0.6 4.3M763.6 481.0l0.1 4.9M808.1 481.0l-1.6 5.1M810.2 480.9l-1.5 5.0M564.8 484.2l0.9 4.0M743.0 484.0l1.1 4.5M563.1 486.4l1.0 4.2M569.7 486.8l1.0 3.6M589.1 486.8l1.1 3.6M645.1 486.6l-1.0 3.5M654.3 486.4l-1.5 4.5M658.5 486.4l-1.4 4.5M662.8 486.3l-1.3 4.2M665.3 486.6l-1.2 4.1M677.6 486.9l-0.6 4.0M680.4 486.7l-0.5 4.2M686.3 486.9l-0.2 3.8M688.9 486.6l-0.1 3.7M754.5 485.7l0.5 5.2M756.6 486.7l0.3 3.8M812.4 486.3l-1.3 4.9M566.7 488.7l1.2 4.3M595.4 488.8l1.3 5.2M654.1 489.0l-1.4 4.3M658.3 489.3l-1.3 4.0M664.8 488.7l-1.1 4.1M671.2 489.6l-0.8 3.8M678.5 488.6l-0.7 4.9M684.8 488.9l-0.2 4.5M584.9 491.8l1.2 3.9M656.5 492.0l-1.1 3.5M749.9 491.3l0.5 4.3" stroke="#00a0ff" stroke-width="0.8" fill="none" stroke-linecap="round"/>
<path d="M662.7 476.5l-1.2 3.6M679.9 475.9l-0.8 3.6M686.5 476.4l-0.5 3.9M688.5 475.8l-0.5 5.1M691.0 476.0l-0.3 3.8M749.5 476.7l0.8 3.5M663.2 479.2l-1.2 3.8M675.9 478.6l-1.1 4.8M680.0 478.2l-0.9 4.7M682.0 478.9l-0.6 3.6M695.3 478.2l0.0 4.3M754.0 478.9l0.7 4.3M573.2 480.9l1.3 4.5M575.9 481.3l1.2 4.0M577.6 480.7l1.4 4.6M587.2 481.5l1.2 3.8M593.1 480.5l1.5 5.0M752.0 480.4l0.9 5.1M758.6 481.1l0.4 5.0M676.2 483.7l-1.0 5.1M684.0 485.8l-0.4 5.1" stroke="#008cff" stroke-width="0.8" fill="none" stroke-linecap="round"/>
<path d="M591.7 481.2l1.3 4.1M662.8 480.7l-1.5 4.7M667.6 480.8l-1.4 4.9" stroke="#0078ff" stroke-width="0.8" fill="none" stroke-linecap="round"/>
<rect x="575" y="468.5" width="15" height="12.5" rx="3" fill="#ffffff" stroke="#e8d890" stroke-width="0.7"/>
<rect x="580.5" y="465.5" width="4" height="2.5" fill="#c04040"/>
<rect x="647.8" y="467.4" width="14.200000000000045" height="13.600000000000023" rx="3" fill="#ffffff" stroke="#e8d890" stroke-width="0.7"/>
<rect x="652.9" y="464.4" width="4" height="2.5" fill="#c04040"/>
<rect x="710.5" y="467" width="15.200000000000045" height="13" rx="3" fill="#ffffff" stroke="#e8d890" stroke-width="0.7"/>
<rect x="716.1" y="464" width="4" height="2.5" fill="#c04040"/>
<rect x="783.5" y="469" width="14.200000000000045" height="11" rx="3" fill="#ffffff" stroke="#e8d890" stroke-width="0.7"/>
<rect x="788.6" y="466" width="4" height="2.5" fill="#c04040"/>
<rect x="591" y="470" width="44" height="30" fill="none" stroke="#70d070" stroke-width="0.6"/>
<line x1="591" y1="477.5" x2="635" y2="477.5" stroke="#90d890" stroke-width="0.4"/>
<line x1="591" y1="485.0" x2="635" y2="485.0" stroke="#90d890" stroke-width="0.4"/>
<line x1="591" y1="492.5" x2="635" y2="492.5" stroke="#90d890" stroke-width="0.4"/>
<rect x="738" y="470" width="42" height="30" fill="none" stroke="#70d070" stroke-width="0.6"/>
<line x1="738" y1="477.5" x2="780" y2="477.5" stroke="#90d890" stroke-width="0.4"/>
<line x1="738" y1="485.0" x2="780" y2="485.0" stroke="#90d890" stroke-width="0.4"/>
<line x1="738" y1="492.5" x2="780" y2="492.5" stroke="#90d890" stroke-width="0.4"/>
<line x1="545" y1="481.5" x2="830" y2="481.5" stroke="#e8d8a0" stroke-width="1.2"/>
<line x1="548" y1="482" x2="548" y2="506" stroke="#e8e070" stroke-width="0.6"/>
<line x1="556" y1="482" x2="556" y2="506" stroke="#e8e070" stroke-width="0.6"/>
<line x1="566" y1="482" x2="566" y2="506" stroke="#e8e070" stroke-width="0.6"/>
<line x1="600" y1="482" x2="600" y2="506" stroke="#e8e070" stroke-width="0.6"/>
<line x1="612" y1="482" x2="612" y2="506" stroke="#e8e070" stroke-width="0.6"/>
<line x1="672" y1="482" x2="672" y2="506" stroke="#e8e070" stroke-width="0.6"/>
<line x1="680" y1="482" x2="680" y2="506" stroke="#e8e070" stroke-width="0.6"/>
<line x1="690" y1="482" x2="690" y2="506" stroke="#e8e070" stroke-width="0.6"/>
<line x1="700" y1="482" x2="700" y2="506" stroke="#e8e070" stroke-width="0.6"/>
<line x1="735" y1="482" x2="735" y2="506" stroke="#e8e070" stroke-width="0.6"/>
<line x1="742" y1="482" x2="742" y2="506" stroke="#e8e070" stroke-width="0.6"/>
<line x1="752" y1="482" x2="752" y2="506" stroke="#e8e070" stroke-width="0.6"/>
<line x1="806" y1="482" x2="806" y2="506" stroke="#e8e070" stroke-width="0.6"/>
<line x1="812" y1="482" x2="812" y2="506" stroke="#e8e070" stroke-width="0.6"/>
<line x1="822" y1="482" x2="822" y2="506" stroke="#e8e070" stroke-width="0.6"/>
<line x1="464.6" y1="408" x2="464.6" y2="508.5" stroke="#50508a" stroke-width="1.2"/>
<line x1="464.6" y1="505" x2="464.6" y2="512.5" stroke="#40c040" stroke-width="1"/>
<line x1="460.8" y1="508.4" x2="880" y2="508.4" stroke="#8a8aa8" stroke-width="1"/>
<line x1="880" y1="408.5" x2="880" y2="508" stroke="#d8d8e0" stroke-width="0.6"/>
<rect x="882.2" y="408" width="16.59999999999991" height="102.39999999999998" fill="url(#lg)"/>
<line x1="898.8" y1="408.00" x2="904.5" y2="408.00" stroke="#606060" stroke-width="0.9"/>
<text x="907.4" y="410.20" font-size="5.9" font-weight="bold" fill="#1a1a1a" stroke="#1a1a1a" stroke-width="0.2" textLength="23.6" lengthAdjust="spacingAndGlyphs">0.500000</text>
<line x1="882.2" y1="420.80" x2="898.8" y2="420.80" stroke="#000" stroke-opacity="0.55" stroke-width="0.9"/>
<line x1="898.8" y1="420.80" x2="904.5" y2="420.80" stroke="#606060" stroke-width="0.9"/>
<text x="907.4" y="423.00" font-size="5.9" font-weight="bold" fill="#1a1a1a" stroke="#1a1a1a" stroke-width="0.2" textLength="23.6" lengthAdjust="spacingAndGlyphs">0.437500</text>
<line x1="882.2" y1="433.60" x2="898.8" y2="433.60" stroke="#000" stroke-opacity="0.55" stroke-width="0.9"/>
<line x1="898.8" y1="433.60" x2="904.5" y2="433.60" stroke="#606060" stroke-width="0.9"/>
<text x="907.4" y="435.80" font-size="5.9" font-weight="bold" fill="#1a1a1a" stroke="#1a1a1a" stroke-width="0.2" textLength="23.6" lengthAdjust="spacingAndGlyphs">0.375000</text>
<line x1="882.2" y1="446.40" x2="898.8" y2="446.40" stroke="#000" stroke-opacity="0.55" stroke-width="0.9"/>
<line x1="898.8" y1="446.40" x2="904.5" y2="446.40" stroke="#606060" stroke-width="0.9"/>
<text x="907.4" y="448.60" font-size="5.9" font-weight="bold" fill="#1a1a1a" stroke="#1a1a1a" stroke-width="0.2" textLength="23.6" lengthAdjust="spacingAndGlyphs">0.312500</text>
<line x1="882.2" y1="459.20" x2="898.8" y2="459.20" stroke="#000" stroke-opacity="0.55" stroke-width="0.9"/>
<line x1="898.8" y1="459.20" x2="904.5" y2="459.20" stroke="#606060" stroke-width="0.9"/>
<text x="907.4" y="461.40" font-size="5.9" font-weight="bold" fill="#1a1a1a" stroke="#1a1a1a" stroke-width="0.2" textLength="23.6" lengthAdjust="spacingAndGlyphs">0.250000</text>
<line x1="882.2" y1="472.00" x2="898.8" y2="472.00" stroke="#000" stroke-opacity="0.55" stroke-width="0.9"/>
<line x1="898.8" y1="472.00" x2="904.5" y2="472.00" stroke="#606060" stroke-width="0.9"/>
<text x="907.4" y="474.20" font-size="5.9" font-weight="bold" fill="#1a1a1a" stroke="#1a1a1a" stroke-width="0.2" textLength="23.6" lengthAdjust="spacingAndGlyphs">0.187500</text>
<line x1="882.2" y1="484.80" x2="898.8" y2="484.80" stroke="#000" stroke-opacity="0.55" stroke-width="0.9"/>
<line x1="898.8" y1="484.80" x2="904.5" y2="484.80" stroke="#606060" stroke-width="0.9"/>
<text x="907.4" y="487.00" font-size="5.9" font-weight="bold" fill="#1a1a1a" stroke="#1a1a1a" stroke-width="0.2" textLength="23.6" lengthAdjust="spacingAndGlyphs">0.125000</text>
<line x1="882.2" y1="497.60" x2="898.8" y2="497.60" stroke="#000" stroke-opacity="0.55" stroke-width="0.9"/>
<line x1="898.8" y1="497.60" x2="904.5" y2="497.60" stroke="#606060" stroke-width="0.9"/>
<text x="907.4" y="499.80" font-size="5.9" font-weight="bold" fill="#1a1a1a" stroke="#1a1a1a" stroke-width="0.2" textLength="26.6" lengthAdjust="spacingAndGlyphs">0.0625000</text>
<line x1="898.8" y1="510.40" x2="904.5" y2="510.40" stroke="#606060" stroke-width="0.9"/>
<text x="907.4" y="512.60" font-size="5.9" font-weight="bold" fill="#1a1a1a" stroke="#1a1a1a" stroke-width="0.2" textLength="23.6" lengthAdjust="spacingAndGlyphs">0.000000</text>
<text x="882.4" y="398.8" font-size="5.61" font-weight="bold" fill="#222" textLength="20.5" lengthAdjust="spacingAndGlyphs">Velocity</text>
<text x="885.9" y="403.9" font-size="5.61" font-weight="bold" fill="#222" textLength="8.8" lengthAdjust="spacingAndGlyphs">m/s</text>
<path d="M544.3 584.0l-6.4 -0.2M547.8 584.0l-6.3 -0.2M559.6 583.6l-7.0 -0.3M564.2 583.9l-7.4 -0.3M569.3 583.5l-8.1 -0.3M603.2 583.3l7.0 0.3M689.4 584.0l-7.1 -0.3M691.5 583.4l-6.8 -0.2M718.7 580.8l4.3 5.0M721.8 583.7l7.2 0.3M731.2 583.3l-6.2 -0.2M732.0 581.0l-3.8 4.4M771.0 583.4l-7.3 -0.3M555.0 586.2l-7.4 -0.3M557.4 586.1l-7.3 -0.3M565.8 586.6l-6.4 -0.2M574.7 586.3l-5.5 -0.2M598.2 585.9l8.0 0.3M602.9 586.1l7.5 0.3M606.1 586.1l5.5 0.2M612.6 583.8l-3.8 4.4M679.7 583.4l4.5 5.3M691.7 586.3l-8.1 -0.3M716.0 582.6l5.1 6.9M719.8 586.3l6.5 0.2M729.1 586.1l-6.8 -0.2M732.1 584.1l-3.9 4.4M499.4 588.6l-5.7 -0.2M513.7 588.4l-7.7 -0.3M563.3 588.6l-6.5 -0.2M572.9 589.0l-6.8 -0.2M575.3 588.9l-6.8 -0.2M597.4 586.2l4.4 5.7M600.3 588.7l7.8 0.3M604.6 588.4l7.9 0.3M613.2 585.8l-4.7 5.4M692.7 585.4l-4.9 6.0M714.9 585.6l4.1 6.2M718.5 588.8l5.8 0.2M734.5 585.7l-4.6 6.0M759.0 588.5l6.7 0.2M561.7 592.1l-6.0 -0.7M570.4 591.5l-6.3 -0.8M572.8 591.9l-7.2 -0.9M601.1 590.9l7.1 0.8M606.2 591.1l5.9 0.7M615.2 588.8l-4.3 5.4M677.6 588.3l4.2 5.7M691.5 591.9l-6.8 -0.8M718.1 588.2l5.5 6.3M732.6 591.9l-5.6 -0.7M734.8 587.6l-5.0 6.6M816.8 590.8l5.9 0.7M557.1 594.2l-5.5 -0.7M560.4 594.7l-7.6 -0.9M568.6 594.1l-7.0 -0.8M573.1 594.0l-7.0 -0.8M575.5 594.6l-7.0 -0.8M576.2 590.5l-4.9 6.0M677.1 591.1l3.6 5.1M679.5 591.2l4.8 5.6M688.7 594.5l-6.6 -0.8M694.0 591.1l-3.5 5.0M734.5 590.4l-5.2 6.8M812.3 593.8l7.7 0.9M556.6 594.2l-0.4 4.8M575.9 593.3l-5.2 6.2M595.9 593.9l3.5 5.4M686.0 594.1l0.6 5.3M687.9 593.8l0.5 5.1M715.2 594.4l3.2 4.9M734.2 593.0l-5.0 6.4M806.1 594.5l1.2 3.9M808.2 594.6l1.2 4.0M565.5 597.0l-0.8 4.0M578.0 596.6l-3.4 5.2M596.4 596.8l3.3 4.8M604.5 597.1l-0.8 3.7M679.1 596.5l4.4 5.4M685.5 597.3l0.4 4.4M693.3 595.9l-5.3 6.8M694.3 596.0l-3.9 5.6M696.0 596.2l-3.1 5.3M712.7 596.1l3.1 6.1M734.7 595.6l-5.2 6.8M739.8 595.6l-3.2 7.5M758.6 595.7l5.0 6.1M811.1 596.8l1.1 3.9M554.3 602.2l8.3 -0.4M556.5 601.9l7.7 -0.3M567.9 601.3l7.7 0.3M595.1 601.7l5.9 -0.2M597.9 601.8l8.1 -0.4M600.6 602.1l8.4 -0.6M605.5 601.7l7.3 -0.5M613.5 601.9l8.5 -0.3M676.0 601.3l6.5 0.0M677.6 601.5l7.1 0.1M680.4 601.7l7.0 0.3M708.7 597.5l2.2 8.4M710.9 599.1l2.2 5.7M711.9 601.8l6.0 -0.3M731.2 601.4l6.8 -0.0M759.5 601.4l6.6 0.0M761.6 601.5l6.1 -0.1M801.7 599.1l1.5 4.6M574.6 604.4l6.2 0.4M594.8 604.1l6.3 -0.2M596.9 604.5l6.6 -0.3M601.7 604.1l6.5 -0.4M603.6 604.6l6.1 -0.4M609.2 604.9l7.6 -0.5M612.0 604.8l7.3 -0.3M680.3 604.0l6.9 0.3M688.4 603.7l7.6 0.5M707.0 600.3l1.1 7.9M708.8 600.7l1.7 6.7M757.0 604.3l7.2 0.2M806.3 602.0l1.2 3.9M552.4 607.1l7.8 -0.5M574.4 606.7l7.0 0.5M583.6 603.2l-2.1 7.8M647.3 606.7l7.2 -0.0M671.5 606.7l7.8 -0.2M673.2 606.9l8.1 -0.1M702.1 602.7l-1.6 8.1M742.2 603.1l-1.9 7.1M756.7 607.2l7.7 0.2M763.9 606.7l7.1 -0.2M587.3 605.7l0.2 7.8M588.8 606.1l1.1 7.3M591.7 605.9l2.7 7.2M615.4 609.5l8.2 -0.2M623.2 606.6l-2.7 6.1M631.5 606.3l-0.5 7.0M642.9 606.6l2.7 6.1M646.8 609.4l7.4 -0.0M656.7 606.6l-3.2 6.4M669.8 606.4l1.6 5.7M671.1 605.4l2.9 7.6M745.6 606.4l-0.1 5.8M747.3 605.7l0.7 7.4M748.6 606.3l1.2 6.8M750.6 605.9l2.0 6.7M759.3 609.4l7.0 0.0M771.6 609.9l8.3 -0.6M794.9 609.3l6.0 0.3M627.4 608.1l-2.0 7.8M631.5 608.1l-0.5 7.8M634.6 608.3l0.5 6.9M651.6 611.9l6.4 -0.2M664.3 609.1l-0.3 6.7M668.0 608.6l1.1 6.3M772.4 612.6l7.8 -0.5M779.5 609.3l-2.9 6.0M783.3 608.6l-1.6 7.4M788.4 608.4l1.2 6.6M790.6 609.1l2.4 6.7M778.1 612.4l1.0 4.0M470.0 656.8l1.0 3.5M866.2 656.2l-0.7 5.3M510.2 658.6l0.2 5.0M523.7 658.9l-0.7 4.9M525.7 659.3l-0.8 5.0M841.2 658.8l-1.6 5.0M537.2 662.1l-1.1 3.7M826.7 662.6l-1.1 3.7M798.0 672.5l-0.2 3.7" stroke="#14f014" stroke-width="0.8" fill="none" stroke-linecap="round"/>
<path d="M546.9 583.3l-7.5 -0.3M572.3 583.5l-6.4 -0.2M606.2 583.0l6.1 0.2M817.0 583.3l6.8 0.2M597.9 582.8l4.8 5.9M680.4 586.0l5.7 0.2M689.2 586.6l-5.7 -0.2M692.9 582.6l-5.4 6.6M718.6 586.2l5.4 0.2M575.9 585.9l-4.8 5.8M598.9 588.7l6.2 0.7M615.8 585.3l-4.9 6.3M679.0 585.7l4.6 5.6M735.7 586.4l-3.2 4.9M758.4 585.5l4.8 5.9M597.5 587.8l5.3 6.6M689.2 591.6l-5.9 -0.7M694.1 588.4l-4.1 5.7M758.3 588.6l4.0 5.0M773.1 592.0l-6.9 -0.8M693.4 590.8l-5.2 6.7M602.7 594.5l-1.2 4.6M607.2 594.2l-1.1 5.2M615.6 594.2l-4.0 5.2M692.8 593.7l-5.1 6.2M810.7 594.6l1.2 3.9M813.3 593.7l1.4 5.0M593.9 596.4l2.9 5.8M597.9 596.1l4.3 5.4M698.5 595.7l-3.2 7.1M765.4 597.2l-0.0 4.4M796.3 596.3l4.3 5.6M592.8 598.8l2.3 5.5M612.7 602.1l6.3 -0.3M616.1 601.6l6.8 -0.1M672.8 601.7l8.4 -0.1M756.2 601.4l8.1 0.2M765.7 601.9l7.8 -0.3M599.5 604.8l6.5 -0.4M608.0 604.9l7.2 -0.5M617.2 604.5l6.3 -0.1M674.6 604.0l6.0 -0.0M676.2 604.4l6.9 0.1M705.5 600.3l0.3 7.4M732.1 604.3l8.0 0.1M740.0 600.8l-2.8 6.8M751.9 604.5l8.5 0.4M764.1 604.7l5.9 -0.2M587.0 604.0l-0.0 6.0M594.2 606.8l6.7 -0.2M614.5 606.9l6.4 -0.2M624.0 603.2l-2.9 7.1M642.2 606.7l7.5 0.2M671.2 603.1l2.6 7.0M700.4 602.7l-2.5 7.9M740.4 602.7l-2.9 7.6M751.4 604.4l1.9 5.5M752.5 606.8l7.5 0.4M762.5 606.5l5.9 -0.1M766.4 607.4l6.0 -0.3M590.2 605.3l2.1 8.0M666.1 606.1l0.4 6.4M743.3 606.2l-1.1 6.3M767.4 609.7l8.3 -0.5M629.7 607.7l-1.3 8.5M785.1 607.8l-0.6 8.0M469.3 659.3l1.5 4.8" stroke="#28f014" stroke-width="0.8" fill="none" stroke-linecap="round"/>
<path d="M552.5 583.5l-5.9 -0.2M571.3 583.6l-7.4 -0.3M575.1 583.7l-6.3 -0.2M599.4 583.0l6.0 0.2M601.2 583.2l5.9 0.2M543.3 585.9l-6.0 -0.2M545.7 586.3l-5.6 -0.2M548.6 586.1l-7.0 -0.3M553.6 585.9l-7.3 -0.3M560.0 586.1l-7.7 -0.3M564.3 585.9l-8.1 -0.3M567.1 586.4l-5.4 -0.2M569.8 586.1l-5.5 -0.2M572.6 586.2l-5.6 -0.2M600.9 585.8l7.4 0.3M474.1 588.7l-7.6 -0.3M487.0 588.4l-6.1 -0.2M541.7 588.6l-6.2 -0.2M543.5 588.9l-6.2 -0.2M546.1 589.5l-6.9 -0.8M550.4 589.0l-5.9 -0.2M552.7 588.5l-6.3 -0.2M555.2 589.1l-6.9 -0.2M557.4 588.7l-6.7 -0.2M561.3 589.4l-6.7 -0.8M603.8 588.4l5.4 0.2M691.9 588.9l-7.3 -0.3M731.0 588.8l-6.2 -0.2M824.4 588.7l5.6 0.7M863.5 588.3l5.6 0.2M528.9 591.7l-7.4 -0.9M547.8 591.9l-6.0 -0.7M552.4 591.7l-6.1 -0.7M555.8 591.9l-7.2 -0.9M557.5 591.9l-7.5 -0.9M565.3 591.6l-5.7 -0.7M575.3 591.5l-7.9 -1.0M576.1 588.0l-5.3 6.4M680.4 590.7l7.1 0.8M692.9 587.8l-5.3 6.5M719.7 590.5l7.2 0.9M722.1 590.8l6.4 0.8M731.2 591.7l-7.3 -0.9M823.2 591.1l7.0 0.8M550.5 594.3l-7.3 -0.9M553.4 594.6l-7.0 -0.8M563.7 594.4l-5.7 -0.7M597.6 591.4l4.0 5.2M598.3 593.5l7.5 0.9M601.7 593.4l5.9 0.7M605.4 593.7l6.7 0.8M681.4 593.8l5.4 0.7M813.8 593.2l7.6 0.9M819.1 593.8l5.7 0.7M543.0 593.8l0.5 5.2M550.0 594.2l0.0 4.4M554.2 594.4l-0.2 4.0M563.5 594.1l-0.8 5.1M565.0 594.1l-0.8 4.6M570.2 594.8l-0.9 3.9M571.9 594.6l-1.0 4.0M598.0 593.5l4.6 5.7M609.6 594.5l-0.8 4.8M679.3 594.0l4.2 5.1M683.4 594.4l0.6 4.2M694.3 593.1l-4.5 6.3M712.9 593.1l4.1 7.5M716.5 593.6l5.0 6.5M723.6 594.0l-1.4 4.5M736.5 593.1l-4.7 7.2M817.7 593.7l1.3 4.9M819.2 594.8l0.9 3.8M551.7 596.4l-0.1 4.7M554.0 597.0l-0.3 4.9M556.1 597.3l-0.4 4.1M570.2 597.0l-1.2 4.9M608.8 596.5l-0.8 4.8M677.4 596.4l4.0 5.6M683.8 597.0l0.5 4.3M687.7 596.8l0.4 4.5M714.2 595.5l4.2 6.8M717.5 596.5l3.6 4.6M553.0 602.0l6.0 -0.4M559.9 601.8l6.2 -0.1M560.9 601.3l8.2 -0.0M564.3 601.3l6.5 0.1M570.0 601.2l8.2 0.5M572.6 601.5l6.7 0.4M596.5 602.2l8.2 -0.4M603.4 602.3l7.0 -0.5M685.2 601.8l6.4 0.4M688.9 601.7l8.1 0.6M690.7 601.5l8.2 0.6M728.4 602.2l7.2 -0.2M808.9 599.8l1.2 4.1M812.4 599.5l1.2 4.4M548.6 604.2l7.0 -0.5M559.4 604.1l5.8 -0.1M565.0 604.4l8.2 0.2M606.3 604.6l5.8 -0.4M691.8 604.4l5.9 0.4M710.8 601.3l2.5 6.4M726.1 604.5l8.5 -0.3M731.7 604.1l6.1 -0.0M815.4 602.0l1.2 5.2M559.7 607.2l6.9 -0.1M563.4 607.1l8.1 0.1M571.9 606.5l7.5 0.5M592.8 606.6l6.5 -0.1M601.1 607.0l7.2 -0.5M607.0 607.3l7.6 -0.5M609.1 607.1l8.5 -0.5M682.9 606.8l5.8 0.3M697.9 603.6l-3.0 6.4M703.6 604.3l-0.6 6.0M705.5 602.7l0.3 8.6M707.6 603.1l1.6 8.5M711.1 603.5l2.7 6.6M808.6 604.3l1.3 4.4M575.4 609.7l6.1 0.4M581.5 606.0l-2.7 6.4M597.8 609.5l8.3 -0.5M613.4 609.9l8.6 -0.3M643.4 609.3l5.9 0.2M645.2 609.6l7.0 0.1M649.1 609.4l7.9 -0.2M677.5 609.8l7.2 0.1M680.8 609.0l5.8 0.2M684.0 609.2l8.1 0.5M701.7 605.9l-1.6 7.1M707.6 605.7l1.5 8.2M753.1 606.5l2.8 6.1M753.8 609.7l8.5 0.3M756.1 609.3l8.4 0.2M762.1 609.3l6.5 -0.1M763.4 609.4l8.4 -0.3M793.1 609.8l5.9 0.2M623.6 609.2l-2.4 5.7M632.7 608.8l-0.1 7.0M637.0 609.0l1.2 6.9M638.9 608.5l1.8 6.6M662.3 608.7l-1.0 6.3M665.9 608.5l0.4 7.6M671.6 612.0l7.1 -0.2M679.7 611.7l7.9 0.3M704.1 609.3l-0.4 6.2M743.3 609.2l-1.2 6.5M745.4 608.6l-0.3 6.6M749.3 608.1l1.7 7.4M752.4 608.9l2.4 5.7M769.9 612.0l7.4 -0.5M792.2 608.1l3.6 7.4M792.0 611.8l8.1 0.3M781.8 612.3l1.4 4.7M788.6 612.9l1.2 3.7M782.2 615.0l1.5 5.1M525.6 656.9l-0.6 4.0M853.7 657.1l-1.1 3.9M800.0 669.1l-0.2 5.2M796.4 672.8l-0.1 4.0" stroke="#00f014" stroke-width="0.8" fill="none" stroke-linecap="round"/>
<path d="M562.2 583.6l-7.9 -0.3M566.1 583.8l-6.6 -0.2M561.4 586.2l-7.2 -0.3M731.2 586.5l-6.7 -0.2M539.6 589.0l-5.8 -0.2M559.7 588.5l-6.9 -0.2M565.8 588.7l-7.1 -0.3M570.4 588.6l-6.7 -0.2M719.9 588.7l6.1 0.2M729.6 589.1l-8.1 -0.3M850.4 588.7l6.0 0.2M473.1 591.8l-6.2 -0.7M486.5 591.8l-6.7 -0.8M500.4 591.9l-8.0 -1.0M526.1 592.0l-5.6 -0.7M540.4 591.5l-7.6 -0.9M542.4 592.1l-7.0 -0.8M546.8 592.1l-7.5 -0.9M559.5 591.5l-6.2 -0.7M564.2 591.5l-6.7 -0.8M863.0 591.3l6.3 0.8M542.8 594.8l-8.0 -1.0M548.3 594.4l-6.3 -0.8M555.5 594.0l-7.0 -0.8M561.9 594.0l-8.0 -1.0M570.8 594.6l-6.5 -0.8M716.5 590.5l4.8 6.2M718.3 593.7l5.8 0.7M729.5 594.1l-7.9 -0.9M732.3 594.3l-5.7 -0.7M823.3 593.4l7.8 0.9M536.3 594.0l0.8 4.2M540.1 594.7l0.5 3.6M545.4 594.6l0.3 4.2M547.5 594.8l0.1 3.9M561.1 593.6l-0.7 5.2M722.1 594.1l-1.3 4.5M725.7 594.3l-1.2 3.9M728.0 595.0l-1.1 3.6M732.3 593.7l-4.5 5.2M826.1 594.4l0.7 4.0M540.8 596.3l0.6 5.1M549.4 597.3l-0.0 4.3M558.8 596.1l-0.7 5.3M563.0 597.0l-0.7 4.1M567.9 596.5l-1.0 4.6M723.5 597.3l-1.3 4.0M728.0 596.9l-1.6 4.8M732.9 596.0l-5.3 6.1M536.1 601.9l8.3 -0.2M541.4 602.1l7.9 -0.4M546.9 601.6l6.0 -0.4M547.6 601.9l7.4 -0.5M686.9 601.4l7.5 0.5M712.3 602.0l8.5 -0.5M715.5 602.2l7.2 -0.5M717.6 601.8l7.3 -0.5M819.2 599.4l0.9 4.2M552.7 604.4l6.7 -0.4M556.0 604.6l8.4 -0.3M560.8 604.4l8.2 -0.0M684.2 604.3l8.3 0.5M712.5 604.1l7.5 -0.5M724.1 604.4l6.8 -0.4M546.4 607.4l7.1 -0.5M554.9 606.7l7.0 -0.3M555.9 607.0l8.5 -0.3M560.4 607.3l8.2 -0.1M565.8 607.0l7.0 0.2M568.6 607.0l5.9 0.3M570.7 606.8l6.1 0.3M598.7 607.1l6.7 -0.4M603.3 607.5l6.2 -0.4M605.6 607.5l7.3 -0.5M680.5 606.8l6.6 0.3M685.1 606.6l6.0 0.4M687.7 606.4l6.0 0.4M688.5 606.7l8.2 0.6M691.0 606.9l7.3 0.5M709.0 603.3l1.9 7.1M728.3 606.7l7.6 -0.2M731.2 607.1l5.8 -0.0M805.8 605.0l1.3 4.3M813.2 604.7l1.1 4.4M815.1 604.3l1.0 4.5M817.6 604.8l0.7 3.6M548.0 610.1l8.3 -0.6M553.0 609.7l5.8 -0.4M557.9 609.7l6.1 -0.2M559.3 609.7l7.6 -0.1M563.4 609.2l8.1 0.1M571.1 609.5l6.2 0.4M591.4 609.4l8.5 -0.1M593.5 609.3l8.4 -0.2M596.6 609.5l6.5 -0.3M601.0 609.6l6.3 -0.4M605.4 610.1l6.8 -0.5M676.4 609.7l6.2 0.0M687.5 609.5l6.4 0.4M689.6 609.2l6.3 0.4M698.3 606.8l-2.8 6.2M700.2 606.2l-2.3 7.2M705.4 606.0l0.2 6.2M711.0 606.0l2.6 6.5M732.4 609.3l7.5 0.1M812.6 607.2l1.1 4.5M625.2 609.4l-2.1 6.1M640.5 608.7l2.4 7.2M658.7 608.3l-2.8 7.2M673.1 612.5l8.6 -0.1M688.5 612.0l7.7 0.5M739.8 608.7l-2.5 6.2M758.9 611.7l7.6 0.0M763.0 611.9l8.3 -0.2M632.4 612.1l1.1 4.4M639.2 611.9l1.5 4.9M667.7 612.7l0.7 3.5M745.6 612.2l-0.8 5.2M750.2 611.9l-0.5 4.8M754.3 612.8l-0.2 4.4M766.3 614.5l7.0 -0.3M770.3 615.2l8.0 -0.5M793.2 612.4l1.2 3.8M795.0 614.6l6.1 0.3M784.7 615.5l1.3 4.1M482.5 657.0l1.4 4.4M509.9 656.9l0.2 3.8M840.6 656.6l-1.3 4.1M827.0 659.3l-1.2 4.2" stroke="#00f028" stroke-width="0.8" fill="none" stroke-linecap="round"/>
<path d="M578.0 580.5l-4.4 6.4M615.2 580.6l-4.6 5.8M736.0 580.6l-3.6 5.5M775.4 583.8l-7.8 -0.3M797.2 580.4l5.4 6.3M595.8 583.3l4.0 6.1M676.4 582.5l4.8 7.0M715.2 583.6l3.7 5.6M776.4 582.9l-4.4 6.1M795.6 583.2l4.1 5.7M802.0 585.8l6.3 0.2M579.3 586.2l-2.9 5.2M712.7 585.0l4.0 7.5M594.1 587.4l4.0 7.2M619.5 588.0l-4.2 6.8M675.0 587.9l4.2 6.9M698.2 588.2l-2.9 6.4M580.1 590.5l-3.3 6.3M591.9 590.2l3.2 7.9M618.0 590.4l-4.8 7.0M654.7 591.3l-3.2 5.4M673.4 590.5l3.4 6.7M698.6 591.2l-2.5 6.0M740.4 590.0l-3.0 7.8M754.1 591.0l3.5 6.5M756.2 591.3l3.8 5.7M775.4 591.3l-3.5 4.7M656.8 593.4l-3.3 6.8M673.9 593.7l2.7 5.2M707.4 593.2l1.0 6.6M709.4 592.8l2.4 7.8M742.0 592.6l-2.2 7.9M752.7 593.7l2.7 6.0M754.7 593.7l3.1 5.4M774.1 594.3l-4.3 5.0M776.3 594.0l-3.8 5.4M581.6 595.2l-3.2 7.5M583.6 595.8l-1.7 6.7M585.4 595.1l-1.0 8.2M621.0 595.9l-3.1 5.8M623.7 595.8l-2.7 6.5M645.0 595.7l3.4 6.3M671.9 596.3l2.3 5.7M702.0 595.2l-1.5 7.2M747.0 595.7l0.4 6.4M776.2 595.6l-5.2 6.8M778.1 596.0l-4.2 6.9M794.2 595.9l3.6 5.9M583.2 597.8l-2.3 7.6M585.1 598.2l-0.9 6.2M586.6 597.9l-0.2 7.2M625.2 598.1l-2.7 7.6M643.6 601.5l6.2 0.2M644.8 601.8l7.9 0.1M703.7 597.2l-0.8 8.4M742.1 598.2l-1.9 7.1M770.4 601.7l7.7 -0.5M772.7 602.3l6.5 -0.4M584.9 600.5l-1.2 7.6M587.3 599.8l0.2 8.6M625.9 601.0l-2.4 7.3M629.4 601.2l-0.9 5.8M635.3 600.2l0.9 8.1M642.7 604.1l8.2 0.2M658.4 600.5l-2.7 6.9M664.1 600.7l-0.4 6.9M668.1 600.8l1.3 6.8M669.8 601.3l1.6 5.9M743.7 600.5l-1.1 7.1M745.7 600.6l-0.1 6.6M750.4 601.0l2.2 7.2M780.2 601.1l-2.8 6.5M788.2 600.8l1.2 6.7M790.7 600.8l2.7 7.3M627.5 603.1l-2.0 7.8M636.6 602.9l1.3 7.9M669.9 603.7l2.0 6.8M749.2 603.3l1.7 7.6M783.7 603.5l-1.2 6.9M787.0 602.6l0.7 8.2M790.2 602.9l2.7 8.0M633.3 605.6l0.1 7.6M783.4 606.0l-1.2 6.4M469.6 662.4l1.2 3.8M509.5 661.5l0.1 4.7M854.2 661.6l-1.2 5.2M841.1 664.6l-1.4 4.3" stroke="#50f000" stroke-width="0.8" fill="none" stroke-linecap="round"/>
<path d="M579.9 580.5l-3.1 5.8M593.6 580.3l3.5 6.8M675.2 580.8l3.0 5.1M754.8 580.1l3.7 6.3M581.8 582.7l-3.2 7.7M593.8 582.9l2.9 5.8M673.5 583.2l3.1 6.2M674.9 582.8l3.5 6.0M710.6 582.3l2.8 7.3M777.4 583.3l-3.3 5.2M581.6 585.1l-3.1 7.2M592.6 586.0l2.6 6.2M646.3 585.4l3.7 6.2M673.0 585.0l3.5 7.2M581.9 588.5l-2.3 5.9M590.8 587.7l2.0 6.7M655.0 587.6l-4.5 7.3M658.4 587.7l-2.6 6.7M670.9 587.2l2.9 7.9M707.6 587.3l1.5 8.2M740.2 587.1l-3.2 7.8M743.3 588.0l-1.1 6.3M752.6 588.4l2.5 5.7M777.6 588.4l-3.3 5.4M794.1 588.9l3.1 5.3M624.0 590.5l-3.1 7.5M642.3 590.7l3.0 7.1M644.9 590.8l3.2 6.0M659.0 590.5l-2.6 7.1M669.6 590.6l1.8 6.6M671.6 590.6l2.5 6.3M742.0 590.8l-1.8 6.8M747.1 590.6l0.4 6.1M792.7 590.9l2.9 5.9M586.6 592.2l-0.3 8.5M589.1 593.5l0.9 5.9M623.9 593.0l-3.0 7.2M638.6 592.1l2.1 8.1M640.5 593.8l1.9 5.6M662.4 594.0l-0.9 5.8M665.9 593.1l0.3 6.3M701.7 592.8l-1.7 7.2M704.1 593.2l-0.4 7.2M751.2 592.9l2.3 6.6M781.3 593.3l-2.2 6.1M635.3 595.7l0.8 7.5M638.8 596.0l1.5 5.9M640.3 594.9l2.6 7.7M660.2 595.3l-2.1 7.3M669.3 596.2l1.6 6.1M745.7 595.4l-0.2 7.5M790.2 595.8l2.3 7.1M627.9 597.4l-1.9 8.1M633.4 598.2l0.1 6.5M634.7 597.3l0.7 8.3M638.9 598.5l1.9 7.2M641.1 599.2l2.1 5.8M662.6 597.6l-1.2 8.0M666.2 598.7l0.4 5.8M783.1 598.8l-1.4 6.5M790.7 598.9l2.2 6.1M637.3 601.0l1.3 6.5M469.2 666.8l1.4 4.3M827.7 667.1l-1.6 5.0M853.6 667.0l-0.9 4.3" stroke="#78f000" stroke-width="0.8" fill="none" stroke-linecap="round"/>
<path d="M582.1 579.7l-3.1 7.9M592.4 579.9l3.1 7.2M644.5 580.1l3.4 6.6M653.4 580.3l-4.6 6.6M698.1 580.7l-2.4 5.3M741.4 579.8l-2.0 6.6M752.2 579.3l3.4 7.7M779.5 580.4l-2.7 5.6M621.4 583.2l-3.2 6.1M623.1 583.3l-2.5 5.6M671.4 582.2l3.2 7.9M779.8 581.9l-3.8 7.6M781.3 583.5l-2.0 5.9M583.5 585.5l-2.0 7.1M669.7 585.3l1.9 6.7M703.9 585.6l-0.5 6.5M742.3 584.3l-2.1 8.0M747.1 584.8l0.6 7.7M749.1 584.3l1.8 8.3M751.1 585.3l2.2 6.5M790.7 585.5l2.1 5.9M642.6 587.3l3.1 7.2M660.3 588.4l-1.9 6.6M670.1 588.1l1.8 5.9M704.0 588.3l-0.4 6.3M705.4 587.2l0.2 7.7M749.1 588.1l1.2 5.8M787.0 587.5l0.7 8.3M790.5 587.3l2.7 7.5M664.4 591.9l-0.3 8.6M525.7 669.7l-1.1 4.9M525.5 672.4l-1.1 4.7M841.0 672.3l-1.5 5.1M853.7 672.3l-0.7 3.8M866.1 672.4l-0.1 4.6" stroke="#b4f000" stroke-width="0.8" fill="none" stroke-linecap="round"/>
<path d="M583.4 580.0l-1.7 6.3M585.2 579.8l-1.1 8.0M590.9 580.5l1.7 6.0M642.6 580.5l2.6 6.1M743.7 580.5l-1.0 6.7M745.1 579.6l-0.5 8.4M790.8 580.6l2.3 6.3M585.6 582.6l-0.7 6.5M586.7 583.1l-0.1 6.2M660.1 582.7l-2.0 6.8M669.4 583.4l1.5 5.9M704.0 583.0l-0.4 6.3M707.0 582.3l1.0 7.0M747.5 583.2l0.6 5.8M627.2 584.9l-1.8 7.0M660.7 584.7l-1.9 7.4M663.8 585.5l-0.4 6.5M668.0 584.5l1.4 7.8M788.4 585.1l1.5 8.0M629.5 587.5l-1.2 7.3M634.9 588.3l0.5 5.9" stroke="#f0f000" stroke-width="0.8" fill="none" stroke-linecap="round"/>
<path d="M587.0 580.3l0.0 6.8M641.0 580.7l2.0 5.7M704.0 579.8l-0.4 6.8M707.6 580.2l1.2 6.9M788.2 579.7l1.4 7.7M638.3 582.4l1.9 7.6M662.6 582.3l-1.0 7.1M666.2 582.7l0.5 6.5M668.0 582.2l1.4 7.5M633.2 584.9l0.1 7.7M634.9 585.4l0.5 6.1" stroke="#ffc800" stroke-width="0.8" fill="none" stroke-linecap="round"/>
<path d="M595.8 580.5l4.4 6.5M597.8 580.9l3.9 5.0M677.5 581.0l4.1 5.7M692.0 581.0l-4.0 4.8M694.3 580.7l-3.4 5.0M715.2 580.9l3.3 5.1M798.8 583.2l6.9 0.2M809.4 583.1l7.3 0.3M578.3 582.4l-4.4 6.6M734.7 582.4l-5.2 6.8M735.9 583.5l-3.8 5.7M758.7 583.1l4.5 5.5M758.8 585.9l7.3 0.3M771.3 586.5l-7.2 -0.3M774.4 586.4l-5.9 -0.2M797.6 583.1l5.0 5.8M810.0 585.8l6.1 0.2M578.2 585.8l-4.3 6.5M596.2 585.6l4.4 6.3M617.8 585.5l-4.7 6.8M676.7 585.5l4.3 6.2M771.0 588.9l-6.9 -0.2M776.0 586.2l-4.0 5.5M796.8 588.6l7.9 0.9M807.8 588.6l6.7 0.2M579.9 588.3l-3.3 6.1M596.1 588.6l4.2 6.2M617.1 588.6l-3.9 5.6M714.5 588.1l3.9 6.2M736.2 587.9l-4.1 6.3M738.0 589.0l-2.7 5.3M754.5 588.2l3.7 6.5M756.7 588.5l3.6 5.2M760.1 590.8l6.4 0.8M770.8 591.9l-7.8 -0.9M774.9 588.0l-5.6 6.6M795.8 588.2l3.9 5.5M807.1 590.9l7.8 0.9M578.1 590.9l-4.4 6.5M593.8 590.5l3.6 6.9M595.9 591.6l3.2 5.0M620.1 590.3l-3.9 6.7M696.5 590.7l-3.3 5.9M710.8 590.0l2.9 7.2M712.5 590.2l3.4 6.8M737.9 591.2l-2.8 5.4M795.9 591.5l3.5 5.0M579.9 592.8l-3.9 7.0M592.0 593.2l2.5 6.5M593.9 593.4l3.3 6.3M617.5 593.9l-3.9 5.7M619.9 593.3l-3.9 6.6M621.2 593.1l-3.4 6.4M644.8 593.0l3.8 7.1M652.7 593.3l-4.6 6.3M674.5 593.0l4.2 7.3M698.7 592.9l-2.7 6.5M699.9 593.7l-2.0 5.9M738.0 594.2l-2.7 5.2M769.7 594.7l0.1 4.0M796.5 593.8l4.1 5.3M590.4 595.1l2.1 7.7M592.3 595.8l2.6 6.5M652.8 596.1l-4.9 6.7M654.0 597.0l-3.1 5.0M675.6 595.7l3.9 6.2M700.0 595.7l-2.5 7.2M705.6 595.4l0.3 7.9M707.3 595.1l1.3 8.3M741.7 595.5l-2.3 7.5M750.9 595.8l2.2 6.8M754.4 595.9l3.7 6.6M769.1 596.7l0.2 4.3M588.6 597.5l1.0 7.6M591.9 601.7l7.9 -0.1M657.0 598.0l-3.3 6.9M707.1 597.7l1.3 8.4M740.1 598.7l-2.2 5.7M752.9 601.4l7.5 0.4M755.6 601.3l6.2 0.2M789.9 602.0l8.4 0.2M792.8 601.3l7.0 0.2M588.4 600.7l0.9 7.8M592.6 604.1l6.9 -0.1M614.9 604.4l6.4 -0.2M623.4 600.6l-3.4 7.7M656.8 601.5l-3.0 6.1M671.2 601.7l2.0 5.5M671.9 604.4l6.8 -0.2M704.1 601.1l-0.4 7.0M742.3 600.3l-2.1 8.0M748.8 600.9l1.2 6.3M760.1 604.4l6.1 0.0M761.9 604.0l6.6 -0.1M768.4 604.1l6.7 -0.4M770.8 604.4l6.9 -0.4M771.9 604.6l7.9 -0.5M790.7 604.5l7.0 0.1M794.4 604.1l7.8 0.4M585.3 603.0l-1.0 7.7M592.3 603.7l2.7 6.7M629.2 603.2l-1.1 6.7M640.6 604.5l1.8 5.5M656.9 603.7l-3.3 6.8M662.5 602.4l-1.3 8.3M666.1 603.1l0.5 8.2M668.0 604.1l1.0 5.9M752.3 603.6l3.1 7.2M791.8 606.6l8.1 0.3M627.4 606.1l-1.6 6.2M629.0 605.2l-1.5 8.3M637.0 606.4l1.1 6.4M667.7 605.7l1.2 7.4M781.9 605.5l-2.4 7.4M784.8 605.7l-0.7 7.2M788.9 606.5l1.4 6.2M791.5 605.3l3.4 7.8M482.7 661.3l1.5 4.8M523.9 661.2l-0.8 5.2M866.4 661.5l-0.5 5.2M483.3 664.6l1.2 3.9M509.7 663.8l0.0 5.1M827.2 663.9l-1.4 4.9" stroke="#3cf000" stroke-width="0.8" fill="none" stroke-linecap="round"/>
<path d="M612.6 581.6l-3.9 4.4M680.7 583.0l5.8 0.2M716.1 580.1l5.0 6.6M758.5 581.0l4.0 5.0M758.9 583.0l7.6 0.3M761.9 583.1l5.6 0.2M772.0 583.4l-5.7 -0.2M576.6 582.8l-5.2 6.5M772.8 586.4l-5.9 -0.2M802.9 585.8l7.2 0.3M694.5 585.2l-4.4 6.3M716.7 586.4l3.7 4.9M761.7 588.7l7.0 0.3M577.8 587.7l-4.5 6.4M679.0 588.1l5.2 6.3M696.6 587.9l-4.2 7.3M712.6 588.2l2.9 5.8M762.2 591.2l6.3 0.8M797.4 588.7l5.1 6.0M798.1 590.4l7.9 1.0M616.2 590.8l-5.2 6.8M675.2 591.2l3.8 6.2M758.8 591.3l3.7 4.6M759.0 593.4l7.2 0.9M762.2 593.4l5.5 0.7M770.3 594.3l-5.6 -0.7M799.4 593.2l7.0 0.8M676.9 593.7l4.2 6.0M711.1 593.6l2.1 5.4M740.0 593.8l-2.2 5.6M758.3 593.9l4.4 5.6M762.6 593.9l-0.3 5.2M765.0 594.4l-0.1 4.7M673.3 595.8l3.7 7.2M711.2 595.8l3.0 7.1M737.5 596.9l-2.8 5.1M756.2 596.0l3.9 5.8M762.6 596.7l-0.2 4.5M575.2 601.8l5.8 0.4M581.5 598.8l-2.7 6.3M609.0 602.2l8.0 -0.5M647.3 601.7l7.6 -0.0M672.8 598.4l3.2 6.9M697.8 599.1l-2.4 5.3M700.1 598.0l-2.5 7.5M705.4 597.5l0.2 7.8M732.8 601.8l8.2 0.1M767.9 602.0l7.2 -0.4M794.2 601.3l7.4 0.3M572.1 603.6l8.4 0.5M583.2 600.6l-2.5 8.1M592.2 600.7l2.8 6.8M644.2 604.5l7.8 0.1M647.5 604.2l7.0 -0.0M700.5 600.8l-2.2 7.2M702.2 600.3l-1.4 7.3M753.0 601.3l3.0 6.5M581.5 602.8l-3.3 7.5M588.6 603.5l0.8 6.4M625.3 604.1l-2.1 6.1M644.0 606.8l8.5 0.1M648.9 606.6l7.4 -0.1M658.2 604.1l-2.4 6.0M660.6 602.9l-2.1 7.9M743.9 603.2l-1.0 6.9M745.2 602.6l-0.5 8.5M746.9 602.8l0.5 8.3M754.7 606.9l8.2 0.3M760.3 606.5l6.2 0.0M767.6 607.2l7.8 -0.4M625.2 606.3l-2.2 6.3M635.2 606.0l0.6 6.4M640.9 606.4l1.9 5.5M658.5 606.8l-2.3 5.9M780.0 606.8l-2.3 5.3M786.7 606.2l0.4 6.7M790.3 606.4l1.9 5.9M786.7 609.0l0.4 6.5M482.6 659.4l1.5 4.9M496.3 658.6l1.1 5.0M854.1 658.9l-1.2 4.9M866.7 659.1l-0.5 4.8" stroke="#28f000" stroke-width="0.8" fill="none" stroke-linecap="round"/>
<path d="M617.9 580.3l-4.3 6.3M756.3 580.2l4.5 6.5M776.5 580.3l-4.8 6.6M617.8 582.6l-4.8 7.0M620.3 582.3l-4.2 7.3M698.0 583.5l-2.6 5.6M713.0 582.6l3.6 6.7M738.0 582.5l-3.6 6.7M754.2 582.8l3.3 6.1M756.3 582.5l4.9 7.0M593.8 585.2l3.9 7.3M711.4 585.4l2.8 6.5M738.0 585.7l-3.4 6.3M740.0 585.0l-2.9 7.1M754.4 584.9l4.2 7.2M778.0 586.1l-3.3 5.6M793.9 585.4l3.6 6.0M796.2 585.9l3.9 5.2M592.5 588.1l2.8 6.6M621.6 587.8l-3.2 6.2M646.2 587.5l4.3 7.1M652.7 589.1l-3.7 5.2M673.4 588.7l2.5 5.3M709.3 588.7l1.7 6.0M710.4 587.7l2.9 7.6M775.9 588.6l-4.6 6.0M581.5 590.0l-3.2 7.4M583.4 590.5l-2.0 7.0M590.3 591.3l1.4 5.8M621.8 591.1l-3.0 5.9M646.6 590.3l4.5 7.2M656.4 590.9l-3.4 6.7M699.9 590.9l-2.1 6.1M701.9 590.2l-1.7 7.8M708.8 590.4l1.7 6.5M751.0 589.9l2.8 7.9M752.8 591.2l2.7 6.0M778.0 590.6l-3.7 6.1M794.1 591.1l3.8 6.2M581.9 593.6l-2.2 5.8M590.3 593.8l1.4 5.7M642.9 593.3l2.6 5.9M646.3 593.8l3.6 6.0M654.5 593.9l-3.6 5.9M658.1 593.5l-2.5 6.2M705.7 592.7l0.3 7.1M743.3 593.4l-1.1 6.3M749.0 592.2l1.7 8.0M777.9 592.8l-4.5 7.1M792.0 593.0l3.7 7.7M794.2 593.4l3.5 5.8M587.0 595.0l0.0 7.6M589.0 595.5l1.0 6.8M625.1 596.6l-1.9 5.6M642.8 595.8l2.6 5.9M658.7 594.8l-3.2 8.0M666.1 596.3l0.4 5.8M743.8 595.3l-1.3 8.1M749.4 596.6l1.3 5.7M782.0 595.4l-2.4 7.5M792.2 596.5l2.8 6.0M623.1 598.4l-2.7 6.1M631.6 597.7l-0.6 8.4M636.7 599.0l1.0 6.0M658.7 597.9l-2.7 7.0M660.9 597.8l-1.9 7.4M667.9 598.0l1.2 6.7M669.7 598.6l1.7 6.2M671.2 597.9l3.0 7.8M743.7 597.3l-1.4 8.4M745.2 597.4l-0.5 8.1M747.6 598.5l0.7 6.2M779.7 598.6l-2.6 5.5M781.3 598.4l-2.5 6.9M785.2 598.8l-0.4 6.5M627.5 600.6l-2.0 7.9M630.8 600.9l-0.6 6.3M633.0 599.8l0.0 8.6M640.9 600.6l2.7 7.5M660.5 600.8l-2.1 7.5M665.5 600.4l0.3 8.4M781.2 601.1l-2.0 5.7M785.1 600.2l-0.6 8.1M786.9 600.9l0.4 6.1M631.5 604.0l-0.4 6.3M635.1 603.1l0.7 7.4M664.3 603.2l-0.3 8.2M785.0 603.7l-0.5 6.8M788.3 603.3l1.4 7.6M496.8 664.8l0.6 3.8M496.2 666.8l0.8 4.7M509.8 667.1l-0.1 4.3" stroke="#64f000" stroke-width="0.8" fill="none" stroke-linecap="round"/>
<path d="M619.6 579.9l-4.5 7.3M778.2 580.9l-3.3 5.7M794.4 581.3l3.1 5.2M592.0 581.9l3.1 7.8M652.6 583.5l-3.3 4.7M656.2 583.8l-2.7 5.4M740.1 583.0l-2.4 6.2M623.6 585.9l-2.6 6.1M644.6 584.7l3.8 7.2M655.1 585.3l-4.4 7.3M699.8 585.6l-2.1 6.2M702.2 584.9l-1.6 8.0M743.5 584.8l-1.5 8.3M583.3 588.5l-1.6 6.0M585.0 587.0l-1.3 8.0M640.6 587.6l2.4 6.8M792.1 588.3l2.8 6.1M588.6 590.3l0.9 7.4M626.9 590.7l-1.6 5.9M640.5 590.5l2.3 6.8M666.2 590.4l0.6 7.6M668.3 590.9l1.1 5.7M788.3 589.8l1.6 8.3M627.6 592.9l-1.9 7.6M629.5 593.1l-1.1 6.8M631.4 592.6l-0.6 8.0M633.2 593.6l0.1 6.3M634.8 592.9l0.6 6.8M783.5 593.2l-1.1 6.0M786.9 593.8l0.4 5.8M663.8 594.8l-0.6 8.3M784.9 595.2l-0.7 8.0M786.5 594.6l0.4 8.6M469.3 669.6l1.3 3.9M496.0 669.2l0.7 5.1M840.9 669.6l-1.3 4.4M853.2 670.1l-0.8 4.0M511.9 672.0l-0.3 4.3M827.3 672.8l-1.1 3.4" stroke="#a0f000" stroke-width="0.8" fill="none" stroke-linecap="round"/>
<path d="M623.1 579.7l-3.1 6.9M654.8 580.6l-3.7 6.1M671.4 579.3l3.1 7.8M750.5 580.0l2.1 7.0M642.5 583.0l2.3 5.6M658.3 582.5l-2.9 7.1M700.7 582.0l-2.4 8.0M709.6 582.9l1.7 5.8M741.7 582.8l-1.9 6.8M743.2 582.9l-1.1 6.1M750.9 582.3l2.7 7.9M790.5 582.5l2.2 6.6M588.9 584.7l1.1 7.4M642.3 585.0l3.3 7.6M670.9 584.4l3.0 8.0M705.9 585.1l0.5 7.4M707.1 584.7l1.1 7.4M780.5 584.7l-3.5 7.9M781.3 585.2l-2.3 6.5M586.8 588.0l-0.1 7.0M625.7 588.1l-2.1 6.5M627.8 587.3l-1.8 7.4M636.7 588.0l1.0 6.0M662.5 587.6l-1.1 7.3M665.7 588.4l0.2 5.8M782.0 588.0l-2.2 7.1M788.9 588.0l1.6 6.9M629.1 590.6l-1.3 7.4M634.8 589.8l0.7 8.4M637.2 589.8l1.5 7.8M663.8 591.0l-0.4 6.1M783.2 589.8l-1.8 7.8M786.8 590.1l0.5 7.8M785.5 592.3l-0.4 8.3M482.6 671.7l1.4 5.2M509.7 672.6l-0.2 4.1" stroke="#c8f000" stroke-width="0.8" fill="none" stroke-linecap="round"/>
<path d="M625.5 580.5l-2.2 6.6M658.1 580.6l-2.2 5.5M702.3 579.1l-1.6 8.4M705.4 580.2l0.2 6.9M747.0 580.2l0.4 5.9M749.0 580.5l1.1 5.8M627.2 581.8l-2.2 8.2M783.1 582.7l-1.6 7.0M786.8 582.8l0.4 6.4M788.9 582.6l1.4 6.2M629.1 585.8l-1.2 6.5" stroke="#ffdc00" stroke-width="0.8" fill="none" stroke-linecap="round"/>
<path d="M627.4 579.8l-2.2 8.2M636.7 580.7l1.1 6.4M666.2 580.8l0.4 5.8M786.7 579.0l0.5 8.1M634.7 581.9l0.6 7.9M636.5 582.2l1.1 7.1" stroke="#ffa000" stroke-width="0.8" fill="none" stroke-linecap="round"/>
<path d="M631.3 579.1l-0.7 8.6M632.9 579.7l-0.0 7.6M634.9 580.8l0.5 5.8" stroke="#ff7800" stroke-width="0.8" fill="none" stroke-linecap="round"/>
<path d="M638.4 580.2l1.8 7.3M660.7 579.6l-2.1 7.7M662.0 579.9l-1.3 7.1M663.8 580.6l-0.4 5.9M668.2 581.0l1.1 5.8M783.0 579.8l-1.5 6.6M785.5 580.1l-0.3 7.0M629.0 583.1l-1.1 6.4M631.3 582.8l-0.5 6.4M664.4 582.7l-0.2 7.0M630.9 585.4l-0.6 6.4" stroke="#ffb400" stroke-width="0.8" fill="none" stroke-linecap="round"/>
<path d="M673.3 580.1l3.4 6.8M712.8 580.6l3.3 6.3M738.5 579.8l-3.5 6.9M646.6 582.3l4.3 7.0M654.5 583.8l-3.2 5.3M752.6 583.0l2.4 5.6M792.4 582.9l3.4 6.9M793.7 582.2l4.4 7.2M590.9 586.1l1.7 5.7M621.8 584.5l-4.0 7.6M657.0 585.2l-3.8 7.7M792.0 585.1l3.0 6.6M623.2 588.3l-3.0 6.7M656.5 588.7l-2.8 5.7M702.1 588.1l-1.3 6.9M745.4 587.9l-0.3 7.2M750.5 587.8l2.4 7.5M779.6 588.2l-2.7 5.6M625.1 590.9l-1.9 5.5M705.7 590.3l0.3 6.7M745.2 590.2l-0.5 8.0M779.8 591.4l-2.5 5.5M781.8 590.2l-2.2 6.9M625.2 592.8l-2.8 7.9M669.6 592.7l1.9 6.8M745.7 593.1l-0.1 6.2M747.4 593.5l0.5 5.8M788.8 593.7l1.3 6.0M790.2 593.1l2.1 6.5M627.6 596.1l-1.4 5.7M629.2 595.7l-1.2 6.9M631.2 596.0l-0.5 6.3M633.2 596.5l0.1 5.9M662.6 595.2l-1.2 7.6M788.7 596.1l1.4 6.6M663.9 598.1l-0.4 6.6M787.2 598.8l0.6 6.4M788.6 598.3l1.4 7.1M783.5 600.6l-1.2 6.6M482.9 666.8l1.5 5.1M511.8 667.4l-0.2 4.0M509.8 669.3l-0.2 5.1M826.8 670.5l-1.1 3.6M866.3 669.6l-0.1 4.7" stroke="#8cf000" stroke-width="0.8" fill="none" stroke-linecap="round"/>
<path d="M709.0 579.8l2.1 7.6M710.9 580.4l2.1 5.5M792.0 579.8l3.4 7.2M590.6 581.9l2.2 7.8M625.4 582.8l-2.3 6.7M701.9 582.7l-1.3 6.4M745.0 582.8l-0.5 7.1M749.2 582.5l1.6 7.4M586.6 585.3l-0.2 7.3M626.0 584.9l-2.7 8.2M640.5 584.4l2.7 7.9M662.4 585.0l-1.0 6.7M666.2 584.6l0.7 8.4M783.5 585.4l-1.2 6.2M786.6 585.7l0.3 6.7M664.2 587.9l-0.3 6.8M667.6 587.5l1.3 8.1M784.9 588.5l-0.5 5.9M496.7 672.8l0.5 4.1" stroke="#dcf000" stroke-width="0.8" fill="none" stroke-linecap="round"/>
<path d="M781.9 579.5l-2.5 7.6M785.1 582.8l-0.5 7.3M636.5 585.7l1.0 6.4M633.3 588.1l0.1 6.1" stroke="#f0dc00" stroke-width="0.8" fill="none" stroke-linecap="round"/>
<path d="M836.7 591.1l7.2 0.9M487.5 594.5l-7.5 -0.9M499.4 594.2l-5.9 -0.7M546.8 594.4l-7.9 -0.9M720.0 593.8l6.4 0.8M862.9 593.3l6.3 0.8M511.0 594.0l1.5 4.7M542.9 597.1l0.3 4.1M544.8 596.9l0.3 4.7M718.5 596.4l4.8 5.5M725.7 597.3l-1.3 4.0M826.2 596.5l0.8 4.9M540.0 602.0l6.0 -0.3M817.6 599.2l1.2 5.2M541.2 604.2l8.1 -0.4M543.5 604.2l7.5 -0.5M711.2 604.4l6.7 -0.4M719.0 604.3l8.6 -0.6M722.0 604.6l7.1 -0.4M729.3 604.7l6.0 -0.1M544.2 606.9l6.6 -0.4M549.8 607.1l7.7 -0.5M715.6 607.1l7.1 -0.5M717.7 606.9l7.1 -0.5M723.9 607.4l7.4 -0.4M725.9 606.7l7.4 -0.3M550.2 609.4l6.9 -0.5M554.9 609.4l6.1 -0.3M565.3 609.7l7.0 0.2M608.2 610.0l6.2 -0.4M609.6 610.1l7.8 -0.4M690.4 609.4l8.2 0.6M708.9 605.6l2.1 7.7M727.1 609.6l6.4 -0.2M728.5 609.4l7.2 -0.2M739.9 606.6l-2.5 6.2M808.2 607.8l1.0 3.8M819.7 607.0l0.7 4.6M603.1 612.0l7.2 -0.5M645.1 611.7l6.1 0.1M646.6 612.0l8.0 -0.0M683.3 612.0l8.6 0.5M691.8 611.7l6.2 0.4M709.0 607.9l2.3 8.1M750.3 608.7l2.2 7.4M810.6 610.3l1.0 4.4M622.1 612.4l0.7 5.2M625.7 612.6l0.8 4.3M634.8 612.7l1.2 4.5M642.7 614.3l8.2 0.2M663.0 612.4l1.3 5.0M739.6 612.6l-0.8 3.6M753.4 614.4l6.7 0.3M761.7 614.9l6.8 -0.1M764.7 614.8l6.2 -0.2M768.5 614.9l6.4 -0.4M634.2 615.3l1.3 4.5M665.7 615.4l0.8 3.7M765.8 617.1l6.8 -0.3M773.8 617.5l8.1 -0.6M792.8 615.1l1.2 3.8M483.2 652.1l1.2 3.6M470.1 653.8l1.4 4.7M482.9 654.5l1.1 3.6M496.2 654.8l0.9 3.7M509.7 653.4l0.4 5.1M537.1 659.2l-1.1 4.0" stroke="#00f03c" stroke-width="0.8" fill="none" stroke-linecap="round"/>
<path d="M515.3 594.4l-7.2 -0.9M526.9 594.4l-7.7 -0.9M528.3 594.3l-6.9 -0.8M835.9 593.1l7.3 0.9M471.0 594.0l-0.4 4.2M509.7 594.5l1.2 3.8M522.9 594.9l1.1 3.8M867.1 594.5l-1.3 4.4M524.2 596.7l1.4 4.9M538.1 599.0l0.6 4.7M719.4 601.9l8.2 -0.6M721.8 601.7l7.9 -0.5M537.5 604.8l6.0 -0.1M715.5 604.6l6.5 -0.4M717.0 604.5l7.5 -0.5M826.2 602.0l0.5 4.3M711.5 607.2l6.9 -0.4M713.6 607.2l6.6 -0.4M542.1 609.3l6.0 -0.3M710.7 609.8l6.9 -0.4M713.9 609.6l6.6 -0.4M730.3 609.9l8.6 -0.0M606.8 612.2l7.8 -0.5M682.6 611.6l5.8 0.3M686.8 611.5l7.5 0.5M730.7 611.8l6.6 -0.1M802.0 609.7l1.4 4.8M611.8 615.0l6.4 -0.3M624.1 612.0l0.7 4.7M679.2 614.4l8.3 0.3M684.3 614.7l6.8 0.4M689.2 614.6l6.0 0.4M691.7 614.6l6.3 0.4M703.7 612.6l-0.9 3.8M706.4 612.5l-1.0 3.9M732.6 614.3l8.5 0.1M636.5 615.5l1.2 4.0M684.3 617.0l8.3 0.5M691.4 617.4l6.2 0.4M704.0 614.5l-1.3 5.2M746.0 615.1l-0.6 4.9M748.1 614.6l-0.5 5.3M755.1 617.0l6.8 0.2M793.0 617.4l6.2 0.2M672.3 617.6l0.5 4.0M677.8 619.7l7.9 0.2M768.0 620.5l8.0 -0.5M787.0 618.4l1.1 3.5M790.8 619.8l6.8 0.1M781.7 620.1l1.4 4.6M784.1 620.8l1.2 3.6M523.3 651.7l-0.3 3.7" stroke="#00f050" stroke-width="0.8" fill="none" stroke-linecap="round"/>
<path d="M850.1 593.9l6.8 0.8M853.2 594.2l-0.7 4.3M470.5 597.3l-0.4 4.2M483.0 596.8l0.4 4.5M496.4 597.2l1.1 4.4M853.2 596.8l-0.8 4.4M866.6 597.4l-1.1 3.6M866.5 599.4l-1.3 4.1M536.2 601.9l0.6 5.1M536.6 607.1l8.1 -0.2M538.1 607.3l0.3 5.1M717.1 609.9l7.5 -0.5M720.4 609.4l6.6 -0.4M716.8 612.2l7.8 -0.5M719.7 612.2l7.5 -0.5M724.4 612.4l7.4 -0.4M727.8 612.5l7.7 -0.2M826.3 609.6l0.3 4.6M603.0 615.2l7.5 -0.5M708.8 612.3l-1.4 5.1M712.8 613.2l-1.2 3.8M731.2 614.8l6.6 -0.0M603.5 617.4l6.8 -0.5M609.4 617.5l7.4 -0.4M623.6 615.0l0.8 4.7M625.7 615.8l0.7 3.7M643.3 615.7l1.3 3.9M649.9 617.6l6.5 -0.1M754.1 615.0l-0.1 5.4M752.5 617.1l8.1 0.4M796.5 617.4l6.6 0.4M632.5 617.7l1.2 4.3M641.1 617.5l1.6 5.0M649.1 620.3l7.4 -0.1M650.7 620.2l8.0 -0.3M657.2 618.3l1.1 3.9M690.8 619.5l8.4 0.6M697.5 618.0l-0.9 4.4M752.0 617.6l-0.1 4.8M792.0 619.8l7.3 0.2M637.3 620.9l1.2 3.7M661.2 619.9l1.0 4.5M702.4 619.6l-1.3 5.0M762.1 622.3l6.8 -0.1M772.1 622.7l7.7 -0.5M777.6 620.6l1.2 4.0M788.9 620.0l1.5 4.5M509.6 643.6l0.8 4.7M482.2 646.0l1.6 5.1M525.0 646.4l-0.3 4.6M853.8 646.6l-1.4 4.5M866.6 646.3l-0.9 4.3M483.1 648.9l1.6 4.9M509.4 650.9l0.6 5.3M525.1 651.9l-0.4 4.3M826.8 654.6l-1.0 4.1M827.0 657.0l-1.0 3.7M788.8 669.0l0.5 5.2M788.6 672.6l0.3 4.5" stroke="#00f078" stroke-width="0.8" fill="none" stroke-linecap="round"/>
<path d="M483.6 594.2l0.4 4.9M496.1 593.7l1.1 4.9M524.2 594.3l1.3 4.6M509.0 596.5l1.4 4.5M840.2 596.4l-0.1 4.7M826.8 599.3l0.6 5.1M539.1 604.8l7.3 -0.3M539.3 607.4l7.1 -0.3M540.6 606.8l8.6 -0.5M719.2 607.4l7.7 -0.5M826.3 604.2l0.5 5.1M539.7 609.9l6.7 -0.3M543.7 609.7l6.3 -0.4M722.0 609.9l6.0 -0.4M826.2 607.7l0.3 3.6M609.2 614.9l8.4 -0.5M645.7 614.9l6.3 0.1M710.6 612.3l-1.2 4.1M817.4 612.3l0.6 4.0M657.1 615.6l1.2 4.1M659.4 614.9l1.2 4.3M661.0 615.5l0.9 3.6M675.7 617.1l7.0 0.0M686.1 617.1l7.6 0.5M689.2 617.1l6.2 0.4M738.9 614.8l-1.0 4.8M749.8 614.7l-0.4 4.9M751.9 614.8l-0.2 4.8M768.5 617.3l5.8 -0.3M634.9 617.3l1.4 4.9M674.3 618.2l0.4 3.9M674.0 619.7l6.6 -0.1M676.3 620.1l6.1 0.0M706.9 617.3l-1.4 4.8M764.1 620.4l6.3 -0.2M766.5 619.7l6.6 -0.3M772.0 620.2l8.1 -0.6M788.9 618.1l1.4 4.3M663.4 620.6l0.9 4.3M770.9 622.8l6.8 -0.4M793.3 619.7l1.5 4.8M509.3 646.5l0.6 4.5M469.7 648.9l1.0 3.7M509.7 648.8l0.6 5.2M854.3 648.8l-1.5 5.1M866.9 648.4l-0.9 4.9M496.5 651.5l1.2 4.7M840.9 651.3l-1.6 4.9M854.2 651.5l-1.3 4.7M866.7 651.2l-0.8 4.9" stroke="#00f064" stroke-width="0.8" fill="none" stroke-linecap="round"/>
<path d="M495.7 599.5l1.3 4.9M470.1 602.3l-0.2 4.4M483.6 602.2l0.6 4.4M509.8 602.0l1.2 3.8M839.7 602.6l-0.2 3.9M537.7 609.9l6.6 -0.2M711.5 615.2l6.9 -0.4M713.3 614.6l7.2 -0.4M723.3 614.7l7.8 -0.4M728.2 614.7l8.4 -0.2M611.7 617.3l7.2 -0.3M613.6 617.8l7.3 -0.3M712.9 617.4l7.0 -0.4M725.6 617.3l8.6 -0.3M621.8 617.6l0.7 4.3M628.1 617.8l1.1 4.7M658.8 617.4l1.3 4.9M684.4 619.6l8.1 0.5M710.5 617.6l-1.2 3.8M743.8 617.6l-0.7 4.9M748.0 617.7l-0.4 4.5M759.7 619.9l6.2 0.0M635.0 620.9l1.2 3.8M642.6 622.0l7.3 0.2M668.1 620.6l0.6 3.7M673.2 622.2l7.0 -0.1M679.1 622.5l8.5 0.3M689.0 622.1l6.1 0.4M696.9 620.6l-0.9 4.5M753.7 620.2l0.1 3.9M755.1 622.1l7.5 0.3M686.2 625.7l-0.5 4.3M469.4 643.8l1.2 4.7M496.5 644.3l1.0 3.5M840.7 643.5l-1.3 4.1M496.0 649.2l1.2 4.6M525.6 648.7l-0.4 4.4" stroke="#00f08c" stroke-width="0.8" fill="none" stroke-linecap="round"/>
<path d="M496.4 602.1l1.4 5.1M523.0 601.9l1.1 4.1M853.8 602.1l-0.9 3.8M524.8 604.7l0.9 3.9M866.8 605.0l-1.4 4.5M470.3 607.3l-0.0 4.7M509.0 607.7l1.2 3.7M853.4 608.0l-1.0 3.8M840.6 610.0l-0.5 3.9M867.0 610.2l-1.3 4.0M525.0 612.5l0.7 3.7M840.3 611.8l-0.7 5.1M715.2 617.3l8.2 -0.6M605.9 620.2l6.5 -0.5M724.0 620.1l7.1 -0.4M728.8 620.2l6.5 -0.2M826.9 617.0l-0.0 5.4M602.7 622.9l7.4 -0.5M621.8 620.7l0.7 4.0M709.2 619.8l-1.5 5.1M713.4 622.3l6.6 -0.4M719.8 622.7l7.0 -0.5M739.2 620.5l-0.8 4.5M747.3 620.4l-0.3 3.8M628.1 625.6l1.0 3.8M637.2 626.1l1.1 3.5M694.7 625.8l-1.0 4.5M762.4 625.4l0.8 4.6M797.5 626.1l1.1 4.0M676.7 628.5l-0.1 4.1M686.7 628.0l-0.5 3.8M702.1 628.8l-1.1 3.8M772.8 627.8l1.3 4.5M783.9 627.8l1.4 4.2M786.1 628.1l1.4 4.5M675.0 630.3l-0.1 5.2M677.1 630.4l-0.2 5.2M679.9 631.0l-0.3 4.4M681.8 630.5l-0.5 5.4M684.5 630.5l-0.6 4.8M775.5 630.9l1.4 4.6M778.0 631.0l1.3 4.2M775.7 633.7l1.2 3.7M781.8 633.5l1.4 4.4M788.9 633.2l1.4 4.7M495.7 636.5l1.1 3.6M509.8 635.6l1.0 4.8M866.4 635.9l-1.1 4.0M469.5 638.9l0.9 4.1M482.4 638.4l1.3 4.2M482.3 640.8l1.6 5.0M496.1 641.4l1.2 3.9M867.4 640.4l-1.2 5.2M827.3 649.0l-0.9 3.9M795.3 659.1l0.4 4.7" stroke="#00f0b4" stroke-width="0.8" fill="none" stroke-linecap="round"/>
<path d="M470.0 604.6l-0.1 4.7M496.5 604.8l1.2 4.1M854.1 604.0l-1.2 5.1M483.5 607.2l0.7 4.2M522.9 607.2l1.2 5.1M867.1 607.2l-1.4 4.3M470.0 610.2l0.0 4.0M482.9 609.2l0.9 5.0M853.6 610.3l-1.0 3.7M470.7 612.3l0.2 4.3M866.7 612.2l-1.5 4.7M470.4 615.2l0.3 4.6M524.9 615.1l0.8 4.4M840.1 615.1l-0.7 4.2M470.2 617.4l0.4 5.1M523.1 617.2l0.9 5.2M815.1 618.0l0.6 4.5M840.2 617.6l-0.7 4.1M854.0 617.9l-1.1 3.6M867.3 617.8l-1.4 4.4M511.3 620.9l1.0 3.6M711.2 622.5l5.8 -0.3M721.7 622.4l7.0 -0.4M728.0 622.7l7.2 -0.2M827.2 620.9l-0.1 3.8M536.6 622.1l-0.2 5.3M800.1 623.1l1.2 4.6M802.4 623.2l1.1 4.4M818.0 622.9l0.3 4.3M623.5 624.7l1.2 5.2M632.9 625.9l1.3 4.2M647.8 625.5l1.2 3.8M654.7 625.3l1.1 4.3M708.3 625.4l-1.3 4.1M747.8 625.9l-0.1 4.2M756.5 625.2l0.5 4.9M758.7 625.4l0.5 3.8M795.8 626.2l1.0 3.6M804.1 625.8l0.9 4.2M657.2 627.4l1.2 5.2M661.5 628.0l0.7 3.8M663.2 628.2l0.7 4.3M683.8 628.2l-0.4 4.1M688.8 627.7l-0.7 4.3M695.2 628.4l-1.0 4.0M697.4 627.8l-1.3 5.2M749.2 627.7l0.1 5.0M758.1 627.9l0.6 4.3M764.7 627.9l1.1 4.9M767.0 628.5l1.0 4.0M791.2 628.1l1.4 4.6M663.2 630.3l0.6 4.4M668.4 631.4l0.3 3.8M686.2 631.3l-0.6 3.9M692.9 631.2l-0.8 3.6M695.6 630.6l-1.1 4.5M697.4 630.2l-1.4 5.1M704.0 631.1l-1.1 3.7M762.4 630.3l1.1 5.1M769.3 630.5l1.1 4.1M771.6 630.3l1.3 4.4M788.9 630.5l1.2 3.9M525.1 633.1l0.2 4.8M672.9 633.4l-0.0 4.1M679.8 633.3l-0.3 3.7M683.6 633.9l-0.6 3.9M686.6 633.9l-0.7 3.7M688.9 633.6l-0.7 3.5M692.5 633.6l-1.0 4.0M694.8 632.9l-1.2 4.6M704.3 633.6l-1.2 3.8M706.3 633.7l-1.4 4.3M767.2 633.7l1.0 3.7M768.6 633.2l1.3 4.7M783.9 633.2l1.3 4.1M483.0 636.3l1.2 3.9M511.2 638.4l0.9 5.0M523.2 638.1l0.1 5.0M781.6 638.7l1.5 4.7M786.7 638.3l1.4 4.6M866.7 638.3l-1.0 4.1M782.3 641.6l1.2 3.7M827.0 641.6l-0.7 3.7M782.0 643.7l1.4 4.7M784.3 643.5l1.5 5.1M786.9 644.1l1.2 4.2M793.7 644.2l0.9 4.0M798.3 656.9l0.3 3.9M786.7 659.3l0.9 4.7M782.0 669.1l0.9 5.0M784.3 669.7l0.6 4.1" stroke="#00f0c8" stroke-width="0.8" fill="none" stroke-linecap="round"/>
<path d="M483.6 604.6l0.8 4.9M509.4 604.5l1.7 5.1M840.4 605.0l-0.4 4.1M496.5 607.5l1.1 3.9M840.4 607.5l-0.4 3.6M826.3 612.4l0.2 4.2M711.2 617.5l6.4 -0.3M718.8 617.4l8.1 -0.6M723.9 617.3l6.9 -0.4M729.4 617.2l6.3 -0.1M826.3 614.7l0.1 4.9M603.0 620.5l7.7 -0.5M610.0 619.9l7.2 -0.4M611.5 620.2l7.1 -0.3M614.3 620.3l7.2 -0.2M643.7 617.5l1.6 4.8M712.9 617.4l-1.5 4.7M719.7 620.1l6.8 -0.5M726.7 620.3l6.2 -0.2M730.3 619.7l8.0 -0.1M732.7 620.3l6.9 0.1M802.0 617.8l1.3 4.8M804.5 618.0l1.0 4.1M605.1 622.4l7.6 -0.5M623.4 619.8l1.1 5.3M628.3 620.2l1.1 4.5M645.0 622.4l6.7 0.1M649.6 622.3l7.1 -0.2M656.7 620.1l1.4 5.2M699.9 620.3l-0.9 3.6M732.4 622.2l8.2 0.1M794.6 622.0l7.7 0.4M806.7 620.0l1.1 5.1M672.5 625.3l0.3 5.0M681.8 625.9l-0.2 3.7M692.5 625.0l-0.9 4.9M698.0 624.9l-1.2 5.0M704.0 624.9l-1.4 4.9M769.3 625.5l1.2 4.7M773.0 625.1l1.4 4.9M786.2 625.8l1.4 4.4M674.4 628.5l0.1 4.2M679.4 627.8l-0.2 4.4M788.7 628.3l1.2 3.7M781.9 630.2l1.5 4.8M783.8 631.1l1.3 4.1M853.8 638.5l-1.6 5.1M469.3 640.9l1.2 5.0M511.4 641.2l0.7 4.7M524.9 641.1l-0.1 4.2M854.4 640.5l-1.6 5.0M482.3 644.1l1.3 4.2M853.7 643.4l-1.5 4.6M867.1 643.1l-1.1 5.1M841.0 646.7l-1.3 4.3M827.5 651.1l-1.2 4.9M797.9 658.9l0.3 4.8M791.5 661.8l0.5 4.0M788.7 666.5l0.6 5.3" stroke="#00f0a0" stroke-width="0.8" fill="none" stroke-linecap="round"/>
<path d="M482.9 612.0l1.0 4.9M496.4 613.3l1.1 3.6M482.9 615.9l0.8 3.6M508.9 615.1l1.4 4.5M509.3 620.3l1.2 4.3M853.6 620.1l-1.5 5.0M496.0 623.5l1.2 3.8M853.5 623.2l-1.4 4.6M866.9 622.7l-1.5 4.9M710.4 625.3l-1.4 4.4M733.0 626.0l-0.9 4.2M745.5 625.5l-0.2 3.9M626.1 627.5l1.4 5.0M636.2 627.6l1.5 4.8M639.2 628.1l1.2 3.8M713.4 627.9l-1.6 5.0M755.6 627.9l0.5 4.9M495.5 631.2l1.3 4.1M628.1 630.8l1.4 4.8M658.7 631.2l0.8 3.9M764.6 630.0l1.2 5.2M470.1 633.3l0.8 4.1M496.4 633.5l1.5 4.6M509.5 633.0l1.1 4.9M661.6 633.4l0.7 4.7M663.9 633.3l0.5 4.4M666.2 633.5l0.3 4.1M675.0 633.5l-0.1 4.4M697.4 633.4l-1.3 4.7M700.2 633.4l-1.2 4.1M773.2 633.3l1.2 4.1M793.4 633.6l1.2 4.3M867.2 633.5l-1.3 4.8M469.5 635.9l0.7 3.7M708.7 635.6l-1.5 4.8M777.4 635.5l1.5 4.7M853.2 636.1l-1.1 3.4M784.2 638.5l1.3 4.2M791.2 638.5l1.0 3.7M792.7 639.1l1.0 4.1M827.6 638.0l-0.8 5.0M773.6 640.9l1.5 4.6M784.3 641.6l1.1 3.5M786.7 640.7l1.4 4.7M795.3 643.8l0.8 4.2M781.8 656.3l1.2 4.7M786.6 657.0l0.9 4.4M793.6 657.1l0.5 3.7M784.8 667.0l0.7 4.5" stroke="#00f0dc" stroke-width="0.8" fill="none" stroke-linecap="round"/>
<path d="M483.3 618.2l0.9 3.7M495.9 617.7l1.2 3.8M509.6 617.7l1.5 5.0M469.7 619.6l0.5 5.4M522.6 619.6l0.9 5.2M812.8 623.0l0.7 5.1M840.5 623.3l-0.9 4.1M483.3 625.4l1.0 3.8M613.5 625.0l0.6 4.7M617.6 625.5l0.8 4.9M625.4 624.8l1.3 5.2M639.1 625.2l1.7 5.1M644.0 626.1l1.1 3.5M714.6 625.5l-1.3 3.9M724.1 625.7l-1.2 4.1M726.4 625.7l-1.2 4.5M737.2 625.5l-0.7 4.6M808.4 625.2l0.8 4.4M840.8 625.9l-0.8 3.6M854.2 625.7l-1.3 4.2M470.0 627.4l0.8 5.2M536.8 628.3l-0.3 4.1M617.0 627.8l0.9 5.0M655.1 628.6l0.9 3.7M708.0 628.7l-1.1 3.5M745.8 627.7l-0.2 5.3M753.8 627.9l0.3 4.2M795.5 627.4l1.4 5.1M866.5 628.3l-1.0 3.5M654.9 631.2l0.9 4.0M712.8 631.0l-1.4 4.3M749.3 631.1l0.2 4.2M795.3 631.0l1.0 3.8M853.8 630.6l-1.4 4.3M625.6 632.8l1.4 4.9M659.0 633.0l0.8 4.7M667.8 633.4l0.2 3.8M677.2 633.2l-0.3 4.6M753.4 633.5l0.6 4.8M762.8 633.3l0.8 3.8M764.3 632.9l1.1 4.7M795.3 633.5l1.2 4.7M854.0 633.0l-1.6 5.0M641.3 636.1l1.1 3.5M764.2 635.4l1.3 5.1M537.2 638.2l-0.8 5.2M652.8 638.5l0.8 3.8M683.9 638.8l-0.6 3.6M693.5 638.1l-1.3 4.9M708.7 638.8l-1.4 4.4M775.5 638.7l1.2 3.6M795.2 638.1l1.0 4.5M647.6 641.0l1.1 4.3M694.8 641.0l-1.1 3.9M704.2 641.1l-1.5 4.7M708.0 641.2l-1.2 3.6M767.2 641.6l1.2 4.0M774.9 640.9l1.6 4.8M777.5 641.6l1.2 3.6M788.7 640.7l1.3 4.7M706.3 643.6l-1.3 3.9M777.8 643.6l1.5 4.8M786.8 646.9l1.0 3.6M775.6 649.1l1.1 3.6M791.0 648.1l1.1 5.3M784.4 654.3l1.1 4.6M652.3 657.0l0.4 4.3M791.4 657.0l0.6 3.7M782.3 667.9l0.7 3.6" stroke="#00dcdc" stroke-width="0.8" fill="none" stroke-linecap="round"/>
<path d="M495.9 620.5l1.3 4.0M866.6 619.9l-1.6 5.0M482.6 622.5l1.3 5.0M509.3 623.5l1.0 3.6M524.6 623.1l0.5 4.5M820.4 622.8l0.2 4.6M524.6 625.4l0.5 4.6M606.5 625.7l0.1 3.7M609.1 625.4l0.3 5.2M614.7 625.2l0.7 5.2M652.5 625.9l1.1 4.0M717.7 625.9l-1.2 3.8M719.4 625.5l-1.4 4.6M730.3 625.4l-0.9 3.7M734.9 625.5l-0.8 4.3M815.2 625.7l0.3 3.9M819.9 625.5l0.1 4.5M827.2 625.8l-0.3 4.0M482.7 627.6l1.3 4.5M611.3 627.7l0.5 4.8M615.5 628.0l0.7 4.3M621.9 628.1l1.0 4.1M628.3 628.9l1.0 3.6M634.4 628.1l1.3 4.0M641.0 627.8l1.4 4.3M658.6 627.6l1.1 5.3M723.5 628.4l-1.3 4.4M726.3 627.7l-1.3 4.9M730.2 627.7l-1.1 4.9M735.0 628.0l-0.8 4.5M736.8 628.1l-0.8 5.1M739.2 628.4l-0.5 4.3M743.2 628.4l-0.3 3.9M469.6 631.0l0.8 4.5M612.7 630.6l0.6 4.1M615.4 631.2l0.7 3.7M619.5 631.3l0.9 3.8M626.0 630.4l1.4 4.9M631.9 631.1l1.4 4.3M634.6 630.3l1.5 4.8M641.2 630.4l1.6 5.1M715.0 631.3l-1.2 3.8M717.2 631.4l-1.2 3.8M720.0 630.2l-1.5 4.9M737.1 631.0l-0.5 3.8M738.8 630.8l-0.5 4.3M753.5 631.4l0.4 3.8M755.6 630.4l0.7 5.2M826.6 630.5l-0.5 5.2M867.2 631.0l-1.0 3.7M616.8 633.8l0.9 4.0M619.0 633.5l0.8 3.6M621.1 633.6l1.0 3.9M627.9 634.0l1.1 3.6M635.2 633.9l1.2 3.7M645.4 632.9l1.4 4.6M648.3 633.1l1.3 4.8M654.7 633.1l0.9 4.2M710.5 632.9l-1.6 5.0M717.4 633.8l-1.3 4.2M728.3 633.6l-0.9 4.3M739.2 633.6l-0.3 4.5M743.3 632.8l-0.1 5.2M747.0 633.2l0.1 3.9M797.7 633.7l0.8 3.5M625.9 635.9l1.2 4.1M648.4 636.0l0.9 3.5M667.8 635.4l0.2 5.0M706.1 635.7l-1.3 4.1M755.8 635.5l0.8 4.7M632.1 638.7l1.4 4.4M641.1 639.1l1.2 3.9M645.9 638.4l1.1 4.1M656.5 638.5l0.8 4.7M664.2 638.4l0.3 4.1M667.9 638.5l0.1 4.0M688.5 638.9l-0.8 3.6M695.1 638.3l-1.5 5.1M697.2 639.0l-1.1 3.5M714.7 638.4l-1.3 4.3M717.1 638.6l-1.4 4.7M719.5 638.2l-1.3 4.8M732.8 638.1l-0.6 5.0M753.5 639.0l0.6 3.6M755.8 638.4l0.9 4.8M764.0 638.3l1.2 4.6M766.8 639.1l1.2 4.0M769.1 638.6l1.1 3.8M632.6 641.1l1.4 4.4M641.1 641.6l1.1 3.6M656.7 641.7l0.6 3.9M663.3 640.6l0.3 5.2M673.3 640.5l-0.3 5.0M706.4 641.0l-1.5 4.7M713.1 641.7l-1.1 3.8M719.4 641.2l-1.2 4.5M723.5 641.6l-0.9 4.1M725.5 640.5l-1.0 4.8M762.8 641.7l1.1 3.9M764.5 641.1l1.4 4.8M768.6 640.9l1.3 4.2M770.8 641.3l1.4 4.3M641.1 643.3l1.3 4.5M648.5 644.4l0.8 3.7M652.6 643.1l0.9 4.8M655.2 643.7l0.6 4.0M661.8 644.0l0.2 3.8M663.6 643.1l0.2 5.3M665.8 644.1l0.0 3.9M672.9 643.3l-0.4 4.7M703.6 644.1l-1.1 3.4M710.6 643.7l-1.5 4.9M713.1 643.6l-1.3 4.5M715.3 643.7l-1.2 4.3M726.3 643.3l-0.8 4.6M728.4 642.9l-0.8 5.3M764.6 643.6l1.2 4.2M766.8 643.7l1.4 4.5M773.1 643.5l1.4 4.4M637.2 646.2l1.2 4.1M639.0 646.2l1.5 5.2M648.2 646.3l0.9 4.4M706.4 646.5l-1.5 4.7M715.1 646.7l-1.0 3.9M768.9 646.1l1.5 4.8M789.2 647.1l0.9 3.6M793.0 646.0l0.9 4.4M797.5 646.1l0.8 5.2M641.7 649.0l1.1 4.1M647.7 649.0l0.9 4.5M658.9 649.2l0.2 3.9M717.2 649.0l-1.0 4.4M778.0 648.7l1.5 4.8M784.3 648.4l1.3 4.6M643.8 654.3l0.7 3.5M648.0 654.0l0.8 5.3M655.1 654.2l0.3 4.7M789.0 653.8l0.8 4.1M793.2 653.7l0.7 4.5M797.7 653.6l0.5 5.0M644.1 656.2l0.9 4.7M648.0 657.0l0.6 4.4M656.9 656.7l0.1 4.2M659.8 655.9l-0.0 5.3M661.6 656.9l-0.1 4.2M715.3 657.2l-0.8 3.9M771.3 657.3l1.2 3.9M773.1 656.6l1.2 3.8M775.6 657.0l1.1 3.6M639.2 659.4l0.8 3.6M643.9 658.9l0.9 5.1M646.3 659.4l0.6 3.8M648.7 659.4l0.5 4.4M655.0 659.2l0.1 3.9M659.7 659.1l-0.1 4.6M663.7 659.2l-0.4 4.5M666.5 659.8l-0.4 3.7M706.1 659.0l-1.2 4.3M719.3 659.5l-0.6 4.3M768.3 659.3l1.4 4.5M781.8 659.5l0.9 3.9M641.5 661.9l0.8 4.3M659.6 661.7l-0.2 5.3M706.6 662.7l-0.9 3.5M710.3 662.1l-1.0 4.3M715.1 662.0l-0.8 4.3M717.5 662.4l-0.6 4.2M725.8 661.2l-0.2 5.1M773.6 662.5l1.2 3.9M775.9 662.2l1.1 3.9M782.0 661.5l1.1 4.8M628.1 666.9l1.1 4.0M641.4 666.8l0.6 4.2M644.1 666.8l0.6 5.3M652.5 666.5l0.1 5.4M655.6 667.0l-0.1 4.4M657.5 666.3l-0.3 5.3M662.4 667.4l-0.4 3.6M665.9 667.1l-0.6 3.6M706.2 667.3l-1.0 4.2M725.8 667.7l0.0 3.6M769.2 667.6l1.1 3.8M778.0 667.1l1.2 5.1M608.3 669.7l1.5 4.9M637.2 669.0l1.0 5.3M639.6 670.2l0.6 4.0M643.6 669.8l0.4 4.1M645.8 669.4l0.3 4.2M664.7 670.0l-0.7 4.2M675.0 669.7l-1.0 3.9M688.2 669.9l-1.2 3.6M693.5 670.1l-1.2 3.7M697.2 669.4l-1.3 4.3M704.0 669.6l-1.1 4.2M714.5 669.8l-0.6 4.2M727.4 669.8l0.2 3.8M729.6 669.6l0.4 5.1M738.0 669.5l0.8 4.3M753.1 669.2l1.5 4.7M755.9 669.2l1.6 5.1M771.6 670.4l1.1 3.8M772.9 670.1l1.2 4.3M775.5 670.4l0.9 3.6M619.0 672.8l1.2 3.7M621.8 672.6l1.1 3.5M624.0 672.3l1.1 3.7M625.8 672.8l1.1 3.9M627.8 671.7l1.4 5.2M634.6 672.3l0.9 4.8M639.4 672.6l0.5 3.8M648.0 671.9l0.1 4.9M653.2 672.6l-0.2 3.8M657.6 672.3l-0.5 5.0M664.0 672.2l-0.9 5.3M688.8 672.5l-1.2 3.7M699.7 672.0l-1.2 4.5M706.6 672.6l-0.9 4.2M708.3 671.6l-1.0 5.2M710.2 672.7l-0.7 4.3M712.6 672.0l-0.6 4.6M722.9 672.1l0.0 4.5M735.6 672.2l0.9 5.2M737.8 672.5l0.9 4.6M742.6 672.1l1.1 4.3M746.5 672.3l1.3 4.4M753.6 672.2l1.4 4.4" stroke="#00dcf0" stroke-width="0.8" fill="none" stroke-linecap="round"/>
<path d="M469.9 625.8l0.5 3.7M509.3 626.1l1.0 3.5M866.7 625.5l-1.5 4.9M524.8 628.7l0.3 3.7M606.2 627.7l0.2 4.8M840.6 628.1l-1.1 4.4M854.0 627.7l-1.5 4.8M609.2 631.1l0.4 4.0M617.1 630.8l1.0 4.9M623.2 630.4l1.3 4.9M645.4 630.6l1.6 5.1M647.4 630.5l1.5 5.1M652.4 630.5l1.2 4.5M732.6 631.3l-0.7 3.7M743.3 630.9l-0.2 4.0M613.2 633.5l0.6 3.7M715.6 633.4l-1.5 4.7M723.7 633.4l-1.2 4.5M726.1 632.9l-1.1 4.7M732.2 633.2l-0.9 5.1M745.7 633.5l0.0 4.0M749.3 633.2l0.3 4.7M623.5 635.3l1.4 4.9M742.7 635.9l-0.0 3.8M745.4 635.2l0.1 5.2M621.5 638.5l1.2 4.3M638.6 638.1l1.5 4.8M643.4 638.9l1.2 4.0M679.7 638.5l-0.5 4.1M686.7 639.1l-0.8 3.8M734.1 638.2l-0.5 4.8M643.5 641.2l1.4 5.0M652.7 640.9l1.0 5.0M668.1 640.8l-0.0 5.3M675.5 640.8l-0.4 4.4M686.5 641.0l-0.9 4.0M700.0 641.4l-1.2 3.9M736.3 641.7l-0.2 4.0M628.5 644.3l1.2 3.6M632.1 643.7l1.4 4.2M646.0 644.2l1.0 4.1M657.2 643.9l0.5 3.8M659.5 643.1l0.5 5.1M682.2 643.6l-1.0 4.9M684.1 644.2l-0.9 3.9M702.3 644.2l-1.3 4.1M635.0 646.3l1.2 3.7M646.2 646.7l0.8 3.6M652.4 646.4l0.8 4.7M677.1 646.3l-0.6 3.9M704.0 646.4l-1.4 4.4M708.7 646.1l-1.2 3.9M710.2 646.7l-1.1 3.6M719.5 646.4l-0.9 3.8M732.5 645.7l-0.4 5.2M736.9 645.6l-0.1 5.2M766.7 646.1l1.3 4.3M771.6 646.8l1.2 3.6M795.4 645.9l0.9 5.1M643.3 648.6l1.1 4.7M654.8 649.2l0.4 3.9M663.9 649.2l-0.0 4.2M699.6 648.7l-1.4 4.4M704.4 649.2l-1.2 3.6M708.7 648.4l-1.5 4.9M712.7 649.6l-1.0 3.7M714.9 649.5l-1.0 3.9M719.2 648.2l-1.1 5.2M729.7 649.0l-0.4 4.1M766.2 649.0l1.2 3.8M769.3 649.0l1.2 3.6M771.4 648.7l1.4 4.4M772.9 649.2l1.1 3.5M793.2 648.8l0.8 4.0M795.6 649.1l0.7 4.3M797.3 648.6l0.7 4.9M645.8 654.7l0.7 3.9M652.2 653.7l0.5 4.8M706.5 654.2l-1.1 3.6M715.0 653.7l-1.1 4.8M717.4 653.8l-0.9 4.5M719.7 653.7l-0.9 5.0M725.4 653.6l-0.5 4.6M727.5 653.9l-0.4 4.6M764.9 654.0l1.4 4.2M768.6 654.7l1.2 3.6M773.3 654.7l1.2 3.7M775.9 654.5l1.2 4.0M634.7 656.7l1.1 4.0M663.7 656.6l-0.3 4.3M712.6 656.7l-1.0 4.2M723.6 656.5l-0.5 4.2M726.0 656.8l-0.3 4.3M769.0 656.8l1.6 5.0M626.0 658.9l1.5 4.6M632.8 659.5l1.1 3.9M641.5 659.7l0.7 3.6M652.5 659.5l0.3 4.6M674.8 659.7l-0.9 4.1M712.9 659.5l-1.0 4.5M714.6 658.9l-0.9 4.6M717.0 658.7l-0.9 4.9M725.7 659.8l-0.2 3.9M729.6 659.2l-0.0 5.1M736.6 658.8l0.5 5.1M758.1 659.5l1.2 3.9M773.3 659.2l1.3 4.3M775.5 659.2l1.2 4.0M627.7 662.2l1.3 4.3M636.7 661.3l1.2 5.1M639.3 662.0l1.0 4.7M648.7 661.7l0.5 5.0M654.9 662.2l0.1 4.2M657.8 661.5l-0.1 5.1M668.6 661.8l-0.7 4.5M700.2 661.8l-1.5 4.9M712.7 661.3l-1.0 5.0M719.1 661.9l-0.5 3.7M723.6 662.1l-0.3 3.8M727.4 662.3l-0.1 4.1M737.9 661.8l0.6 4.4M766.5 662.5l1.2 3.7M768.5 661.6l1.4 4.5M608.5 667.5l1.1 3.5M612.4 666.5l1.6 4.9M617.0 666.8l1.6 4.9M632.7 667.0l1.0 3.9M638.8 667.0l0.9 5.3M668.9 667.4l-0.9 4.5M695.5 667.4l-1.4 4.4M703.7 666.6l-1.3 4.7M723.0 667.1l-0.2 4.9M738.2 666.9l0.7 4.1M751.7 667.0l1.2 3.9M753.9 667.2l1.1 3.7M773.8 667.3l1.1 4.2M775.2 667.1l1.1 4.3M621.6 670.3l1.1 3.7M626.2 669.8l1.3 4.7M655.5 669.1l-0.2 5.0M657.7 669.4l-0.4 5.1M668.4 670.1l-0.8 4.0M680.1 670.2l-1.1 3.6M686.9 669.7l-1.5 4.8M708.2 669.4l-1.1 5.3M712.8 669.3l-0.8 5.2M758.1 669.2l1.5 4.8M777.3 669.2l1.2 5.1M616.8 672.4l1.4 4.3M641.8 672.2l0.6 5.2M666.7 672.4l-0.9 4.4M672.9 672.1l-1.3 5.1M677.6 672.3l-1.3 4.3M693.0 672.5l-1.2 3.9M703.9 672.8l-0.9 3.7M717.3 672.1l-0.3 4.5M761.9 672.9l1.3 3.9M764.1 672.3l1.3 4.0M773.3 672.8l1.1 4.2M777.7 672.0l1.0 4.6" stroke="#00dcff" stroke-width="0.8" fill="none" stroke-linecap="round"/>
<path d="M606.6 631.0l0.3 4.2M734.1 633.6l-0.6 4.0M613.0 635.8l0.7 3.8M617.1 635.8l1.0 4.3M613.2 638.6l0.8 4.1M615.3 638.6l1.0 4.5M618.8 638.0l1.2 4.8M625.9 638.7l1.4 4.4M723.5 638.4l-1.1 4.8M742.9 638.8l0.1 4.3M751.4 638.9l0.5 3.6M612.4 641.2l1.0 4.6M623.9 640.5l1.6 5.1M636.6 641.1l1.4 4.3M639.2 640.8l1.5 4.9M677.8 641.3l-0.6 4.6M682.2 641.0l-0.7 4.0M744.9 641.5l0.2 3.6M755.8 641.5l0.7 3.6M625.8 643.5l1.3 4.2M634.6 644.4l1.1 3.4M688.5 643.7l-1.2 4.6M734.4 643.0l-0.3 5.3M745.3 643.8l0.4 4.6M641.1 646.2l1.1 3.9M643.1 646.5l1.0 4.0M672.9 646.4l-0.4 3.8M675.2 646.7l-0.6 4.5M687.0 645.7l-1.3 5.1M688.4 646.4l-1.2 4.5M690.6 646.5l-1.3 4.5M695.0 646.1l-1.3 4.4M697.5 646.3l-1.3 4.0M722.1 646.3l-1.0 4.8M727.7 645.5l-0.7 5.3M762.3 646.4l1.1 3.8M764.4 646.5l1.1 3.6M626.2 648.7l1.5 4.7M628.1 649.3l1.4 4.3M632.1 649.4l1.2 3.7M661.6 649.0l0.1 4.6M666.1 649.4l-0.1 4.0M672.5 649.1l-0.5 4.5M675.0 649.2l-0.6 4.0M693.3 648.4l-1.6 5.0M697.9 649.6l-1.1 3.5M723.9 649.0l-0.7 4.1M726.0 648.7l-0.6 4.6M736.8 648.9l0.1 4.5M755.9 648.8l1.3 5.0M758.0 649.7l1.0 3.7M632.6 654.7l1.1 3.6M641.2 653.4l1.2 5.2M660.0 654.3l0.0 4.6M663.8 654.1l-0.2 5.1M675.5 654.5l-0.8 4.4M723.3 653.9l-0.7 5.4M729.7 654.5l-0.2 3.8M734.0 654.0l0.1 5.2M742.8 653.9l0.7 5.3M766.9 653.7l1.6 4.9M636.8 657.0l1.2 4.6M645.6 656.4l0.9 5.1M673.0 656.5l-0.8 4.7M674.8 657.2l-0.8 4.1M693.6 656.5l-1.5 4.7M704.6 656.4l-1.4 4.7M708.1 657.1l-1.1 4.0M734.1 656.5l0.2 5.0M744.8 657.0l0.7 4.1M757.6 656.4l1.4 4.6M673.2 658.8l-1.0 5.1M679.5 659.6l-1.1 4.4M704.6 659.1l-1.4 4.7M708.4 659.3l-1.1 4.0M710.3 660.0l-0.9 3.6M731.7 659.2l0.1 4.2M738.1 658.7l0.6 5.2M743.0 659.4l0.7 3.8M744.9 658.7l1.0 5.1M762.2 659.5l1.6 4.8M766.2 659.8l1.4 4.2M608.6 662.3l1.0 3.6M616.6 662.2l1.3 4.2M634.7 661.5l1.3 5.1M643.9 661.5l0.8 4.9M645.6 662.5l0.5 4.1M663.8 662.3l-0.4 3.7M666.6 662.3l-0.5 3.6M677.6 661.7l-1.2 4.6M684.8 661.9l-1.3 4.3M688.9 662.2l-1.1 3.4M693.2 661.6l-1.5 4.7M697.3 661.4l-1.5 4.6M708.7 661.4l-1.2 4.7M729.6 662.0l0.1 4.0M734.2 662.2l0.3 4.0M746.8 661.3l1.2 5.1M664.7 666.8l-0.6 4.4M682.5 666.9l-1.3 4.3M697.8 666.9l-1.3 4.1M699.6 667.1l-1.3 4.4M733.6 667.1l0.5 4.6M736.5 667.6l0.6 4.1M755.6 667.3l1.3 4.0M762.5 666.9l1.5 4.6M623.2 669.7l1.2 4.0M635.1 669.6l1.0 5.1M677.3 669.8l-1.0 3.6M695.0 670.3l-1.1 3.5M731.7 670.0l0.5 4.3M734.1 669.3l0.7 5.3M744.4 670.2l1.0 4.0M747.3 669.6l1.1 4.0M751.1 670.5l1.1 3.6M766.5 669.3l1.5 4.9M612.8 672.3l1.2 3.8M684.3 672.7l-1.2 3.8M751.2 672.5l1.5 4.7" stroke="#00c8ff" stroke-width="0.8" fill="none" stroke-linecap="round"/>
<path d="M608.5 635.1l0.7 5.2M746.9 638.5l0.3 4.6M608.7 641.0l0.8 4.8M616.6 641.1l1.3 5.1M621.3 641.1l1.1 3.7M749.6 641.1l0.5 3.8M751.3 640.4l0.7 5.0M608.2 643.4l0.8 4.6M615.3 643.6l1.2 4.8M732.6 643.3l-0.4 4.6M746.9 643.8l0.5 4.2M749.4 643.4l0.6 4.4M752.0 643.7l0.7 4.1M611.0 646.5l0.8 3.6M614.6 646.6l1.1 4.2M617.6 647.0l1.0 3.5M626.0 646.6l1.5 4.7M734.5 646.3l-0.2 5.1M749.4 646.5l0.6 4.0M753.9 646.1l1.0 4.7M621.3 649.0l1.4 4.4M668.7 648.4l-0.3 4.6M677.0 648.9l-0.9 5.1M688.8 648.6l-1.2 4.3M734.8 648.7l-0.1 5.3M619.1 654.2l1.2 3.7M626.2 654.4l1.3 4.0M636.9 653.5l1.4 5.0M666.5 654.2l-0.4 4.6M679.3 654.0l-0.9 4.0M686.0 654.6l-1.0 3.6M692.9 654.8l-1.2 3.6M699.2 654.8l-1.2 3.7M749.2 654.8l0.8 3.6M755.7 654.4l1.0 3.6M758.2 653.6l1.4 4.9M619.0 657.3l1.3 3.9M621.5 657.4l1.1 3.5M632.8 657.1l1.0 3.5M666.0 657.2l-0.4 4.2M679.8 656.8l-1.0 4.2M687.0 656.6l-1.3 4.5M688.5 656.8l-1.1 3.7M695.3 657.1l-1.2 3.7M700.2 656.8l-1.5 4.7M729.5 656.6l-0.1 4.3M746.8 656.4l0.9 4.4M755.8 656.9l1.0 3.5M608.4 659.4l1.0 3.5M668.5 658.6l-0.7 5.2M682.2 658.9l-1.2 4.5M688.6 659.8l-1.2 3.7M751.6 659.5l1.1 4.3M753.4 659.1l1.3 4.6M675.3 662.0l-1.0 4.5M731.7 661.8l0.2 4.9M736.1 662.1l0.5 4.3M745.0 662.0l0.8 3.6M748.9 661.5l1.2 4.8M753.8 662.0l1.0 3.5M762.1 662.1l1.2 3.7M617.1 669.4l1.4 4.4" stroke="#00b4ff" stroke-width="0.8" fill="none" stroke-linecap="round"/>
<path d="M747.7 641.2l0.4 3.9M606.8 643.5l0.7 4.2M611.1 644.0l0.9 4.2M617.6 643.7l1.2 4.2M623.9 644.4l1.1 3.5M743.2 644.2l0.2 3.8M738.5 646.5l0.1 4.7M742.9 645.8l0.4 5.3M751.8 646.2l0.9 4.8M612.9 649.0l1.2 4.6M614.4 648.7l1.4 5.2M679.2 648.9l-0.7 3.8M743.0 648.8l0.4 4.2M745.5 648.2l0.6 5.0M749.5 649.0l0.8 4.4M751.9 649.0l0.9 4.4M623.1 653.7l1.6 5.0M682.3 654.3l-1.0 4.0M689.1 654.7l-1.1 3.7M695.0 653.7l-1.6 5.1M738.3 654.3l0.4 4.6M753.1 654.5l1.1 4.2M606.7 657.2l0.9 3.6M612.5 656.8l1.1 3.9M623.6 656.5l1.4 4.2M616.4 658.6l1.6 5.0M684.0 659.4l-1.3 4.5M746.6 659.2l1.1 5.1" stroke="#00a0ff" stroke-width="0.8" fill="none" stroke-linecap="round"/>
<path d="M618.9 646.6l1.1 3.6M747.2 646.4l0.5 3.7M747.2 649.3l0.7 4.2M605.8 653.6l1.1 5.1M608.5 654.5l1.1 4.3M612.4 653.6l1.4 5.0M620.9 654.0l1.6 5.0M678.0 654.2l-1.0 4.5M751.6 654.3l0.8 3.6M684.1 657.0l-1.2 4.2" stroke="#008cff" stroke-width="0.8" fill="none" stroke-linecap="round"/>
<rect x="538" y="611.5" width="67" height="65.5" fill="#ffffff" stroke="#e0b0b8" stroke-width="0.6"/>
<rect x="543" y="627" width="20" height="50" fill="none" stroke="#e0b0b8" stroke-width="0.6"/>
<rect x="550" y="637" width="13" height="40" fill="none" stroke="#e0b0b8" stroke-width="0.6"/>
<rect x="574" y="628" width="8" height="7" fill="#ffffff" stroke="#e8d070" stroke-width="0.6"/>
<rect x="572" y="639" width="13" height="26" fill="none" stroke="#e8e070" stroke-width="0.6"/>
<line x1="540" y1="651" x2="860" y2="651" stroke="#e0c890" stroke-width="0.8"/>
<line x1="541" y1="652" x2="541" y2="677" stroke="#f0e070" stroke-width="0.6"/>
<line x1="545" y1="652" x2="545" y2="677" stroke="#f0e070" stroke-width="0.6"/>
<line x1="548" y1="652" x2="548" y2="677" stroke="#f0e070" stroke-width="0.6"/>
<line x1="575" y1="652" x2="575" y2="677" stroke="#f0e070" stroke-width="0.6"/>
<line x1="578" y1="652" x2="578" y2="677" stroke="#f0e070" stroke-width="0.6"/>
<line x1="581" y1="652" x2="581" y2="677" stroke="#f0e070" stroke-width="0.6"/>
<line x1="584" y1="652" x2="584" y2="677" stroke="#f0e070" stroke-width="0.6"/>
<line x1="626" y1="652" x2="626" y2="677" stroke="#f0e070" stroke-width="0.6"/>
<line x1="630" y1="652" x2="630" y2="677" stroke="#f0e070" stroke-width="0.6"/>
<line x1="640" y1="652" x2="640" y2="677" stroke="#f0e070" stroke-width="0.6"/>
<line x1="650" y1="652" x2="650" y2="677" stroke="#f0e070" stroke-width="0.6"/>
<line x1="668" y1="652" x2="668" y2="677" stroke="#f0e070" stroke-width="0.6"/>
<line x1="672" y1="652" x2="672" y2="677" stroke="#f0e070" stroke-width="0.6"/>
<line x1="690" y1="652" x2="690" y2="677" stroke="#f0e070" stroke-width="0.6"/>
<line x1="694" y1="652" x2="694" y2="677" stroke="#f0e070" stroke-width="0.6"/>
<line x1="712" y1="652" x2="712" y2="677" stroke="#f0e070" stroke-width="0.6"/>
<line x1="716" y1="652" x2="716" y2="677" stroke="#f0e070" stroke-width="0.6"/>
<line x1="735" y1="652" x2="735" y2="677" stroke="#f0e070" stroke-width="0.6"/>
<line x1="740" y1="652" x2="740" y2="677" stroke="#f0e070" stroke-width="0.6"/>
<rect x="622" y="638" width="14" height="12" fill="#ffffff" stroke="#e8e070" stroke-width="0.6"/>
<rect x="659" y="638" width="19" height="12" fill="#ffffff" stroke="#e8e070" stroke-width="0.6"/>
<rect x="694" y="638" width="12" height="12" fill="#ffffff" stroke="#e8e070" stroke-width="0.6"/>
<rect x="726" y="638" width="12" height="12" fill="#ffffff" stroke="#e8e070" stroke-width="0.6"/>
<rect x="756" y="638" width="14" height="12" fill="#ffffff" stroke="#e8e070" stroke-width="0.6"/>
<rect x="785" y="638" width="13" height="12" fill="#ffffff" stroke="#e8e070" stroke-width="0.6"/>
<rect x="803" y="628" width="19" height="49" fill="#ffffff" stroke="#e8c8d0" stroke-width="0.6"/>
<line x1="459.6" y1="582" x2="459.6" y2="677.5" stroke="#9090b8" stroke-width="1"/>
<line x1="459.6" y1="677.4" x2="875" y2="677.4" stroke="#8080a0" stroke-width="1"/>
<line x1="874.6" y1="582" x2="874.6" y2="677.4" stroke="#b8b8d0" stroke-width="0.8"/>
<line x1="449" y1="641" x2="459.5" y2="641" stroke="#50b850" stroke-width="0.8"/>
<line x1="449" y1="646.3" x2="459.5" y2="646.3" stroke="#50b850" stroke-width="0.8"/>
<line x1="449" y1="651.5" x2="459.5" y2="651.5" stroke="#50b850" stroke-width="0.8"/>
<line x1="449" y1="656.7" x2="459.5" y2="656.7" stroke="#50b850" stroke-width="0.8"/>
<line x1="449" y1="662.2" x2="459.5" y2="662.2" stroke="#50b850" stroke-width="0.8"/>
<line x1="449" y1="667.4" x2="459.5" y2="667.4" stroke="#50b850" stroke-width="0.8"/>
<rect x="876.4" y="581.2" width="15.300000000000068" height="98.29999999999995" fill="url(#lg)"/>
<line x1="891.7" y1="581.20" x2="897.5" y2="581.20" stroke="#606060" stroke-width="0.9"/>
<text x="899.7" y="583.40" font-size="5.8" font-weight="bold" fill="#1a1a1a" stroke="#1a1a1a" stroke-width="0.2" textLength="23.3" lengthAdjust="spacingAndGlyphs">0.500000</text>
<line x1="876.4" y1="593.49" x2="891.7" y2="593.49" stroke="#000" stroke-opacity="0.55" stroke-width="0.9"/>
<line x1="891.7" y1="593.49" x2="897.5" y2="593.49" stroke="#606060" stroke-width="0.9"/>
<text x="899.7" y="595.69" font-size="5.8" font-weight="bold" fill="#1a1a1a" stroke="#1a1a1a" stroke-width="0.2" textLength="23.3" lengthAdjust="spacingAndGlyphs">0.437500</text>
<line x1="876.4" y1="605.78" x2="891.7" y2="605.78" stroke="#000" stroke-opacity="0.55" stroke-width="0.9"/>
<line x1="891.7" y1="605.78" x2="897.5" y2="605.78" stroke="#606060" stroke-width="0.9"/>
<text x="899.7" y="607.98" font-size="5.8" font-weight="bold" fill="#1a1a1a" stroke="#1a1a1a" stroke-width="0.2" textLength="23.3" lengthAdjust="spacingAndGlyphs">0.375000</text>
<line x1="876.4" y1="618.06" x2="891.7" y2="618.06" stroke="#000" stroke-opacity="0.55" stroke-width="0.9"/>
<line x1="891.7" y1="618.06" x2="897.5" y2="618.06" stroke="#606060" stroke-width="0.9"/>
<text x="899.7" y="620.26" font-size="5.8" font-weight="bold" fill="#1a1a1a" stroke="#1a1a1a" stroke-width="0.2" textLength="23.3" lengthAdjust="spacingAndGlyphs">0.312500</text>
<line x1="876.4" y1="630.35" x2="891.7" y2="630.35" stroke="#000" stroke-opacity="0.55" stroke-width="0.9"/>
<line x1="891.7" y1="630.35" x2="897.5" y2="630.35" stroke="#606060" stroke-width="0.9"/>
<text x="899.7" y="632.55" font-size="5.8" font-weight="bold" fill="#1a1a1a" stroke="#1a1a1a" stroke-width="0.2" textLength="23.3" lengthAdjust="spacingAndGlyphs">0.250000</text>
<line x1="876.4" y1="642.64" x2="891.7" y2="642.64" stroke="#000" stroke-opacity="0.55" stroke-width="0.9"/>
<line x1="891.7" y1="642.64" x2="897.5" y2="642.64" stroke="#606060" stroke-width="0.9"/>
<text x="899.7" y="644.84" font-size="5.8" font-weight="bold" fill="#1a1a1a" stroke="#1a1a1a" stroke-width="0.2" textLength="23.3" lengthAdjust="spacingAndGlyphs">0.187500</text>
<line x1="876.4" y1="654.92" x2="891.7" y2="654.92" stroke="#000" stroke-opacity="0.55" stroke-width="0.9"/>
<line x1="891.7" y1="654.92" x2="897.5" y2="654.92" stroke="#606060" stroke-width="0.9"/>
<text x="899.7" y="657.12" font-size="5.8" font-weight="bold" fill="#1a1a1a" stroke="#1a1a1a" stroke-width="0.2" textLength="23.3" lengthAdjust="spacingAndGlyphs">0.125000</text>
<line x1="876.4" y1="667.21" x2="891.7" y2="667.21" stroke="#000" stroke-opacity="0.55" stroke-width="0.9"/>
<line x1="891.7" y1="667.21" x2="897.5" y2="667.21" stroke="#606060" stroke-width="0.9"/>
<text x="899.7" y="669.41" font-size="5.8" font-weight="bold" fill="#1a1a1a" stroke="#1a1a1a" stroke-width="0.2" textLength="26" lengthAdjust="spacingAndGlyphs">0.0625000</text>
<line x1="891.7" y1="679.50" x2="897.5" y2="679.50" stroke="#606060" stroke-width="0.9"/>
<text x="899.7" y="681.70" font-size="5.8" font-weight="bold" fill="#1a1a1a" stroke="#1a1a1a" stroke-width="0.2" textLength="23.3" lengthAdjust="spacingAndGlyphs">0.000000</text>
<text x="876.4" y="572.6" font-size="5.51" font-weight="bold" fill="#222" textLength="19" lengthAdjust="spacingAndGlyphs">Velocity</text>
<text x="880" y="576.9" font-size="5.51" font-weight="bold" fill="#222" textLength="8" lengthAdjust="spacingAndGlyphs">m/s</text>
</svg>
<div class="t" id="title">CFD</div>
<div class="t p" style="left:101px;top:50px">Using CFD makes airflow arrangement more reasonable, lowers energy consumption in clean room,</div>
<div class="t p" style="left:101px;top:89.7px">and makes the design more reliable.</div>
<div class="t" style="left:124px;top:319.4px">Geometric modeling</div>
<div class="t" style="left:124px;top:349.8px">and meshing</div>
<div class="t" style="left:419px;top:331.8px">Z = 1.0 Temperature field</div>
<div class="t" style="left:728px;top:331.7px">Z = 1.0 Humidity field</div>
<div class="t" style="left:572px;top:523.7px">X=6.4 Airflow arrangement</div>
<div class="t" style="left:121px;top:617.5px">Z = 1.0 Air age</div>
<div class="t" style="left:574px;top:695.1px">X=2.6 Airflow arrangement</div>
</body></html>
